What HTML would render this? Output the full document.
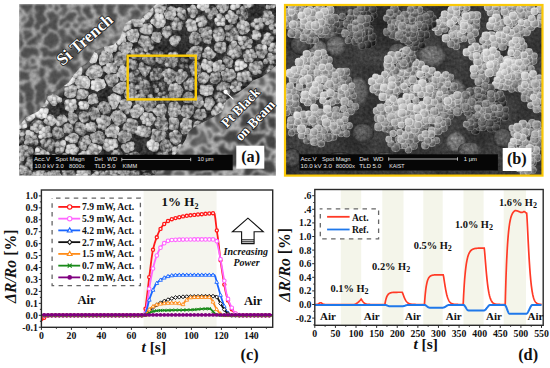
<!DOCTYPE html>
<html><head><meta charset="utf-8"><style>
html,body{margin:0;padding:0;background:#fff;}
body{width:550px;height:368px;overflow:hidden;}
svg{display:block;}
text{font-family:"Liberation Serif",serif;font-weight:bold;fill:#111;}
.tk{font-size:9.8px;}
.lg{font-size:9.6px;}
.big{font-size:13px;}
.hl{font-size:10.4px;}
.sub{font-size:8px;}
.air{font-size:12.6px;}
.aird{font-size:11px;}
.inc{font-size:10px;font-style:italic;font-weight:bold;}
.axl{font-size:15.5px;}
.pl{font-size:16.3px;}
.lab{font-size:16.3px;fill:#111;}
.semlab text{font-size:15px;fill:#fff;stroke:#1a1a1a;stroke-width:1.6px;paint-order:stroke;stroke-linejoin:round;}
.sem text{font-family:"Liberation Sans",sans-serif;font-weight:normal;font-size:5.9px;fill:#e8e8e8;}
</style></head><body>
<svg width="550" height="368" viewBox="0 0 550 368" xmlns="http://www.w3.org/2000/svg">
<defs><filter id="webB" x="0" y="0" width="100%" height="100%" color-interpolation-filters="sRGB">
<feTurbulence type="fractalNoise" baseFrequency="0.075" numOctaves="2" seed="12"/>
<feColorMatrix type="matrix" values="1 0 0 0 0  1 0 0 0 0  1 0 0 0 0  0 0 0 0 1"/>
<feComponentTransfer><feFuncR type="table" tableValues="0.300 0.300 0.300 0.300 0.300 0.300 0.300 0.300 0.300 0.300 0.300 0.300 0.300 0.300 0.300 0.318 0.374 0.466 0.596 0.762 0.800 0.762 0.596 0.466 0.374 0.318 0.300 0.300 0.300 0.300 0.300 0.300 0.300 0.300 0.300 0.300 0.300 0.300 0.300 0.300 0.300"/><feFuncG type="table" tableValues="0.300 0.300 0.300 0.300 0.300 0.300 0.300 0.300 0.300 0.300 0.300 0.300 0.300 0.300 0.300 0.318 0.374 0.466 0.596 0.762 0.800 0.762 0.596 0.466 0.374 0.318 0.300 0.300 0.300 0.300 0.300 0.300 0.300 0.300 0.300 0.300 0.300 0.300 0.300 0.300 0.300"/><feFuncB type="table" tableValues="0.300 0.300 0.300 0.300 0.300 0.300 0.300 0.300 0.300 0.300 0.300 0.300 0.300 0.300 0.300 0.318 0.374 0.466 0.596 0.762 0.800 0.762 0.596 0.466 0.374 0.318 0.300 0.300 0.300 0.300 0.300 0.300 0.300 0.300 0.300 0.300 0.300 0.300 0.300 0.300 0.300"/></feComponentTransfer>
<feGaussianBlur stdDeviation="0.8" result="web"/>
<feTurbulence type="fractalNoise" baseFrequency="0.3" numOctaves="2" seed="13" result="m"/>
<feColorMatrix in="m" type="matrix" values="1 0 0 0 0  1 0 0 0 0  1 0 0 0 0  0 0 0 0 1" result="m2"/>
<feComponentTransfer in="m2" result="m3"><feFuncR type="table" tableValues="0.800 0.900 1.000"/><feFuncG type="table" tableValues="0.800 0.900 1.000"/><feFuncB type="table" tableValues="0.800 0.900 1.000"/></feComponentTransfer>
<feBlend in="web" in2="m3" mode="multiply" result="web2"/>
</filter>
<filter id="webA" x="0" y="0" width="100%" height="100%" color-interpolation-filters="sRGB">
<feTurbulence type="fractalNoise" baseFrequency="0.085" numOctaves="2" seed="4"/>
<feColorMatrix type="matrix" values="1 0 0 0 0  1 0 0 0 0  1 0 0 0 0  0 0 0 0 1"/>
<feComponentTransfer><feFuncR type="table" tableValues="0.350 0.350 0.350 0.350 0.350 0.350 0.350 0.350 0.350 0.350 0.350 0.350 0.350 0.350 0.357 0.387 0.439 0.514 0.612 0.733 0.760 0.733 0.612 0.514 0.439 0.387 0.357 0.350 0.350 0.350 0.350 0.350 0.350 0.350 0.350 0.350 0.350 0.350 0.350 0.350 0.350"/><feFuncG type="table" tableValues="0.350 0.350 0.350 0.350 0.350 0.350 0.350 0.350 0.350 0.350 0.350 0.350 0.350 0.350 0.357 0.387 0.439 0.514 0.612 0.733 0.760 0.733 0.612 0.514 0.439 0.387 0.357 0.350 0.350 0.350 0.350 0.350 0.350 0.350 0.350 0.350 0.350 0.350 0.350 0.350 0.350"/><feFuncB type="table" tableValues="0.350 0.350 0.350 0.350 0.350 0.350 0.350 0.350 0.350 0.350 0.350 0.350 0.350 0.350 0.357 0.387 0.439 0.514 0.612 0.733 0.760 0.733 0.612 0.514 0.439 0.387 0.357 0.350 0.350 0.350 0.350 0.350 0.350 0.350 0.350 0.350 0.350 0.350 0.350 0.350 0.350"/></feComponentTransfer>
<feGaussianBlur stdDeviation="0.9" result="web"/>
<feTurbulence type="fractalNoise" baseFrequency="0.3" numOctaves="2" seed="5" result="m"/>
<feColorMatrix in="m" type="matrix" values="1 0 0 0 0  1 0 0 0 0  1 0 0 0 0  0 0 0 0 1" result="m2"/>
<feComponentTransfer in="m2" result="m3"><feFuncR type="table" tableValues="0.780 0.890 1.000"/><feFuncG type="table" tableValues="0.780 0.890 1.000"/><feFuncB type="table" tableValues="0.780 0.890 1.000"/></feComponentTransfer>
<feBlend in="web" in2="m3" mode="multiply" result="web2"/>
</filter>
<filter id="grainA" x="0" y="0" width="100%" height="100%" color-interpolation-filters="sRGB">
<feTurbulence type="fractalNoise" baseFrequency="0.3" numOctaves="2" seed="17"/>
<feColorMatrix type="matrix" values="1 0 0 0 0  1 0 0 0 0  1 0 0 0 0  0 0 0 0 1"/>
<feComponentTransfer><feFuncR type="table" tableValues="0.100 0.200 0.350 0.500 0.650 0.800 0.900"/><feFuncG type="table" tableValues="0.100 0.200 0.350 0.500 0.650 0.800 0.900"/><feFuncB type="table" tableValues="0.100 0.200 0.350 0.500 0.650 0.800 0.900"/></feComponentTransfer>
</filter>
<filter id="netA" x="0" y="0" width="100%" height="100%" color-interpolation-filters="sRGB">
<feTurbulence type="fractalNoise" baseFrequency="0.065" numOctaves="1" seed="31"/>
<feColorMatrix type="matrix" values="1 0 0 0 0  1 0 0 0 0  1 0 0 0 0  0 0 0 0 1"/>
<feComponentTransfer><feFuncR type="table" tableValues="1.000 1.000 1.000 1.000 1.000 1.000 1.000 1.000 1.000 1.000 1.000 1.000 1.000 1.000 1.000 0.952 0.865 0.753 0.619 0.467 0.300 0.467 0.619 0.753 0.865 0.952 1.000 1.000 1.000 1.000 1.000 1.000 1.000 1.000 1.000 1.000 1.000 1.000 1.000 1.000 1.000"/><feFuncG type="table" tableValues="1.000 1.000 1.000 1.000 1.000 1.000 1.000 1.000 1.000 1.000 1.000 1.000 1.000 1.000 1.000 0.952 0.865 0.753 0.619 0.467 0.300 0.467 0.619 0.753 0.865 0.952 1.000 1.000 1.000 1.000 1.000 1.000 1.000 1.000 1.000 1.000 1.000 1.000 1.000 1.000 1.000"/><feFuncB type="table" tableValues="1.000 1.000 1.000 1.000 1.000 1.000 1.000 1.000 1.000 1.000 1.000 1.000 1.000 1.000 1.000 0.952 0.865 0.753 0.619 0.467 0.300 0.467 0.619 0.753 0.865 0.952 1.000 1.000 1.000 1.000 1.000 1.000 1.000 1.000 1.000 1.000 1.000 1.000 1.000 1.000 1.000"/></feComponentTransfer>
<feGaussianBlur stdDeviation="0.9"/>
</filter>
<filter id="bl1" x="-20%" y="-20%" width="140%" height="140%"><feGaussianBlur stdDeviation="1.5"/></filter>
<filter id="bl3" x="-20%" y="-20%" width="140%" height="140%"><feGaussianBlur stdDeviation="2.5"/></filter>
<filter id="soft" x="-5%" y="-5%" width="110%" height="110%"><feGaussianBlur stdDeviation="0.45"/></filter>
<radialGradient id="cg40" cx="0.5" cy="0.5" r="0.5" fx="0.36" fy="0.32"><stop offset="0" stop-color="rgb(65,65,65)"/><stop offset="0.5" stop-color="rgb(40,40,40)"/><stop offset="1" stop-color="rgb(0,0,0)"/></radialGradient>
<radialGradient id="cg50" cx="0.5" cy="0.5" r="0.5" fx="0.36" fy="0.32"><stop offset="0" stop-color="rgb(75,75,75)"/><stop offset="0.5" stop-color="rgb(50,50,50)"/><stop offset="1" stop-color="rgb(0,0,0)"/></radialGradient>
<radialGradient id="cg60" cx="0.5" cy="0.5" r="0.5" fx="0.36" fy="0.32"><stop offset="0" stop-color="rgb(85,85,85)"/><stop offset="0.5" stop-color="rgb(60,60,60)"/><stop offset="1" stop-color="rgb(0,0,0)"/></radialGradient>
<radialGradient id="cg70" cx="0.5" cy="0.5" r="0.5" fx="0.36" fy="0.32"><stop offset="0" stop-color="rgb(95,95,95)"/><stop offset="0.5" stop-color="rgb(70,70,70)"/><stop offset="1" stop-color="rgb(8,8,8)"/></radialGradient>
<radialGradient id="cg80" cx="0.5" cy="0.5" r="0.5" fx="0.36" fy="0.32"><stop offset="0" stop-color="rgb(105,105,105)"/><stop offset="0.5" stop-color="rgb(80,80,80)"/><stop offset="1" stop-color="rgb(18,18,18)"/></radialGradient>
<radialGradient id="cg90" cx="0.5" cy="0.5" r="0.5" fx="0.36" fy="0.32"><stop offset="0" stop-color="rgb(115,115,115)"/><stop offset="0.5" stop-color="rgb(90,90,90)"/><stop offset="1" stop-color="rgb(28,28,28)"/></radialGradient>
<radialGradient id="cg100" cx="0.5" cy="0.5" r="0.5" fx="0.36" fy="0.32"><stop offset="0" stop-color="rgb(125,125,125)"/><stop offset="0.5" stop-color="rgb(100,100,100)"/><stop offset="1" stop-color="rgb(38,38,38)"/></radialGradient>
<radialGradient id="cg110" cx="0.5" cy="0.5" r="0.5" fx="0.36" fy="0.32"><stop offset="0" stop-color="rgb(135,135,135)"/><stop offset="0.5" stop-color="rgb(110,110,110)"/><stop offset="1" stop-color="rgb(48,48,48)"/></radialGradient>
<radialGradient id="cg120" cx="0.5" cy="0.5" r="0.5" fx="0.36" fy="0.32"><stop offset="0" stop-color="rgb(145,145,145)"/><stop offset="0.5" stop-color="rgb(120,120,120)"/><stop offset="1" stop-color="rgb(58,58,58)"/></radialGradient>
<radialGradient id="cg130" cx="0.5" cy="0.5" r="0.5" fx="0.36" fy="0.32"><stop offset="0" stop-color="rgb(155,155,155)"/><stop offset="0.5" stop-color="rgb(130,130,130)"/><stop offset="1" stop-color="rgb(68,68,68)"/></radialGradient>
<radialGradient id="cg140" cx="0.5" cy="0.5" r="0.5" fx="0.36" fy="0.32"><stop offset="0" stop-color="rgb(165,165,165)"/><stop offset="0.5" stop-color="rgb(140,140,140)"/><stop offset="1" stop-color="rgb(78,78,78)"/></radialGradient>
<radialGradient id="cg150" cx="0.5" cy="0.5" r="0.5" fx="0.36" fy="0.32"><stop offset="0" stop-color="rgb(175,175,175)"/><stop offset="0.5" stop-color="rgb(150,150,150)"/><stop offset="1" stop-color="rgb(88,88,88)"/></radialGradient>
<radialGradient id="cg160" cx="0.5" cy="0.5" r="0.5" fx="0.36" fy="0.32"><stop offset="0" stop-color="rgb(185,185,185)"/><stop offset="0.5" stop-color="rgb(160,160,160)"/><stop offset="1" stop-color="rgb(98,98,98)"/></radialGradient>
<radialGradient id="cg170" cx="0.5" cy="0.5" r="0.5" fx="0.36" fy="0.32"><stop offset="0" stop-color="rgb(195,195,195)"/><stop offset="0.5" stop-color="rgb(170,170,170)"/><stop offset="1" stop-color="rgb(108,108,108)"/></radialGradient>
<radialGradient id="cg180" cx="0.5" cy="0.5" r="0.5" fx="0.36" fy="0.32"><stop offset="0" stop-color="rgb(205,205,205)"/><stop offset="0.5" stop-color="rgb(180,180,180)"/><stop offset="1" stop-color="rgb(118,118,118)"/></radialGradient>
<radialGradient id="cg190" cx="0.5" cy="0.5" r="0.5" fx="0.36" fy="0.32"><stop offset="0" stop-color="rgb(215,215,215)"/><stop offset="0.5" stop-color="rgb(190,190,190)"/><stop offset="1" stop-color="rgb(128,128,128)"/></radialGradient>
<radialGradient id="cg200" cx="0.5" cy="0.5" r="0.5" fx="0.36" fy="0.32"><stop offset="0" stop-color="rgb(225,225,225)"/><stop offset="0.5" stop-color="rgb(200,200,200)"/><stop offset="1" stop-color="rgb(138,138,138)"/></radialGradient>
<radialGradient id="cg210" cx="0.5" cy="0.5" r="0.5" fx="0.36" fy="0.32"><stop offset="0" stop-color="rgb(235,235,235)"/><stop offset="0.5" stop-color="rgb(210,210,210)"/><stop offset="1" stop-color="rgb(148,148,148)"/></radialGradient>
<radialGradient id="cg220" cx="0.5" cy="0.5" r="0.5" fx="0.36" fy="0.32"><stop offset="0" stop-color="rgb(245,245,245)"/><stop offset="0.5" stop-color="rgb(220,220,220)"/><stop offset="1" stop-color="rgb(158,158,158)"/></radialGradient>
<radialGradient id="cg230" cx="0.5" cy="0.5" r="0.5" fx="0.36" fy="0.32"><stop offset="0" stop-color="rgb(255,255,255)"/><stop offset="0.5" stop-color="rgb(230,230,230)"/><stop offset="1" stop-color="rgb(168,168,168)"/></radialGradient>
<radialGradient id="sg40" cx="0.5" cy="0.5" r="0.5" fx="0.36" fy="0.32"><stop offset="0" stop-color="rgb(56,56,56)"/><stop offset="0.5" stop-color="rgb(40,40,40)"/><stop offset="1" stop-color="rgb(10,10,10)"/></radialGradient>
<radialGradient id="sg50" cx="0.5" cy="0.5" r="0.5" fx="0.36" fy="0.32"><stop offset="0" stop-color="rgb(66,66,66)"/><stop offset="0.5" stop-color="rgb(50,50,50)"/><stop offset="1" stop-color="rgb(20,20,20)"/></radialGradient>
<radialGradient id="sg60" cx="0.5" cy="0.5" r="0.5" fx="0.36" fy="0.32"><stop offset="0" stop-color="rgb(76,76,76)"/><stop offset="0.5" stop-color="rgb(60,60,60)"/><stop offset="1" stop-color="rgb(30,30,30)"/></radialGradient>
<radialGradient id="sg70" cx="0.5" cy="0.5" r="0.5" fx="0.36" fy="0.32"><stop offset="0" stop-color="rgb(86,86,86)"/><stop offset="0.5" stop-color="rgb(70,70,70)"/><stop offset="1" stop-color="rgb(40,40,40)"/></radialGradient>
<radialGradient id="sg80" cx="0.5" cy="0.5" r="0.5" fx="0.36" fy="0.32"><stop offset="0" stop-color="rgb(96,96,96)"/><stop offset="0.5" stop-color="rgb(80,80,80)"/><stop offset="1" stop-color="rgb(50,50,50)"/></radialGradient>
<radialGradient id="sg90" cx="0.5" cy="0.5" r="0.5" fx="0.36" fy="0.32"><stop offset="0" stop-color="rgb(106,106,106)"/><stop offset="0.5" stop-color="rgb(90,90,90)"/><stop offset="1" stop-color="rgb(60,60,60)"/></radialGradient>
<radialGradient id="sg100" cx="0.5" cy="0.5" r="0.5" fx="0.36" fy="0.32"><stop offset="0" stop-color="rgb(116,116,116)"/><stop offset="0.5" stop-color="rgb(100,100,100)"/><stop offset="1" stop-color="rgb(70,70,70)"/></radialGradient>
<radialGradient id="sg110" cx="0.5" cy="0.5" r="0.5" fx="0.36" fy="0.32"><stop offset="0" stop-color="rgb(126,126,126)"/><stop offset="0.5" stop-color="rgb(110,110,110)"/><stop offset="1" stop-color="rgb(80,80,80)"/></radialGradient>
<radialGradient id="sg120" cx="0.5" cy="0.5" r="0.5" fx="0.36" fy="0.32"><stop offset="0" stop-color="rgb(136,136,136)"/><stop offset="0.5" stop-color="rgb(120,120,120)"/><stop offset="1" stop-color="rgb(90,90,90)"/></radialGradient>
<radialGradient id="sg130" cx="0.5" cy="0.5" r="0.5" fx="0.36" fy="0.32"><stop offset="0" stop-color="rgb(146,146,146)"/><stop offset="0.5" stop-color="rgb(130,130,130)"/><stop offset="1" stop-color="rgb(100,100,100)"/></radialGradient>
<radialGradient id="sg140" cx="0.5" cy="0.5" r="0.5" fx="0.36" fy="0.32"><stop offset="0" stop-color="rgb(156,156,156)"/><stop offset="0.5" stop-color="rgb(140,140,140)"/><stop offset="1" stop-color="rgb(110,110,110)"/></radialGradient>
<radialGradient id="sg150" cx="0.5" cy="0.5" r="0.5" fx="0.36" fy="0.32"><stop offset="0" stop-color="rgb(166,166,166)"/><stop offset="0.5" stop-color="rgb(150,150,150)"/><stop offset="1" stop-color="rgb(120,120,120)"/></radialGradient>
<radialGradient id="sg160" cx="0.5" cy="0.5" r="0.5" fx="0.36" fy="0.32"><stop offset="0" stop-color="rgb(176,176,176)"/><stop offset="0.5" stop-color="rgb(160,160,160)"/><stop offset="1" stop-color="rgb(130,130,130)"/></radialGradient>
<radialGradient id="sg170" cx="0.5" cy="0.5" r="0.5" fx="0.36" fy="0.32"><stop offset="0" stop-color="rgb(186,186,186)"/><stop offset="0.5" stop-color="rgb(170,170,170)"/><stop offset="1" stop-color="rgb(140,140,140)"/></radialGradient>
<radialGradient id="sg180" cx="0.5" cy="0.5" r="0.5" fx="0.36" fy="0.32"><stop offset="0" stop-color="rgb(196,196,196)"/><stop offset="0.5" stop-color="rgb(180,180,180)"/><stop offset="1" stop-color="rgb(150,150,150)"/></radialGradient>
<radialGradient id="sg190" cx="0.5" cy="0.5" r="0.5" fx="0.36" fy="0.32"><stop offset="0" stop-color="rgb(206,206,206)"/><stop offset="0.5" stop-color="rgb(190,190,190)"/><stop offset="1" stop-color="rgb(160,160,160)"/></radialGradient>
<radialGradient id="sg200" cx="0.5" cy="0.5" r="0.5" fx="0.36" fy="0.32"><stop offset="0" stop-color="rgb(216,216,216)"/><stop offset="0.5" stop-color="rgb(200,200,200)"/><stop offset="1" stop-color="rgb(170,170,170)"/></radialGradient>
<radialGradient id="sg210" cx="0.5" cy="0.5" r="0.5" fx="0.36" fy="0.32"><stop offset="0" stop-color="rgb(226,226,226)"/><stop offset="0.5" stop-color="rgb(210,210,210)"/><stop offset="1" stop-color="rgb(180,180,180)"/></radialGradient>
<radialGradient id="sg220" cx="0.5" cy="0.5" r="0.5" fx="0.36" fy="0.32"><stop offset="0" stop-color="rgb(236,236,236)"/><stop offset="0.5" stop-color="rgb(220,220,220)"/><stop offset="1" stop-color="rgb(190,190,190)"/></radialGradient>
<radialGradient id="sg230" cx="0.5" cy="0.5" r="0.5" fx="0.36" fy="0.32"><stop offset="0" stop-color="rgb(246,246,246)"/><stop offset="0.5" stop-color="rgb(230,230,230)"/><stop offset="1" stop-color="rgb(200,200,200)"/></radialGradient>
<clipPath id="clipA"><rect x="19" y="4" width="257" height="171.5"/></clipPath>
<clipPath id="clipBeam"><polygon points="19,125.6 26.6,117 38,111.4 45.6,101.9 46.6,94.2 57,90.4 68.5,82.8 74.2,74.3 80,67.7 89.5,61.1 95.2,50.6 104.7,46.8 113.3,44.9 120,38.2 125.7,23 132.3,19.2 140.9,19.2 148.5,11.6 156.1,4 276,4 276,65.4 269.7,71.1 262.1,76.8 252.6,80.6 246.9,86.4 239.3,92.1 231.7,96.8 226,100.5 222.2,111.6 212.7,117.3 201.3,123.0 192.8,127.8 188,132.5 185.2,140.1 180.4,147.7 174.7,155.3 170.9,159.1 160,168.5 150,180.0 19,175.5"/></clipPath><linearGradient id="pb30" x1="0" y1="0" x2="1" y2="1"><stop offset="0" stop-color="rgb(70,70,70)"/><stop offset="0.5" stop-color="rgb(30,30,30)"/><stop offset="1" stop-color="rgb(0,0,0)"/></linearGradient>
<linearGradient id="pb40" x1="0" y1="0" x2="1" y2="1"><stop offset="0" stop-color="rgb(80,80,80)"/><stop offset="0.5" stop-color="rgb(40,40,40)"/><stop offset="1" stop-color="rgb(0,0,0)"/></linearGradient>
<linearGradient id="pb50" x1="0" y1="0" x2="1" y2="1"><stop offset="0" stop-color="rgb(90,90,90)"/><stop offset="0.5" stop-color="rgb(50,50,50)"/><stop offset="1" stop-color="rgb(0,0,0)"/></linearGradient>
<linearGradient id="pb60" x1="0" y1="0" x2="1" y2="1"><stop offset="0" stop-color="rgb(100,100,100)"/><stop offset="0.5" stop-color="rgb(60,60,60)"/><stop offset="1" stop-color="rgb(0,0,0)"/></linearGradient>
<linearGradient id="pb70" x1="0" y1="0" x2="1" y2="1"><stop offset="0" stop-color="rgb(110,110,110)"/><stop offset="0.5" stop-color="rgb(70,70,70)"/><stop offset="1" stop-color="rgb(10,10,10)"/></linearGradient>
<linearGradient id="pb80" x1="0" y1="0" x2="1" y2="1"><stop offset="0" stop-color="rgb(120,120,120)"/><stop offset="0.5" stop-color="rgb(80,80,80)"/><stop offset="1" stop-color="rgb(20,20,20)"/></linearGradient>
<linearGradient id="pb90" x1="0" y1="0" x2="1" y2="1"><stop offset="0" stop-color="rgb(130,130,130)"/><stop offset="0.5" stop-color="rgb(90,90,90)"/><stop offset="1" stop-color="rgb(30,30,30)"/></linearGradient>
<linearGradient id="pb100" x1="0" y1="0" x2="1" y2="1"><stop offset="0" stop-color="rgb(140,140,140)"/><stop offset="0.5" stop-color="rgb(100,100,100)"/><stop offset="1" stop-color="rgb(40,40,40)"/></linearGradient>
<linearGradient id="pb110" x1="0" y1="0" x2="1" y2="1"><stop offset="0" stop-color="rgb(150,150,150)"/><stop offset="0.5" stop-color="rgb(110,110,110)"/><stop offset="1" stop-color="rgb(50,50,50)"/></linearGradient>
<linearGradient id="pb120" x1="0" y1="0" x2="1" y2="1"><stop offset="0" stop-color="rgb(160,160,160)"/><stop offset="0.5" stop-color="rgb(120,120,120)"/><stop offset="1" stop-color="rgb(60,60,60)"/></linearGradient>
<linearGradient id="pb130" x1="0" y1="0" x2="1" y2="1"><stop offset="0" stop-color="rgb(170,170,170)"/><stop offset="0.5" stop-color="rgb(130,130,130)"/><stop offset="1" stop-color="rgb(70,70,70)"/></linearGradient>
<linearGradient id="pb140" x1="0" y1="0" x2="1" y2="1"><stop offset="0" stop-color="rgb(180,180,180)"/><stop offset="0.5" stop-color="rgb(140,140,140)"/><stop offset="1" stop-color="rgb(80,80,80)"/></linearGradient>
<linearGradient id="pb150" x1="0" y1="0" x2="1" y2="1"><stop offset="0" stop-color="rgb(190,190,190)"/><stop offset="0.5" stop-color="rgb(150,150,150)"/><stop offset="1" stop-color="rgb(90,90,90)"/></linearGradient>
<linearGradient id="pb160" x1="0" y1="0" x2="1" y2="1"><stop offset="0" stop-color="rgb(200,200,200)"/><stop offset="0.5" stop-color="rgb(160,160,160)"/><stop offset="1" stop-color="rgb(100,100,100)"/></linearGradient>
<linearGradient id="pb170" x1="0" y1="0" x2="1" y2="1"><stop offset="0" stop-color="rgb(210,210,210)"/><stop offset="0.5" stop-color="rgb(170,170,170)"/><stop offset="1" stop-color="rgb(110,110,110)"/></linearGradient>
<linearGradient id="pb180" x1="0" y1="0" x2="1" y2="1"><stop offset="0" stop-color="rgb(220,220,220)"/><stop offset="0.5" stop-color="rgb(180,180,180)"/><stop offset="1" stop-color="rgb(120,120,120)"/></linearGradient>
<linearGradient id="pb190" x1="0" y1="0" x2="1" y2="1"><stop offset="0" stop-color="rgb(230,230,230)"/><stop offset="0.5" stop-color="rgb(190,190,190)"/><stop offset="1" stop-color="rgb(130,130,130)"/></linearGradient>
<linearGradient id="pb200" x1="0" y1="0" x2="1" y2="1"><stop offset="0" stop-color="rgb(240,240,240)"/><stop offset="0.5" stop-color="rgb(200,200,200)"/><stop offset="1" stop-color="rgb(140,140,140)"/></linearGradient>
<linearGradient id="pb210" x1="0" y1="0" x2="1" y2="1"><stop offset="0" stop-color="rgb(250,250,250)"/><stop offset="0.5" stop-color="rgb(210,210,210)"/><stop offset="1" stop-color="rgb(150,150,150)"/></linearGradient>
<linearGradient id="pb220" x1="0" y1="0" x2="1" y2="1"><stop offset="0" stop-color="rgb(255,255,255)"/><stop offset="0.5" stop-color="rgb(220,220,220)"/><stop offset="1" stop-color="rgb(160,160,160)"/></linearGradient>
<linearGradient id="pb230" x1="0" y1="0" x2="1" y2="1"><stop offset="0" stop-color="rgb(255,255,255)"/><stop offset="0.5" stop-color="rgb(230,230,230)"/><stop offset="1" stop-color="rgb(170,170,170)"/></linearGradient>
<linearGradient id="pb240" x1="0" y1="0" x2="1" y2="1"><stop offset="0" stop-color="rgb(255,255,255)"/><stop offset="0.5" stop-color="rgb(240,240,240)"/><stop offset="1" stop-color="rgb(180,180,180)"/></linearGradient>
<radialGradient id="sb30" cx="0.5" cy="0.5" r="0.5" fx="0.4" fy="0.35"><stop offset="0" stop-color="rgb(52,52,52)"/><stop offset="0.75" stop-color="rgb(30,30,30)"/><stop offset="1" stop-color="rgb(0,0,0)"/></radialGradient>
<radialGradient id="sb40" cx="0.5" cy="0.5" r="0.5" fx="0.4" fy="0.35"><stop offset="0" stop-color="rgb(62,62,62)"/><stop offset="0.75" stop-color="rgb(40,40,40)"/><stop offset="1" stop-color="rgb(0,0,0)"/></radialGradient>
<radialGradient id="sb50" cx="0.5" cy="0.5" r="0.5" fx="0.4" fy="0.35"><stop offset="0" stop-color="rgb(72,72,72)"/><stop offset="0.75" stop-color="rgb(50,50,50)"/><stop offset="1" stop-color="rgb(10,10,10)"/></radialGradient>
<radialGradient id="sb60" cx="0.5" cy="0.5" r="0.5" fx="0.4" fy="0.35"><stop offset="0" stop-color="rgb(82,82,82)"/><stop offset="0.75" stop-color="rgb(60,60,60)"/><stop offset="1" stop-color="rgb(20,20,20)"/></radialGradient>
<radialGradient id="sb70" cx="0.5" cy="0.5" r="0.5" fx="0.4" fy="0.35"><stop offset="0" stop-color="rgb(92,92,92)"/><stop offset="0.75" stop-color="rgb(70,70,70)"/><stop offset="1" stop-color="rgb(30,30,30)"/></radialGradient>
<radialGradient id="sb80" cx="0.5" cy="0.5" r="0.5" fx="0.4" fy="0.35"><stop offset="0" stop-color="rgb(102,102,102)"/><stop offset="0.75" stop-color="rgb(80,80,80)"/><stop offset="1" stop-color="rgb(40,40,40)"/></radialGradient>
<radialGradient id="sb90" cx="0.5" cy="0.5" r="0.5" fx="0.4" fy="0.35"><stop offset="0" stop-color="rgb(112,112,112)"/><stop offset="0.75" stop-color="rgb(90,90,90)"/><stop offset="1" stop-color="rgb(50,50,50)"/></radialGradient>
<radialGradient id="sb100" cx="0.5" cy="0.5" r="0.5" fx="0.4" fy="0.35"><stop offset="0" stop-color="rgb(122,122,122)"/><stop offset="0.75" stop-color="rgb(100,100,100)"/><stop offset="1" stop-color="rgb(60,60,60)"/></radialGradient>
<radialGradient id="sb110" cx="0.5" cy="0.5" r="0.5" fx="0.4" fy="0.35"><stop offset="0" stop-color="rgb(132,132,132)"/><stop offset="0.75" stop-color="rgb(110,110,110)"/><stop offset="1" stop-color="rgb(70,70,70)"/></radialGradient>
<radialGradient id="sb120" cx="0.5" cy="0.5" r="0.5" fx="0.4" fy="0.35"><stop offset="0" stop-color="rgb(142,142,142)"/><stop offset="0.75" stop-color="rgb(120,120,120)"/><stop offset="1" stop-color="rgb(80,80,80)"/></radialGradient>
<radialGradient id="sb130" cx="0.5" cy="0.5" r="0.5" fx="0.4" fy="0.35"><stop offset="0" stop-color="rgb(152,152,152)"/><stop offset="0.75" stop-color="rgb(130,130,130)"/><stop offset="1" stop-color="rgb(90,90,90)"/></radialGradient>
<radialGradient id="sb140" cx="0.5" cy="0.5" r="0.5" fx="0.4" fy="0.35"><stop offset="0" stop-color="rgb(162,162,162)"/><stop offset="0.75" stop-color="rgb(140,140,140)"/><stop offset="1" stop-color="rgb(100,100,100)"/></radialGradient>
<radialGradient id="sb150" cx="0.5" cy="0.5" r="0.5" fx="0.4" fy="0.35"><stop offset="0" stop-color="rgb(172,172,172)"/><stop offset="0.75" stop-color="rgb(150,150,150)"/><stop offset="1" stop-color="rgb(110,110,110)"/></radialGradient>
<radialGradient id="sb160" cx="0.5" cy="0.5" r="0.5" fx="0.4" fy="0.35"><stop offset="0" stop-color="rgb(182,182,182)"/><stop offset="0.75" stop-color="rgb(160,160,160)"/><stop offset="1" stop-color="rgb(120,120,120)"/></radialGradient>
<radialGradient id="sb170" cx="0.5" cy="0.5" r="0.5" fx="0.4" fy="0.35"><stop offset="0" stop-color="rgb(192,192,192)"/><stop offset="0.75" stop-color="rgb(170,170,170)"/><stop offset="1" stop-color="rgb(130,130,130)"/></radialGradient>
<radialGradient id="sb180" cx="0.5" cy="0.5" r="0.5" fx="0.4" fy="0.35"><stop offset="0" stop-color="rgb(202,202,202)"/><stop offset="0.75" stop-color="rgb(180,180,180)"/><stop offset="1" stop-color="rgb(140,140,140)"/></radialGradient>
<radialGradient id="sb190" cx="0.5" cy="0.5" r="0.5" fx="0.4" fy="0.35"><stop offset="0" stop-color="rgb(212,212,212)"/><stop offset="0.75" stop-color="rgb(190,190,190)"/><stop offset="1" stop-color="rgb(150,150,150)"/></radialGradient>
<radialGradient id="sb200" cx="0.5" cy="0.5" r="0.5" fx="0.4" fy="0.35"><stop offset="0" stop-color="rgb(222,222,222)"/><stop offset="0.75" stop-color="rgb(200,200,200)"/><stop offset="1" stop-color="rgb(160,160,160)"/></radialGradient>
<radialGradient id="sb210" cx="0.5" cy="0.5" r="0.5" fx="0.4" fy="0.35"><stop offset="0" stop-color="rgb(232,232,232)"/><stop offset="0.75" stop-color="rgb(210,210,210)"/><stop offset="1" stop-color="rgb(170,170,170)"/></radialGradient>
<radialGradient id="sb220" cx="0.5" cy="0.5" r="0.5" fx="0.4" fy="0.35"><stop offset="0" stop-color="rgb(242,242,242)"/><stop offset="0.75" stop-color="rgb(220,220,220)"/><stop offset="1" stop-color="rgb(180,180,180)"/></radialGradient>
<radialGradient id="sb230" cx="0.5" cy="0.5" r="0.5" fx="0.4" fy="0.35"><stop offset="0" stop-color="rgb(252,252,252)"/><stop offset="0.75" stop-color="rgb(230,230,230)"/><stop offset="1" stop-color="rgb(190,190,190)"/></radialGradient>
<radialGradient id="sb240" cx="0.5" cy="0.5" r="0.5" fx="0.4" fy="0.35"><stop offset="0" stop-color="rgb(255,255,255)"/><stop offset="0.75" stop-color="rgb(240,240,240)"/><stop offset="1" stop-color="rgb(200,200,200)"/></radialGradient>
<filter id="grainB" x="0" y="0" width="100%" height="100%" color-interpolation-filters="sRGB">
<feTurbulence type="fractalNoise" baseFrequency="0.35" numOctaves="2" seed="23"/>
<feColorMatrix type="matrix" values="1 0 0 0 0  1 0 0 0 0  1 0 0 0 0  0 0 0 0 1"/>
<feComponentTransfer><feFuncR type="table" tableValues="0.200 0.300 0.420 0.500 0.580 0.700 0.800"/><feFuncG type="table" tableValues="0.200 0.300 0.420 0.500 0.580 0.700 0.800"/><feFuncB type="table" tableValues="0.200 0.300 0.420 0.500 0.580 0.700 0.800"/></feComponentTransfer>
</filter>
<filter id="bgB" x="0" y="0" width="100%" height="100%" color-interpolation-filters="sRGB">
<feTurbulence type="fractalNoise" baseFrequency="0.03" numOctaves="2" seed="5"/>
<feColorMatrix type="matrix" values="1 0 0 0 0  1 0 0 0 0  1 0 0 0 0  0 0 0 0 1"/>
<feComponentTransfer><feFuncR type="table" tableValues="0.120 0.160 0.200 0.240 0.280 0.320"/><feFuncG type="table" tableValues="0.120 0.160 0.200 0.240 0.280 0.320"/><feFuncB type="table" tableValues="0.120 0.160 0.200 0.240 0.280 0.320"/></feComponentTransfer>
</filter>
<filter id="blurS" x="-30%" y="-30%" width="160%" height="160%"><feGaussianBlur stdDeviation="0.6"/></filter>
<filter id="softB" x="-5%" y="-5%" width="110%" height="110%"><feGaussianBlur stdDeviation="0.35"/></filter>
<clipPath id="clipB"><rect x="285" y="5" width="257.5" height="170.5"/></clipPath></defs>
<rect width="550" height="368" fill="#fff"/>
<g clip-path="url(#clipA)">
<rect x="19" y="4" width="257" height="171.5" filter="url(#webA)"/>
<clipPath id="clipLR"><polygon points="276,65.4 269.7,71.1 262.1,76.8 252.6,80.6 246.9,86.4 239.3,92.1 231.7,96.8 226,100.5 222.2,111.6 212.7,117.3 201.3,123.0 192.8,127.8 188,132.5 185.2,140.1 180.4,147.7 174.7,155.3 170.9,159.1 160,168.5 150,180.0 276,176"/></clipPath>
<rect x="19" y="4" width="257" height="171.5" filter="url(#webB)" clip-path="url(#clipLR)"/>
<path d="M276,79 L252,93 L234,107 L220,124 L206,134 L194,150 L184,166 L176,178" fill="none" stroke="#fff" stroke-width="10" stroke-opacity="0.2" filter="url(#bl3)"/>
<g clip-path="url(#clipBeam)">
<rect x="19" y="4" width="257" height="171.5" fill="#353535"/>
<g filter="url(#soft)">
<path fill="url(#cg110)" d="M180.0,57.7L178.4,66.8L179.9,68.5L186.8,69.7L188.8,67.7L190.1,60.5L185.4,56.2L182.0,56.0ZM151.2,88.0L153.1,91.5L157.0,92.4L163.8,89.7L165.3,87.5L165.4,85.2L164.4,83.1L162.1,81.6L155.1,82.3L152.1,84.2Z"/>
<path fill="url(#cg120)" d="M152.7,54.9L149.8,52.2L146.0,53.0L142.8,58.5L143.7,62.1L149.2,65.2L151.3,65.3L153.2,64.4L154.6,61.0ZM153.5,68.6L149.5,76.4L150.0,78.5L153.0,80.8L159.4,79.7L161.7,76.6L160.9,70.0L159.6,68.3L157.7,67.4ZM159.4,92.9L157.3,94.2L156.0,96.5L156.0,99.1L157.2,101.3L159.4,102.7L164.1,103.5L167.9,102.1L169.1,100.4L169.5,97.8L167.5,93.2L164.2,91.7ZM148.3,80.7L146.2,79.4L143.3,79.3L137.1,83.2L135.9,87.2L138.0,91.5L140.0,92.6L144.9,93.5L148.9,92.0L150.2,89.4L150.0,84.3Z"/>
<path fill="url(#cg130)" d="M160.1,50.3L156.2,50.6L154.6,52.2L153.9,54.3L156.2,61.5L157.7,63.1L159.9,63.7L163.5,62.1L166.1,55.8L164.7,52.6ZM136.9,61.1L130.3,58.7L128.6,59.5L126.2,64.4L127.1,67.1L130.7,69.6L136.0,68.1L138.0,64.2Z"/>
<path fill="url(#cg140)" d="M137.4,168.7L134.1,167.6L131.3,169.7L127.6,180.6L127.9,182.8L129.7,184.5L135.4,184.9L138.0,183.0L140.7,173.4L139.9,171.4ZM214.1,94.1L213.9,96.6L216.0,101.2L217.3,102.4L224.9,102.4L227.2,100.7L227.6,97.3L225.9,95.2L217.7,91.6L215.6,92.0ZM129.1,79.4L129.3,81.4L130.4,82.7L134.4,83.6L140.6,79.8L141.6,76.7L138.0,70.9L134.9,70.0L130.8,72.1ZM160.8,142.3L159.6,144.7L160.1,148.2L161.1,149.6L168.1,151.8L170.7,150.7L172.4,146.0L168.4,139.5L165.3,138.9Z"/>
<path fill="url(#cg150)" d="M265.1,58.6L264.7,62.0L267.4,64.2L278.6,63.9L280.4,62.9L281.4,60.8L281.2,58.0L279.9,56.1L270.9,53.7L268.2,54.4ZM154.8,124.0L154.9,126.7L156.9,128.5L164.9,131.0L166.8,130.5L168.3,128.6L167.1,119.4L164.8,117.0L157.6,118.2L156.3,119.6ZM83.3,110.9L80.7,111.5L79.1,113.0L78.4,115.1L78.7,118.3L80.5,121.4L84.7,122.5L88.4,120.3L89.3,116.9L87.2,112.1ZM135.5,97.0L134.8,99.2L135.3,101.6L138.5,104.3L141.1,104.7L143.4,104.0L146.2,99.7L145.7,96.1L142.8,93.8L138.4,93.8ZM103.7,101.0L101.2,101.5L99.2,103.2L98.2,107.5L102.0,113.3L104.2,114.4L107.3,114.3L110.5,111.8L111.1,107.8L107.8,102.4ZM120.8,53.0L118.1,52.6L115.6,53.8L114.3,55.7L113.8,58.9L114.4,61.1L117.4,64.9L120.9,66.3L124.8,64.3L126.9,58.7L125.2,55.3ZM49.6,171.6L47.9,172.7L47.3,174.3L47.3,179.7L48.4,181.5L50.0,182.2L58.8,182.5L61.1,181.5L61.9,179.0L59.5,170.7L57.0,169.9ZM173.5,117.6L170.1,119.0L169.0,122.2L170.2,127.6L172.0,129.2L174.0,129.6L177.8,127.9L179.5,121.8L177.8,118.5ZM29.2,167.9L31.4,169.1L33.8,169.2L36.9,167.6L38.3,165.7L38.1,161.5L33.8,156.8L29.9,156.8L27.3,158.2L25.8,160.2L25.9,164.1ZM140.2,47.4L136.6,46.4L133.4,48.2L131.2,53.6L131.6,55.9L133.2,57.7L138.2,59.4L141.8,57.3L143.5,53.9L143.6,51.6L142.6,49.5ZM189.4,77.4L183.8,83.9L183.8,86.1L184.8,88.1L186.6,89.4L193.9,90.1L195.9,89.1L197.3,87.3L197.6,84.7L195.8,79.9L193.4,77.4ZM118.0,136.4L117.9,138.8L118.8,140.9L120.4,142.3L122.5,142.7L130.2,140.2L132.0,136.7L130.5,133.4L123.6,129.9L120.2,131.3ZM269.3,65.7L265.8,67.4L264.7,71.4L266.8,75.1L270.2,76.2L272.3,75.5L274.6,73.5L275.8,70.2L275.2,68.0L273.7,66.4ZM46.5,174.1L45.7,171.3L43.3,168.8L41.0,167.7L39.0,167.7L32.5,171.5L30.9,177.6L32.3,180.1L34.3,181.4L42.8,181.7L45.9,179.3ZM123.8,124.6L123.1,126.8L124.2,128.8L133.1,133.3L135.5,131.7L138.5,123.4L136.9,120.4L130.6,117.9L128.7,118.8ZM150.6,168.2L151.5,171.2L154.5,172.5L161.0,171.3L162.5,169.8L163.0,168.0L161.3,164.8L154.6,161.5L151.5,163.4ZM173.7,131.4L171.7,132.1L169.9,133.8L169.3,137.8L172.7,143.3L175.0,144.5L177.5,144.5L180.7,141.9L182.1,137.6L182.0,135.2L178.9,131.6ZM64.5,124.8L62.8,128.3L65.0,132.7L68.5,133.5L72.5,131.0L73.3,127.2L71.7,124.5L68.0,123.1ZM172.4,67.6L174.7,67.3L176.5,65.7L178.6,57.3L177.8,54.3L173.8,51.7L168.4,54.0L164.7,62.5L165.1,64.7L166.6,66.3ZM89.8,108.7L88.7,112.5L91.0,117.9L95.1,119.3L98.7,117.4L100.1,113.3L97.2,108.2L93.1,106.8ZM113.3,150.9L111.4,152.7L110.7,155.3L113.3,161.6L116.9,163.5L120.9,162.1L122.8,159.6L123.4,155.5L121.7,151.4L120.1,149.9L118.0,149.3ZM107.3,169.2L105.8,172.0L109.0,182.7L111.3,183.9L116.9,184.1L118.6,183.5L119.7,180.6L116.2,167.2L114.8,166.1L113.0,166.0ZM153.7,96.9L150.9,95.3L148.2,97.1L144.5,105.7L145.8,109.3L147.2,110.4L150.5,111.2L152.2,110.8L156.4,104.2L156.5,102.1ZM149.1,66.8L142.0,63.6L140.0,64.5L138.3,68.6L142.4,75.4L145.4,76.5L148.2,74.8L150.4,69.3Z"/>
<path fill="url(#cg160)" d="M182.8,96.5L182.3,99.0L183.2,101.4L185.3,102.9L188.3,103.2L191.7,101.5L193.6,96.1L191.8,92.6L188.1,91.6L184.9,92.9ZM65.6,168.3L62.9,170.0L61.8,172.5L63.3,180.0L66.7,182.6L71.1,182.8L73.6,182.0L75.4,180.1L76.1,178.1L74.9,169.6L73.5,168.0L71.0,167.1ZM172.3,19.9L170.5,21.5L170.0,24.2L174.1,30.0L177.9,30.3L182.8,26.5L183.2,23.3L181.3,20.7L176.3,18.7ZM228.0,40.8L230.5,41.7L234.8,41.0L238.4,36.6L238.4,34.3L235.8,27.6L233.5,25.4L228.0,25.1L225.0,28.0L226.5,38.5ZM139.6,154.8L138.5,152.5L136.2,151.4L126.8,153.8L124.6,156.1L124.4,160.8L125.7,162.6L131.1,165.6L134.3,165.6L135.8,164.5L139.4,159.2ZM156.5,129.1L154.3,129.1L152.8,130.2L151.1,136.7L152.3,138.6L156.9,141.4L159.4,141.8L165.9,137.1L166.6,134.1L164.7,131.9ZM194.3,45.8L190.8,47.6L187.7,52.5L187.6,55.2L188.6,56.8L191.8,59.1L198.4,58.7L201.0,56.3L201.8,48.5L199.3,46.1ZM202.5,28.5L201.0,29.7L200.4,31.9L203.6,41.9L205.4,43.6L208.5,43.5L211.8,40.0L211.6,28.5L210.4,27.0L208.6,26.4ZM238.4,9.3L237.1,10.7L236.6,13.1L239.0,18.5L241.9,19.9L245.1,19.7L246.9,18.7L248.1,15.8L247.8,11.4L246.7,9.3L242.6,7.2ZM271.8,24.1L269.6,27.7L270.7,31.8L274.8,34.7L277.5,34.6L279.4,33.6L281.4,29.9L281.3,26.7L280.2,24.3L278.5,22.9L275.9,22.4ZM74.4,129.3L75.3,131.9L80.5,135.5L84.2,135.1L86.2,132.8L85.0,125.1L82.6,123.0L79.1,122.4L76.1,124.0L74.7,125.7ZM199.9,35.1L198.6,33.1L196.6,32.0L194.2,32.0L191.5,33.1L189.0,38.4L189.4,40.7L190.9,43.0L194.0,44.6L197.3,44.6L199.5,43.6L201.2,40.4ZM148.2,36.4L141.7,36.1L140.0,37.6L138.3,41.7L138.8,44.4L145.5,50.1L151.1,49.6L152.9,48.0L153.4,45.7L150.4,38.2ZM199.3,108.8L196.8,109.6L195.1,111.5L194.8,116.0L198.1,119.2L202.8,119.2L205.9,116.3L206.2,112.3L203.6,109.2ZM216.7,72.5L212.8,72.6L210.0,75.9L210.3,81.1L213.6,83.9L217.4,83.4L219.9,81.2L220.8,79.3L220.0,74.8ZM107.3,74.4L105.1,75.7L104.4,78.1L108.5,86.2L111.6,86.3L118.3,81.1L118.6,78.3L115.8,74.2ZM31.6,122.4L30.1,124.4L30.1,127.3L31.6,129.4L35.2,131.3L38.9,130.5L43.4,125.2L43.4,123.2L42.4,121.3L38.1,119.5L35.1,119.8ZM44.0,162.6L43.0,164.6L43.3,166.8L47.3,170.5L55.4,169.1L57.9,166.5L56.5,157.9L53.9,155.4L50.6,155.9ZM174.2,147.4L171.5,153.3L172.3,155.1L175.8,157.7L178.0,158.2L179.9,157.1L183.8,152.0L184.4,149.5L181.8,146.1L179.5,145.5ZM30.6,173.4L29.9,169.9L21.2,161.6L17.0,160.6L14.2,162.3L13.6,164.4L13.6,176.2L16.0,180.0L18.7,180.9L27.2,180.7L29.0,178.8ZM50.6,138.0L42.1,140.7L41.0,142.5L41.5,146.2L48.1,151.5L50.2,151.8L52.2,151.0L54.0,148.2L54.8,142.1L53.9,139.7ZM190.1,69.1L190.2,71.7L191.8,73.8L194.3,74.6L197.2,73.7L199.8,71.4L200.8,69.5L199.2,62.1L196.2,60.5L193.0,61.4L191.5,63.4ZM181.4,70.3L178.2,70.9L176.2,73.9L175.7,80.6L177.2,82.6L179.2,83.4L182.7,82.3L186.9,77.7L187.7,75.8L187.4,73.7L186.2,72.0ZM140.1,180.2L140.2,182.8L141.9,184.7L149.1,184.9L151.1,182.3L150.9,174.5L148.3,172.5L143.5,173.1L141.9,174.7ZM169.1,68.2L164.8,69.4L163.0,73.5L164.4,80.3L167.0,82.5L169.5,83.0L172.0,82.3L173.8,80.4L175.1,73.4L173.4,69.8ZM167.6,110.1L168.2,113.1L170.2,115.2L174.9,116.0L177.3,115.5L180.2,112.2L179.7,104.9L176.7,102.2L171.6,102.0L168.6,104.7ZM67.6,118.9L69.8,122.2L72.4,123.2L74.7,123.0L77.6,120.1L77.6,115.7L74.7,112.7L70.6,112.7L67.9,115.1ZM170.1,43.8L173.1,46.3L175.4,46.4L177.4,45.4L179.8,40.5L178.1,36.4L174.8,34.9L171.5,36.2L169.1,39.8Z"/>
<path fill="url(#cg170)" d="M181.6,107.5L182.4,115.8L183.8,117.0L190.5,117.1L192.0,115.2L193.6,109.7L193.3,107.6L190.5,105.1L183.2,105.2ZM233.4,71.1L230.5,69.6L227.0,69.3L224.8,70.1L221.6,74.0L222.4,78.8L224.0,80.3L227.6,81.4L230.9,80.7L234.0,78.3L235.2,76.4L235.1,73.7ZM31.3,131.1L29.3,130.7L27.3,132.0L24.5,141.8L26.4,143.8L34.6,145.6L37.6,143.5L38.4,139.9L36.1,134.2ZM124.1,94.1L124.2,96.4L125.5,97.9L130.6,100.0L133.3,99.2L137.1,92.5L134.1,85.3L130.5,83.9L128.0,84.6ZM122.1,43.6L119.5,46.9L119.4,49.0L120.4,51.4L124.8,54.1L129.2,53.2L132.0,48.6L132.1,46.6L131.0,44.1L129.0,42.5L126.6,41.9ZM129.8,111.0L132.3,103.3L131.1,101.3L124.0,98.8L121.7,100.3L118.9,105.5L118.7,107.5L120.4,110.0L127.3,112.6ZM226.7,50.6L226.6,53.1L227.7,54.9L234.0,58.3L235.9,58.4L239.5,57.1L241.7,54.5L241.6,49.9L236.7,43.4L234.7,42.3L231.6,42.4L229.4,43.7ZM144.7,161.0L140.5,161.2L138.8,162.8L138.0,165.0L139.0,168.6L141.0,170.6L143.2,171.4L147.4,170.4L149.3,167.1L148.3,163.1ZM270.0,45.1L268.4,48.2L270.0,51.9L277.6,54.0L280.7,52.4L281.4,44.0L279.7,41.3L276.3,41.0ZM266.6,9.9L263.4,11.0L261.3,16.6L265.4,23.5L268.3,24.7L272.9,21.9L273.7,19.1L271.6,11.8ZM211.5,48.7L208.0,47.0L204.5,48.8L203.1,54.1L204.8,57.5L210.8,59.5L214.3,57.8L215.2,55.9L215.1,53.7ZM173.4,100.3L178.2,100.3L179.6,99.1L183.6,90.2L180.6,85.3L174.3,83.3L169.4,85.5L167.9,90.0L171.6,99.1ZM208.5,76.2L206.7,72.9L202.7,72.1L198.2,75.1L197.3,78.5L199.4,82.9L203.1,83.8L207.7,81.7L208.5,79.9ZM193.4,125.4L194.7,129.2L198.1,130.6L202.1,128.7L203.4,125.3L201.5,121.7L197.8,120.8L194.8,122.1ZM215.8,40.2L223.8,39.2L225.0,37.3L223.7,29.6L221.4,27.9L215.0,27.7L213.2,30.4L213.6,38.5ZM119.7,174.4L121.1,176.6L123.0,177.6L125.1,177.6L127.0,176.5L130.0,169.4L128.8,165.8L123.9,163.2L119.6,164.7L118.3,168.1ZM212.9,18.5L217.5,11.9L217.1,10.1L214.6,6.8L212.6,6.0L210.3,6.8L206.1,10.7L205.3,12.6L205.7,14.4L208.4,18.2L210.6,19.3ZM260.4,29.3L263.1,28.6L264.5,25.8L261.0,19.3L258.1,18.2L251.7,20.6L250.7,23.6L252.2,27.4ZM250.9,63.5L248.8,65.3L248.3,68.1L252.4,74.0L255.9,75.0L261.9,72.1L263.3,66.0L261.6,62.4L257.8,61.1ZM110.9,62.6L104.0,67.0L103.6,69.1L104.5,71.6L106.4,73.1L114.9,72.4L116.4,71.3L117.5,69.0L117.0,65.9L113.3,62.4ZM163.2,35.8L164.8,37.5L167.2,37.9L172.1,33.7L172.2,30.4L168.9,26.2L165.8,26.0L161.9,29.1L161.5,31.7ZM152.5,33.7L151.4,37.5L153.5,41.2L157.2,42.2L160.8,40.1L161.8,36.4L159.7,32.6L156.0,31.6ZM58.9,163.7L61.0,166.8L65.1,167.4L71.4,165.2L73.0,162.8L73.1,160.3L70.9,157.2L65.7,154.6L63.0,154.4L60.3,155.5L58.5,157.7ZM227.3,56.3L223.9,56.5L222.7,58.0L222.6,60.0L225.9,66.9L229.8,68.0L232.3,66.1L233.3,60.6L232.1,58.8ZM77.0,93.0L77.8,97.2L81.1,99.3L85.6,98.4L87.9,95.2L87.3,91.4L84.1,89.2L79.6,89.7ZM177.2,14.6L178.1,17.5L182.5,19.7L185.1,19.5L186.7,17.6L185.7,10.5L183.4,8.3L180.8,7.8L178.9,8.8ZM155.7,156.8L157.0,160.5L162.0,162.7L165.2,161.1L167.4,158.0L167.7,155.7L165.9,152.7L160.3,151.2L156.8,153.2ZM239.9,72.2L238.0,74.0L237.4,77.0L238.3,79.0L241.2,81.7L244.7,82.5L248.9,81.2L250.9,79.6L251.7,77.5L251.4,75.4L247.9,71.0L244.6,70.2ZM194.0,105.9L197.0,107.2L200.8,106.8L202.6,105.4L203.0,98.4L200.4,95.5L197.9,95.0L195.7,96.5L193.2,103.0ZM16.5,130.0L14.5,130.8L13.5,132.3L13.3,142.4L14.3,144.7L16.6,145.6L22.1,143.0L25.2,133.2L24.7,131.4L23.2,130.2Z"/>
<path fill="url(#cg180)" d="M64.9,93.9L65.4,96.3L67.5,98.1L73.7,97.8L75.4,96.0L77.0,90.4L76.5,87.1L75.1,85.5L72.9,84.7L67.2,86.9L65.4,89.2ZM61.8,129.3L60.3,127.4L58.1,126.4L55.6,126.6L53.5,127.9L52.1,130.4L52.0,134.2L53.5,137.8L57.2,139.3L62.0,137.5L63.4,133.8ZM245.9,60.4L247.8,61.7L250.1,61.9L253.7,60.6L255.2,59.0L255.8,55.6L254.3,51.4L252.7,49.8L249.3,49.2L245.1,50.6L243.4,52.2L242.9,56.5ZM145.7,23.6L140.6,28.9L140.6,31.3L141.5,33.1L143.6,34.3L149.6,34.5L153.3,29.7L152.6,26.6L150.8,24.1L148.7,23.0ZM75.0,161.4L75.8,163.4L77.9,165.0L85.6,164.9L88.4,162.7L89.7,159.4L89.7,157.3L88.6,155.5L85.1,152.4L81.3,152.0L79.5,153.0L75.5,157.5ZM98.8,130.4L91.8,134.1L90.8,136.5L91.0,139.0L92.4,141.2L98.6,143.7L102.7,142.2L105.0,137.0L103.1,132.2ZM88.1,68.5L86.9,70.7L87.0,73.5L89.5,77.0L91.6,78.5L94.2,78.8L99.5,77.3L102.4,74.6L102.8,72.1L101.7,68.2L98.0,64.8L95.6,64.6L91.6,65.5ZM224.0,67.4L220.9,61.2L218.9,60.3L215.1,61.4L213.9,63.2L213.2,66.8L214.3,70.1L218.5,72.2L222.2,71.2ZM137.1,130.9L136.9,133.2L138.4,135.5L146.3,137.8L149.6,136.0L151.1,130.8L149.3,127.5L142.1,125.3L138.9,126.8ZM207.7,20.3L203.6,14.9L200.9,14.4L198.7,15.2L196.8,17.2L196.5,21.1L199.7,25.8L203.5,26.4L207.1,23.9ZM212.1,109.4L211.4,111.9L212.5,113.9L219.6,118.1L221.5,118.4L226.9,114.8L229.5,106.6L228.5,104.5L226.8,103.5L217.6,103.8L215.7,104.8ZM105.3,51.9L102.7,52.3L99.7,55.3L98.7,62.2L99.8,64.0L101.6,65.1L103.8,64.9L111.1,61.1L112.8,58.9L113.0,56.0L111.9,53.8ZM107.0,180.6L103.8,171.1L101.7,170.3L93.3,172.9L90.0,179.5L90.4,182.2L92.7,183.7L105.5,183.6ZM239.4,81.6L235.5,80.3L233.0,81.1L231.5,82.5L230.5,85.0L230.7,87.6L233.0,91.1L236.8,91.9L240.4,89.8L241.5,85.1ZM19.8,159.9L22.1,159.7L32.0,154.4L33.5,150.2L32.2,147.3L22.6,144.6L14.7,148.1L13.6,150.5L13.8,156.8L15.6,158.8ZM118.5,110.7L116.1,110.2L113.3,111.2L111.3,114.0L110.9,116.5L113.0,121.8L117.5,124.5L120.0,124.9L123.4,123.1L125.9,120.0L126.5,117.2L124.8,113.8ZM100.6,145.8L91.8,142.8L90.1,143.8L86.4,150.1L87.2,152.9L92.1,156.4L97.4,155.5L102.0,150.1ZM55.1,118.7L53.4,115.6L51.2,114.3L49.0,114.3L47.2,115.5L44.9,118.8L44.6,121.7L46.9,125.1L52.2,126.3L54.9,124.0ZM217.8,84.8L216.7,87.6L218.2,89.9L225.8,93.2L227.6,92.9L228.9,91.6L228.9,84.9L227.5,82.9L222.1,81.6ZM54.8,150.3L55.4,152.8L57.3,154.1L63.1,152.7L66.1,144.1L65.1,140.8L62.4,139.6L57.0,141.1L55.9,142.9ZM117.7,71.1L117.7,74.4L120.9,80.0L124.7,81.1L127.7,79.5L129.4,72.4L128.5,70.1L126.1,67.9L123.8,66.8L121.0,67.1L118.9,68.6ZM207.1,108.9L208.8,109.6L210.8,109.1L214.7,104.1L214.8,102.3L213.0,98.4L211.2,96.8L206.5,97.3L204.8,99.0L204.8,106.2ZM129.6,142.0L123.3,144.3L122.1,146.7L122.2,149.0L123.4,151.0L127.2,152.5L132.7,150.4L134.2,147.1L132.8,143.5ZM270.6,33.5L266.9,32.4L263.8,34.6L262.4,40.4L263.1,42.5L264.7,44.0L268.7,44.3L273.5,40.7L273.7,36.9ZM56.2,120.9L57.9,124.2L59.8,125.1L62.0,124.9L66.2,121.5L66.2,117.0L63.9,114.7L60.7,114.5L57.1,116.7ZM205.6,59.8L203.4,59.9L201.6,61.6L202.3,68.3L204.2,70.4L209.4,71.1L211.5,69.2L212.2,63.3L210.6,61.4ZM68.0,135.3L66.1,138.4L67.8,142.1L74.3,143.5L77.3,141.9L78.9,137.0L78.0,135.0L75.9,133.4L72.7,132.8Z"/>
<path fill="url(#cg190)" d="M201.7,-1.5L197.9,0.0L196.6,2.2L196.4,4.3L198.9,8.9L200.7,10.0L203.3,10.3L205.7,9.3L208.4,6.8L209.3,2.8L208.6,0.9L206.7,-0.9ZM240.8,46.8L242.8,48.4L245.4,48.7L248.9,47.7L250.9,46.2L251.8,41.9L248.4,36.8L244.7,35.8L241.1,36.7L239.1,38.3L238.0,42.3ZM158.3,-1.3L154.3,0.6L153.1,4.8L155.7,11.1L158.3,12.7L161.0,12.8L163.6,11.4L166.3,7.5L167.1,3.5L166.0,1.0L164.1,-0.7ZM79.4,148.1L82.3,150.1L85.6,148.7L89.7,141.7L89.5,139.6L87.8,136.8L84.7,136.1L82.1,136.7L80.5,138.0L77.9,143.9ZM77.0,147.1L74.5,145.1L70.9,144.6L69.0,145.1L67.4,146.8L66.5,149.7L66.9,152.8L71.5,155.8L75.0,155.5L78.2,151.4ZM162.6,116.1L164.6,115.1L166.0,113.3L166.3,107.1L163.5,104.4L158.6,104.2L156.4,105.9L154.2,109.8L154.0,113.3L157.3,116.5ZM97.1,122.7L99.1,127.7L101.2,128.9L105.4,128.4L110.1,122.9L110.4,120.4L109.4,117.6L106.0,115.5L101.4,116.3L97.5,120.3ZM140.5,15.1L138.3,14.0L135.7,14.0L133.5,15.0L132.1,17.0L131.7,19.3L133.0,24.0L135.6,26.7L139.8,26.5L143.8,22.5L143.9,18.6ZM242.9,3.8L244.3,6.6L246.7,8.1L248.7,8.4L253.2,6.0L254.3,2.8L253.7,0.6L252.1,-1.1L246.4,-1.5L243.5,0.2ZM265.9,3.9L267.0,7.7L271.2,9.3L276.1,6.5L277.3,2.9L276.5,0.8L274.8,-0.6L270.1,-1.1L266.9,0.6ZM36.6,146.8L35.4,148.4L34.7,154.6L39.6,161.0L42.6,161.4L47.8,156.4L48.0,153.6L39.9,146.7L38.3,146.2ZM101.3,164.2L102.7,166.3L104.9,167.4L109.3,166.5L110.7,165.0L111.5,162.6L110.0,157.9L106.6,155.8L102.7,156.6L100.5,160.0ZM180.2,127.5L180.6,130.4L183.4,133.0L185.4,133.5L189.6,132.7L191.5,130.2L191.7,121.1L189.2,119.3L183.5,119.4L181.8,121.3ZM257.7,44.5L255.4,46.4L255.2,49.3L258.2,57.5L260.3,58.9L262.5,58.7L267.2,53.0L266.8,48.1L265.6,46.3L261.8,44.2ZM171.5,6.2L167.8,7.2L164.1,13.2L164.6,16.1L166.8,18.9L168.5,19.8L170.4,19.8L174.0,18.1L175.8,15.5L176.4,9.0L174.7,7.1ZM87.7,102.0L84.8,100.4L80.2,101.5L78.6,104.3L79.5,107.9L82.1,109.6L86.0,109.7L87.7,109.0L89.4,105.6Z"/>
<path fill="url(#cg200)" d="M65.1,109.0L66.3,110.9L68.1,111.5L75.9,110.0L77.0,107.5L75.7,100.6L73.5,99.5L66.8,99.7L65.1,100.4L63.9,103.3ZM111.4,106.6L113.6,108.2L116.6,107.5L121.0,99.4L120.0,96.2L114.2,93.3L112.2,93.5L110.7,94.5L108.3,99.7L108.6,102.0ZM90.8,174.3L90.7,171.6L87.0,166.7L79.7,166.6L77.2,168.5L77.7,180.1L79.6,182.5L85.3,182.9L87.2,182.2ZM116.2,42.5L117.8,43.7L119.7,43.8L125.0,40.6L125.5,38.8L125.1,34.2L123.7,31.7L119.6,30.3L116.8,31.6L113.8,37.8ZM98.5,159.8L97.0,157.9L94.8,157.2L92.8,157.6L91.0,159.3L88.9,165.3L92.4,170.9L95.6,171.2L98.7,170.2L100.4,168.5L100.8,165.8ZM257.0,30.5L253.3,31.4L251.3,34.7L252.2,38.6L255.6,40.6L259.4,39.7L261.4,36.2L260.5,32.5ZM89.5,102.0L93.2,104.0L97.1,102.4L98.4,98.9L96.4,94.5L92.9,93.3L89.5,95.0L88.1,98.3ZM202.9,85.7L200.6,87.1L199.4,89.5L199.6,91.7L201.1,93.9L205.2,95.9L210.2,95.0L212.4,93.5L214.1,89.5L212.5,85.8L209.0,84.4ZM154.6,26.6L156.5,28.2L159.4,28.3L165.3,23.9L166.1,21.9L165.8,19.8L162.5,15.4L156.2,14.2L152.0,17.9L151.4,21.7ZM130.6,112.6L130.5,114.9L131.6,116.5L135.5,118.3L137.4,118.4L143.9,111.9L144.4,109.0L142.3,106.4L135.3,104.9L133.2,106.4ZM195.1,21.6L192.4,19.5L188.1,19.6L185.2,22.5L185.3,26.3L190.0,30.8L192.3,31.3L194.7,30.6L196.3,29.2L197.2,26.8ZM217.4,-1.7L214.6,-0.5L213.5,2.8L218.7,10.5L220.6,11.7L224.0,12.2L227.6,10.4L229.0,7.7L228.8,1.7L227.9,-0.3L225.2,-1.7ZM105.8,139.6L102.7,146.3L103.8,149.3L105.3,150.5L108.1,151.2L117.1,147.2L118.7,143.8L117.6,140.9L115.9,139.3L108.6,138.4ZM105.2,134.4L108.0,137.0L115.6,137.3L118.0,134.7L119.5,130.2L119.1,127.7L114.6,124.3L110.8,124.4L105.3,130.4ZM91.0,86.5L92.3,89.8L97.3,91.4L104.5,87.9L105.9,84.5L103.7,79.7L100.4,78.5L92.5,81.0L91.5,82.5ZM234.2,66.4L235.1,70.0L238.6,71.2L245.1,68.0L246.4,64.3L242.9,59.5L239.6,58.5L235.9,60.5ZM218.9,41.6L216.5,42.4L215.0,43.8L214.0,46.3L214.2,48.3L217.6,52.8L222.0,53.5L225.1,51.1L226.2,47.9L226.2,45.4L223.8,42.2ZM157.4,142.8L151.2,139.7L148.6,140.8L147.5,142.5L146.7,146.7L148.7,149.7L153.4,151.8L155.5,152.0L158.5,149.7L158.6,145.3ZM113.7,86.5L112.4,89.0L113.2,91.3L121.0,94.7L123.4,92.9L125.9,85.1L124.5,82.8L120.8,81.8ZM230.1,1.4L230.6,7.9L232.1,9.3L236.0,9.4L241.1,5.5L241.0,0.7L238.6,-1.0L231.8,-0.7ZM44.7,127.1L38.8,133.1L38.6,135.2L39.5,137.2L41.5,138.6L43.6,138.8L48.3,137.5L50.9,134.7L50.8,129.5L48.0,126.9ZM77.4,78.2L75.6,80.0L75.0,82.5L77.9,87.4L80.0,88.2L86.4,88.3L89.7,86.4L90.5,80.7L86.8,75.9L83.1,75.4ZM86.5,127.8L88.8,131.2L92.8,131.9L96.1,129.6L96.8,125.8L94.6,122.4L90.6,121.6L87.3,123.8Z"/>
<path fill="url(#cg210)" d="M215.3,18.1L214.2,21.7L216.4,25.4L221.6,26.3L224.9,24.2L225.6,20.3L224.8,17.4L223.1,15.6L218.8,15.0ZM246.9,21.2L239.6,21.3L237.7,23.0L236.7,25.4L236.9,27.5L238.6,31.7L240.3,33.6L242.8,34.5L245.8,34.0L248.0,32.6L249.9,29.4L249.6,24.2ZM71.9,68.8L70.8,71.0L70.9,73.4L73.7,76.8L77.6,76.9L80.8,75.2L82.2,73.3L82.1,69.0L79.0,66.3L75.2,66.1ZM131.2,42.3L133.6,42.8L136.3,41.7L139.1,36.1L139.2,33.8L138.2,31.3L135.0,28.8L131.1,29.2L128.1,31.0L126.7,33.3L127.2,39.4ZM188.3,14.0L190.4,16.8L194.0,17.0L197.5,13.5L197.7,9.9L194.7,6.4L191.0,6.3L188.0,9.1ZM141.8,116.9L140.8,120.5L142.9,123.5L149.7,125.5L152.0,124.9L153.5,123.4L154.9,118.0L151.5,113.0L146.5,112.4ZM231.9,11.0L229.8,11.0L227.9,12.0L226.6,13.8L226.3,15.9L228.2,22.3L230.5,23.7L233.6,23.9L236.6,22.1L237.5,18.8L235.0,12.9Z"/>
<path fill="url(#cg220)" d="M47.4,113.2L47.7,110.3L45.7,108.5L38.4,107.9L36.8,108.7L35.9,110.2L36.2,116.2L38.5,118.4L41.6,119.2L43.3,118.8ZM146.2,17.8L148.1,18.5L149.7,18.0L153.8,13.1L152.0,6.3L150.2,4.8L147.4,5.3L141.5,11.6L141.9,14.2ZM55.5,94.5L52.2,94.4L48.8,97.4L49.1,101.7L51.0,104.1L53.3,104.5L57.8,103.4L60.3,101.3L60.7,99.1L60.0,97.4ZM111.4,39.6L104.3,41.7L103.3,43.5L104.4,49.9L106.1,51.1L112.5,52.6L115.5,51.5L116.7,49.7L117.3,46.1L114.0,40.8Z"/>
<path fill="url(#cg230)" d="M26.2,111.0L23.6,114.1L24.1,117.7L27.7,121.1L31.9,120.7L35.1,117.3L34.5,111.8L31.0,109.5ZM123.4,30.1L126.7,29.9L129.9,28.0L131.2,26.1L130.3,20.2L127.4,17.6L124.7,17.7L122.1,19.2L119.6,24.4L120.4,28.2ZM40.1,100.1L39.1,103.3L40.7,106.3L44.0,107.3L47.0,105.7L47.9,102.5L46.3,99.4L43.1,98.4ZM14.9,122.4L14.2,126.1L17.0,128.7L24.4,128.6L27.0,125.9L26.5,122.5L21.7,118.0L18.6,118.4ZM86.7,56.2L90.3,62.9L92.3,63.6L96.5,62.2L98.2,56.5L97.0,53.4L92.2,50.7L88.7,51.6ZM72.1,83.6L73.8,81.7L73.8,79.5L70.9,76.3L69.1,75.5L66.6,76.2L61.9,81.8L62.4,84.3L65.0,86.2L66.9,86.1Z"/>
<g fill="url(#sg110)"><circle cx="167.4" cy="100.5" r="2.7"/></g>
<g fill="url(#sg120)"><circle cx="186.8" cy="60.5" r="2.2"/><circle cx="163.0" cy="88.4" r="2.4"/><circle cx="161.7" cy="101.6" r="2.2"/></g>
<g fill="url(#sg130)"><circle cx="186.5" cy="66.0" r="2.2"/><circle cx="182.1" cy="66.1" r="2.5"/><circle cx="152.7" cy="62.6" r="2.8"/><circle cx="159.7" cy="70.3" r="2.4"/><circle cx="160.3" cy="75.4" r="2.9"/><circle cx="145.0" cy="87.9" r="2.1"/><circle cx="141.1" cy="91.2" r="2.3"/><circle cx="148.6" cy="86.2" r="2.1"/><circle cx="146.3" cy="91.9" r="2.9"/></g>
<g fill="url(#sg140)"><circle cx="182.7" cy="59.6" r="2.3"/><circle cx="136.4" cy="182.2" r="2.5"/><circle cx="138.2" cy="178.0" r="2.9"/><circle cx="134.4" cy="79.5" r="2.8"/><circle cx="151.8" cy="57.4" r="2.6"/><circle cx="148.5" cy="61.1" r="2.2"/><circle cx="160.5" cy="84.5" r="2.2"/><circle cx="156.4" cy="90.3" r="2.8"/><circle cx="154.9" cy="86.2" r="2.1"/><circle cx="156.7" cy="78.2" r="2.2"/><circle cx="155.3" cy="69.8" r="2.3"/><circle cx="164.0" cy="97.6" r="2.2"/><circle cx="164.2" cy="93.3" r="2.1"/><circle cx="167.7" cy="96.2" r="2.7"/><circle cx="170.9" cy="146.6" r="2.1"/><circle cx="163.1" cy="57.5" r="2.9"/></g>
<g fill="url(#sg150)"><circle cx="279.0" cy="60.8" r="2.6"/><circle cx="139.2" cy="79.4" r="2.6"/><circle cx="136.6" cy="72.2" r="2.8"/><circle cx="130.4" cy="79.1" r="2.2"/><circle cx="176.2" cy="126.7" r="2.5"/><circle cx="37.1" cy="164.7" r="2.6"/><circle cx="32.4" cy="168.3" r="2.5"/><circle cx="138.6" cy="57.1" r="2.6"/><circle cx="195.7" cy="83.7" r="2.5"/><circle cx="195.6" cy="87.8" r="2.5"/><circle cx="200.2" cy="40.2" r="2.5"/><circle cx="123.8" cy="141.2" r="2.4"/><circle cx="144.8" cy="58.5" r="2.8"/><circle cx="156.0" cy="73.8" r="2.9"/><circle cx="152.8" cy="79.0" r="2.3"/><circle cx="167.4" cy="150.0" r="2.5"/><circle cx="166.9" cy="146.0" r="2.9"/><circle cx="163.4" cy="149.2" r="2.8"/><circle cx="155.2" cy="53.3" r="2.7"/><circle cx="160.5" cy="61.9" r="2.4"/><circle cx="140.9" cy="86.9" r="3.0"/><circle cx="119.1" cy="154.1" r="2.2"/><circle cx="116.4" cy="181.5" r="2.4"/><circle cx="130.0" cy="66.2" r="2.3"/></g>
<g fill="url(#sg160)"><circle cx="190.3" cy="101.0" r="2.3"/><circle cx="271.7" cy="62.2" r="2.6"/><circle cx="159.4" cy="128.0" r="2.4"/><circle cx="72.5" cy="174.2" r="3.0"/><circle cx="74.9" cy="178.7" r="3.0"/><circle cx="130.0" cy="182.6" r="2.9"/><circle cx="129.5" cy="178.2" r="2.6"/><circle cx="219.6" cy="94.1" r="2.8"/><circle cx="224.0" cy="97.9" r="2.6"/><circle cx="144.8" cy="100.0" r="2.5"/><circle cx="137.5" cy="101.8" r="2.5"/><circle cx="236.3" cy="32.9" r="2.4"/><circle cx="232.3" cy="38.5" r="2.8"/><circle cx="236.2" cy="36.9" r="2.9"/><circle cx="49.4" cy="179.8" r="2.2"/><circle cx="56.4" cy="180.6" r="2.7"/><circle cx="58.7" cy="175.4" r="2.6"/><circle cx="192.0" cy="56.7" r="2.9"/><circle cx="245.5" cy="17.2" r="2.4"/><circle cx="34.6" cy="160.6" r="2.3"/><circle cx="32.5" cy="164.1" r="3.0"/><circle cx="142.1" cy="54.4" r="2.7"/><circle cx="141.1" cy="49.9" r="2.4"/><circle cx="279.2" cy="31.6" r="2.8"/><circle cx="82.7" cy="133.6" r="2.4"/><circle cx="195.5" cy="42.2" r="2.6"/><circle cx="146.1" cy="49.1" r="2.9"/><circle cx="151.0" cy="47.3" r="2.8"/><circle cx="126.7" cy="138.3" r="2.3"/><circle cx="129.2" cy="134.4" r="2.6"/><circle cx="273.2" cy="70.9" r="2.9"/><circle cx="271.1" cy="67.3" r="2.9"/><circle cx="40.6" cy="179.8" r="2.5"/><circle cx="45.5" cy="174.4" r="2.3"/><circle cx="152.1" cy="73.8" r="2.2"/><circle cx="133.7" cy="131.0" r="2.9"/><circle cx="159.9" cy="94.1" r="2.2"/><circle cx="157.3" cy="98.7" r="2.4"/><circle cx="154.7" cy="171.3" r="2.7"/><circle cx="160.1" cy="169.3" r="2.2"/><circle cx="112.6" cy="84.5" r="2.4"/><circle cx="54.5" cy="168.1" r="2.5"/><circle cx="176.3" cy="141.8" r="2.2"/><circle cx="157.2" cy="59.4" r="2.6"/><circle cx="161.1" cy="53.3" r="2.4"/><circle cx="70.5" cy="126.8" r="2.1"/><circle cx="173.0" cy="79.3" r="2.1"/><circle cx="141.8" cy="82.8" r="2.5"/><circle cx="146.3" cy="83.0" r="3.0"/><circle cx="175.6" cy="114.5" r="2.8"/><circle cx="174.6" cy="64.0" r="2.2"/><circle cx="93.2" cy="117.5" r="2.9"/><circle cx="98.3" cy="114.9" r="2.4"/><circle cx="114.1" cy="156.8" r="2.2"/><circle cx="108.6" cy="177.2" r="2.9"/><circle cx="112.4" cy="181.8" r="2.1"/><circle cx="111.3" cy="172.5" r="2.5"/><circle cx="115.8" cy="171.3" r="2.6"/><circle cx="129.1" cy="60.9" r="2.5"/><circle cx="133.8" cy="67.7" r="2.8"/><circle cx="148.7" cy="68.3" r="2.3"/><circle cx="145.0" cy="73.3" r="2.4"/></g>
<g fill="url(#sg170)"><circle cx="277.0" cy="56.8" r="2.9"/><circle cx="163.5" cy="128.3" r="2.7"/><circle cx="161.6" cy="124.1" r="2.4"/><circle cx="157.4" cy="123.7" r="2.9"/><circle cx="166.2" cy="123.4" r="2.2"/><circle cx="83.6" cy="120.7" r="2.4"/><circle cx="87.3" cy="115.0" r="2.2"/><circle cx="137.3" cy="173.4" r="2.3"/><circle cx="134.1" cy="169.4" r="2.4"/><circle cx="179.8" cy="24.0" r="2.8"/><circle cx="179.3" cy="28.1" r="2.6"/><circle cx="216.1" cy="96.7" r="2.3"/><circle cx="220.2" cy="100.4" r="2.9"/><circle cx="141.7" cy="103.0" r="3.0"/><circle cx="99.5" cy="107.4" r="2.7"/><circle cx="103.4" cy="105.0" r="2.2"/><circle cx="107.0" cy="110.2" r="2.7"/><circle cx="231.3" cy="31.8" r="2.1"/><circle cx="234.3" cy="29.0" r="2.4"/><circle cx="227.7" cy="34.4" r="2.3"/><circle cx="124.2" cy="57.8" r="2.6"/><circle cx="136.3" cy="161.4" r="2.1"/><circle cx="131.0" cy="163.5" r="2.2"/><circle cx="131.5" cy="75.1" r="2.7"/><circle cx="54.1" cy="175.9" r="2.6"/><circle cx="126.9" cy="111.4" r="2.8"/><circle cx="197.6" cy="56.8" r="2.9"/><circle cx="200.3" cy="48.7" r="2.4"/><circle cx="205.9" cy="39.0" r="2.4"/><circle cx="208.7" cy="41.7" r="2.4"/><circle cx="241.5" cy="18.4" r="2.6"/><circle cx="29.6" cy="159.4" r="3.0"/><circle cx="271.9" cy="16.6" r="2.4"/><circle cx="209.3" cy="57.7" r="2.3"/><circle cx="180.3" cy="92.8" r="2.1"/><circle cx="83.9" cy="129.5" r="3.0"/><circle cx="191.1" cy="88.1" r="3.0"/><circle cx="185.3" cy="83.9" r="2.3"/><circle cx="143.7" cy="45.7" r="2.2"/><circle cx="124.4" cy="134.1" r="2.4"/><circle cx="147.7" cy="54.4" r="2.1"/><circle cx="36.2" cy="179.1" r="2.6"/><circle cx="32.1" cy="177.6" r="2.7"/><circle cx="128.3" cy="125.1" r="2.8"/><circle cx="134.3" cy="125.9" r="2.5"/><circle cx="125.2" cy="128.1" r="2.7"/><circle cx="114.3" cy="76.4" r="2.7"/><circle cx="115.4" cy="80.4" r="2.6"/><circle cx="36.4" cy="129.9" r="3.0"/><circle cx="54.5" cy="163.8" r="2.2"/><circle cx="179.3" cy="136.5" r="2.6"/><circle cx="25.5" cy="173.8" r="2.2"/><circle cx="27.7" cy="178.0" r="2.9"/><circle cx="26.1" cy="169.2" r="2.7"/><circle cx="29.4" cy="172.7" r="2.9"/><circle cx="66.1" cy="126.1" r="2.7"/><circle cx="66.1" cy="130.5" r="2.8"/><circle cx="70.1" cy="131.1" r="2.7"/><circle cx="198.0" cy="71.5" r="2.9"/><circle cx="194.2" cy="73.2" r="3.0"/><circle cx="195.2" cy="68.6" r="2.7"/><circle cx="182.4" cy="77.7" r="2.7"/><circle cx="169.3" cy="82.0" r="2.6"/><circle cx="169.7" cy="77.2" r="2.3"/><circle cx="173.9" cy="73.5" r="2.7"/><circle cx="136.9" cy="87.2" r="2.8"/><circle cx="178.6" cy="111.7" r="2.9"/><circle cx="172.7" cy="58.5" r="2.2"/><circle cx="176.4" cy="60.2" r="2.1"/><circle cx="175.2" cy="54.3" r="2.9"/><circle cx="229.6" cy="65.3" r="2.5"/><circle cx="120.9" cy="160.3" r="2.3"/><circle cx="115.1" cy="152.6" r="2.8"/><circle cx="116.2" cy="160.7" r="2.3"/><circle cx="114.6" cy="175.3" r="2.6"/><circle cx="107.1" cy="172.5" r="2.5"/><circle cx="133.2" cy="63.1" r="2.8"/><circle cx="152.3" cy="109.0" r="2.5"/><circle cx="148.1" cy="109.3" r="2.7"/><circle cx="145.5" cy="105.9" r="2.3"/><circle cx="249.6" cy="79.0" r="2.5"/><circle cx="69.8" cy="118.6" r="2.1"/><circle cx="72.5" cy="122.1" r="2.5"/><circle cx="17.2" cy="141.7" r="2.7"/></g>
<g fill="url(#sg180)"><circle cx="190.6" cy="96.5" r="3.0"/><circle cx="186.7" cy="98.9" r="2.5"/><circle cx="273.0" cy="57.7" r="2.5"/><circle cx="269.0" cy="59.3" r="2.4"/><circle cx="187.8" cy="115.8" r="3.0"/><circle cx="191.4" cy="112.0" r="2.6"/><circle cx="191.3" cy="107.5" r="2.9"/><circle cx="61.8" cy="134.6" r="2.4"/><circle cx="158.5" cy="119.0" r="2.3"/><circle cx="65.6" cy="180.0" r="2.1"/><circle cx="70.2" cy="179.4" r="2.7"/><circle cx="72.9" cy="169.1" r="2.4"/><circle cx="233.5" cy="75.2" r="2.8"/><circle cx="229.5" cy="79.0" r="3.0"/><circle cx="224.6" cy="79.3" r="2.2"/><circle cx="133.9" cy="178.4" r="2.7"/><circle cx="132.0" cy="173.1" r="2.9"/><circle cx="173.5" cy="27.3" r="2.5"/><circle cx="35.4" cy="142.4" r="2.9"/><circle cx="140.4" cy="98.8" r="2.2"/><circle cx="136.7" cy="97.1" r="3.0"/><circle cx="85.1" cy="162.7" r="2.6"/><circle cx="132.5" cy="90.3" r="2.8"/><circle cx="128.5" cy="97.6" r="2.2"/><circle cx="133.0" cy="94.2" r="2.9"/><circle cx="132.5" cy="98.2" r="2.7"/><circle cx="102.5" cy="110.5" r="2.2"/><circle cx="107.6" cy="104.4" r="2.2"/><circle cx="230.9" cy="27.0" r="2.8"/><circle cx="227.9" cy="38.9" r="2.3"/><circle cx="121.5" cy="61.8" r="2.5"/><circle cx="117.6" cy="58.0" r="2.9"/><circle cx="117.2" cy="62.8" r="3.0"/><circle cx="119.2" cy="54.1" r="2.8"/><circle cx="127.9" cy="48.5" r="2.5"/><circle cx="130.3" cy="44.7" r="2.5"/><circle cx="124.8" cy="52.9" r="3.0"/><circle cx="130.5" cy="159.1" r="2.1"/><circle cx="135.8" cy="156.5" r="2.5"/><circle cx="126.5" cy="161.6" r="2.4"/><circle cx="163.5" cy="133.3" r="2.4"/><circle cx="157.8" cy="138.7" r="2.7"/><circle cx="162.8" cy="137.8" r="2.7"/><circle cx="49.6" cy="173.5" r="2.8"/><circle cx="175.7" cy="120.4" r="2.3"/><circle cx="171.8" cy="127.0" r="3.0"/><circle cx="191.6" cy="50.8" r="2.4"/><circle cx="197.9" cy="52.2" r="2.1"/><circle cx="189.1" cy="53.9" r="3.0"/><circle cx="102.0" cy="140.8" r="2.9"/><circle cx="210.1" cy="37.8" r="2.2"/><circle cx="205.8" cy="32.4" r="2.8"/><circle cx="207.7" cy="28.5" r="2.2"/><circle cx="143.3" cy="168.8" r="2.9"/><circle cx="148.0" cy="166.3" r="2.4"/><circle cx="238.3" cy="12.3" r="2.3"/><circle cx="28.1" cy="164.5" r="2.9"/><circle cx="133.7" cy="56.7" r="2.4"/><circle cx="132.8" cy="52.1" r="2.6"/><circle cx="276.3" cy="50.4" r="2.3"/><circle cx="269.4" cy="13.1" r="2.5"/><circle cx="271.3" cy="21.4" r="2.5"/><circle cx="264.4" cy="19.8" r="2.7"/><circle cx="171.9" cy="96.0" r="2.9"/><circle cx="174.3" cy="99.3" r="2.4"/><circle cx="191.1" cy="81.8" r="2.1"/><circle cx="186.9" cy="87.8" r="2.3"/><circle cx="192.4" cy="36.9" r="3.0"/><circle cx="194.2" cy="33.3" r="2.2"/><circle cx="146.7" cy="42.8" r="2.8"/><circle cx="150.8" cy="42.2" r="2.7"/><circle cx="146.7" cy="38.1" r="2.6"/><circle cx="140.6" cy="43.0" r="2.3"/><circle cx="120.9" cy="138.2" r="2.7"/><circle cx="269.3" cy="71.8" r="2.5"/><circle cx="200.9" cy="117.9" r="2.2"/><circle cx="196.3" cy="116.1" r="2.9"/><circle cx="41.6" cy="175.7" r="2.2"/><circle cx="42.6" cy="171.8" r="2.4"/><circle cx="34.3" cy="174.2" r="2.6"/><circle cx="39.9" cy="168.7" r="2.7"/><circle cx="204.2" cy="81.3" r="2.5"/><circle cx="147.6" cy="134.8" r="2.1"/><circle cx="148.6" cy="129.1" r="2.2"/><circle cx="204.1" cy="22.6" r="3.0"/><circle cx="224.7" cy="111.9" r="2.8"/><circle cx="199.5" cy="127.5" r="2.1"/><circle cx="223.6" cy="34.6" r="2.3"/><circle cx="133.6" cy="121.4" r="2.3"/><circle cx="129.0" cy="129.8" r="2.6"/><circle cx="122.7" cy="174.7" r="2.9"/><circle cx="127.3" cy="172.9" r="3.0"/><circle cx="212.8" cy="75.5" r="2.7"/><circle cx="216.0" cy="78.3" r="2.4"/><circle cx="161.9" cy="145.1" r="2.4"/><circle cx="165.0" cy="141.6" r="2.6"/><circle cx="214.1" cy="9.3" r="2.5"/><circle cx="209.6" cy="16.9" r="2.5"/><circle cx="215.6" cy="12.9" r="2.8"/><circle cx="157.9" cy="164.6" r="2.2"/><circle cx="108.6" cy="76.3" r="2.3"/><circle cx="38.4" cy="122.3" r="2.4"/><circle cx="47.2" cy="168.8" r="2.2"/><circle cx="48.7" cy="160.0" r="2.4"/><circle cx="179.7" cy="154.9" r="2.5"/><circle cx="178.8" cy="150.8" r="2.7"/><circle cx="180.2" cy="146.7" r="2.6"/><circle cx="172.9" cy="139.5" r="2.9"/><circle cx="260.8" cy="25.4" r="2.7"/><circle cx="260.3" cy="20.2" r="2.8"/><circle cx="17.7" cy="173.3" r="2.8"/><circle cx="23.5" cy="177.8" r="2.8"/><circle cx="21.9" cy="167.5" r="2.9"/><circle cx="18.0" cy="178.5" r="2.8"/><circle cx="259.8" cy="67.3" r="2.3"/><circle cx="255.2" cy="72.3" r="2.5"/><circle cx="114.9" cy="70.4" r="2.5"/><circle cx="124.4" cy="120.2" r="2.1"/><circle cx="49.9" cy="146.9" r="2.8"/><circle cx="53.3" cy="144.3" r="2.6"/><circle cx="169.6" cy="32.9" r="2.5"/><circle cx="199.2" cy="67.2" r="2.1"/><circle cx="184.3" cy="73.8" r="2.9"/><circle cx="179.5" cy="82.0" r="2.4"/><circle cx="177.4" cy="73.8" r="2.3"/><circle cx="146.0" cy="183.2" r="2.8"/><circle cx="149.7" cy="181.0" r="2.8"/><circle cx="141.6" cy="182.3" r="2.9"/><circle cx="166.3" cy="79.2" r="2.6"/><circle cx="176.0" cy="104.3" r="2.8"/><circle cx="178.6" cy="107.2" r="2.6"/><circle cx="170.5" cy="54.4" r="2.4"/><circle cx="167.0" cy="64.6" r="2.3"/><circle cx="169.8" cy="61.7" r="2.3"/><circle cx="168.4" cy="57.8" r="2.9"/><circle cx="93.2" cy="108.6" r="2.2"/><circle cx="90.2" cy="113.3" r="2.3"/><circle cx="63.9" cy="163.6" r="2.8"/><circle cx="231.3" cy="61.7" r="2.1"/><circle cx="224.5" cy="89.2" r="2.6"/><circle cx="114.6" cy="167.3" r="2.7"/><circle cx="127.5" cy="75.4" r="2.5"/><circle cx="150.7" cy="104.5" r="2.6"/><circle cx="152.8" cy="100.2" r="2.4"/><circle cx="183.0" cy="17.2" r="2.2"/><circle cx="141.6" cy="64.9" r="2.7"/><circle cx="268.5" cy="43.3" r="2.6"/><circle cx="74.4" cy="117.1" r="2.9"/><circle cx="178.0" cy="38.8" r="3.0"/><circle cx="22.1" cy="134.1" r="2.6"/><circle cx="21.9" cy="139.5" r="2.4"/></g>
<g fill="url(#sg190)"><circle cx="73.8" cy="93.4" r="2.7"/><circle cx="265.8" cy="61.5" r="2.7"/><circle cx="270.0" cy="54.9" r="2.4"/><circle cx="85.1" cy="180.4" r="2.5"/><circle cx="57.7" cy="136.3" r="2.2"/><circle cx="163.9" cy="119.7" r="2.5"/><circle cx="69.0" cy="170.5" r="2.2"/><circle cx="64.5" cy="170.1" r="2.8"/><circle cx="246.7" cy="59.4" r="2.8"/><circle cx="82.6" cy="115.6" r="3.0"/><circle cx="144.7" cy="26.3" r="2.5"/><circle cx="30.6" cy="141.0" r="2.7"/><circle cx="142.3" cy="94.9" r="2.8"/><circle cx="86.2" cy="158.3" r="2.3"/><circle cx="81.0" cy="162.2" r="2.7"/><circle cx="128.8" cy="88.1" r="2.3"/><circle cx="132.2" cy="85.9" r="2.9"/><circle cx="226.9" cy="27.6" r="2.6"/><circle cx="121.5" cy="48.6" r="3.0"/><circle cx="131.4" cy="154.9" r="2.1"/><circle cx="161.4" cy="11.1" r="2.9"/><circle cx="88.3" cy="141.7" r="2.9"/><circle cx="57.1" cy="171.1" r="2.7"/><circle cx="53.2" cy="171.7" r="2.5"/><circle cx="123.2" cy="106.5" r="2.3"/><circle cx="128.8" cy="107.0" r="2.2"/><circle cx="195.1" cy="48.7" r="2.9"/><circle cx="102.7" cy="135.1" r="2.1"/><circle cx="237.4" cy="54.6" r="2.7"/><circle cx="231.2" cy="46.7" r="2.8"/><circle cx="235.3" cy="51.1" r="2.8"/><circle cx="233.4" cy="56.7" r="2.4"/><circle cx="210.3" cy="31.7" r="2.3"/><circle cx="202.7" cy="34.9" r="2.5"/><circle cx="201.7" cy="30.4" r="2.9"/><circle cx="145.1" cy="163.4" r="2.3"/><circle cx="242.8" cy="9.0" r="2.9"/><circle cx="243.5" cy="13.1" r="2.5"/><circle cx="136.9" cy="50.2" r="2.2"/><circle cx="267.5" cy="23.0" r="2.3"/><circle cx="276.2" cy="25.5" r="2.3"/><circle cx="275.0" cy="31.2" r="2.4"/><circle cx="280.0" cy="26.9" r="2.3"/><circle cx="213.4" cy="54.4" r="2.5"/><circle cx="204.7" cy="54.9" r="2.7"/><circle cx="171.1" cy="89.7" r="2.5"/><circle cx="177.8" cy="96.1" r="2.9"/><circle cx="180.3" cy="88.8" r="2.1"/><circle cx="78.3" cy="124.7" r="3.0"/><circle cx="78.8" cy="130.2" r="2.8"/><circle cx="82.6" cy="125.4" r="2.1"/><circle cx="91.2" cy="76.8" r="2.4"/><circle cx="197.6" cy="36.6" r="3.0"/><circle cx="191.5" cy="40.9" r="2.5"/><circle cx="142.6" cy="37.7" r="2.7"/><circle cx="120.2" cy="134.3" r="2.3"/><circle cx="162.6" cy="115.0" r="2.8"/><circle cx="164.5" cy="109.6" r="2.5"/><circle cx="218.8" cy="67.2" r="2.5"/><circle cx="204.0" cy="115.2" r="2.7"/><circle cx="202.7" cy="110.7" r="2.3"/><circle cx="38.2" cy="173.2" r="2.8"/><circle cx="200.6" cy="79.2" r="2.2"/><circle cx="207.2" cy="77.2" r="2.6"/><circle cx="221.1" cy="113.7" r="3.0"/><circle cx="226.2" cy="104.9" r="2.7"/><circle cx="108.0" cy="56.5" r="2.1"/><circle cx="111.0" cy="59.3" r="2.6"/><circle cx="102.8" cy="174.7" r="2.8"/><circle cx="99.9" cy="178.6" r="2.6"/><circle cx="219.4" cy="34.0" r="2.1"/><circle cx="221.4" cy="38.2" r="2.8"/><circle cx="215.2" cy="35.6" r="2.3"/><circle cx="126.0" cy="166.5" r="2.9"/><circle cx="124.4" cy="170.1" r="2.9"/><circle cx="120.4" cy="171.5" r="2.8"/><circle cx="212.8" cy="80.6" r="2.6"/><circle cx="217.8" cy="74.5" r="2.7"/><circle cx="153.4" cy="167.3" r="2.4"/><circle cx="153.9" cy="163.0" r="2.7"/><circle cx="108.9" cy="82.0" r="2.2"/><circle cx="40.8" cy="126.9" r="2.8"/><circle cx="44.3" cy="164.6" r="2.7"/><circle cx="49.9" cy="164.8" r="2.5"/><circle cx="182.9" cy="150.2" r="2.9"/><circle cx="171.6" cy="134.5" r="2.6"/><circle cx="175.7" cy="132.4" r="2.8"/><circle cx="21.5" cy="158.5" r="3.0"/><circle cx="25.8" cy="153.6" r="2.7"/><circle cx="30.9" cy="151.1" r="2.8"/><circle cx="17.3" cy="158.1" r="2.5"/><circle cx="253.1" cy="24.4" r="2.5"/><circle cx="257.3" cy="27.5" r="2.9"/><circle cx="18.6" cy="162.2" r="2.2"/><circle cx="21.3" cy="171.3" r="2.8"/><circle cx="255.6" cy="63.3" r="2.5"/><circle cx="260.2" cy="63.3" r="2.5"/><circle cx="259.7" cy="71.8" r="2.1"/><circle cx="114.0" cy="65.4" r="2.6"/><circle cx="108.6" cy="71.8" r="2.3"/><circle cx="120.4" cy="120.9" r="2.4"/><circle cx="49.3" cy="141.9" r="2.6"/><circle cx="46.3" cy="145.0" r="2.7"/><circle cx="166.5" cy="36.5" r="2.3"/><circle cx="168.7" cy="27.9" r="2.5"/><circle cx="95.8" cy="153.3" r="2.1"/><circle cx="92.0" cy="155.1" r="2.6"/><circle cx="189.3" cy="131.4" r="2.7"/><circle cx="195.4" cy="64.6" r="2.2"/><circle cx="191.8" cy="66.4" r="2.7"/><circle cx="265.1" cy="51.4" r="2.8"/><circle cx="50.2" cy="122.6" r="2.2"/><circle cx="177.0" cy="78.1" r="2.4"/><circle cx="180.7" cy="71.6" r="2.9"/><circle cx="164.3" cy="73.4" r="2.6"/><circle cx="171.7" cy="114.3" r="2.9"/><circle cx="175.3" cy="109.7" r="2.7"/><circle cx="158.0" cy="40.6" r="2.5"/><circle cx="153.1" cy="38.1" r="2.2"/><circle cx="94.5" cy="112.9" r="2.3"/><circle cx="97.1" cy="109.9" r="2.2"/><circle cx="68.6" cy="157.8" r="3.0"/><circle cx="64.8" cy="155.6" r="2.8"/><circle cx="227.4" cy="85.5" r="2.7"/><circle cx="227.4" cy="91.7" r="2.9"/><circle cx="78.9" cy="96.8" r="2.6"/><circle cx="86.5" cy="93.1" r="2.6"/><circle cx="109.8" cy="168.8" r="2.2"/><circle cx="208.9" cy="107.7" r="3.0"/><circle cx="171.8" cy="18.1" r="2.5"/><circle cx="150.2" cy="96.9" r="2.9"/><circle cx="147.4" cy="102.3" r="2.3"/><circle cx="127.4" cy="145.5" r="2.4"/><circle cx="131.7" cy="144.3" r="3.0"/><circle cx="179.6" cy="10.0" r="2.9"/><circle cx="179.7" cy="14.6" r="2.5"/><circle cx="142.4" cy="69.7" r="2.8"/><circle cx="239.5" cy="78.7" r="2.8"/><circle cx="271.3" cy="38.5" r="2.4"/><circle cx="60.7" cy="118.8" r="2.9"/><circle cx="200.5" cy="99.0" r="2.6"/><circle cx="199.2" cy="105.7" r="2.3"/><circle cx="195.6" cy="103.1" r="3.0"/><circle cx="173.9" cy="43.0" r="2.7"/></g>
<g fill="url(#sg200)"><circle cx="66.8" cy="89.7" r="2.6"/><circle cx="70.1" cy="95.9" r="2.1"/><circle cx="74.7" cy="89.1" r="2.2"/><circle cx="66.5" cy="93.7" r="2.5"/><circle cx="186.7" cy="94.3" r="2.1"/><circle cx="75.2" cy="106.8" r="2.2"/><circle cx="113.8" cy="106.9" r="2.5"/><circle cx="88.4" cy="171.7" r="2.5"/><circle cx="82.2" cy="177.7" r="2.5"/><circle cx="183.7" cy="109.5" r="2.7"/><circle cx="187.5" cy="110.7" r="2.9"/><circle cx="183.6" cy="113.9" r="2.5"/><circle cx="186.4" cy="106.4" r="2.2"/><circle cx="54.6" cy="132.7" r="2.2"/><circle cx="60.6" cy="129.7" r="2.1"/><circle cx="56.4" cy="128.9" r="2.2"/><circle cx="64.9" cy="174.2" r="2.2"/><circle cx="250.6" cy="59.8" r="2.8"/><circle cx="250.3" cy="55.6" r="2.4"/><circle cx="244.9" cy="55.9" r="2.1"/><circle cx="123.7" cy="40.2" r="2.7"/><circle cx="223.8" cy="73.3" r="2.8"/><circle cx="145.7" cy="31.4" r="2.6"/><circle cx="150.1" cy="31.4" r="2.6"/><circle cx="174.3" cy="23.3" r="2.6"/><circle cx="176.6" cy="20.1" r="2.8"/><circle cx="31.9" cy="134.0" r="2.6"/><circle cx="27.4" cy="137.4" r="2.6"/><circle cx="26.9" cy="142.6" r="2.9"/><circle cx="34.5" cy="137.3" r="2.3"/><circle cx="83.8" cy="153.3" r="2.7"/><circle cx="243.1" cy="47.3" r="2.2"/><circle cx="126.0" cy="156.8" r="2.3"/><circle cx="164.1" cy="7.9" r="2.4"/><circle cx="81.9" cy="144.1" r="2.4"/><circle cx="84.2" cy="147.5" r="2.7"/><circle cx="153.2" cy="137.3" r="2.3"/><circle cx="156.8" cy="133.1" r="3.0"/><circle cx="171.4" cy="120.0" r="2.9"/><circle cx="129.6" cy="103.0" r="2.3"/><circle cx="97.5" cy="139.2" r="2.5"/><circle cx="92.7" cy="136.3" r="2.9"/><circle cx="98.6" cy="135.2" r="2.3"/><circle cx="93.9" cy="140.7" r="2.3"/><circle cx="238.1" cy="48.3" r="2.9"/><circle cx="230.9" cy="52.3" r="2.7"/><circle cx="76.3" cy="149.6" r="2.8"/><circle cx="67.8" cy="151.0" r="2.8"/><circle cx="72.9" cy="146.3" r="2.9"/><circle cx="74.3" cy="154.6" r="2.4"/><circle cx="265.8" cy="14.9" r="2.7"/><circle cx="271.5" cy="26.9" r="2.8"/><circle cx="207.9" cy="48.8" r="2.3"/><circle cx="176.3" cy="89.2" r="3.0"/><circle cx="175.2" cy="93.0" r="2.4"/><circle cx="171.3" cy="85.7" r="2.1"/><circle cx="99.2" cy="75.3" r="2.1"/><circle cx="98.3" cy="67.9" r="2.8"/><circle cx="101.5" cy="71.0" r="2.1"/><circle cx="93.2" cy="67.0" r="2.2"/><circle cx="95.5" cy="77.4" r="2.3"/><circle cx="95.6" cy="73.4" r="2.3"/><circle cx="159.4" cy="107.3" r="2.4"/><circle cx="163.1" cy="105.6" r="2.2"/><circle cx="108.2" cy="123.3" r="2.4"/><circle cx="103.9" cy="127.4" r="2.6"/><circle cx="137.9" cy="20.8" r="2.1"/><circle cx="140.3" cy="24.7" r="2.7"/><circle cx="215.1" cy="69.3" r="2.6"/><circle cx="219.9" cy="61.8" r="2.4"/><circle cx="198.6" cy="110.9" r="2.3"/><circle cx="203.8" cy="74.1" r="2.2"/><circle cx="142.6" cy="133.5" r="2.2"/><circle cx="200.5" cy="24.6" r="2.9"/><circle cx="213.8" cy="113.0" r="2.8"/><circle cx="197.3" cy="122.9" r="2.2"/><circle cx="195.4" cy="126.6" r="2.3"/><circle cx="103.4" cy="59.2" r="2.7"/><circle cx="107.0" cy="61.7" r="2.3"/><circle cx="93.9" cy="181.2" r="2.3"/><circle cx="96.6" cy="173.5" r="2.6"/><circle cx="105.3" cy="180.3" r="2.2"/><circle cx="101.4" cy="182.4" r="2.3"/><circle cx="217.5" cy="39.0" r="2.8"/><circle cx="220.2" cy="29.8" r="2.8"/><circle cx="129.0" cy="120.3" r="2.3"/><circle cx="122.4" cy="164.7" r="2.4"/><circle cx="252.6" cy="2.0" r="2.2"/><circle cx="211.3" cy="13.2" r="3.0"/><circle cx="207.8" cy="10.8" r="2.8"/><circle cx="238.5" cy="88.0" r="2.5"/><circle cx="239.8" cy="84.3" r="2.3"/><circle cx="268.0" cy="7.0" r="2.5"/><circle cx="35.6" cy="125.1" r="2.8"/><circle cx="32.3" cy="128.1" r="2.5"/><circle cx="53.8" cy="156.6" r="2.7"/><circle cx="43.0" cy="157.1" r="2.3"/><circle cx="174.4" cy="153.3" r="2.4"/><circle cx="174.6" cy="149.2" r="3.0"/><circle cx="22.4" cy="151.3" r="3.0"/><circle cx="20.0" cy="154.9" r="2.8"/><circle cx="223.5" cy="49.8" r="2.5"/><circle cx="256.0" cy="20.6" r="2.4"/><circle cx="251.7" cy="69.1" r="2.6"/><circle cx="255.6" cy="67.4" r="2.7"/><circle cx="156.5" cy="144.4" r="2.6"/><circle cx="111.3" cy="68.5" r="2.4"/><circle cx="123.9" cy="116.2" r="2.1"/><circle cx="117.0" cy="123.0" r="2.9"/><circle cx="105.7" cy="162.6" r="2.7"/><circle cx="107.7" cy="158.7" r="2.3"/><circle cx="101.8" cy="161.8" r="2.8"/><circle cx="91.5" cy="148.7" r="2.8"/><circle cx="189.4" cy="126.5" r="2.1"/><circle cx="184.2" cy="131.5" r="3.0"/><circle cx="124.0" cy="87.9" r="2.4"/><circle cx="262.2" cy="55.8" r="2.8"/><circle cx="53.9" cy="120.9" r="3.0"/><circle cx="146.4" cy="177.1" r="2.1"/><circle cx="141.8" cy="178.3" r="2.6"/><circle cx="169.5" cy="71.0" r="2.6"/><circle cx="171.7" cy="105.0" r="2.7"/><circle cx="171.3" cy="109.6" r="2.2"/><circle cx="159.1" cy="34.2" r="2.2"/><circle cx="68.6" cy="163.1" r="3.0"/><circle cx="59.8" cy="160.0" r="2.9"/><circle cx="222.0" cy="85.1" r="2.6"/><circle cx="218.9" cy="88.1" r="2.7"/><circle cx="83.1" cy="95.2" r="2.2"/><circle cx="61.8" cy="149.4" r="2.6"/><circle cx="93.3" cy="129.6" r="2.6"/><circle cx="122.2" cy="79.0" r="2.1"/><circle cx="126.2" cy="69.6" r="3.0"/><circle cx="209.3" cy="100.2" r="2.6"/><circle cx="205.9" cy="105.1" r="2.4"/><circle cx="212.5" cy="102.5" r="2.2"/><circle cx="174.0" cy="14.2" r="2.2"/><circle cx="166.9" cy="16.9" r="2.2"/><circle cx="174.8" cy="9.7" r="2.3"/><circle cx="132.3" cy="148.3" r="2.3"/><circle cx="126.8" cy="150.4" r="2.5"/><circle cx="183.9" cy="11.7" r="2.2"/><circle cx="165.5" cy="154.3" r="2.8"/><circle cx="162.5" cy="159.0" r="2.8"/><circle cx="158.6" cy="159.3" r="2.8"/><circle cx="245.9" cy="77.6" r="2.6"/><circle cx="248.0" cy="73.7" r="2.6"/><circle cx="243.9" cy="74.2" r="2.8"/><circle cx="239.2" cy="74.7" r="2.5"/><circle cx="267.8" cy="34.7" r="2.4"/><circle cx="58.9" cy="123.6" r="2.9"/><circle cx="70.6" cy="114.4" r="2.8"/><circle cx="210.6" cy="63.3" r="2.7"/><circle cx="209.1" cy="70.1" r="2.7"/><circle cx="71.6" cy="135.3" r="2.4"/><circle cx="71.2" cy="140.1" r="2.6"/><circle cx="75.4" cy="138.2" r="2.9"/><circle cx="201.8" cy="102.8" r="2.6"/><circle cx="172.1" cy="39.1" r="2.5"/><circle cx="15.7" cy="135.8" r="2.3"/></g>
<g fill="url(#sg210)"><circle cx="70.8" cy="88.0" r="2.2"/><circle cx="202.7" cy="8.4" r="2.5"/><circle cx="206.3" cy="6.0" r="3.0"/><circle cx="198.4" cy="1.7" r="2.7"/><circle cx="207.6" cy="2.0" r="2.7"/><circle cx="80.8" cy="181.7" r="2.9"/><circle cx="83.4" cy="171.6" r="2.5"/><circle cx="254.4" cy="55.4" r="2.9"/><circle cx="251.9" cy="51.2" r="2.3"/><circle cx="119.1" cy="42.5" r="2.3"/><circle cx="228.4" cy="74.4" r="2.5"/><circle cx="227.2" cy="70.3" r="2.3"/><circle cx="231.6" cy="71.6" r="2.8"/><circle cx="150.0" cy="27.0" r="2.5"/><circle cx="142.0" cy="29.9" r="2.6"/><circle cx="28.1" cy="132.6" r="2.9"/><circle cx="77.9" cy="158.2" r="2.1"/><circle cx="80.3" cy="155.1" r="2.2"/><circle cx="126.6" cy="92.5" r="2.3"/><circle cx="250.4" cy="41.4" r="2.5"/><circle cx="246.1" cy="44.0" r="2.1"/><circle cx="244.3" cy="38.3" r="2.2"/><circle cx="249.3" cy="46.2" r="2.4"/><circle cx="123.8" cy="45.0" r="2.6"/><circle cx="157.4" cy="10.7" r="2.6"/><circle cx="83.3" cy="140.2" r="2.1"/><circle cx="86.8" cy="137.6" r="2.7"/><circle cx="153.6" cy="130.9" r="2.2"/><circle cx="122.8" cy="102.4" r="3.0"/><circle cx="95.2" cy="166.4" r="2.9"/><circle cx="259.0" cy="35.0" r="2.2"/><circle cx="277.7" cy="45.9" r="2.7"/><circle cx="270.4" cy="49.2" r="2.5"/><circle cx="208.8" cy="53.1" r="2.2"/><circle cx="176.0" cy="85.2" r="2.4"/><circle cx="88.4" cy="72.9" r="2.9"/><circle cx="136.8" cy="36.0" r="2.4"/><circle cx="210.4" cy="92.8" r="2.3"/><circle cx="157.5" cy="23.9" r="3.0"/><circle cx="162.0" cy="25.1" r="2.3"/><circle cx="158.1" cy="113.0" r="2.2"/><circle cx="103.7" cy="117.2" r="3.0"/><circle cx="103.6" cy="121.4" r="2.5"/><circle cx="99.6" cy="126.4" r="2.3"/><circle cx="108.8" cy="118.8" r="2.3"/><circle cx="142.5" cy="20.1" r="2.5"/><circle cx="222.7" cy="67.3" r="3.0"/><circle cx="144.4" cy="129.2" r="2.3"/><circle cx="138.0" cy="132.6" r="2.7"/><circle cx="201.8" cy="18.3" r="2.6"/><circle cx="197.9" cy="19.8" r="2.5"/><circle cx="216.9" cy="108.0" r="2.4"/><circle cx="223.5" cy="107.8" r="2.5"/><circle cx="194.0" cy="22.5" r="2.2"/><circle cx="194.8" cy="28.6" r="2.5"/><circle cx="189.8" cy="28.8" r="2.9"/><circle cx="104.0" cy="53.2" r="2.9"/><circle cx="101.7" cy="63.7" r="2.1"/><circle cx="93.9" cy="176.4" r="2.7"/><circle cx="215.5" cy="31.3" r="2.1"/><circle cx="119.6" cy="167.5" r="2.7"/><circle cx="219.1" cy="6.4" r="2.6"/><circle cx="224.2" cy="3.7" r="2.8"/><circle cx="227.2" cy="1.0" r="2.3"/><circle cx="244.8" cy="2.0" r="2.8"/><circle cx="248.7" cy="0.4" r="2.4"/><circle cx="245.2" cy="5.9" r="2.1"/><circle cx="234.4" cy="90.3" r="2.1"/><circle cx="111.5" cy="148.0" r="2.6"/><circle cx="270.3" cy="1.3" r="2.5"/><circle cx="274.8" cy="2.1" r="2.6"/><circle cx="272.8" cy="6.3" r="2.3"/><circle cx="43.4" cy="152.3" r="2.8"/><circle cx="47.0" cy="154.1" r="2.7"/><circle cx="114.4" cy="135.9" r="2.7"/><circle cx="115.0" cy="131.6" r="2.5"/><circle cx="14.7" cy="154.8" r="2.2"/><circle cx="17.9" cy="149.8" r="2.5"/><circle cx="25.3" cy="147.5" r="2.7"/><circle cx="21.1" cy="147.3" r="2.3"/><circle cx="103.4" cy="86.0" r="2.2"/><circle cx="216.4" cy="49.6" r="2.1"/><circle cx="15.9" cy="166.9" r="2.9"/><circle cx="155.2" cy="148.7" r="2.7"/><circle cx="105.2" cy="68.8" r="2.8"/><circle cx="108.7" cy="65.1" r="2.5"/><circle cx="115.9" cy="119.1" r="2.4"/><circle cx="115.8" cy="114.7" r="2.7"/><circle cx="43.0" cy="141.8" r="2.7"/><circle cx="110.1" cy="163.2" r="2.7"/><circle cx="164.9" cy="32.5" r="2.8"/><circle cx="99.8" cy="147.9" r="2.1"/><circle cx="95.0" cy="145.9" r="2.1"/><circle cx="88.9" cy="152.6" r="2.9"/><circle cx="190.1" cy="121.4" r="2.2"/><circle cx="114.7" cy="89.1" r="2.4"/><circle cx="258.1" cy="53.3" r="2.5"/><circle cx="148.5" cy="123.9" r="2.6"/><circle cx="147.3" cy="119.4" r="2.1"/><circle cx="154.6" cy="34.4" r="2.6"/><circle cx="64.6" cy="159.6" r="2.2"/><circle cx="225.9" cy="60.6" r="2.6"/><circle cx="44.1" cy="134.8" r="2.6"/><circle cx="47.1" cy="131.8" r="2.2"/><circle cx="87.3" cy="82.6" r="2.3"/><circle cx="80.1" cy="92.0" r="3.0"/><circle cx="57.5" cy="149.9" r="2.2"/><circle cx="62.9" cy="142.8" r="2.9"/><circle cx="57.1" cy="144.3" r="2.5"/><circle cx="89.2" cy="129.6" r="2.5"/><circle cx="122.7" cy="72.1" r="2.6"/><circle cx="170.9" cy="8.8" r="2.5"/><circle cx="123.6" cy="146.7" r="2.6"/><circle cx="160.1" cy="155.6" r="2.8"/><circle cx="264.3" cy="41.8" r="2.9"/><circle cx="266.0" cy="38.2" r="2.5"/><circle cx="64.5" cy="119.6" r="3.0"/><circle cx="207.3" cy="66.6" r="2.6"/><circle cx="204.7" cy="60.9" r="2.4"/><circle cx="203.1" cy="65.3" r="2.4"/><circle cx="195.9" cy="99.1" r="3.0"/><circle cx="18.1" cy="131.7" r="2.7"/></g>
<g fill="url(#sg220)"><circle cx="70.7" cy="104.7" r="2.2"/><circle cx="67.3" cy="101.7" r="2.4"/><circle cx="71.3" cy="109.9" r="2.7"/><circle cx="73.8" cy="101.4" r="2.6"/><circle cx="115.9" cy="103.2" r="2.2"/><circle cx="118.3" cy="98.5" r="2.9"/><circle cx="203.8" cy="-0.2" r="2.7"/><circle cx="202.1" cy="3.4" r="3.0"/><circle cx="85.6" cy="175.6" r="2.9"/><circle cx="78.4" cy="175.8" r="2.9"/><circle cx="81.9" cy="167.6" r="2.3"/><circle cx="86.2" cy="168.3" r="2.3"/><circle cx="247.6" cy="51.7" r="2.4"/><circle cx="116.8" cy="39.1" r="2.3"/><circle cx="218.6" cy="23.7" r="2.2"/><circle cx="223.2" cy="19.5" r="2.2"/><circle cx="77.0" cy="162.9" r="2.8"/><circle cx="162.6" cy="2.5" r="2.7"/><circle cx="158.6" cy="4.2" r="2.9"/><circle cx="247.0" cy="29.3" r="2.8"/><circle cx="242.0" cy="32.1" r="2.6"/><circle cx="75.5" cy="75.2" r="2.9"/><circle cx="79.6" cy="73.3" r="2.1"/><circle cx="79.8" cy="69.1" r="2.5"/><circle cx="234.1" cy="43.5" r="2.9"/><circle cx="139.8" cy="165.0" r="2.5"/><circle cx="99.1" cy="167.8" r="2.1"/><circle cx="90.5" cy="163.9" r="2.7"/><circle cx="254.9" cy="32.0" r="2.6"/><circle cx="72.0" cy="151.4" r="2.7"/><circle cx="68.7" cy="147.1" r="2.6"/><circle cx="272.5" cy="45.3" r="2.7"/><circle cx="92.1" cy="71.2" r="2.9"/><circle cx="96.3" cy="101.3" r="2.4"/><circle cx="135.2" cy="39.7" r="2.6"/><circle cx="131.3" cy="37.9" r="2.8"/><circle cx="136.0" cy="31.0" r="2.3"/><circle cx="211.0" cy="88.9" r="2.4"/><circle cx="202.7" cy="91.8" r="3.0"/><circle cx="158.2" cy="20.0" r="2.2"/><circle cx="155.2" cy="110.2" r="2.7"/><circle cx="135.6" cy="24.8" r="2.2"/><circle cx="215.1" cy="64.8" r="2.9"/><circle cx="132.6" cy="111.1" r="2.9"/><circle cx="139.6" cy="128.3" r="2.7"/><circle cx="188.3" cy="25.1" r="2.1"/><circle cx="189.4" cy="20.5" r="2.3"/><circle cx="146.6" cy="17.0" r="2.7"/><circle cx="222.2" cy="10.4" r="2.9"/><circle cx="219.0" cy="0.9" r="2.9"/><circle cx="225.4" cy="7.9" r="2.9"/><circle cx="249.0" cy="4.6" r="2.7"/><circle cx="235.1" cy="83.6" r="2.4"/><circle cx="231.8" cy="87.3" r="2.2"/><circle cx="107.8" cy="149.4" r="2.4"/><circle cx="115.6" cy="145.6" r="2.7"/><circle cx="38.1" cy="155.6" r="2.9"/><circle cx="108.8" cy="135.2" r="2.4"/><circle cx="117.3" cy="128.4" r="2.2"/><circle cx="98.1" cy="86.4" r="2.3"/><circle cx="237.0" cy="69.0" r="2.4"/><circle cx="241.4" cy="67.7" r="2.2"/><circle cx="245.0" cy="65.5" r="2.4"/><circle cx="217.9" cy="45.1" r="2.4"/><circle cx="251.6" cy="65.1" r="2.5"/><circle cx="152.3" cy="141.3" r="2.5"/><circle cx="120.0" cy="112.7" r="2.7"/><circle cx="112.1" cy="116.6" r="2.1"/><circle cx="103.1" cy="157.7" r="2.8"/><circle cx="185.3" cy="127.6" r="2.3"/><circle cx="185.2" cy="120.7" r="2.9"/><circle cx="120.1" cy="91.6" r="2.5"/><circle cx="123.7" cy="83.8" r="2.5"/><circle cx="259.3" cy="46.8" r="2.7"/><circle cx="264.4" cy="47.2" r="2.8"/><circle cx="49.7" cy="118.3" r="2.7"/><circle cx="45.8" cy="121.3" r="2.4"/><circle cx="143.8" cy="121.9" r="2.2"/><circle cx="152.9" cy="119.0" r="2.8"/><circle cx="150.7" cy="115.4" r="2.6"/><circle cx="235.6" cy="17.2" r="2.6"/><circle cx="237.7" cy="5.4" r="2.5"/><circle cx="40.9" cy="132.6" r="2.3"/><circle cx="49.4" cy="135.0" r="2.7"/><circle cx="47.8" cy="127.9" r="2.6"/><circle cx="43.9" cy="129.5" r="2.7"/><circle cx="79.8" cy="78.2" r="2.9"/><circle cx="83.3" cy="83.7" r="2.9"/><circle cx="87.3" cy="86.6" r="2.4"/><circle cx="78.5" cy="86.5" r="2.4"/><circle cx="119.1" cy="74.4" r="2.9"/><circle cx="122.4" cy="67.9" r="2.8"/><circle cx="81.5" cy="107.5" r="2.2"/><circle cx="85.6" cy="105.6" r="2.1"/><circle cx="67.4" cy="138.6" r="2.5"/></g>
<g fill="url(#sg230)"><circle cx="67.3" cy="108.4" r="2.3"/><circle cx="114.8" cy="96.7" r="2.1"/><circle cx="111.5" cy="102.7" r="2.8"/><circle cx="110.3" cy="98.3" r="2.7"/><circle cx="199.0" cy="6.5" r="2.4"/><circle cx="78.5" cy="171.5" r="2.2"/><circle cx="120.4" cy="31.6" r="2.5"/><circle cx="117.2" cy="34.3" r="3.0"/><circle cx="124.2" cy="35.0" r="2.4"/><circle cx="41.9" cy="111.1" r="2.9"/><circle cx="37.2" cy="112.9" r="2.7"/><circle cx="40.1" cy="116.1" r="2.2"/><circle cx="44.5" cy="115.4" r="2.9"/><circle cx="45.9" cy="110.9" r="2.8"/><circle cx="216.4" cy="19.7" r="2.2"/><circle cx="219.3" cy="16.1" r="2.8"/><circle cx="223.1" cy="24.0" r="2.2"/><circle cx="29.7" cy="119.2" r="2.4"/><circle cx="32.5" cy="115.2" r="2.9"/><circle cx="28.0" cy="113.1" r="2.2"/><circle cx="24.8" cy="115.5" r="2.3"/><circle cx="241.3" cy="43.1" r="2.3"/><circle cx="240.3" cy="38.6" r="2.9"/><circle cx="154.8" cy="5.5" r="2.2"/><circle cx="159.0" cy="0.1" r="2.7"/><circle cx="238.6" cy="26.5" r="2.2"/><circle cx="246.2" cy="24.0" r="2.8"/><circle cx="242.6" cy="22.3" r="2.6"/><circle cx="242.7" cy="27.5" r="2.7"/><circle cx="76.0" cy="71.1" r="2.7"/><circle cx="72.1" cy="70.8" r="2.4"/><circle cx="98.0" cy="162.9" r="2.5"/><circle cx="95.0" cy="158.4" r="2.1"/><circle cx="254.9" cy="36.5" r="3.0"/><circle cx="94.6" cy="95.5" r="2.3"/><circle cx="90.4" cy="96.8" r="2.1"/><circle cx="90.9" cy="101.5" r="2.9"/><circle cx="128.8" cy="34.0" r="2.8"/><circle cx="132.1" cy="31.0" r="2.3"/><circle cx="206.1" cy="88.9" r="2.7"/><circle cx="206.4" cy="94.0" r="2.2"/><circle cx="202.6" cy="87.0" r="2.8"/><circle cx="163.7" cy="21.6" r="2.1"/><circle cx="153.4" cy="21.2" r="2.9"/><circle cx="160.9" cy="16.6" r="2.9"/><circle cx="157.1" cy="15.7" r="3.0"/><circle cx="99.0" cy="120.3" r="3.0"/><circle cx="136.2" cy="15.9" r="2.5"/><circle cx="132.8" cy="18.6" r="2.5"/><circle cx="137.4" cy="106.7" r="2.8"/><circle cx="139.4" cy="113.5" r="2.3"/><circle cx="141.4" cy="109.4" r="2.5"/><circle cx="134.5" cy="115.3" r="2.9"/><circle cx="219.7" cy="105.2" r="2.6"/><circle cx="149.1" cy="13.8" r="2.3"/><circle cx="148.4" cy="6.9" r="2.5"/><circle cx="143.7" cy="14.2" r="2.9"/><circle cx="151.1" cy="9.8" r="2.2"/><circle cx="145.1" cy="9.4" r="2.8"/><circle cx="54.3" cy="98.5" r="2.3"/><circle cx="50.1" cy="98.2" r="2.8"/><circle cx="59.4" cy="99.8" r="2.8"/><circle cx="54.0" cy="103.2" r="2.9"/><circle cx="215.4" cy="2.5" r="2.1"/><circle cx="223.4" cy="-0.5" r="2.8"/><circle cx="106.8" cy="145.0" r="2.4"/><circle cx="114.7" cy="140.8" r="2.3"/><circle cx="110.5" cy="141.9" r="2.8"/><circle cx="106.4" cy="140.7" r="2.2"/><circle cx="37.4" cy="150.1" r="2.5"/><circle cx="111.8" cy="128.9" r="2.7"/><circle cx="107.5" cy="131.3" r="2.8"/><circle cx="93.0" cy="87.6" r="2.5"/><circle cx="97.6" cy="80.5" r="2.8"/><circle cx="93.1" cy="82.8" r="2.5"/><circle cx="102.3" cy="81.5" r="2.3"/><circle cx="237.4" cy="63.2" r="2.7"/><circle cx="241.7" cy="63.4" r="2.8"/><circle cx="223.8" cy="44.6" r="2.4"/><circle cx="193.1" cy="11.2" r="2.2"/><circle cx="192.8" cy="15.6" r="2.7"/><circle cx="189.2" cy="9.7" r="2.1"/><circle cx="193.0" cy="7.3" r="2.7"/><circle cx="150.7" cy="148.0" r="2.2"/><circle cx="149.3" cy="143.9" r="2.9"/><circle cx="182.6" cy="124.5" r="2.5"/><circle cx="120.1" cy="86.7" r="2.2"/><circle cx="124.5" cy="21.4" r="2.9"/><circle cx="129.5" cy="22.0" r="2.2"/><circle cx="124.8" cy="27.9" r="2.8"/><circle cx="129.0" cy="26.7" r="2.8"/><circle cx="121.3" cy="24.6" r="2.3"/><circle cx="107.2" cy="44.7" r="2.5"/><circle cx="113.5" cy="42.4" r="2.3"/><circle cx="114.3" cy="49.2" r="2.8"/><circle cx="106.8" cy="49.3" r="2.2"/><circle cx="110.5" cy="51.0" r="2.8"/><circle cx="111.7" cy="46.1" r="2.6"/><circle cx="145.4" cy="114.9" r="2.9"/><circle cx="142.6" cy="117.7" r="2.6"/><circle cx="42.1" cy="103.2" r="2.6"/><circle cx="46.4" cy="102.6" r="2.2"/><circle cx="228.1" cy="16.8" r="3.0"/><circle cx="234.2" cy="20.9" r="2.5"/><circle cx="229.8" cy="12.2" r="2.2"/><circle cx="232.1" cy="15.4" r="3.0"/><circle cx="230.1" cy="20.3" r="2.1"/><circle cx="231.6" cy="1.7" r="2.2"/><circle cx="236.1" cy="1.8" r="2.2"/><circle cx="233.0" cy="7.1" r="2.9"/><circle cx="17.3" cy="121.6" r="2.9"/><circle cx="18.9" cy="126.9" r="2.3"/><circle cx="23.1" cy="121.5" r="2.4"/><circle cx="25.0" cy="126.0" r="2.3"/><circle cx="40.5" cy="136.5" r="2.3"/><circle cx="93.2" cy="59.9" r="2.6"/><circle cx="95.3" cy="56.6" r="2.2"/><circle cx="91.9" cy="52.9" r="2.5"/><circle cx="88.8" cy="57.2" r="2.1"/><circle cx="77.9" cy="82.2" r="2.9"/><circle cx="84.5" cy="79.4" r="2.5"/><circle cx="92.3" cy="125.8" r="2.9"/><circle cx="88.1" cy="125.8" r="2.9"/><circle cx="64.8" cy="82.2" r="2.1"/><circle cx="68.3" cy="77.8" r="2.3"/><circle cx="68.7" cy="83.6" r="2.3"/><circle cx="72.6" cy="80.0" r="2.9"/><circle cx="169.0" cy="13.3" r="2.6"/><circle cx="81.0" cy="103.5" r="2.6"/></g>
</g>
<rect x="19" y="4" width="257" height="171.5" filter="url(#netA)" style="mix-blend-mode:multiply" opacity="0.4"/>
<rect x="19" y="4" width="257" height="171.5" filter="url(#grainA)" style="mix-blend-mode:overlay" opacity="0.9"/>
<path d="M19.0,125.6 L26.6,117.0 L38.0,111.4 L45.6,101.9 L46.6,94.2 L57.0,90.4 L68.5,82.8 L74.2,74.3 L80.0,67.7 L89.5,61.1 L95.2,50.6 L104.7,46.8 L113.3,44.9 L120.0,38.2 L125.7,23.0 L132.3,19.2 L140.9,19.2 L148.5,11.6 L156.1,4.0" fill="none" stroke="#fff" stroke-width="5" stroke-opacity="0.35" filter="url(#bl1)" transform="translate(1.5,1.5)"/>
</g>
</g>
<rect x="127.7" y="55.7" width="68.1" height="43.7" fill="none" stroke="#fbcb06" stroke-width="2.4"/>
<g class="semlab">
<text transform="translate(84.6,39.6) rotate(-41)" text-anchor="middle" dy="5.6" style="font-size:16.8px">Si Trench</text>
<text transform="translate(240.5,107.5) rotate(-46)" text-anchor="middle" dy="4.5" style="font-size:13.5px">Pt Black</text>
<text transform="translate(255,120.5) rotate(-46)" text-anchor="middle" dy="4.5" style="font-size:13.5px">on Beam</text>
</g>
<circle cx="225.6" cy="91.8" r="2.1" fill="#fff"/><line x1="225.6" y1="91.8" x2="233.4" y2="99.4" stroke="#fff" stroke-width="1.1"/>
<rect x="32.7" y="154.7" width="200" height="15.6" fill="#060606"/>
<g class="sem"><text x="34" y="161.2" textLength="16" lengthAdjust="spacingAndGlyphs">Acc.V</text><text x="55.5" y="161.2" textLength="29" lengthAdjust="spacingAndGlyphs">Spot Magn</text><text x="94.5" y="161.2" textLength="8.2" lengthAdjust="spacingAndGlyphs">Det</text><text x="107.3" y="161.2" textLength="10" lengthAdjust="spacingAndGlyphs">WD</text><text x="34.5" y="168.2" textLength="29.1" lengthAdjust="spacingAndGlyphs">10.0 kV 3.0</text><text x="69" y="168.2" textLength="15.5" lengthAdjust="spacingAndGlyphs">8000x</text><text x="94.5" y="168.2" textLength="21" lengthAdjust="spacingAndGlyphs">TLD 5.0</text><text x="122.5" y="168.2" textLength="14.8" lengthAdjust="spacingAndGlyphs">KIMM</text><text x="197.5" y="161.3" textLength="15.9" lengthAdjust="spacingAndGlyphs">10 μm</text></g>
<path d="M121.8,159.5 H190.7 M121.8,157.8 V161.2 M190.7,157.8 V161.2" stroke="#ddd" stroke-width="0.8" fill="none"/>
<rect x="236.3" y="145.7" width="28" height="23" fill="#fff"/>
<text x="241.2" y="162" class="lab">(a)</text>
<g clip-path="url(#clipB)">
<rect x="285" y="5" width="257.5" height="170.5" filter="url(#bgB)"/>
<g filter="url(#blurS)">
<ellipse cx="329" cy="32" rx="8" ry="8" fill="url(#sb100)"/>
<ellipse cx="317" cy="50" rx="11" ry="10" fill="url(#sb110)"/>
<ellipse cx="336" cy="46" rx="10" ry="10" fill="url(#sb100)"/>
<ellipse cx="306" cy="42" rx="9" ry="8" fill="url(#sb80)"/>
<ellipse cx="432" cy="56" rx="14" ry="11" fill="url(#sb100)"/>
<ellipse cx="398" cy="51" rx="10" ry="8" fill="url(#sb80)"/>
<ellipse cx="358" cy="92" rx="11" ry="16" fill="url(#sb90)"/>
<ellipse cx="455" cy="92" rx="11" ry="14" fill="url(#sb100)"/>
<ellipse cx="503" cy="138" rx="10" ry="10" fill="url(#sb80)"/>
<ellipse cx="456" cy="142" rx="10" ry="10" fill="url(#sb110)"/>
<ellipse cx="363" cy="133" rx="11" ry="10" fill="url(#sb80)"/>
<ellipse cx="292" cy="158" rx="9" ry="10" fill="url(#sb70)"/>
<ellipse cx="340" cy="160" rx="14" ry="8" fill="url(#sb70)"/>
<ellipse cx="385" cy="160" rx="14" ry="8" fill="url(#sb80)"/>
<ellipse cx="300" cy="45" rx="10" ry="10" fill="url(#sb70)"/>
<ellipse cx="470" cy="150" rx="12" ry="8" fill="url(#sb90)"/>
<ellipse cx="525" cy="58" rx="10" ry="12" fill="url(#sb60)"/>
<ellipse cx="445" cy="20" rx="6" ry="10" fill="url(#sb70)"/>
</g>
<g filter="url(#softB)">
<g fill="rgb(70,70,70)"><circle cx="289.6" cy="18.5" r="8.0"/><circle cx="298.4" cy="9.9" r="8.7"/><circle cx="315.7" cy="7.2" r="7.9"/><circle cx="298.1" cy="29.1" r="8.4"/><circle cx="308.7" cy="19.8" r="8.8"/><circle cx="326.4" cy="15.3" r="8.4"/><circle cx="310.9" cy="33.6" r="8.9"/><circle cx="322.1" cy="27.0" r="7.9"/></g>
<g fill="url(#pb120)" stroke="rgb(180,180,180)" stroke-width="0.6"><rect x="285.7" y="21.7" width="7.4" height="7.4" rx="2.8"/><rect x="311.6" y="36.7" width="6.9" height="6.9" rx="2.6"/><rect x="305.7" y="35.7" width="8.1" height="8.1" rx="3.0"/><rect x="318.0" y="30.2" width="7.5" height="7.5" rx="2.8"/></g>
<g fill="url(#pb130)" stroke="rgb(180,180,180)" stroke-width="0.6"><rect x="296.6" y="11.2" width="7.8" height="7.8" rx="2.9"/><rect x="300.4" y="28.3" width="6.7" height="6.7" rx="2.5"/><rect x="311.5" y="17.8" width="8.0" height="8.0" rx="3.0"/><rect x="328.8" y="14.4" width="7.5" height="7.5" rx="2.8"/><rect x="308.4" y="31.3" width="6.6" height="6.6" rx="2.5"/><rect x="321.2" y="26.4" width="8.1" height="8.1" rx="3.0"/></g>
<g fill="url(#pb140)" stroke="rgb(200,200,200)" stroke-width="0.6"><rect x="290.3" y="17.8" width="7.9" height="7.9" rx="3.0"/><rect x="291.6" y="9.0" width="8.4" height="8.4" rx="3.1"/><rect x="299.8" y="7.4" width="7.0" height="7.0" rx="2.6"/><rect x="295.6" y="25.5" width="7.8" height="7.8" rx="2.9"/><rect x="300.4" y="21.0" width="6.9" height="6.9" rx="2.6"/><rect x="292.7" y="29.9" width="8.2" height="8.2" rx="3.1"/><rect x="287.8" y="29.5" width="8.0" height="8.0" rx="3.0"/><rect x="306.8" y="23.6" width="7.1" height="7.1" rx="2.7"/><rect x="325.7" y="18.6" width="6.6" height="6.6" rx="2.5"/><rect x="310.9" y="23.7" width="8.3" height="8.3" rx="3.1"/><rect x="315.1" y="29.0" width="6.0" height="6.0" rx="2.2"/><rect x="300.1" y="34.1" width="7.6" height="7.6" rx="2.8"/><rect x="323.7" y="19.0" width="7.5" height="7.5" rx="2.8"/></g>
<g fill="url(#pb150)" stroke="rgb(200,200,200)" stroke-width="0.6"><rect x="290.2" y="12.8" width="7.6" height="7.6" rx="2.9"/><rect x="284.3" y="15.3" width="7.7" height="7.7" rx="2.9"/><rect x="282.1" y="19.9" width="6.3" height="6.3" rx="2.3"/><rect x="300.3" y="1.6" width="5.8" height="5.8" rx="2.2"/><rect x="318.1" y="5.9" width="7.4" height="7.4" rx="2.8"/><rect x="308.8" y="10.0" width="7.4" height="7.4" rx="2.8"/><rect x="294.9" y="20.9" width="6.3" height="6.3" rx="2.4"/><rect x="323.4" y="13.1" width="7.9" height="7.9" rx="3.0"/><rect x="303.8" y="27.7" width="7.0" height="7.0" rx="2.6"/><rect x="314.8" y="25.5" width="8.4" height="8.4" rx="3.1"/></g>
<g fill="url(#pb160)" stroke="rgb(220,220,220)" stroke-width="0.6"><rect x="293.1" y="3.8" width="6.8" height="6.8" rx="2.6"/><rect x="287.1" y="7.1" width="8.2" height="8.2" rx="3.1"/><rect x="313.3" y="6.8" width="6.9" height="6.9" rx="2.6"/><rect x="300.6" y="22.5" width="6.5" height="6.5" rx="2.4"/><rect x="312.7" y="13.6" width="6.7" height="6.7" rx="2.5"/><rect x="325.9" y="6.1" width="8.1" height="8.1" rx="3.0"/><rect x="318.6" y="16.5" width="7.0" height="7.0" rx="2.6"/></g>
<g fill="url(#pb170)" stroke="rgb(220,220,220)" stroke-width="0.6"><rect x="282.4" y="8.8" width="7.7" height="7.7" rx="2.9"/><rect x="316.2" y="1.6" width="6.3" height="6.3" rx="2.3"/><rect x="306.8" y="6.3" width="6.2" height="6.2" rx="2.3"/><rect x="303.4" y="13.6" width="6.6" height="6.6" rx="2.5"/><rect x="307.3" y="15.2" width="8.1" height="8.1" rx="3.0"/><rect x="309.3" y="9.5" width="6.8" height="6.8" rx="2.5"/><rect x="318.0" y="19.0" width="6.9" height="6.9" rx="2.6"/></g>
<g fill="url(#pb180)" stroke="rgb(240,240,240)" stroke-width="0.6"><rect x="278.4" y="15.0" width="7.9" height="7.9" rx="2.9"/><rect x="288.3" y="8.7" width="6.4" height="6.4" rx="2.4"/><rect x="289.3" y="20.9" width="7.7" height="7.7" rx="2.9"/><rect x="305.3" y="21.6" width="7.9" height="7.9" rx="3.0"/><rect x="311.3" y="21.4" width="8.3" height="8.3" rx="3.1"/></g>
<g fill="url(#pb190)" stroke="rgb(240,240,240)" stroke-width="0.6"><rect x="288.1" y="1.6" width="7.4" height="7.4" rx="2.8"/><rect x="293.9" y="-0.9" width="6.7" height="6.7" rx="2.5"/><rect x="310.0" y="-0.7" width="6.3" height="6.3" rx="2.3"/><rect x="300.2" y="17.3" width="6.9" height="6.9" rx="2.6"/><rect x="303.5" y="7.9" width="7.9" height="7.9" rx="3.0"/><rect x="320.7" y="7.9" width="7.7" height="7.7" rx="2.9"/><rect x="315.8" y="11.5" width="7.7" height="7.7" rx="2.9"/></g>
<g fill="url(#pb200)" stroke="rgb(240,240,240)" stroke-width="0.6"><rect x="298.1" y="12.0" width="7.1" height="7.1" rx="2.7"/></g>
<g fill="rgb(70,70,70)"><circle cx="307.0" cy="62.1" r="8.9"/><circle cx="297.9" cy="76.0" r="8.9"/><circle cx="289.7" cy="93.3" r="7.9"/><circle cx="321.7" cy="61.4" r="9.6"/><circle cx="311.9" cy="74.7" r="9.1"/><circle cx="304.5" cy="85.7" r="8.3"/><circle cx="291.4" cy="105.1" r="9.1"/><circle cx="325.0" cy="73.5" r="8.2"/><circle cx="309.1" cy="98.5" r="7.6"/><circle cx="321.6" cy="87.1" r="9.5"/><circle cx="341.5" cy="77.5" r="8.7"/><circle cx="294.8" cy="126.4" r="8.1"/><circle cx="303.4" cy="118.3" r="8.1"/><circle cx="335.9" cy="88.7" r="9.3"/><circle cx="330.3" cy="98.8" r="8.4"/><circle cx="316.6" cy="115.7" r="8.9"/><circle cx="347.3" cy="91.5" r="8.2"/><circle cx="305.0" cy="134.3" r="8.0"/><circle cx="332.3" cy="115.8" r="9.3"/><circle cx="318.9" cy="134.8" r="9.3"/><circle cx="348.9" cy="107.9" r="8.4"/><circle cx="330.6" cy="129.8" r="9.0"/><circle cx="341.9" cy="127.3" r="9.3"/></g>
<g fill="url(#pb100)" stroke="rgb(160,160,160)" stroke-width="0.6"><rect x="291.2" y="109.9" width="5.8" height="5.8" rx="2.2"/></g>
<g fill="url(#pb110)" stroke="rgb(160,160,160)" stroke-width="0.6"><rect x="344.5" y="76.9" width="7.1" height="7.1" rx="2.7"/><rect x="298.6" y="123.7" width="5.9" height="5.9" rx="2.2"/><rect x="332.2" y="92.7" width="6.1" height="6.1" rx="2.3"/><rect x="303.5" y="136.9" width="6.9" height="6.9" rx="2.6"/></g>
<g fill="url(#pb120)" stroke="rgb(180,180,180)" stroke-width="0.6"><rect x="293.1" y="91.4" width="7.3" height="7.3" rx="2.7"/><rect x="317.8" y="65.7" width="7.3" height="7.3" rx="2.7"/><rect x="312.8" y="74.8" width="6.3" height="6.3" rx="2.4"/><rect x="310.4" y="79.3" width="6.7" height="6.7" rx="2.5"/><rect x="295.3" y="106.5" width="6.2" height="6.2" rx="2.3"/><rect x="340.2" y="73.9" width="7.4" height="7.4" rx="2.8"/><rect x="337.4" y="79.3" width="8.1" height="8.1" rx="3.0"/><rect x="292.2" y="126.5" width="7.2" height="7.2" rx="2.7"/><rect x="288.4" y="129.6" width="6.3" height="6.3" rx="2.4"/><rect x="337.6" y="92.2" width="6.0" height="6.0" rx="2.2"/><rect x="350.7" y="92.7" width="5.8" height="5.8" rx="2.2"/><rect x="317.5" y="139.7" width="7.1" height="7.1" rx="2.7"/><rect x="320.0" y="134.3" width="7.1" height="7.1" rx="2.7"/><rect x="330.2" y="133.7" width="6.6" height="6.6" rx="2.5"/><rect x="331.1" y="127.9" width="5.9" height="5.9" rx="2.2"/><rect x="324.0" y="133.2" width="8.2" height="8.2" rx="3.1"/><rect x="343.4" y="130.5" width="6.3" height="6.3" rx="2.3"/></g>
<g fill="url(#pb130)" stroke="rgb(180,180,180)" stroke-width="0.6"><rect x="308.0" y="62.1" width="7.2" height="7.2" rx="2.7"/><rect x="301.4" y="76.9" width="6.6" height="6.6" rx="2.5"/><rect x="287.7" y="96.9" width="6.7" height="6.7" rx="2.5"/><rect x="322.7" y="64.3" width="7.3" height="7.3" rx="2.7"/><rect x="317.2" y="72.3" width="5.9" height="5.9" rx="2.2"/><rect x="287.1" y="104.6" width="8.1" height="8.1" rx="3.0"/><rect x="342.2" y="68.1" width="7.6" height="7.6" rx="2.8"/><rect x="295.3" y="117.2" width="6.5" height="6.5" rx="2.4"/><rect x="292.1" y="121.5" width="6.6" height="6.6" rx="2.5"/><rect x="339.1" y="81.1" width="6.3" height="6.3" rx="2.3"/><rect x="318.8" y="113.6" width="7.8" height="7.8" rx="2.9"/><rect x="347.5" y="87.9" width="6.9" height="6.9" rx="2.6"/><rect x="343.7" y="94.9" width="7.5" height="7.5" rx="2.8"/><rect x="307.6" y="132.6" width="7.9" height="7.9" rx="3.0"/><rect x="320.3" y="126.9" width="7.2" height="7.2" rx="2.7"/><rect x="347.4" y="107.7" width="6.9" height="6.9" rx="2.6"/><rect x="352.2" y="103.3" width="6.5" height="6.5" rx="2.4"/><rect x="332.9" y="121.9" width="6.7" height="6.7" rx="2.5"/><rect x="338.2" y="130.9" width="5.8" height="5.8" rx="2.2"/><rect x="346.4" y="122.6" width="6.0" height="6.0" rx="2.2"/></g>
<g fill="url(#pb140)" stroke="rgb(200,200,200)" stroke-width="0.6"><rect x="296.9" y="73.6" width="6.6" height="6.6" rx="2.5"/><rect x="296.4" y="78.8" width="6.8" height="6.8" rx="2.5"/><rect x="316.5" y="61.4" width="6.7" height="6.7" rx="2.5"/><rect x="312.5" y="64.6" width="5.9" height="5.9" rx="2.2"/><rect x="305.1" y="79.3" width="6.1" height="6.1" rx="2.3"/><rect x="301.9" y="88.6" width="6.1" height="6.1" rx="2.3"/><rect x="305.6" y="86.5" width="8.3" height="8.3" rx="3.1"/><rect x="281.9" y="107.4" width="8.4" height="8.4" rx="3.1"/><rect x="291.3" y="99.9" width="7.7" height="7.7" rx="2.9"/><rect x="279.6" y="102.8" width="8.3" height="8.3" rx="3.1"/><rect x="327.2" y="73.1" width="5.9" height="5.9" rx="2.2"/><rect x="326.2" y="87.6" width="6.4" height="6.4" rx="2.4"/><rect x="305.8" y="118.0" width="7.2" height="7.2" rx="2.7"/><rect x="300.3" y="122.6" width="6.0" height="6.0" rx="2.3"/><rect x="333.7" y="83.5" width="6.8" height="6.8" rx="2.5"/><rect x="326.9" y="87.3" width="7.4" height="7.4" rx="2.8"/><rect x="338.0" y="85.7" width="6.8" height="6.8" rx="2.5"/><rect x="333.2" y="96.5" width="7.2" height="7.2" rx="2.7"/><rect x="311.7" y="119.4" width="8.4" height="8.4" rx="3.1"/><rect x="317.5" y="119.2" width="6.1" height="6.1" rx="2.3"/><rect x="336.8" y="112.9" width="7.7" height="7.7" rx="2.9"/><rect x="326.3" y="117.4" width="7.4" height="7.4" rx="2.8"/><rect x="314.9" y="133.2" width="7.8" height="7.8" rx="2.9"/><rect x="321.7" y="128.3" width="5.9" height="5.9" rx="2.2"/><rect x="325.9" y="125.1" width="5.9" height="5.9" rx="2.2"/><rect x="341.2" y="123.9" width="6.2" height="6.2" rx="2.3"/></g>
<g fill="url(#pb150)" stroke="rgb(200,200,200)" stroke-width="0.6"><rect x="307.7" y="52.4" width="7.1" height="7.1" rx="2.7"/><rect x="302.8" y="64.6" width="8.2" height="8.2" rx="3.1"/><rect x="305.1" y="57.5" width="8.0" height="8.0" rx="3.0"/><rect x="302.1" y="69.5" width="5.9" height="5.9" rx="2.2"/><rect x="325.3" y="56.5" width="7.0" height="7.0" rx="2.6"/><rect x="322.0" y="54.1" width="6.0" height="6.0" rx="2.2"/><rect x="320.5" y="58.8" width="6.9" height="6.9" rx="2.6"/><rect x="306.7" y="68.4" width="7.8" height="7.8" rx="2.9"/><rect x="307.5" y="74.4" width="7.2" height="7.2" rx="2.7"/><rect x="291.6" y="94.0" width="7.3" height="7.3" rx="2.7"/><rect x="322.0" y="67.7" width="6.7" height="6.7" rx="2.5"/><rect x="320.6" y="74.1" width="6.7" height="6.7" rx="2.5"/><rect x="328.0" y="67.5" width="7.6" height="7.6" rx="2.9"/><rect x="312.4" y="93.3" width="6.4" height="6.4" rx="2.4"/><rect x="307.8" y="96.3" width="8.0" height="8.0" rx="3.0"/><rect x="322.9" y="91.6" width="6.3" height="6.3" rx="2.4"/><rect x="334.9" y="76.6" width="6.0" height="6.0" rx="2.3"/><rect x="301.0" y="116.9" width="6.8" height="6.8" rx="2.6"/><rect x="305.8" y="113.3" width="5.9" height="5.9" rx="2.2"/><rect x="332.5" y="92.4" width="5.9" height="5.9" rx="2.2"/><rect x="328.8" y="98.6" width="6.6" height="6.6" rx="2.5"/><rect x="343.2" y="90.5" width="6.5" height="6.5" rx="2.4"/><rect x="348.8" y="82.8" width="6.0" height="6.0" rx="2.3"/><rect x="333.3" y="118.2" width="6.6" height="6.6" rx="2.5"/><rect x="332.5" y="106.6" width="7.0" height="7.0" rx="2.6"/><rect x="331.9" y="111.9" width="8.0" height="8.0" rx="3.0"/><rect x="309.9" y="133.5" width="6.7" height="6.7" rx="2.5"/><rect x="310.6" y="138.1" width="7.3" height="7.3" rx="2.7"/><rect x="347.0" y="100.6" width="5.8" height="5.8" rx="2.2"/><rect x="343.0" y="112.1" width="6.0" height="6.0" rx="2.3"/><rect x="328.5" y="120.2" width="6.5" height="6.5" rx="2.4"/><rect x="332.6" y="126.9" width="7.9" height="7.9" rx="3.0"/></g>
<g fill="url(#pb160)" stroke="rgb(220,220,220)" stroke-width="0.6"><rect x="298.6" y="63.7" width="6.9" height="6.9" rx="2.6"/><rect x="310.6" y="56.6" width="7.1" height="7.1" rx="2.7"/><rect x="288.2" y="86.9" width="8.1" height="8.1" rx="3.1"/><rect x="282.4" y="92.9" width="7.6" height="7.6" rx="2.9"/><rect x="310.6" y="59.4" width="7.0" height="7.0" rx="2.6"/><rect x="302.4" y="74.0" width="6.5" height="6.5" rx="2.4"/><rect x="313.9" y="66.4" width="7.8" height="7.8" rx="2.9"/><rect x="309.4" y="63.9" width="6.2" height="6.2" rx="2.3"/><rect x="306.5" y="82.0" width="6.3" height="6.3" rx="2.4"/><rect x="285.1" y="98.1" width="7.9" height="7.9" rx="2.9"/><rect x="304.1" y="99.0" width="6.9" height="6.9" rx="2.6"/><rect x="314.7" y="89.2" width="8.4" height="8.4" rx="3.1"/><rect x="323.7" y="83.8" width="5.8" height="5.8" rx="2.2"/><rect x="324.9" y="78.6" width="7.3" height="7.3" rx="2.7"/><rect x="336.1" y="68.3" width="8.2" height="8.2" rx="3.1"/><rect x="287.0" y="122.3" width="6.7" height="6.7" rx="2.5"/><rect x="287.5" y="116.6" width="7.9" height="7.9" rx="2.9"/><rect x="294.3" y="118.8" width="6.7" height="6.7" rx="2.5"/><rect x="331.2" y="76.5" width="7.8" height="7.8" rx="2.9"/><rect x="311.7" y="111.0" width="7.7" height="7.7" rx="2.9"/><rect x="308.6" y="115.8" width="8.2" height="8.2" rx="3.1"/><rect x="316.9" y="108.9" width="7.2" height="7.2" rx="2.7"/><rect x="337.8" y="92.3" width="7.6" height="7.6" rx="2.9"/><rect x="338.0" y="87.8" width="6.6" height="6.6" rx="2.5"/><rect x="304.0" y="128.3" width="6.5" height="6.5" rx="2.5"/><rect x="298.6" y="132.7" width="6.1" height="6.1" rx="2.3"/><rect x="325.8" y="110.9" width="6.6" height="6.6" rx="2.5"/><rect x="340.5" y="105.5" width="6.3" height="6.3" rx="2.4"/><rect x="336.7" y="119.0" width="6.9" height="6.9" rx="2.6"/><rect x="341.8" y="116.4" width="6.2" height="6.2" rx="2.3"/></g>
<g fill="url(#pb170)" stroke="rgb(220,220,220)" stroke-width="0.6"><rect x="289.2" y="75.3" width="7.8" height="7.8" rx="2.9"/><rect x="291.5" y="70.4" width="8.3" height="8.3" rx="3.1"/><rect x="283.6" y="87.9" width="7.6" height="7.6" rx="2.9"/><rect x="286.7" y="82.7" width="7.0" height="7.0" rx="2.6"/><rect x="278.4" y="88.1" width="8.2" height="8.2" rx="3.1"/><rect x="313.2" y="54.7" width="7.4" height="7.4" rx="2.8"/><rect x="319.8" y="49.6" width="6.4" height="6.4" rx="2.4"/><rect x="296.1" y="83.7" width="6.7" height="6.7" rx="2.5"/><rect x="286.0" y="93.8" width="6.5" height="6.5" rx="2.4"/><rect x="314.1" y="69.2" width="6.9" height="6.9" rx="2.6"/><rect x="325.3" y="63.4" width="7.4" height="7.4" rx="2.8"/><rect x="317.7" y="84.1" width="6.1" height="6.1" rx="2.3"/><rect x="332.0" y="72.0" width="6.3" height="6.3" rx="2.3"/><rect x="299.9" y="111.0" width="7.2" height="7.2" rx="2.7"/><rect x="326.1" y="80.5" width="7.6" height="7.6" rx="2.8"/><rect x="323.1" y="100.3" width="7.5" height="7.5" rx="2.8"/><rect x="314.7" y="124.8" width="7.0" height="7.0" rx="2.6"/><rect x="310.5" y="128.3" width="7.4" height="7.4" rx="2.8"/><rect x="340.7" y="97.5" width="7.9" height="7.9" rx="3.0"/><rect x="329.8" y="122.4" width="7.6" height="7.6" rx="2.8"/></g>
<g fill="url(#pb180)" stroke="rgb(240,240,240)" stroke-width="0.6"><rect x="300.1" y="55.7" width="7.5" height="7.5" rx="2.8"/><rect x="303.0" y="50.6" width="7.3" height="7.3" rx="2.7"/><rect x="295.0" y="65.8" width="8.3" height="8.3" rx="3.1"/><rect x="314.7" y="50.3" width="6.7" height="6.7" rx="2.5"/><rect x="303.9" y="65.1" width="6.0" height="6.0" rx="2.2"/><rect x="300.7" y="69.0" width="6.8" height="6.8" rx="2.5"/><rect x="304.0" y="75.2" width="7.8" height="7.8" rx="2.9"/><rect x="281.0" y="97.7" width="6.2" height="6.2" rx="2.3"/><rect x="300.3" y="97.1" width="5.8" height="5.8" rx="2.2"/><rect x="320.0" y="75.8" width="7.3" height="7.3" rx="2.7"/><rect x="326.8" y="89.6" width="7.4" height="7.4" rx="2.8"/><rect x="341.4" y="84.3" width="6.7" height="6.7" rx="2.5"/><rect x="297.3" y="124.9" width="8.4" height="8.4" rx="3.1"/><rect x="321.5" y="115.5" width="6.0" height="6.0" rx="2.3"/><rect x="322.4" y="118.7" width="8.2" height="8.2" rx="3.1"/></g>
<g fill="url(#pb190)" stroke="rgb(240,240,240)" stroke-width="0.6"><rect x="295.2" y="58.1" width="8.3" height="8.3" rx="3.1"/><rect x="299.5" y="77.6" width="6.7" height="6.7" rx="2.5"/><rect x="318.9" y="64.1" width="6.6" height="6.6" rx="2.5"/><rect x="309.0" y="88.9" width="6.9" height="6.9" rx="2.6"/><rect x="310.2" y="86.2" width="8.3" height="8.3" rx="3.1"/><rect x="320.5" y="92.0" width="6.7" height="6.7" rx="2.5"/><rect x="319.6" y="97.2" width="6.4" height="6.4" rx="2.4"/><rect x="305.7" y="110.8" width="6.0" height="6.0" rx="2.3"/><rect x="310.6" y="104.3" width="7.6" height="7.6" rx="2.9"/></g>
<g fill="url(#pb200)" stroke="rgb(240,240,240)" stroke-width="0.6"><rect x="286.1" y="69.0" width="8.4" height="8.4" rx="3.1"/><rect x="290.8" y="66.4" width="6.8" height="6.8" rx="2.6"/><rect x="301.2" y="91.0" width="7.8" height="7.8" rx="2.9"/><rect x="315.2" y="76.6" width="7.1" height="7.1" rx="2.7"/><rect x="312.3" y="81.3" width="6.0" height="6.0" rx="2.3"/><rect x="323.5" y="105.3" width="7.7" height="7.7" rx="2.9"/></g>
<g fill="url(#pb210)" stroke="rgb(240,240,240)" stroke-width="0.6"><rect x="293.7" y="111.8" width="6.7" height="6.7" rx="2.5"/></g>
<g fill="rgb(70,70,70)"><circle cx="391.4" cy="70.4" r="8.7"/><circle cx="379.0" cy="84.4" r="9.4"/><circle cx="403.5" cy="60.2" r="8.6"/><circle cx="403.2" cy="74.2" r="7.7"/><circle cx="397.6" cy="84.4" r="8.0"/><circle cx="389.4" cy="92.7" r="8.7"/><circle cx="415.9" cy="67.6" r="8.4"/><circle cx="383.0" cy="112.4" r="9.4"/><circle cx="411.6" cy="87.1" r="9.2"/><circle cx="426.5" cy="74.2" r="8.0"/><circle cx="394.7" cy="106.5" r="8.3"/><circle cx="385.0" cy="124.5" r="7.6"/><circle cx="408.9" cy="101.1" r="8.0"/><circle cx="423.5" cy="89.7" r="8.3"/><circle cx="399.3" cy="119.4" r="9.0"/><circle cx="443.6" cy="78.9" r="8.8"/><circle cx="409.3" cy="113.3" r="9.6"/><circle cx="435.4" cy="91.2" r="8.2"/><circle cx="424.3" cy="107.5" r="8.1"/><circle cx="394.0" cy="140.5" r="8.0"/><circle cx="403.4" cy="131.7" r="8.1"/><circle cx="447.7" cy="89.7" r="7.7"/><circle cx="414.9" cy="125.3" r="9.2"/><circle cx="424.6" cy="119.0" r="7.9"/><circle cx="442.6" cy="102.0" r="9.3"/><circle cx="408.7" cy="142.3" r="8.3"/><circle cx="442.6" cy="114.6" r="9.3"/><circle cx="455.7" cy="103.7" r="9.1"/><circle cx="436.7" cy="126.0" r="8.0"/><circle cx="428.8" cy="139.1" r="8.4"/></g>
<g fill="url(#pb100)" stroke="rgb(160,160,160)" stroke-width="0.6"><rect x="396.0" y="140.7" width="8.0" height="8.0" rx="3.0"/><rect x="446.8" y="90.3" width="7.2" height="7.2" rx="2.7"/><rect x="447.4" y="113.3" width="6.1" height="6.1" rx="2.3"/></g>
<g fill="url(#pb110)" stroke="rgb(160,160,160)" stroke-width="0.6"><rect x="385.8" y="124.9" width="8.2" height="8.2" rx="3.1"/><rect x="391.6" y="143.5" width="8.0" height="8.0" rx="3.0"/><rect x="446.3" y="103.1" width="6.2" height="6.2" rx="2.3"/><rect x="442.9" y="118.1" width="7.9" height="7.9" rx="2.9"/><rect x="440.3" y="125.0" width="6.7" height="6.7" rx="2.5"/></g>
<g fill="url(#pb120)" stroke="rgb(180,180,180)" stroke-width="0.6"><rect x="399.9" y="62.6" width="8.1" height="8.1" rx="3.0"/><rect x="394.1" y="88.6" width="6.1" height="6.1" rx="2.3"/><rect x="418.5" y="66.6" width="8.2" height="8.2" rx="3.1"/><rect x="386.0" y="113.3" width="7.1" height="7.1" rx="2.7"/><rect x="400.6" y="121.4" width="6.7" height="6.7" rx="2.5"/><rect x="438.1" y="87.9" width="7.1" height="7.1" rx="2.7"/><rect x="395.3" y="136.5" width="5.9" height="5.9" rx="2.2"/><rect x="440.8" y="91.4" width="6.2" height="6.2" rx="2.3"/><rect x="442.3" y="99.9" width="6.7" height="6.7" rx="2.5"/><rect x="446.8" y="95.9" width="7.3" height="7.3" rx="2.7"/><rect x="409.7" y="141.8" width="7.6" height="7.6" rx="2.9"/><rect x="411.3" y="134.6" width="8.3" height="8.3" rx="3.1"/><rect x="405.2" y="146.6" width="6.4" height="6.4" rx="2.4"/><rect x="439.0" y="116.0" width="6.3" height="6.3" rx="2.4"/><rect x="457.4" y="104.6" width="7.9" height="7.9" rx="3.0"/><rect x="433.4" y="137.4" width="6.2" height="6.2" rx="2.3"/><rect x="428.5" y="139.6" width="6.8" height="6.8" rx="2.5"/></g>
<g fill="url(#pb130)" stroke="rgb(180,180,180)" stroke-width="0.6"><rect x="392.4" y="73.0" width="7.7" height="7.7" rx="2.9"/><rect x="379.3" y="87.9" width="8.1" height="8.1" rx="3.0"/><rect x="404.8" y="58.2" width="8.4" height="8.4" rx="3.1"/><rect x="394.8" y="62.3" width="7.9" height="7.9" rx="3.0"/><rect x="398.8" y="77.5" width="7.5" height="7.5" rx="2.8"/><rect x="398.7" y="84.4" width="7.9" height="7.9" rx="3.0"/><rect x="413.3" y="90.7" width="6.4" height="6.4" rx="2.4"/><rect x="415.7" y="85.2" width="7.0" height="7.0" rx="2.6"/><rect x="381.9" y="125.8" width="6.0" height="6.0" rx="2.2"/><rect x="394.5" y="122.5" width="7.4" height="7.4" rx="2.8"/><rect x="441.9" y="77.9" width="8.0" height="8.0" rx="3.0"/><rect x="442.0" y="83.7" width="6.0" height="6.0" rx="2.2"/><rect x="447.4" y="73.9" width="6.3" height="6.3" rx="2.4"/><rect x="433.4" y="90.2" width="6.5" height="6.5" rx="2.4"/><rect x="429.2" y="94.5" width="7.3" height="7.3" rx="2.7"/><rect x="436.0" y="92.9" width="8.1" height="8.1" rx="3.0"/><rect x="387.8" y="140.5" width="6.4" height="6.4" rx="2.4"/><rect x="450.0" y="82.8" width="7.7" height="7.7" rx="2.9"/><rect x="415.2" y="128.7" width="7.6" height="7.6" rx="2.8"/><rect x="418.9" y="124.2" width="7.4" height="7.4" rx="2.8"/><rect x="423.0" y="121.8" width="6.4" height="6.4" rx="2.4"/><rect x="440.1" y="105.6" width="7.4" height="7.4" rx="2.8"/><rect x="406.7" y="137.7" width="6.5" height="6.5" rx="2.4"/><rect x="441.7" y="111.1" width="7.3" height="7.3" rx="2.7"/><rect x="446.2" y="106.5" width="8.1" height="8.1" rx="3.0"/><rect x="453.4" y="102.1" width="7.3" height="7.3" rx="2.7"/><rect x="450.0" y="105.6" width="6.2" height="6.2" rx="2.3"/><rect x="453.5" y="107.7" width="8.0" height="8.0" rx="3.0"/><rect x="433.9" y="126.7" width="8.1" height="8.1" rx="3.0"/><rect x="421.6" y="141.6" width="7.3" height="7.3" rx="2.7"/></g>
<g fill="url(#pb140)" stroke="rgb(200,200,200)" stroke-width="0.6"><rect x="394.6" y="67.6" width="6.3" height="6.3" rx="2.4"/><rect x="386.7" y="73.8" width="6.8" height="6.8" rx="2.6"/><rect x="374.7" y="89.4" width="5.8" height="5.8" rx="2.2"/><rect x="405.9" y="52.1" width="7.2" height="7.2" rx="2.7"/><rect x="400.6" y="58.2" width="6.6" height="6.6" rx="2.5"/><rect x="404.1" y="73.6" width="8.2" height="8.2" rx="3.1"/><rect x="399.5" y="72.8" width="7.7" height="7.7" rx="2.9"/><rect x="391.3" y="92.3" width="6.7" height="6.7" rx="2.5"/><rect x="387.4" y="97.2" width="6.9" height="6.9" rx="2.6"/><rect x="414.0" y="70.0" width="6.6" height="6.6" rx="2.5"/><rect x="409.4" y="69.3" width="6.2" height="6.2" rx="2.3"/><rect x="380.0" y="113.6" width="6.6" height="6.6" rx="2.5"/><rect x="387.5" y="106.9" width="6.7" height="6.7" rx="2.5"/><rect x="374.3" y="114.5" width="7.4" height="7.4" rx="2.8"/><rect x="428.7" y="76.3" width="6.2" height="6.2" rx="2.3"/><rect x="386.4" y="119.0" width="7.2" height="7.2" rx="2.7"/><rect x="409.6" y="103.4" width="6.3" height="6.3" rx="2.4"/><rect x="423.4" y="92.2" width="5.8" height="5.8" rx="2.2"/><rect x="427.7" y="88.6" width="6.3" height="6.3" rx="2.4"/><rect x="403.1" y="114.9" width="7.6" height="7.6" rx="2.9"/><rect x="415.0" y="112.3" width="6.0" height="6.0" rx="2.2"/><rect x="424.4" y="109.8" width="6.5" height="6.5" rx="2.4"/><rect x="401.0" y="131.1" width="8.2" height="8.2" rx="3.1"/><rect x="397.4" y="134.9" width="7.6" height="7.6" rx="2.8"/><rect x="407.0" y="130.4" width="6.6" height="6.6" rx="2.5"/><rect x="428.4" y="113.9" width="6.2" height="6.2" rx="2.3"/><rect x="435.1" y="103.2" width="7.8" height="7.8" rx="2.9"/><rect x="407.6" y="132.8" width="6.4" height="6.4" rx="2.4"/><rect x="401.5" y="142.6" width="6.1" height="6.1" rx="2.3"/><rect x="442.3" y="106.4" width="6.1" height="6.1" rx="2.3"/><rect x="433.6" y="117.8" width="6.6" height="6.6" rx="2.5"/><rect x="459.1" y="96.6" width="6.8" height="6.8" rx="2.5"/><rect x="439.8" y="120.5" width="6.0" height="6.0" rx="2.3"/><rect x="424.1" y="136.8" width="7.3" height="7.3" rx="2.7"/></g>
<g fill="url(#pb150)" stroke="rgb(200,200,200)" stroke-width="0.6"><rect x="388.7" y="68.4" width="7.5" height="7.5" rx="2.8"/><rect x="379.1" y="81.0" width="6.5" height="6.5" rx="2.4"/><rect x="383.3" y="78.0" width="8.1" height="8.1" rx="3.0"/><rect x="383.7" y="83.7" width="6.5" height="6.5" rx="2.5"/><rect x="396.2" y="76.7" width="7.8" height="7.8" rx="2.9"/><rect x="392.5" y="78.8" width="8.0" height="8.0" rx="3.0"/><rect x="411.5" y="64.5" width="6.5" height="6.5" rx="2.4"/><rect x="379.9" y="108.2" width="7.2" height="7.2" rx="2.7"/><rect x="383.6" y="102.7" width="7.9" height="7.9" rx="3.0"/><rect x="407.9" y="91.0" width="6.2" height="6.2" rx="2.3"/><rect x="425.3" y="71.0" width="7.2" height="7.2" rx="2.7"/><rect x="392.9" y="109.6" width="7.6" height="7.6" rx="2.8"/><rect x="374.6" y="122.7" width="8.1" height="8.1" rx="3.0"/><rect x="398.9" y="109.0" width="6.9" height="6.9" rx="2.6"/><rect x="435.5" y="80.1" width="8.0" height="8.0" rx="3.0"/><rect x="412.5" y="116.5" width="5.8" height="5.8" rx="2.2"/><rect x="412.0" y="108.4" width="6.0" height="6.0" rx="2.2"/><rect x="435.3" y="81.0" width="8.2" height="8.2" rx="3.1"/><rect x="441.1" y="85.7" width="6.5" height="6.5" rx="2.4"/><rect x="435.1" y="96.1" width="7.5" height="7.5" rx="2.8"/><rect x="442.3" y="94.3" width="6.7" height="6.7" rx="2.5"/><rect x="435.6" y="104.5" width="7.8" height="7.8" rx="2.9"/><rect x="433.1" y="112.3" width="7.4" height="7.4" rx="2.8"/><rect x="434.8" y="122.6" width="6.2" height="6.2" rx="2.3"/></g>
<g fill="url(#pb160)" stroke="rgb(220,220,220)" stroke-width="0.6"><rect x="384.4" y="66.9" width="6.3" height="6.3" rx="2.3"/><rect x="399.4" y="48.4" width="8.0" height="8.0" rx="3.0"/><rect x="393.2" y="57.1" width="7.5" height="7.5" rx="2.8"/><rect x="403.2" y="69.5" width="7.0" height="7.0" rx="2.6"/><rect x="393.6" y="73.8" width="8.0" height="8.0" rx="3.0"/><rect x="389.2" y="83.4" width="7.6" height="7.6" rx="2.8"/><rect x="385.8" y="92.6" width="6.7" height="6.7" rx="2.5"/><rect x="393.0" y="87.0" width="6.3" height="6.3" rx="2.3"/><rect x="416.9" y="61.2" width="7.6" height="7.6" rx="2.9"/><rect x="405.2" y="65.5" width="7.2" height="7.2" rx="2.7"/><rect x="373.3" y="107.3" width="7.2" height="7.2" rx="2.7"/><rect x="414.2" y="80.4" width="7.2" height="7.2" rx="2.7"/><rect x="403.2" y="87.1" width="6.9" height="6.9" rx="2.6"/><rect x="410.1" y="85.3" width="6.7" height="6.7" rx="2.5"/><rect x="419.8" y="76.1" width="5.8" height="5.8" rx="2.2"/><rect x="397.6" y="105.5" width="7.0" height="7.0" rx="2.6"/><rect x="391.2" y="104.2" width="7.0" height="7.0" rx="2.6"/><rect x="381.1" y="118.2" width="8.1" height="8.1" rx="3.0"/><rect x="402.4" y="103.8" width="6.7" height="6.7" rx="2.5"/><rect x="425.6" y="82.8" width="7.9" height="7.9" rx="3.0"/><rect x="397.0" y="116.0" width="7.0" height="7.0" rx="2.6"/><rect x="406.5" y="117.4" width="6.8" height="6.8" rx="2.6"/><rect x="401.8" y="116.3" width="6.3" height="6.3" rx="2.4"/><rect x="406.6" y="110.9" width="7.7" height="7.7" rx="2.9"/><rect x="430.5" y="81.8" width="7.3" height="7.3" rx="2.8"/><rect x="424.1" y="89.7" width="8.4" height="8.4" rx="3.1"/><rect x="419.4" y="107.9" width="6.4" height="6.4" rx="2.4"/><rect x="426.2" y="103.3" width="7.1" height="7.1" rx="2.7"/><rect x="385.8" y="136.2" width="6.0" height="6.0" rx="2.2"/><rect x="389.9" y="130.4" width="6.0" height="6.0" rx="2.2"/><rect x="405.2" y="125.9" width="6.3" height="6.3" rx="2.3"/><rect x="396.6" y="129.4" width="6.3" height="6.3" rx="2.4"/><rect x="444.7" y="81.0" width="6.4" height="6.4" rx="2.4"/><rect x="405.4" y="125.9" width="6.2" height="6.2" rx="2.3"/><rect x="415.9" y="116.8" width="6.0" height="6.0" rx="2.3"/><rect x="410.9" y="125.6" width="8.0" height="8.0" rx="3.0"/><rect x="417.7" y="117.5" width="8.2" height="8.2" rx="3.1"/><rect x="423.0" y="116.4" width="7.4" height="7.4" rx="2.8"/><rect x="398.1" y="135.7" width="7.8" height="7.8" rx="2.9"/><rect x="402.0" y="132.8" width="6.5" height="6.5" rx="2.4"/><rect x="430.5" y="107.4" width="8.2" height="8.2" rx="3.1"/><rect x="444.9" y="103.7" width="6.1" height="6.1" rx="2.3"/><rect x="453.6" y="96.8" width="7.5" height="7.5" rx="2.8"/><rect x="448.5" y="100.4" width="6.8" height="6.8" rx="2.5"/><rect x="428.6" y="126.9" width="6.0" height="6.0" rx="2.3"/><rect x="435.7" y="116.6" width="6.4" height="6.4" rx="2.4"/><rect x="427.3" y="130.5" width="7.4" height="7.4" rx="2.8"/><rect x="418.2" y="134.2" width="6.5" height="6.5" rx="2.4"/></g>
<g fill="url(#pb170)" stroke="rgb(220,220,220)" stroke-width="0.6"><rect x="389.2" y="59.4" width="7.5" height="7.5" rx="2.8"/><rect x="369.8" y="85.4" width="7.4" height="7.4" rx="2.8"/><rect x="373.5" y="81.9" width="7.8" height="7.8" rx="2.9"/><rect x="394.8" y="51.5" width="6.9" height="6.9" rx="2.6"/><rect x="392.8" y="71.3" width="7.7" height="7.7" rx="2.9"/><rect x="385.5" y="87.1" width="8.0" height="8.0" rx="3.0"/><rect x="376.8" y="103.9" width="7.7" height="7.7" rx="2.9"/><rect x="404.4" y="79.7" width="6.4" height="6.4" rx="2.4"/><rect x="408.8" y="76.1" width="7.7" height="7.7" rx="2.9"/><rect x="428.3" y="67.3" width="7.1" height="7.1" rx="2.6"/><rect x="377.4" y="115.1" width="7.3" height="7.3" rx="2.7"/><rect x="412.6" y="96.9" width="6.4" height="6.4" rx="2.4"/><rect x="422.0" y="86.2" width="6.2" height="6.2" rx="2.3"/><rect x="394.5" y="111.5" width="7.0" height="7.0" rx="2.6"/><rect x="387.4" y="113.6" width="8.4" height="8.4" rx="3.1"/><rect x="391.3" y="119.0" width="6.8" height="6.8" rx="2.5"/><rect x="438.0" y="74.1" width="8.1" height="8.1" rx="3.0"/><rect x="442.4" y="71.5" width="6.5" height="6.5" rx="2.4"/><rect x="431.9" y="75.8" width="8.0" height="8.0" rx="3.0"/><rect x="402.4" y="107.3" width="8.4" height="8.4" rx="3.1"/><rect x="410.1" y="114.9" width="6.4" height="6.4" rx="2.4"/><rect x="409.6" y="120.7" width="7.8" height="7.8" rx="2.9"/><rect x="414.7" y="121.4" width="7.1" height="7.1" rx="2.7"/><rect x="431.1" y="98.9" width="6.5" height="6.5" rx="2.4"/><rect x="449.2" y="94.6" width="6.5" height="6.5" rx="2.5"/><rect x="453.6" y="91.6" width="7.9" height="7.9" rx="2.9"/><rect x="428.5" y="116.7" width="7.2" height="7.2" rx="2.7"/><rect x="421.9" y="130.6" width="7.0" height="7.0" rx="2.6"/></g>
<g fill="url(#pb180)" stroke="rgb(240,240,240)" stroke-width="0.6"><rect x="381.5" y="71.3" width="6.5" height="6.5" rx="2.4"/><rect x="397.0" y="68.7" width="7.7" height="7.7" rx="2.9"/><rect x="411.4" y="59.0" width="7.7" height="7.7" rx="2.9"/><rect x="406.1" y="59.8" width="6.8" height="6.8" rx="2.6"/><rect x="400.8" y="83.2" width="6.4" height="6.4" rx="2.4"/><rect x="385.3" y="105.9" width="7.1" height="7.1" rx="2.7"/><rect x="393.2" y="99.2" width="6.6" height="6.6" rx="2.5"/><rect x="404.7" y="99.6" width="6.0" height="6.0" rx="2.2"/><rect x="417.7" y="91.2" width="6.4" height="6.4" rx="2.4"/><rect x="426.0" y="85.2" width="7.9" height="7.9" rx="3.0"/><rect x="398.2" y="122.0" width="5.9" height="5.9" rx="2.2"/><rect x="420.5" y="109.7" width="7.8" height="7.8" rx="2.9"/><rect x="436.8" y="90.9" width="5.9" height="5.9" rx="2.2"/></g>
<g fill="url(#pb190)" stroke="rgb(240,240,240)" stroke-width="0.6"><rect x="384.9" y="61.7" width="7.2" height="7.2" rx="2.7"/><rect x="368.4" y="77.8" width="7.3" height="7.3" rx="2.8"/><rect x="375.3" y="75.3" width="8.4" height="8.4" rx="3.1"/><rect x="399.4" y="65.0" width="6.0" height="6.0" rx="2.2"/><rect x="388.6" y="76.6" width="6.6" height="6.6" rx="2.5"/><rect x="387.9" y="81.8" width="7.8" height="7.8" rx="2.9"/><rect x="378.9" y="92.9" width="7.6" height="7.6" rx="2.8"/><rect x="421.8" y="65.5" width="7.4" height="7.4" rx="2.8"/><rect x="416.7" y="71.1" width="6.6" height="6.6" rx="2.5"/><rect x="385.7" y="99.0" width="5.9" height="5.9" rx="2.2"/><rect x="389.7" y="95.7" width="6.7" height="6.7" rx="2.5"/><rect x="408.3" y="93.8" width="5.9" height="5.9" rx="2.2"/><rect x="397.7" y="97.9" width="8.2" height="8.2" rx="3.1"/><rect x="434.4" y="71.4" width="6.0" height="6.0" rx="2.3"/><rect x="407.3" y="103.5" width="7.2" height="7.2" rx="2.7"/><rect x="399.4" y="103.7" width="8.1" height="8.1" rx="3.0"/><rect x="398.0" y="109.2" width="8.1" height="8.1" rx="3.0"/><rect x="418.6" y="101.3" width="8.1" height="8.1" rx="3.0"/><rect x="423.4" y="96.7" width="8.1" height="8.1" rx="3.0"/><rect x="405.1" y="118.2" width="7.7" height="7.7" rx="2.9"/><rect x="414.9" y="114.0" width="7.5" height="7.5" rx="2.8"/><rect x="444.0" y="97.2" width="7.7" height="7.7" rx="2.9"/></g>
<g fill="url(#pb200)" stroke="rgb(240,240,240)" stroke-width="0.6"><rect x="372.5" y="73.9" width="5.9" height="5.9" rx="2.2"/><rect x="380.4" y="84.0" width="7.2" height="7.2" rx="2.7"/><rect x="402.9" y="93.6" width="6.3" height="6.3" rx="2.4"/><rect x="418.4" y="79.6" width="7.9" height="7.9" rx="3.0"/><rect x="413.3" y="84.4" width="8.2" height="8.2" rx="3.1"/><rect x="413.2" y="104.4" width="7.8" height="7.8" rx="2.9"/></g>
<g fill="rgb(70,70,70)"><circle cx="441.6" cy="24.9" r="8.0"/><circle cx="451.2" cy="17.3" r="8.0"/><circle cx="462.5" cy="8.9" r="8.5"/><circle cx="457.4" cy="27.8" r="9.2"/><circle cx="471.0" cy="20.8" r="8.5"/><circle cx="452.8" cy="39.6" r="8.2"/><circle cx="467.6" cy="33.4" r="9.0"/></g>
<g fill="url(#pb120)" stroke="rgb(180,180,180)" stroke-width="0.6"><rect x="461.0" y="25.2" width="7.1" height="7.1" rx="2.7"/><rect x="455.6" y="34.6" width="7.9" height="7.9" rx="2.9"/><rect x="452.8" y="42.7" width="6.9" height="6.9" rx="2.6"/></g>
<g fill="url(#pb130)" stroke="rgb(180,180,180)" stroke-width="0.6"><rect x="459.4" y="30.9" width="5.9" height="5.9" rx="2.2"/><rect x="471.8" y="22.3" width="8.1" height="8.1" rx="3.0"/><rect x="451.4" y="36.6" width="6.8" height="6.8" rx="2.5"/><rect x="447.6" y="40.4" width="7.1" height="7.1" rx="2.7"/></g>
<g fill="url(#pb140)" stroke="rgb(200,200,200)" stroke-width="0.6"><rect x="441.8" y="26.4" width="5.9" height="5.9" rx="2.2"/><rect x="434.9" y="28.0" width="7.2" height="7.2" rx="2.7"/><rect x="455.5" y="15.8" width="5.8" height="5.8" rx="2.2"/><rect x="461.6" y="11.3" width="6.2" height="6.2" rx="2.3"/><rect x="454.1" y="30.6" width="6.4" height="6.4" rx="2.4"/><rect x="473.4" y="17.5" width="6.4" height="6.4" rx="2.4"/><rect x="470.8" y="29.1" width="7.6" height="7.6" rx="2.9"/><rect x="468.6" y="37.4" width="6.6" height="6.6" rx="2.5"/></g>
<g fill="url(#pb150)" stroke="rgb(200,200,200)" stroke-width="0.6"><rect x="439.0" y="21.0" width="7.6" height="7.6" rx="2.8"/><rect x="444.0" y="19.5" width="6.3" height="6.3" rx="2.4"/><rect x="448.6" y="29.8" width="6.5" height="6.5" rx="2.5"/><rect x="455.4" y="25.7" width="6.7" height="6.7" rx="2.5"/><rect x="467.2" y="18.0" width="6.5" height="6.5" rx="2.4"/><rect x="464.7" y="23.6" width="6.3" height="6.3" rx="2.4"/><rect x="467.1" y="33.0" width="6.2" height="6.2" rx="2.3"/><rect x="461.0" y="35.8" width="5.9" height="5.9" rx="2.2"/></g>
<g fill="url(#pb160)" stroke="rgb(220,220,220)" stroke-width="0.6"><rect x="449.6" y="16.2" width="7.5" height="7.5" rx="2.8"/><rect x="445.4" y="18.4" width="7.0" height="7.0" rx="2.6"/><rect x="462.7" y="4.0" width="7.1" height="7.1" rx="2.7"/><rect x="458.3" y="4.0" width="5.9" height="5.9" rx="2.2"/><rect x="450.4" y="24.8" width="6.5" height="6.5" rx="2.4"/><rect x="458.3" y="17.7" width="7.3" height="7.3" rx="2.7"/><rect x="472.7" y="11.5" width="8.0" height="8.0" rx="3.0"/><rect x="453.2" y="30.3" width="7.8" height="7.8" rx="2.9"/></g>
<g fill="url(#pb170)" stroke="rgb(220,220,220)" stroke-width="0.6"><rect x="439.2" y="16.5" width="6.0" height="6.0" rx="2.3"/><rect x="452.5" y="9.3" width="7.3" height="7.3" rx="2.7"/><rect x="441.8" y="16.1" width="6.1" height="6.1" rx="2.3"/><rect x="462.2" y="-1.4" width="8.2" height="8.2" rx="3.1"/><rect x="456.1" y="-2.6" width="8.2" height="8.2" rx="3.1"/><rect x="467.9" y="11.6" width="7.8" height="7.8" rx="2.9"/><rect x="449.3" y="32.3" width="6.1" height="6.1" rx="2.3"/><rect x="465.2" y="24.9" width="7.7" height="7.7" rx="2.9"/><rect x="457.1" y="31.5" width="5.9" height="5.9" rx="2.2"/></g>
<g fill="url(#pb180)" stroke="rgb(240,240,240)" stroke-width="0.6"><rect x="431.5" y="23.3" width="7.4" height="7.4" rx="2.8"/><rect x="434.7" y="19.5" width="6.2" height="6.2" rx="2.3"/><rect x="446.2" y="12.3" width="6.9" height="6.9" rx="2.6"/><rect x="447.9" y="6.3" width="7.9" height="7.9" rx="3.0"/><rect x="453.8" y="9.2" width="6.0" height="6.0" rx="2.2"/><rect x="451.6" y="16.9" width="6.0" height="6.0" rx="2.3"/><rect x="460.2" y="19.7" width="7.4" height="7.4" rx="2.8"/><rect x="442.1" y="34.4" width="7.7" height="7.7" rx="2.9"/><rect x="460.0" y="27.6" width="5.9" height="5.9" rx="2.2"/></g>
<g fill="url(#pb190)" stroke="rgb(240,240,240)" stroke-width="0.6"><rect x="441.2" y="10.8" width="6.6" height="6.6" rx="2.5"/><rect x="452.3" y="3.6" width="7.3" height="7.3" rx="2.7"/><rect x="446.9" y="20.2" width="7.0" height="7.0" rx="2.6"/><rect x="462.2" y="12.9" width="7.5" height="7.5" rx="2.8"/><rect x="460.5" y="22.0" width="7.7" height="7.7" rx="2.9"/></g>
<g fill="rgb(80,80,80)"><circle cx="493.8" cy="8.6" r="9.3"/><circle cx="510.4" cy="10.4" r="8.6"/><circle cx="497.6" cy="24.0" r="8.0"/><circle cx="514.0" cy="23.4" r="8.3"/></g>
<g fill="url(#pb120)" stroke="rgb(180,180,180)" stroke-width="0.6"><rect x="514.0" y="8.3" width="7.4" height="7.4" rx="2.8"/></g>
<g fill="url(#pb130)" stroke="rgb(180,180,180)" stroke-width="0.6"><rect x="514.6" y="25.0" width="8.3" height="8.3" rx="3.1"/></g>
<g fill="url(#pb140)" stroke="rgb(200,200,200)" stroke-width="0.6"><rect x="496.4" y="3.6" width="8.3" height="8.3" rx="3.1"/><rect x="507.7" y="10.0" width="7.2" height="7.2" rx="2.7"/><rect x="498.2" y="25.0" width="5.9" height="5.9" rx="2.2"/><rect x="510.2" y="27.8" width="5.9" height="5.9" rx="2.2"/><rect x="516.7" y="20.8" width="7.6" height="7.6" rx="2.9"/></g>
<g fill="url(#pb150)" stroke="rgb(200,200,200)" stroke-width="0.6"><rect x="492.7" y="10.5" width="6.6" height="6.6" rx="2.5"/><rect x="500.3" y="19.1" width="6.0" height="6.0" rx="2.3"/><rect x="514.7" y="14.9" width="7.9" height="7.9" rx="3.0"/></g>
<g fill="url(#pb160)" stroke="rgb(220,220,220)" stroke-width="0.6"><rect x="487.3" y="9.6" width="6.2" height="6.2" rx="2.3"/><rect x="492.4" y="4.2" width="6.4" height="6.4" rx="2.4"/><rect x="510.4" y="3.1" width="7.8" height="7.8" rx="2.9"/><rect x="505.7" y="4.5" width="6.4" height="6.4" rx="2.4"/><rect x="503.5" y="12.6" width="7.5" height="7.5" rx="2.8"/><rect x="510.2" y="18.2" width="6.9" height="6.9" rx="2.6"/></g>
<g fill="url(#pb170)" stroke="rgb(220,220,220)" stroke-width="0.6"><rect x="501.0" y="8.1" width="7.3" height="7.3" rx="2.7"/><rect x="493.2" y="24.9" width="5.8" height="5.8" rx="2.2"/><rect x="494.1" y="19.5" width="6.4" height="6.4" rx="2.4"/><rect x="506.3" y="21.7" width="6.4" height="6.4" rx="2.4"/></g>
<g fill="url(#pb180)" stroke="rgb(240,240,240)" stroke-width="0.6"><rect x="491.5" y="-1.7" width="8.1" height="8.1" rx="3.1"/><rect x="484.4" y="2.8" width="8.1" height="8.1" rx="3.0"/><rect x="507.2" y="-0.9" width="7.6" height="7.6" rx="2.9"/><rect x="486.6" y="21.8" width="7.8" height="7.8" rx="2.9"/></g>
<g fill="url(#pb190)" stroke="rgb(240,240,240)" stroke-width="0.6"><rect x="501.1" y="3.3" width="6.1" height="6.1" rx="2.3"/><rect x="492.2" y="13.9" width="8.2" height="8.2" rx="3.1"/><rect x="503.8" y="16.5" width="7.7" height="7.7" rx="2.9"/><rect x="509.2" y="12.1" width="8.1" height="8.1" rx="3.1"/></g>
<g fill="url(#pb200)" stroke="rgb(240,240,240)" stroke-width="0.6"><rect x="485.2" y="-1.8" width="7.3" height="7.3" rx="2.7"/><rect x="488.8" y="17.1" width="6.7" height="6.7" rx="2.5"/></g>
<g fill="rgb(80,80,80)"><circle cx="525.0" cy="11.3" r="8.3"/><circle cx="524.5" cy="27.0" r="8.4"/><circle cx="538.1" cy="16.1" r="8.7"/></g>
<g fill="url(#pb140)" stroke="rgb(200,200,200)" stroke-width="0.6"><rect x="523.5" y="13.3" width="6.3" height="6.3" rx="2.4"/><rect x="536.4" y="18.8" width="8.4" height="8.4" rx="3.1"/></g>
<g fill="url(#pb150)" stroke="rgb(200,200,200)" stroke-width="0.6"><rect x="521.1" y="6.1" width="7.4" height="7.4" rx="2.8"/><rect x="526.7" y="9.1" width="7.7" height="7.7" rx="2.9"/><rect x="522.4" y="27.9" width="7.9" height="7.9" rx="3.0"/><rect x="526.9" y="22.6" width="8.0" height="8.0" rx="3.0"/><rect x="516.5" y="29.0" width="7.7" height="7.7" rx="2.9"/><rect x="542.0" y="11.7" width="6.6" height="6.6" rx="2.5"/><rect x="540.6" y="16.4" width="8.1" height="8.1" rx="3.0"/></g>
<g fill="url(#pb160)" stroke="rgb(220,220,220)" stroke-width="0.6"><rect x="526.1" y="3.2" width="8.2" height="8.2" rx="3.1"/><rect x="517.6" y="10.7" width="8.3" height="8.3" rx="3.1"/><rect x="531.2" y="19.8" width="7.3" height="7.3" rx="2.7"/></g>
<g fill="url(#pb170)" stroke="rgb(220,220,220)" stroke-width="0.6"><rect x="516.5" y="6.0" width="6.9" height="6.9" rx="2.6"/><rect x="516.2" y="24.2" width="7.1" height="7.1" rx="2.6"/><rect x="537.4" y="13.9" width="6.7" height="6.7" rx="2.5"/></g>
<g fill="url(#pb180)" stroke="rgb(240,240,240)" stroke-width="0.6"><rect x="520.3" y="2.0" width="6.1" height="6.1" rx="2.3"/><rect x="523.2" y="19.7" width="7.4" height="7.4" rx="2.8"/><rect x="528.6" y="15.2" width="6.5" height="6.5" rx="2.5"/><rect x="536.5" y="5.8" width="6.6" height="6.6" rx="2.5"/></g>
<g fill="url(#pb190)" stroke="rgb(240,240,240)" stroke-width="0.6"><rect x="518.1" y="19.4" width="6.2" height="6.2" rx="2.3"/></g>
<g fill="url(#pb200)" stroke="rgb(240,240,240)" stroke-width="0.6"><rect x="531.0" y="7.8" width="6.8" height="6.8" rx="2.6"/></g>
<g fill="rgb(90,90,90)"><circle cx="473.8" cy="51.5" r="7.7"/><circle cx="487.3" cy="41.4" r="7.8"/><circle cx="500.0" cy="39.7" r="8.3"/><circle cx="481.3" cy="61.2" r="8.7"/><circle cx="511.3" cy="36.9" r="8.9"/><circle cx="492.3" cy="57.2" r="8.5"/><circle cx="480.6" cy="73.7" r="9.0"/><circle cx="494.8" cy="68.9" r="7.7"/><circle cx="516.8" cy="47.6" r="8.3"/><circle cx="514.9" cy="59.7" r="9.0"/><circle cx="510.8" cy="70.7" r="9.4"/><circle cx="502.2" cy="80.3" r="9.0"/><circle cx="527.8" cy="57.2" r="8.0"/><circle cx="523.3" cy="68.1" r="9.1"/><circle cx="514.5" cy="82.5" r="8.1"/></g>
<g fill="url(#pb120)" stroke="rgb(180,180,180)" stroke-width="0.6"><rect x="483.1" y="77.0" width="6.0" height="6.0" rx="2.2"/><rect x="517.7" y="79.1" width="7.3" height="7.3" rx="2.7"/><rect x="508.6" y="86.1" width="6.1" height="6.1" rx="2.3"/><rect x="514.7" y="83.9" width="7.9" height="7.9" rx="3.0"/></g>
<g fill="url(#pb130)" stroke="rgb(180,180,180)" stroke-width="0.6"><rect x="488.9" y="41.6" width="6.3" height="6.3" rx="2.4"/><rect x="480.9" y="65.2" width="7.1" height="7.1" rx="2.6"/><rect x="511.5" y="38.6" width="7.9" height="7.9" rx="3.0"/><rect x="485.6" y="69.8" width="6.1" height="6.1" rx="2.3"/><rect x="519.3" y="58.2" width="6.7" height="6.7" rx="2.5"/><rect x="512.6" y="74.6" width="6.3" height="6.3" rx="2.4"/><rect x="529.2" y="56.7" width="7.7" height="7.7" rx="2.9"/><rect x="526.1" y="60.4" width="6.7" height="6.7" rx="2.5"/><rect x="524.0" y="70.1" width="7.1" height="7.1" rx="2.7"/><rect x="511.0" y="80.6" width="7.5" height="7.5" rx="2.8"/></g>
<g fill="url(#pb140)" stroke="rgb(200,200,200)" stroke-width="0.6"><rect x="503.7" y="38.0" width="6.0" height="6.0" rx="2.3"/><rect x="484.9" y="58.6" width="6.7" height="6.7" rx="2.5"/><rect x="506.7" y="38.7" width="7.4" height="7.4" rx="2.8"/><rect x="478.1" y="73.1" width="7.6" height="7.6" rx="2.8"/><rect x="497.1" y="68.4" width="7.4" height="7.4" rx="2.8"/><rect x="514.1" y="51.1" width="6.6" height="6.6" rx="2.5"/><rect x="514.2" y="68.5" width="6.3" height="6.3" rx="2.4"/><rect x="524.4" y="54.8" width="8.0" height="8.0" rx="3.0"/><rect x="531.4" y="52.9" width="5.9" height="5.9" rx="2.2"/></g>
<g fill="url(#pb150)" stroke="rgb(200,200,200)" stroke-width="0.6"><rect x="473.6" y="49.7" width="6.0" height="6.0" rx="2.2"/><rect x="499.0" y="42.9" width="7.4" height="7.4" rx="2.8"/><rect x="473.6" y="64.3" width="6.1" height="6.1" rx="2.3"/><rect x="474.9" y="77.7" width="7.8" height="7.8" rx="2.9"/><rect x="491.0" y="67.6" width="7.9" height="7.9" rx="2.9"/><rect x="496.8" y="63.5" width="7.2" height="7.2" rx="2.7"/><rect x="516.7" y="46.9" width="6.1" height="6.1" rx="2.3"/><rect x="519.3" y="42.3" width="7.7" height="7.7" rx="2.9"/><rect x="513.7" y="61.4" width="6.3" height="6.3" rx="2.4"/><rect x="508.2" y="62.3" width="6.9" height="6.9" rx="2.6"/><rect x="517.2" y="52.1" width="8.0" height="8.0" rx="3.0"/><rect x="508.3" y="69.6" width="8.0" height="8.0" rx="3.0"/><rect x="505.4" y="73.8" width="6.7" height="6.7" rx="2.5"/><rect x="518.8" y="70.3" width="6.8" height="6.8" rx="2.5"/><rect x="528.2" y="65.6" width="6.0" height="6.0" rx="2.2"/></g>
<g fill="url(#pb160)" stroke="rgb(220,220,220)" stroke-width="0.6"><rect x="469.2" y="53.3" width="6.7" height="6.7" rx="2.5"/><rect x="481.8" y="43.8" width="6.2" height="6.2" rx="2.3"/><rect x="487.1" y="31.8" width="8.4" height="8.4" rx="3.1"/><rect x="495.9" y="37.1" width="6.7" height="6.7" rx="2.5"/><rect x="499.8" y="31.3" width="8.2" height="8.2" rx="3.1"/><rect x="481.0" y="51.6" width="8.0" height="8.0" rx="3.0"/><rect x="479.4" y="56.7" width="7.0" height="7.0" rx="2.6"/><rect x="513.1" y="32.1" width="7.2" height="7.2" rx="2.7"/><rect x="501.2" y="37.9" width="5.8" height="5.8" rx="2.2"/><rect x="512.9" y="27.1" width="6.1" height="6.1" rx="2.3"/><rect x="478.7" y="68.7" width="5.8" height="5.8" rx="2.2"/><rect x="470.7" y="72.4" width="6.5" height="6.5" rx="2.4"/><rect x="481.8" y="64.0" width="6.3" height="6.3" rx="2.4"/><rect x="509.6" y="64.4" width="7.8" height="7.8" rx="2.9"/><rect x="514.5" y="62.9" width="7.9" height="7.9" rx="3.0"/><rect x="501.5" y="82.2" width="7.9" height="7.9" rx="2.9"/><rect x="497.3" y="82.9" width="6.5" height="6.5" rx="2.4"/><rect x="504.8" y="77.4" width="8.1" height="8.1" rx="3.0"/><rect x="520.1" y="57.9" width="8.2" height="8.2" rx="3.1"/><rect x="525.5" y="48.5" width="6.8" height="6.8" rx="2.5"/><rect x="513.8" y="69.9" width="7.2" height="7.2" rx="2.7"/><rect x="523.3" y="58.7" width="6.0" height="6.0" rx="2.2"/><rect x="504.7" y="77.7" width="7.5" height="7.5" rx="2.8"/><rect x="513.7" y="72.2" width="7.8" height="7.8" rx="2.9"/></g>
<g fill="url(#pb170)" stroke="rgb(220,220,220)" stroke-width="0.6"><rect x="476.9" y="45.4" width="6.1" height="6.1" rx="2.3"/><rect x="483.6" y="36.7" width="8.2" height="8.2" rx="3.1"/><rect x="479.6" y="37.3" width="6.3" height="6.3" rx="2.4"/><rect x="491.5" y="41.6" width="7.1" height="7.1" rx="2.7"/><rect x="505.2" y="33.5" width="7.5" height="7.5" rx="2.8"/><rect x="487.3" y="61.6" width="6.7" height="6.7" rx="2.5"/><rect x="496.1" y="55.2" width="7.1" height="7.1" rx="2.7"/><rect x="474.5" y="62.7" width="7.5" height="7.5" rx="2.8"/><rect x="516.3" y="37.5" width="8.2" height="8.2" rx="3.1"/><rect x="509.5" y="57.1" width="7.3" height="7.3" rx="2.7"/><rect x="513.3" y="50.1" width="6.8" height="6.8" rx="2.6"/><rect x="501.0" y="72.9" width="5.8" height="5.8" rx="2.2"/><rect x="498.9" y="77.1" width="6.4" height="6.4" rx="2.4"/><rect x="519.8" y="64.9" width="6.2" height="6.2" rx="2.3"/><rect x="508.3" y="73.3" width="7.5" height="7.5" rx="2.8"/></g>
<g fill="url(#pb180)" stroke="rgb(240,240,240)" stroke-width="0.6"><rect x="471.7" y="42.9" width="7.6" height="7.6" rx="2.8"/><rect x="473.7" y="57.7" width="8.1" height="8.1" rx="3.1"/><rect x="508.1" y="29.6" width="6.2" height="6.2" rx="2.3"/><rect x="500.6" y="32.6" width="5.8" height="5.8" rx="2.2"/><rect x="503.1" y="26.6" width="7.4" height="7.4" rx="2.8"/><rect x="492.2" y="58.3" width="5.9" height="5.9" rx="2.2"/><rect x="492.5" y="50.8" width="7.6" height="7.6" rx="2.8"/><rect x="485.4" y="69.0" width="7.8" height="7.8" rx="2.9"/><rect x="492.0" y="60.4" width="5.9" height="5.9" rx="2.2"/><rect x="508.6" y="46.8" width="6.8" height="6.8" rx="2.5"/><rect x="514.1" y="42.5" width="6.1" height="6.1" rx="2.3"/><rect x="504.3" y="72.7" width="7.1" height="7.1" rx="2.7"/><rect x="521.0" y="51.8" width="6.7" height="6.7" rx="2.5"/></g>
<g fill="url(#pb190)" stroke="rgb(240,240,240)" stroke-width="0.6"><rect x="463.1" y="48.6" width="7.4" height="7.4" rx="2.8"/><rect x="468.0" y="45.8" width="6.4" height="6.4" rx="2.4"/><rect x="481.9" y="31.9" width="8.3" height="8.3" rx="3.1"/><rect x="489.8" y="35.1" width="6.8" height="6.8" rx="2.5"/><rect x="473.2" y="52.5" width="7.0" height="7.0" rx="2.6"/><rect x="483.3" y="55.2" width="6.8" height="6.8" rx="2.6"/><rect x="488.2" y="54.3" width="6.5" height="6.5" rx="2.4"/><rect x="470.0" y="65.2" width="8.0" height="8.0" rx="3.0"/><rect x="508.9" y="40.6" width="6.3" height="6.3" rx="2.4"/><rect x="512.3" y="37.0" width="6.8" height="6.8" rx="2.6"/><rect x="503.2" y="56.2" width="8.2" height="8.2" rx="3.1"/><rect x="503.3" y="66.2" width="7.9" height="7.9" rx="2.9"/><rect x="510.2" y="59.7" width="7.6" height="7.6" rx="2.9"/><rect x="498.9" y="67.4" width="6.7" height="6.7" rx="2.5"/><rect x="492.1" y="81.3" width="7.0" height="7.0" rx="2.6"/><rect x="511.5" y="63.7" width="7.4" height="7.4" rx="2.8"/><rect x="515.5" y="59.3" width="6.7" height="6.7" rx="2.5"/></g>
<g fill="url(#pb200)" stroke="rgb(240,240,240)" stroke-width="0.6"><rect x="495.7" y="31.4" width="6.0" height="6.0" rx="2.3"/><rect x="489.2" y="47.0" width="7.1" height="7.1" rx="2.6"/><rect x="507.8" y="49.8" width="6.1" height="6.1" rx="2.3"/><rect x="496.4" y="71.2" width="8.1" height="8.1" rx="3.0"/><rect x="494.1" y="76.9" width="6.1" height="6.1" rx="2.3"/><rect x="501.7" y="69.4" width="5.9" height="5.9" rx="2.2"/></g>
<g fill="url(#pb210)" stroke="rgb(240,240,240)" stroke-width="0.6"><rect x="482.8" y="48.9" width="7.3" height="7.3" rx="2.7"/><rect x="486.5" y="61.4" width="7.2" height="7.2" rx="2.7"/><rect x="504.2" y="58.6" width="7.7" height="7.7" rx="2.9"/><rect x="500.3" y="62.6" width="6.9" height="6.9" rx="2.6"/></g>
<g fill="rgb(70,70,70)"><circle cx="532.7" cy="79.6" r="9.2"/><circle cx="527.9" cy="91.6" r="8.4"/><circle cx="540.5" cy="88.5" r="7.7"/><circle cx="538.6" cy="103.1" r="9.0"/></g>
<g fill="url(#pb110)" stroke="rgb(160,160,160)" stroke-width="0.6"><rect x="538.9" y="90.7" width="7.4" height="7.4" rx="2.8"/></g>
<g fill="url(#pb120)" stroke="rgb(180,180,180)" stroke-width="0.6"><rect x="531.3" y="88.7" width="7.6" height="7.6" rx="2.8"/></g>
<g fill="url(#pb130)" stroke="rgb(180,180,180)" stroke-width="0.6"><rect x="536.7" y="80.6" width="6.6" height="6.6" rx="2.5"/><rect x="521.1" y="93.4" width="8.2" height="8.2" rx="3.1"/><rect x="526.2" y="94.5" width="7.9" height="7.9" rx="3.0"/><rect x="540.8" y="84.8" width="7.0" height="7.0" rx="2.6"/><rect x="539.4" y="98.0" width="6.3" height="6.3" rx="2.4"/><rect x="539.4" y="105.8" width="6.5" height="6.5" rx="2.4"/><rect x="542.3" y="100.9" width="8.0" height="8.0" rx="3.0"/></g>
<g fill="url(#pb140)" stroke="rgb(200,200,200)" stroke-width="0.6"><rect x="526.0" y="85.8" width="5.9" height="5.9" rx="2.2"/><rect x="526.5" y="89.9" width="7.3" height="7.3" rx="2.7"/><rect x="533.9" y="91.3" width="6.4" height="6.4" rx="2.4"/></g>
<g fill="url(#pb150)" stroke="rgb(200,200,200)" stroke-width="0.6"><rect x="530.5" y="76.5" width="6.9" height="6.9" rx="2.6"/><rect x="521.8" y="89.1" width="6.3" height="6.3" rx="2.4"/><rect x="533.0" y="105.7" width="7.1" height="7.1" rx="2.7"/></g>
<g fill="url(#pb160)" stroke="rgb(220,220,220)" stroke-width="0.6"><rect x="536.2" y="74.8" width="5.8" height="5.8" rx="2.2"/><rect x="528.5" y="82.1" width="6.8" height="6.8" rx="2.6"/><rect x="527.4" y="80.7" width="7.9" height="7.9" rx="3.0"/><rect x="536.3" y="79.6" width="8.1" height="8.1" rx="3.0"/><rect x="533.3" y="85.6" width="6.5" height="6.5" rx="2.4"/><rect x="527.6" y="102.5" width="5.9" height="5.9" rx="2.2"/><rect x="536.8" y="92.4" width="6.6" height="6.6" rx="2.5"/></g>
<g fill="url(#pb170)" stroke="rgb(220,220,220)" stroke-width="0.6"><rect x="526.1" y="73.9" width="6.9" height="6.9" rx="2.6"/><rect x="521.9" y="77.3" width="7.9" height="7.9" rx="3.0"/><rect x="518.2" y="85.0" width="7.1" height="7.1" rx="2.6"/><rect x="531.3" y="79.8" width="8.1" height="8.1" rx="3.0"/><rect x="532.2" y="97.8" width="8.4" height="8.4" rx="3.1"/></g>
<g fill="url(#pb180)" stroke="rgb(240,240,240)" stroke-width="0.6"><rect x="521.5" y="81.5" width="6.9" height="6.9" rx="2.6"/></g>
<g fill="url(#pb190)" stroke="rgb(240,240,240)" stroke-width="0.6"><rect x="529.6" y="70.4" width="6.8" height="6.8" rx="2.5"/><rect x="530.4" y="94.2" width="6.0" height="6.0" rx="2.3"/></g>
<g fill="url(#pb200)" stroke="rgb(240,240,240)" stroke-width="0.6"><rect x="521.3" y="71.9" width="7.4" height="7.4" rx="2.8"/></g>
<g fill="rgb(60,60,60)"><circle cx="519.9" cy="131.4" r="9.1"/><circle cx="531.6" cy="128.8" r="7.7"/><circle cx="518.5" cy="143.1" r="8.6"/><circle cx="515.8" cy="157.2" r="8.9"/><circle cx="539.2" cy="140.5" r="8.4"/><circle cx="531.1" cy="155.2" r="8.1"/><circle cx="527.0" cy="166.7" r="9.3"/></g>
<g fill="url(#pb100)" stroke="rgb(160,160,160)" stroke-width="0.6"><rect x="538.9" y="143.9" width="6.1" height="6.1" rx="2.3"/></g>
<g fill="url(#pb110)" stroke="rgb(160,160,160)" stroke-width="0.6"><rect x="519.3" y="155.5" width="8.0" height="8.0" rx="3.0"/></g>
<g fill="url(#pb120)" stroke="rgb(180,180,180)" stroke-width="0.6"><rect x="514.4" y="135.1" width="7.9" height="7.9" rx="3.0"/><rect x="523.6" y="130.3" width="6.2" height="6.2" rx="2.3"/><rect x="523.6" y="125.1" width="6.1" height="6.1" rx="2.3"/><rect x="520.2" y="135.6" width="5.9" height="5.9" rx="2.2"/><rect x="534.0" y="126.1" width="8.0" height="8.0" rx="3.0"/><rect x="531.3" y="131.5" width="7.1" height="7.1" rx="2.6"/><rect x="515.5" y="159.2" width="7.5" height="7.5" rx="2.8"/><rect x="509.1" y="160.7" width="7.9" height="7.9" rx="3.0"/><rect x="543.2" y="136.0" width="7.1" height="7.1" rx="2.7"/></g>
<g fill="url(#pb130)" stroke="rgb(180,180,180)" stroke-width="0.6"><rect x="527.4" y="128.6" width="6.4" height="6.4" rx="2.4"/><rect x="536.7" y="136.1" width="8.1" height="8.1" rx="3.0"/><rect x="533.9" y="140.3" width="7.2" height="7.2" rx="2.7"/><rect x="532.6" y="153.2" width="8.2" height="8.2" rx="3.1"/><rect x="528.9" y="158.7" width="7.4" height="7.4" rx="2.8"/><rect x="529.7" y="166.8" width="6.5" height="6.5" rx="2.4"/></g>
<g fill="url(#pb140)" stroke="rgb(200,200,200)" stroke-width="0.6"><rect x="518.1" y="128.4" width="6.0" height="6.0" rx="2.3"/><rect x="528.5" y="119.5" width="7.2" height="7.2" rx="2.7"/><rect x="519.6" y="151.3" width="6.2" height="6.2" rx="2.3"/><rect x="514.2" y="149.5" width="6.3" height="6.3" rx="2.4"/><rect x="528.8" y="140.1" width="7.4" height="7.4" rx="2.8"/><rect x="520.2" y="170.0" width="6.1" height="6.1" rx="2.3"/></g>
<g fill="url(#pb150)" stroke="rgb(200,200,200)" stroke-width="0.6"><rect x="510.8" y="128.9" width="7.6" height="7.6" rx="2.8"/><rect x="523.2" y="122.7" width="7.2" height="7.2" rx="2.7"/><rect x="532.6" y="120.8" width="8.3" height="8.3" rx="3.1"/><rect x="518.7" y="145.4" width="7.8" height="7.8" rx="2.9"/><rect x="521.8" y="139.5" width="6.9" height="6.9" rx="2.6"/><rect x="510.2" y="154.2" width="7.3" height="7.3" rx="2.8"/><rect x="505.9" y="156.5" width="7.9" height="7.9" rx="3.0"/><rect x="530.5" y="135.1" width="8.3" height="8.3" rx="3.1"/><rect x="526.8" y="156.9" width="8.0" height="8.0" rx="3.0"/><rect x="524.4" y="167.4" width="6.9" height="6.9" rx="2.6"/></g>
<g fill="url(#pb160)" stroke="rgb(220,220,220)" stroke-width="0.6"><rect x="518.9" y="120.2" width="7.9" height="7.9" rx="3.0"/><rect x="509.1" y="125.1" width="6.0" height="6.0" rx="2.3"/><rect x="521.8" y="128.4" width="7.4" height="7.4" rx="2.8"/><rect x="512.3" y="146.9" width="6.3" height="6.3" rx="2.4"/><rect x="514.8" y="136.8" width="7.9" height="7.9" rx="3.0"/><rect x="537.5" y="129.8" width="6.5" height="6.5" rx="2.4"/><rect x="524.3" y="154.3" width="6.2" height="6.2" rx="2.3"/><rect x="529.0" y="151.6" width="6.2" height="6.2" rx="2.3"/><rect x="522.2" y="161.2" width="7.2" height="7.2" rx="2.7"/><rect x="515.8" y="164.4" width="7.3" height="7.3" rx="2.7"/></g>
<g fill="url(#pb170)" stroke="rgb(220,220,220)" stroke-width="0.6"><rect x="513.6" y="123.3" width="8.3" height="8.3" rx="3.1"/><rect x="508.3" y="141.7" width="8.3" height="8.3" rx="3.1"/><rect x="505.2" y="151.7" width="6.7" height="6.7" rx="2.5"/><rect x="507.7" y="146.4" width="7.5" height="7.5" rx="2.8"/><rect x="531.6" y="130.8" width="7.1" height="7.1" rx="2.7"/><rect x="531.3" y="146.3" width="8.3" height="8.3" rx="3.1"/><rect x="516.4" y="159.4" width="7.8" height="7.8" rx="2.9"/></g>
<g fill="url(#pb180)" stroke="rgb(240,240,240)" stroke-width="0.6"><rect x="518.8" y="134.0" width="7.2" height="7.2" rx="2.7"/><rect x="513.9" y="132.5" width="7.2" height="7.2" rx="2.7"/><rect x="525.8" y="144.7" width="8.3" height="8.3" rx="3.1"/><rect x="524.5" y="155.0" width="6.1" height="6.1" rx="2.3"/></g>
<g fill="url(#pb190)" stroke="rgb(240,240,240)" stroke-width="0.6"><rect x="521.7" y="148.8" width="7.0" height="7.0" rx="2.6"/></g>
<g fill="url(#pb200)" stroke="rgb(240,240,240)" stroke-width="0.6"><rect x="510.2" y="137.9" width="6.1" height="6.1" rx="2.3"/></g>
<g fill="rgb(30,30,30)"><circle cx="472.6" cy="96.5" r="8.3"/><circle cx="485.0" cy="95.1" r="9.3"/><circle cx="473.7" cy="109.4" r="9.5"/><circle cx="496.1" cy="100.7" r="9.0"/><circle cx="485.6" cy="111.8" r="9.2"/><circle cx="473.6" cy="124.6" r="8.1"/><circle cx="499.1" cy="112.9" r="8.1"/><circle cx="489.2" cy="122.8" r="9.3"/></g>
<g fill="url(#pb60)" stroke="rgb(120,120,120)" stroke-width="0.6"><rect x="473.3" y="99.0" width="7.4" height="7.4" rx="2.8"/><rect x="483.8" y="99.9" width="6.6" height="6.6" rx="2.5"/><rect x="488.7" y="96.9" width="6.3" height="6.3" rx="2.4"/><rect x="477.7" y="110.0" width="7.4" height="7.4" rx="2.8"/><rect x="500.1" y="100.1" width="6.6" height="6.6" rx="2.5"/><rect x="471.4" y="126.0" width="8.3" height="8.3" rx="3.1"/></g>
<g fill="url(#pb70)" stroke="rgb(120,120,120)" stroke-width="0.6"><rect x="489.2" y="89.3" width="6.7" height="6.7" rx="2.5"/><rect x="484.3" y="94.9" width="6.3" height="6.3" rx="2.3"/><rect x="494.5" y="102.2" width="6.1" height="6.1" rx="2.3"/><rect x="497.5" y="94.6" width="7.8" height="7.8" rx="2.9"/><rect x="501.3" y="113.1" width="7.5" height="7.5" rx="2.8"/><rect x="486.9" y="124.5" width="7.4" height="7.4" rx="2.8"/><rect x="494.4" y="119.5" width="6.1" height="6.1" rx="2.3"/><rect x="492.1" y="124.0" width="7.2" height="7.2" rx="2.7"/></g>
<g fill="url(#pb80)" stroke="rgb(140,140,140)" stroke-width="0.6"><rect x="466.8" y="93.0" width="7.8" height="7.8" rx="2.9"/><rect x="472.3" y="113.5" width="7.9" height="7.9" rx="3.0"/><rect x="475.5" y="118.3" width="7.8" height="7.8" rx="2.9"/><rect x="475.9" y="123.4" width="7.2" height="7.2" rx="2.7"/><rect x="471.2" y="120.8" width="7.6" height="7.6" rx="2.8"/><rect x="502.6" y="106.7" width="6.0" height="6.0" rx="2.3"/><rect x="493.2" y="114.4" width="7.4" height="7.4" rx="2.8"/><rect x="490.1" y="114.8" width="8.0" height="8.0" rx="3.0"/><rect x="486.5" y="119.6" width="7.3" height="7.3" rx="2.7"/></g>
<g fill="url(#pb90)" stroke="rgb(140,140,140)" stroke-width="0.6"><rect x="471.8" y="93.8" width="7.7" height="7.7" rx="2.9"/><rect x="465.2" y="97.5" width="8.3" height="8.3" rx="3.1"/><rect x="472.4" y="87.1" width="7.3" height="7.3" rx="2.7"/><rect x="478.4" y="95.4" width="7.9" height="7.9" rx="3.0"/><rect x="486.0" y="84.2" width="8.2" height="8.2" rx="3.1"/><rect x="466.6" y="113.5" width="7.5" height="7.5" rx="2.8"/><rect x="489.3" y="111.6" width="8.1" height="8.1" rx="3.0"/><rect x="471.4" y="114.9" width="7.5" height="7.5" rx="2.8"/><rect x="466.7" y="123.5" width="7.2" height="7.2" rx="2.7"/><rect x="479.5" y="123.7" width="6.9" height="6.9" rx="2.6"/></g>
<g fill="url(#pb100)" stroke="rgb(160,160,160)" stroke-width="0.6"><rect x="466.2" y="87.8" width="8.3" height="8.3" rx="3.1"/><rect x="475.7" y="101.2" width="6.9" height="6.9" rx="2.6"/><rect x="471.0" y="105.3" width="6.9" height="6.9" rx="2.6"/><rect x="464.1" y="108.9" width="7.0" height="7.0" rx="2.6"/><rect x="496.9" y="90.7" width="6.4" height="6.4" rx="2.4"/><rect x="488.3" y="101.1" width="7.0" height="7.0" rx="2.6"/><rect x="484.7" y="112.2" width="7.0" height="7.0" rx="2.6"/><rect x="490.9" y="110.6" width="6.1" height="6.1" rx="2.3"/><rect x="495.6" y="109.8" width="7.8" height="7.8" rx="2.9"/><rect x="478.1" y="118.0" width="8.1" height="8.1" rx="3.1"/></g>
<g fill="url(#pb110)" stroke="rgb(160,160,160)" stroke-width="0.6"><rect x="475.2" y="91.7" width="6.8" height="6.8" rx="2.5"/><rect x="479.8" y="88.5" width="6.2" height="6.2" rx="2.3"/><rect x="491.9" y="92.8" width="7.2" height="7.2" rx="2.7"/><rect x="487.6" y="95.3" width="7.5" height="7.5" rx="2.8"/><rect x="489.8" y="104.4" width="6.5" height="6.5" rx="2.4"/><rect x="467.6" y="118.8" width="6.4" height="6.4" rx="2.4"/></g>
<g fill="url(#pb120)" stroke="rgb(180,180,180)" stroke-width="0.6"><rect x="461.8" y="91.2" width="8.2" height="8.2" rx="3.1"/><rect x="481.7" y="82.9" width="7.1" height="7.1" rx="2.7"/><rect x="474.9" y="86.9" width="6.5" height="6.5" rx="2.4"/><rect x="467.6" y="98.4" width="7.9" height="7.9" rx="2.9"/><rect x="462.0" y="103.5" width="8.0" height="8.0" rx="3.0"/><rect x="487.3" y="90.5" width="7.2" height="7.2" rx="2.7"/><rect x="479.5" y="114.6" width="6.6" height="6.6" rx="2.5"/><rect x="484.5" y="105.7" width="8.1" height="8.1" rx="3.0"/><rect x="463.3" y="121.3" width="5.9" height="5.9" rx="2.2"/><rect x="495.7" y="104.6" width="6.9" height="6.9" rx="2.6"/><rect x="484.5" y="113.5" width="6.0" height="6.0" rx="2.3"/></g>
<g fill="url(#pb130)" stroke="rgb(180,180,180)" stroke-width="0.6"><rect x="482.3" y="100.1" width="7.5" height="7.5" rx="2.8"/><rect x="474.9" y="112.2" width="6.2" height="6.2" rx="2.3"/><rect x="491.0" y="105.2" width="6.5" height="6.5" rx="2.4"/></g>
<g fill="url(#pb140)" stroke="rgb(200,200,200)" stroke-width="0.6"><rect x="479.1" y="107.4" width="6.2" height="6.2" rx="2.3"/></g>
<g fill="url(#pb150)" stroke="rgb(200,200,200)" stroke-width="0.6"><rect x="474.7" y="105.0" width="6.3" height="6.3" rx="2.4"/></g>
<g fill="rgb(60,60,60)"><circle cx="394.7" cy="62.1" r="9.5"/><circle cx="405.7" cy="58.0" r="8.8"/></g>
<g fill="url(#pb100)" stroke="rgb(160,160,160)" stroke-width="0.6"><rect x="409.2" y="54.2" width="6.8" height="6.8" rx="2.6"/><rect x="405.5" y="60.9" width="6.8" height="6.8" rx="2.6"/></g>
<g fill="url(#pb120)" stroke="rgb(180,180,180)" stroke-width="0.6"><rect x="396.0" y="62.8" width="6.8" height="6.8" rx="2.5"/><rect x="400.2" y="61.5" width="8.0" height="8.0" rx="3.0"/><rect x="402.7" y="55.6" width="7.7" height="7.7" rx="2.9"/></g>
<g fill="url(#pb130)" stroke="rgb(180,180,180)" stroke-width="0.6"><rect x="392.0" y="67.2" width="7.2" height="7.2" rx="2.7"/><rect x="397.7" y="55.7" width="7.8" height="7.8" rx="2.9"/><rect x="407.5" y="49.2" width="7.4" height="7.4" rx="2.8"/></g>
<g fill="url(#pb140)" stroke="rgb(200,200,200)" stroke-width="0.6"><rect x="399.9" y="59.4" width="7.3" height="7.3" rx="2.7"/><rect x="400.6" y="51.5" width="6.0" height="6.0" rx="2.2"/></g>
<g fill="url(#pb150)" stroke="rgb(200,200,200)" stroke-width="0.6"><rect x="395.4" y="52.9" width="7.5" height="7.5" rx="2.8"/></g>
<g fill="url(#pb160)" stroke="rgb(220,220,220)" stroke-width="0.6"><rect x="388.5" y="64.3" width="6.2" height="6.2" rx="2.3"/><rect x="402.6" y="46.7" width="7.6" height="7.6" rx="2.9"/></g>
<g fill="url(#pb170)" stroke="rgb(220,220,220)" stroke-width="0.6"><rect x="387.7" y="51.5" width="7.3" height="7.3" rx="2.7"/><rect x="390.4" y="57.0" width="6.7" height="6.7" rx="2.5"/><rect x="383.8" y="60.7" width="7.6" height="7.6" rx="2.9"/><rect x="395.4" y="51.7" width="6.1" height="6.1" rx="2.3"/></g>
<g fill="url(#pb180)" stroke="rgb(240,240,240)" stroke-width="0.6"><rect x="384.2" y="55.5" width="8.0" height="8.0" rx="3.0"/></g>
<g fill="rgb(30,30,30)"><circle cx="339.3" cy="23.8" r="9.2"/><circle cx="353.9" cy="18.7" r="9.3"/><circle cx="365.3" cy="13.6" r="9.5"/><circle cx="352.9" cy="33.5" r="9.5"/><circle cx="363.8" cy="25.8" r="8.5"/><circle cx="364.7" cy="38.1" r="9.1"/></g>
<g fill="url(#pb40)" stroke="rgb(100,100,100)" stroke-width="0.6"><rect x="368.1" y="38.3" width="7.8" height="7.8" rx="2.9"/></g>
<g fill="url(#pb50)" stroke="rgb(100,100,100)" stroke-width="0.6"><rect x="364.8" y="9.7" width="7.8" height="7.8" rx="2.9"/><rect x="371.0" y="12.4" width="6.0" height="6.0" rx="2.2"/><rect x="363.9" y="41.0" width="7.8" height="7.8" rx="2.9"/></g>
<g fill="url(#pb60)" stroke="rgb(120,120,120)" stroke-width="0.6"><rect x="353.0" y="18.8" width="8.0" height="8.0" rx="3.0"/><rect x="359.0" y="19.1" width="5.8" height="5.8" rx="2.2"/><rect x="360.5" y="14.4" width="6.5" height="6.5" rx="2.4"/><rect x="367.0" y="15.3" width="6.4" height="6.4" rx="2.4"/></g>
<g fill="url(#pb70)" stroke="rgb(120,120,120)" stroke-width="0.6"><rect x="343.4" y="19.5" width="7.8" height="7.8" rx="2.9"/><rect x="340.0" y="25.5" width="8.2" height="8.2" rx="3.1"/><rect x="348.4" y="19.7" width="6.8" height="6.8" rx="2.5"/><rect x="369.3" y="5.7" width="7.4" height="7.4" rx="2.8"/><rect x="366.8" y="25.5" width="6.3" height="6.3" rx="2.3"/><rect x="358.9" y="42.6" width="6.9" height="6.9" rx="2.6"/><rect x="368.0" y="32.9" width="8.1" height="8.1" rx="3.0"/></g>
<g fill="url(#pb80)" stroke="rgb(140,140,140)" stroke-width="0.6"><rect x="335.3" y="25.8" width="7.6" height="7.6" rx="2.8"/><rect x="337.4" y="21.0" width="7.2" height="7.2" rx="2.7"/><rect x="332.0" y="20.5" width="7.7" height="7.7" rx="2.9"/><rect x="357.1" y="13.7" width="6.4" height="6.4" rx="2.4"/><rect x="351.1" y="13.7" width="7.0" height="7.0" rx="2.6"/><rect x="360.3" y="9.9" width="6.0" height="6.0" rx="2.2"/><rect x="362.2" y="4.4" width="7.0" height="7.0" rx="2.6"/><rect x="351.7" y="37.2" width="8.0" height="8.0" rx="3.0"/><rect x="361.4" y="28.0" width="7.9" height="7.9" rx="2.9"/><rect x="361.1" y="33.9" width="7.3" height="7.3" rx="2.7"/><rect x="365.7" y="28.0" width="7.1" height="7.1" rx="2.6"/></g>
<g fill="url(#pb90)" stroke="rgb(140,140,140)" stroke-width="0.6"><rect x="330.2" y="25.9" width="6.9" height="6.9" rx="2.6"/><rect x="354.2" y="13.7" width="8.0" height="8.0" rx="3.0"/><rect x="362.5" y="19.9" width="7.4" height="7.4" rx="2.8"/><rect x="360.2" y="27.6" width="8.3" height="8.3" rx="3.1"/></g>
<g fill="url(#pb100)" stroke="rgb(160,160,160)" stroke-width="0.6"><rect x="343.4" y="19.7" width="7.3" height="7.3" rx="2.7"/><rect x="353.1" y="8.6" width="7.4" height="7.4" rx="2.8"/><rect x="348.7" y="30.9" width="5.9" height="5.9" rx="2.2"/><rect x="345.0" y="37.3" width="6.3" height="6.3" rx="2.3"/><rect x="357.9" y="30.3" width="7.3" height="7.3" rx="2.7"/><rect x="355.0" y="35.4" width="7.7" height="7.7" rx="2.9"/></g>
<g fill="url(#pb110)" stroke="rgb(160,160,160)" stroke-width="0.6"><rect x="339.3" y="13.3" width="6.1" height="6.1" rx="2.3"/><rect x="346.4" y="14.8" width="5.9" height="5.9" rx="2.2"/><rect x="347.8" y="9.5" width="5.9" height="5.9" rx="2.2"/><rect x="353.3" y="8.7" width="6.9" height="6.9" rx="2.6"/><rect x="357.1" y="4.1" width="7.6" height="7.6" rx="2.8"/><rect x="353.2" y="32.5" width="6.4" height="6.4" rx="2.4"/><rect x="356.5" y="25.5" width="7.5" height="7.5" rx="2.8"/><rect x="355.0" y="28.0" width="7.3" height="7.3" rx="2.8"/><rect x="363.4" y="15.1" width="7.3" height="7.3" rx="2.7"/><rect x="354.8" y="29.9" width="7.6" height="7.6" rx="2.8"/></g>
<g fill="url(#pb120)" stroke="rgb(180,180,180)" stroke-width="0.6"><rect x="331.1" y="14.3" width="7.9" height="7.9" rx="3.0"/><rect x="327.2" y="17.4" width="7.6" height="7.6" rx="2.9"/><rect x="347.6" y="24.1" width="6.1" height="6.1" rx="2.3"/><rect x="352.4" y="19.8" width="8.2" height="8.2" rx="3.1"/><rect x="357.3" y="23.7" width="6.2" height="6.2" rx="2.3"/></g>
<g fill="url(#pb130)" stroke="rgb(180,180,180)" stroke-width="0.6"><rect x="352.2" y="25.5" width="6.5" height="6.5" rx="2.4"/><rect x="341.5" y="29.7" width="7.3" height="7.3" rx="2.7"/><rect x="357.3" y="15.5" width="8.3" height="8.3" rx="3.1"/></g>
<g fill="rgb(30,30,30)"><circle cx="393.2" cy="16.4" r="8.0"/><circle cx="394.3" cy="30.3" r="8.4"/><circle cx="406.6" cy="21.4" r="9.2"/><circle cx="416.8" cy="15.0" r="9.2"/><circle cx="407.2" cy="33.3" r="9.5"/><circle cx="427.2" cy="22.1" r="8.5"/><circle cx="419.9" cy="31.0" r="8.2"/><circle cx="416.4" cy="42.0" r="8.2"/></g>
<g fill="url(#pb50)" stroke="rgb(100,100,100)" stroke-width="0.6"><rect x="429.1" y="20.5" width="7.3" height="7.3" rx="2.7"/><rect x="425.6" y="23.8" width="6.5" height="6.5" rx="2.4"/><rect x="418.3" y="41.7" width="6.9" height="6.9" rx="2.6"/></g>
<g fill="url(#pb60)" stroke="rgb(120,120,120)" stroke-width="0.6"><rect x="420.2" y="16.8" width="5.8" height="5.8" rx="2.2"/></g>
<g fill="url(#pb70)" stroke="rgb(120,120,120)" stroke-width="0.6"><rect x="394.3" y="15.2" width="7.8" height="7.8" rx="2.9"/><rect x="391.6" y="19.8" width="7.5" height="7.5" rx="2.8"/><rect x="395.8" y="28.2" width="8.0" height="8.0" rx="3.0"/><rect x="430.4" y="15.4" width="5.9" height="5.9" rx="2.2"/><rect x="420.2" y="25.4" width="8.0" height="8.0" rx="3.0"/><rect x="421.7" y="31.0" width="8.0" height="8.0" rx="3.0"/><rect x="416.8" y="35.3" width="7.5" height="7.5" rx="2.8"/></g>
<g fill="url(#pb80)" stroke="rgb(140,140,140)" stroke-width="0.6"><rect x="393.6" y="33.5" width="6.7" height="6.7" rx="2.5"/><rect x="412.1" y="18.3" width="7.7" height="7.7" rx="2.9"/><rect x="417.5" y="10.3" width="8.2" height="8.2" rx="3.1"/><rect x="409.6" y="35.3" width="7.2" height="7.2" rx="2.7"/><rect x="419.2" y="20.2" width="7.6" height="7.6" rx="2.9"/><rect x="417.0" y="30.2" width="7.6" height="7.6" rx="2.9"/><rect x="420.3" y="23.5" width="7.7" height="7.7" rx="2.9"/><rect x="410.8" y="44.0" width="7.3" height="7.3" rx="2.7"/><rect x="411.3" y="38.6" width="7.8" height="7.8" rx="2.9"/></g>
<g fill="url(#pb90)" stroke="rgb(140,140,140)" stroke-width="0.6"><rect x="394.0" y="25.2" width="6.0" height="6.0" rx="2.3"/><rect x="403.1" y="24.4" width="8.0" height="8.0" rx="3.0"/><rect x="397.7" y="23.7" width="8.2" height="8.2" rx="3.1"/><rect x="410.2" y="20.9" width="7.4" height="7.4" rx="2.8"/><rect x="425.4" y="17.4" width="6.7" height="6.7" rx="2.5"/><rect x="426.3" y="11.0" width="7.4" height="7.4" rx="2.8"/><rect x="406.7" y="40.2" width="6.1" height="6.1" rx="2.3"/></g>
<g fill="url(#pb100)" stroke="rgb(160,160,160)" stroke-width="0.6"><rect x="387.5" y="18.6" width="6.4" height="6.4" rx="2.4"/><rect x="389.6" y="13.7" width="6.4" height="6.4" rx="2.4"/><rect x="388.8" y="30.6" width="7.7" height="7.7" rx="2.9"/><rect x="404.4" y="36.8" width="8.3" height="8.3" rx="3.1"/><rect x="410.1" y="24.5" width="7.3" height="7.3" rx="2.7"/><rect x="422.3" y="13.5" width="6.8" height="6.8" rx="2.6"/><rect x="412.5" y="31.1" width="5.9" height="5.9" rx="2.2"/><rect x="409.6" y="33.8" width="8.1" height="8.1" rx="3.0"/></g>
<g fill="url(#pb110)" stroke="rgb(160,160,160)" stroke-width="0.6"><rect x="393.4" y="9.7" width="7.4" height="7.4" rx="2.8"/><rect x="390.4" y="5.2" width="8.1" height="8.1" rx="3.0"/><rect x="391.1" y="19.6" width="8.1" height="8.1" rx="3.0"/><rect x="383.4" y="28.2" width="7.6" height="7.6" rx="2.8"/><rect x="405.8" y="10.2" width="8.0" height="8.0" rx="3.0"/><rect x="408.5" y="15.9" width="6.9" height="6.9" rx="2.6"/><rect x="405.3" y="11.3" width="7.9" height="7.9" rx="3.0"/><rect x="408.2" y="29.2" width="8.1" height="8.1" rx="3.0"/><rect x="403.0" y="29.1" width="8.2" height="8.2" rx="3.1"/><rect x="399.9" y="35.6" width="7.1" height="7.1" rx="2.7"/><rect x="416.9" y="15.1" width="6.8" height="6.8" rx="2.6"/></g>
<g fill="url(#pb120)" stroke="rgb(180,180,180)" stroke-width="0.6"><rect x="383.5" y="14.9" width="6.3" height="6.3" rx="2.4"/><rect x="407.7" y="14.8" width="7.8" height="7.8" rx="2.9"/><rect x="400.7" y="11.4" width="8.1" height="8.1" rx="3.0"/><rect x="402.8" y="17.9" width="6.8" height="6.8" rx="2.5"/><rect x="415.7" y="6.3" width="7.1" height="7.1" rx="2.7"/><rect x="411.8" y="3.6" width="6.4" height="6.4" rx="2.4"/><rect x="410.4" y="9.4" width="7.9" height="7.9" rx="3.0"/><rect x="398.2" y="27.4" width="8.0" height="8.0" rx="3.0"/><rect x="415.0" y="21.3" width="7.2" height="7.2" rx="2.7"/></g>
<g fill="url(#pb130)" stroke="rgb(180,180,180)" stroke-width="0.6"><rect x="386.3" y="9.4" width="7.2" height="7.2" rx="2.7"/><rect x="387.6" y="23.9" width="7.2" height="7.2" rx="2.7"/><rect x="396.8" y="15.1" width="7.7" height="7.7" rx="2.9"/><rect x="395.5" y="20.7" width="5.8" height="5.8" rx="2.2"/><rect x="407.3" y="6.4" width="6.6" height="6.6" rx="2.5"/><rect x="404.5" y="24.7" width="7.2" height="7.2" rx="2.7"/><rect x="395.2" y="31.4" width="8.2" height="8.2" rx="3.1"/><rect x="410.8" y="25.1" width="7.1" height="7.1" rx="2.7"/></g>
<g fill="url(#pb140)" stroke="rgb(200,200,200)" stroke-width="0.6"><rect x="398.3" y="22.2" width="8.1" height="8.1" rx="3.1"/></g>
</g>
<rect x="285" y="5" width="257.5" height="170.5" filter="url(#grainB)" style="mix-blend-mode:overlay" opacity="0.7"/>
</g>
<rect x="299.4" y="154.3" width="198.5" height="16.2" fill="#060606"/>
<g class="sem"><text x="300.5" y="161.2" textLength="16" lengthAdjust="spacingAndGlyphs">Acc.V</text><text x="322.1" y="161.2" textLength="28.4" lengthAdjust="spacingAndGlyphs">Spot Magn</text><text x="359.2" y="161.2" textLength="9.5" lengthAdjust="spacingAndGlyphs">Det</text><text x="373.3" y="161.2" textLength="10.2" lengthAdjust="spacingAndGlyphs">WD</text><text x="300.5" y="167.9" textLength="31.5" lengthAdjust="spacingAndGlyphs">10.0 kV 3.0</text><text x="335.8" y="167.9" textLength="19.2" lengthAdjust="spacingAndGlyphs">80000x</text><text x="359.2" y="167.9" textLength="22" lengthAdjust="spacingAndGlyphs">TLD 5.0</text><text x="389.2" y="167.9" textLength="15.4" lengthAdjust="spacingAndGlyphs">KAIST</text><text x="463.8" y="161.3" textLength="13.2" lengthAdjust="spacingAndGlyphs">1 μm</text></g>
<path d="M388.7,159 H457.5 M388.7,157.3 V160.7 M457.5,157.3 V160.7" stroke="#ddd" stroke-width="0.8" fill="none"/>
<rect x="502.7" y="148" width="28.8" height="23" fill="#fff"/>
<text x="506.9" y="163.5" class="lab">(b)</text>
<rect x="285" y="5" width="257.5" height="170.6" fill="none" stroke="#fbc907" stroke-width="2.2"/>
<rect x="143.6" y="190.0" width="73.0" height="137.3" fill="#f5f5ee"/>
<path d="M41.40,320.67 L42.15,320.11 L42.90,319.30 L43.65,318.43 L44.40,317.69 L45.15,317.10 L45.90,316.58 L46.65,316.13 L47.40,315.78 L48.15,315.54 L48.90,315.39 L49.65,315.32 L50.40,315.30 L51.15,315.30 L51.90,315.30 L52.65,315.30 L53.40,315.30 L54.15,315.30 L54.90,315.30 L55.65,315.30 L56.40,315.30 L57.15,315.30 L57.90,315.30 L58.65,315.30 L59.40,315.30 L60.15,315.30 L60.90,315.30 L61.65,315.30 L62.40,315.30 L63.15,315.30 L63.90,315.30 L64.65,315.30 L65.40,315.30 L66.15,315.30 L66.90,315.30 L67.65,315.30 L68.40,315.30 L69.15,315.30 L69.90,315.30 L70.65,315.30 L71.40,315.30 L72.15,315.30 L72.90,315.30 L73.65,315.30 L74.40,315.30 L75.15,315.30 L75.90,315.30 L76.65,315.30 L77.40,315.30 L78.15,315.30 L78.90,315.30 L79.65,315.30 L80.40,315.30 L81.15,315.30 L81.90,315.30 L82.65,315.30 L83.40,315.30 L84.15,315.30 L84.90,315.30 L85.65,315.30 L86.40,315.30 L87.15,315.30 L87.90,315.30 L88.65,315.30 L89.40,315.30 L90.15,315.30 L90.90,315.30 L91.65,315.30 L92.40,315.30 L93.15,315.30 L93.90,315.30 L94.65,315.30 L95.40,315.30 L96.15,315.30 L96.90,315.30 L97.65,315.30 L98.40,315.30 L99.15,315.30 L99.90,315.30 L100.65,315.30 L101.40,315.30 L102.15,315.30 L102.90,315.30 L103.65,315.30 L104.40,315.30 L105.15,315.30 L105.90,315.30 L106.65,315.30 L107.40,315.30 L108.15,315.30 L108.90,315.30 L109.65,315.30 L110.40,315.30 L111.15,315.30 L111.90,315.30 L112.65,315.30 L113.40,315.30 L114.15,315.30 L114.90,315.30 L115.65,315.30 L116.40,315.30 L117.15,315.30 L117.90,315.30 L118.65,315.30 L119.40,315.30 L120.15,315.30 L120.90,315.30 L121.65,315.30 L122.40,315.30 L123.15,315.30 L123.90,315.30 L124.65,315.30 L125.40,315.30 L126.15,315.30 L126.90,315.30 L127.65,315.30 L128.40,315.30 L129.15,315.30 L129.90,315.30 L130.65,315.30 L131.40,315.30 L132.15,315.30 L132.90,315.30 L133.65,315.30 L134.40,315.30 L135.15,315.30 L135.90,315.30 L136.65,315.30 L137.40,315.30 L138.15,315.30 L138.90,315.30 L139.65,315.30 L140.40,315.30 L141.15,315.30 L141.90,315.30 L142.65,315.30 L143.40,315.30 L144.15,315.30 L144.90,313.36 L145.65,307.52 L146.40,300.97 L147.15,294.90 L147.90,288.49 L148.65,282.06 L149.40,275.90 L150.15,269.81 L150.90,263.66 L151.65,257.89 L152.40,252.95 L153.15,249.12 L153.90,245.98 L154.65,243.32 L155.40,241.01 L156.15,238.90 L156.90,236.85 L157.65,234.81 L158.40,232.99 L159.15,231.39 L159.90,229.96 L160.65,228.64 L161.40,227.42 L162.15,226.36 L162.90,225.45 L163.65,224.63 L164.40,223.87 L165.15,223.15 L165.90,222.51 L166.65,221.94 L167.40,221.41 L168.15,220.92 L168.90,220.47 L169.65,220.07 L170.40,219.73 L171.15,219.44 L171.90,219.18 L172.65,218.95 L173.40,218.72 L174.15,218.50 L174.90,218.28 L175.65,218.07 L176.40,217.87 L177.15,217.68 L177.90,217.49 L178.65,217.30 L179.40,217.13 L180.15,216.96 L180.90,216.80 L181.65,216.64 L182.40,216.49 L183.15,216.35 L183.90,216.22 L184.65,216.10 L185.40,215.98 L186.15,215.86 L186.90,215.75 L187.65,215.65 L188.40,215.55 L189.15,215.46 L189.90,215.36 L190.65,215.27 L191.40,215.19 L192.15,215.10 L192.90,215.02 L193.65,214.94 L194.40,214.87 L195.15,214.79 L195.90,214.72 L196.65,214.65 L197.40,214.58 L198.15,214.51 L198.90,214.44 L199.65,214.38 L200.40,214.31 L201.15,214.25 L201.90,214.18 L202.65,214.11 L203.40,214.05 L204.15,213.98 L204.90,213.91 L205.65,213.83 L206.40,213.76 L207.15,213.68 L207.90,213.60 L208.65,213.53 L209.40,213.46 L210.15,213.40 L210.90,213.34 L211.65,213.30 L212.40,213.26 L213.15,213.23 L213.90,213.22 L214.65,214.00 L215.40,218.79 L216.15,225.48 L216.90,231.44 L217.65,236.35 L218.40,241.90 L219.15,248.63 L219.90,255.49 L220.65,261.42 L221.40,266.74 L222.15,271.71 L222.90,276.44 L223.65,281.02 L224.40,285.45 L225.15,289.54 L225.90,293.09 L226.65,296.07 L227.40,298.61 L228.15,300.81 L228.90,302.76 L229.65,304.60 L230.40,306.34 L231.15,307.97 L231.90,309.43 L232.65,310.69 L233.40,311.72 L234.15,312.55 L234.90,313.26 L235.65,313.86 L236.40,314.35 L237.15,314.73 L237.90,315.01 L238.65,315.20 L239.40,315.30 L240.15,315.30 L240.90,315.30 L241.65,315.30 L242.40,315.30 L243.15,315.30 L243.90,315.30 L244.65,315.30 L245.40,315.30 L246.15,315.30 L246.90,315.30 L247.65,315.30 L248.40,315.30 L249.15,315.30 L249.90,315.30 L250.65,315.30 L251.40,315.30 L252.15,315.30 L252.90,315.30 L253.65,315.30 L254.40,315.30 L255.15,315.30 L255.90,315.30 L256.65,315.30 L257.40,315.30 L258.15,315.30 L258.90,315.30 L259.65,315.30 L260.40,315.30 L261.15,315.30 L261.90,315.30 L262.65,315.30 L263.40,315.30 L264.15,315.30 L264.90,315.30 L265.65,315.30 L266.40,315.30 L267.15,315.30 L267.90,315.30 L268.65,315.30 L269.40,315.30 L270.15,315.30 L270.90,315.30 L271.65,315.30 L272.40,315.30" fill="none" stroke="#ff1a1a" stroke-width="1.8"/>
<circle cx="44.2" cy="317.8" r="1.55" fill="#fff" stroke="#ff1a1a" stroke-width="1.3"/>
<circle cx="48.0" cy="315.6" r="1.55" fill="#fff" stroke="#ff1a1a" stroke-width="1.3"/>
<circle cx="51.8" cy="315.3" r="1.55" fill="#fff" stroke="#ff1a1a" stroke-width="1.3"/>
<circle cx="55.5" cy="315.3" r="1.55" fill="#fff" stroke="#ff1a1a" stroke-width="1.3"/>
<circle cx="59.2" cy="315.3" r="1.55" fill="#fff" stroke="#ff1a1a" stroke-width="1.3"/>
<circle cx="63.0" cy="315.3" r="1.55" fill="#fff" stroke="#ff1a1a" stroke-width="1.3"/>
<circle cx="66.8" cy="315.3" r="1.55" fill="#fff" stroke="#ff1a1a" stroke-width="1.3"/>
<circle cx="70.5" cy="315.3" r="1.55" fill="#fff" stroke="#ff1a1a" stroke-width="1.3"/>
<circle cx="74.2" cy="315.3" r="1.55" fill="#fff" stroke="#ff1a1a" stroke-width="1.3"/>
<circle cx="78.0" cy="315.3" r="1.55" fill="#fff" stroke="#ff1a1a" stroke-width="1.3"/>
<circle cx="81.8" cy="315.3" r="1.55" fill="#fff" stroke="#ff1a1a" stroke-width="1.3"/>
<circle cx="85.5" cy="315.3" r="1.55" fill="#fff" stroke="#ff1a1a" stroke-width="1.3"/>
<circle cx="89.2" cy="315.3" r="1.55" fill="#fff" stroke="#ff1a1a" stroke-width="1.3"/>
<circle cx="93.0" cy="315.3" r="1.55" fill="#fff" stroke="#ff1a1a" stroke-width="1.3"/>
<circle cx="96.8" cy="315.3" r="1.55" fill="#fff" stroke="#ff1a1a" stroke-width="1.3"/>
<circle cx="100.5" cy="315.3" r="1.55" fill="#fff" stroke="#ff1a1a" stroke-width="1.3"/>
<circle cx="104.2" cy="315.3" r="1.55" fill="#fff" stroke="#ff1a1a" stroke-width="1.3"/>
<circle cx="108.0" cy="315.3" r="1.55" fill="#fff" stroke="#ff1a1a" stroke-width="1.3"/>
<circle cx="111.8" cy="315.3" r="1.55" fill="#fff" stroke="#ff1a1a" stroke-width="1.3"/>
<circle cx="115.5" cy="315.3" r="1.55" fill="#fff" stroke="#ff1a1a" stroke-width="1.3"/>
<circle cx="119.2" cy="315.3" r="1.55" fill="#fff" stroke="#ff1a1a" stroke-width="1.3"/>
<circle cx="123.0" cy="315.3" r="1.55" fill="#fff" stroke="#ff1a1a" stroke-width="1.3"/>
<circle cx="126.8" cy="315.3" r="1.55" fill="#fff" stroke="#ff1a1a" stroke-width="1.3"/>
<circle cx="130.5" cy="315.3" r="1.55" fill="#fff" stroke="#ff1a1a" stroke-width="1.3"/>
<circle cx="134.2" cy="315.3" r="1.55" fill="#fff" stroke="#ff1a1a" stroke-width="1.3"/>
<circle cx="138.0" cy="315.3" r="1.55" fill="#fff" stroke="#ff1a1a" stroke-width="1.3"/>
<circle cx="141.8" cy="315.3" r="1.55" fill="#fff" stroke="#ff1a1a" stroke-width="1.3"/>
<circle cx="145.5" cy="308.8" r="1.55" fill="#fff" stroke="#ff1a1a" stroke-width="1.3"/>
<circle cx="149.2" cy="277.1" r="1.55" fill="#fff" stroke="#ff1a1a" stroke-width="1.3"/>
<circle cx="153.0" cy="249.8" r="1.55" fill="#fff" stroke="#ff1a1a" stroke-width="1.3"/>
<circle cx="156.8" cy="237.3" r="1.55" fill="#fff" stroke="#ff1a1a" stroke-width="1.3"/>
<circle cx="160.5" cy="228.9" r="1.55" fill="#fff" stroke="#ff1a1a" stroke-width="1.3"/>
<circle cx="164.2" cy="224.0" r="1.55" fill="#fff" stroke="#ff1a1a" stroke-width="1.3"/>
<circle cx="168.0" cy="221.0" r="1.55" fill="#fff" stroke="#ff1a1a" stroke-width="1.3"/>
<circle cx="171.8" cy="219.2" r="1.55" fill="#fff" stroke="#ff1a1a" stroke-width="1.3"/>
<circle cx="175.5" cy="218.1" r="1.55" fill="#fff" stroke="#ff1a1a" stroke-width="1.3"/>
<circle cx="179.3" cy="217.2" r="1.55" fill="#fff" stroke="#ff1a1a" stroke-width="1.3"/>
<circle cx="183.0" cy="216.4" r="1.55" fill="#fff" stroke="#ff1a1a" stroke-width="1.3"/>
<circle cx="186.8" cy="215.8" r="1.55" fill="#fff" stroke="#ff1a1a" stroke-width="1.3"/>
<circle cx="190.5" cy="215.3" r="1.55" fill="#fff" stroke="#ff1a1a" stroke-width="1.3"/>
<circle cx="194.3" cy="214.9" r="1.55" fill="#fff" stroke="#ff1a1a" stroke-width="1.3"/>
<circle cx="198.0" cy="214.5" r="1.55" fill="#fff" stroke="#ff1a1a" stroke-width="1.3"/>
<circle cx="201.8" cy="214.2" r="1.55" fill="#fff" stroke="#ff1a1a" stroke-width="1.3"/>
<circle cx="205.5" cy="213.8" r="1.55" fill="#fff" stroke="#ff1a1a" stroke-width="1.3"/>
<circle cx="209.3" cy="213.5" r="1.55" fill="#fff" stroke="#ff1a1a" stroke-width="1.3"/>
<circle cx="213.0" cy="213.2" r="1.55" fill="#fff" stroke="#ff1a1a" stroke-width="1.3"/>
<circle cx="216.8" cy="230.4" r="1.55" fill="#fff" stroke="#ff1a1a" stroke-width="1.3"/>
<circle cx="220.5" cy="260.3" r="1.55" fill="#fff" stroke="#ff1a1a" stroke-width="1.3"/>
<circle cx="224.3" cy="284.6" r="1.55" fill="#fff" stroke="#ff1a1a" stroke-width="1.3"/>
<circle cx="228.0" cy="300.4" r="1.55" fill="#fff" stroke="#ff1a1a" stroke-width="1.3"/>
<circle cx="231.8" cy="309.2" r="1.55" fill="#fff" stroke="#ff1a1a" stroke-width="1.3"/>
<circle cx="235.5" cy="313.8" r="1.55" fill="#fff" stroke="#ff1a1a" stroke-width="1.3"/>
<circle cx="239.3" cy="315.3" r="1.55" fill="#fff" stroke="#ff1a1a" stroke-width="1.3"/>
<circle cx="243.0" cy="315.3" r="1.55" fill="#fff" stroke="#ff1a1a" stroke-width="1.3"/>
<circle cx="246.8" cy="315.3" r="1.55" fill="#fff" stroke="#ff1a1a" stroke-width="1.3"/>
<circle cx="250.5" cy="315.3" r="1.55" fill="#fff" stroke="#ff1a1a" stroke-width="1.3"/>
<circle cx="254.3" cy="315.3" r="1.55" fill="#fff" stroke="#ff1a1a" stroke-width="1.3"/>
<circle cx="258.0" cy="315.3" r="1.55" fill="#fff" stroke="#ff1a1a" stroke-width="1.3"/>
<circle cx="261.8" cy="315.3" r="1.55" fill="#fff" stroke="#ff1a1a" stroke-width="1.3"/>
<circle cx="265.5" cy="315.3" r="1.55" fill="#fff" stroke="#ff1a1a" stroke-width="1.3"/>
<circle cx="269.2" cy="315.3" r="1.55" fill="#fff" stroke="#ff1a1a" stroke-width="1.3"/>
<path d="M41.40,315.30 L42.15,315.30 L42.90,315.30 L43.65,315.30 L44.40,315.30 L45.15,315.30 L45.90,315.30 L46.65,315.30 L47.40,315.30 L48.15,315.30 L48.90,315.30 L49.65,315.30 L50.40,315.30 L51.15,315.30 L51.90,315.30 L52.65,315.30 L53.40,315.30 L54.15,315.30 L54.90,315.30 L55.65,315.30 L56.40,315.30 L57.15,315.30 L57.90,315.30 L58.65,315.30 L59.40,315.30 L60.15,315.30 L60.90,315.30 L61.65,315.30 L62.40,315.30 L63.15,315.30 L63.90,315.30 L64.65,315.30 L65.40,315.30 L66.15,315.30 L66.90,315.30 L67.65,315.30 L68.40,315.30 L69.15,315.30 L69.90,315.30 L70.65,315.30 L71.40,315.30 L72.15,315.30 L72.90,315.30 L73.65,315.30 L74.40,315.30 L75.15,315.30 L75.90,315.30 L76.65,315.30 L77.40,315.30 L78.15,315.30 L78.90,315.30 L79.65,315.30 L80.40,315.30 L81.15,315.30 L81.90,315.30 L82.65,315.30 L83.40,315.30 L84.15,315.30 L84.90,315.30 L85.65,315.30 L86.40,315.30 L87.15,315.30 L87.90,315.30 L88.65,315.30 L89.40,315.30 L90.15,315.30 L90.90,315.30 L91.65,315.30 L92.40,315.30 L93.15,315.30 L93.90,315.30 L94.65,315.30 L95.40,315.30 L96.15,315.30 L96.90,315.30 L97.65,315.30 L98.40,315.30 L99.15,315.30 L99.90,315.30 L100.65,315.30 L101.40,315.30 L102.15,315.30 L102.90,315.30 L103.65,315.30 L104.40,315.30 L105.15,315.30 L105.90,315.30 L106.65,315.30 L107.40,315.30 L108.15,315.30 L108.90,315.30 L109.65,315.30 L110.40,315.30 L111.15,315.30 L111.90,315.30 L112.65,315.30 L113.40,315.30 L114.15,315.30 L114.90,315.30 L115.65,315.30 L116.40,315.30 L117.15,315.30 L117.90,315.30 L118.65,315.30 L119.40,315.30 L120.15,315.30 L120.90,315.30 L121.65,315.30 L122.40,315.30 L123.15,315.30 L123.90,315.30 L124.65,315.30 L125.40,315.30 L126.15,315.30 L126.90,315.30 L127.65,315.30 L128.40,315.30 L129.15,315.30 L129.90,315.30 L130.65,315.30 L131.40,315.30 L132.15,315.30 L132.90,315.30 L133.65,315.30 L134.40,315.30 L135.15,315.30 L135.90,315.30 L136.65,315.30 L137.40,315.30 L138.15,315.30 L138.90,315.30 L139.65,315.30 L140.40,315.30 L141.15,315.30 L141.90,315.30 L142.65,315.30 L143.40,315.30 L144.15,315.30 L144.90,315.00 L145.65,312.33 L146.40,308.00 L147.15,303.36 L147.90,298.51 L148.65,293.10 L149.40,287.75 L150.15,283.06 L150.90,278.97 L151.65,275.02 L152.40,271.28 L153.15,267.81 L153.90,264.67 L154.65,261.93 L155.40,259.50 L156.15,257.26 L156.90,255.19 L157.65,253.31 L158.40,251.60 L159.15,250.06 L159.90,248.68 L160.65,247.47 L161.40,246.39 L162.15,245.43 L162.90,244.57 L163.65,243.79 L164.40,243.11 L165.15,242.50 L165.90,241.97 L166.65,241.51 L167.40,241.11 L168.15,240.77 L168.90,240.47 L169.65,240.27 L170.40,240.17 L171.15,240.09 L171.90,240.01 L172.65,239.94 L173.40,239.89 L174.15,239.84 L174.90,239.80 L175.65,239.76 L176.40,239.73 L177.15,239.71 L177.90,239.69 L178.65,239.68 L179.40,239.67 L180.15,239.66 L180.90,239.65 L181.65,239.64 L182.40,239.63 L183.15,239.61 L183.90,239.60 L184.65,239.59 L185.40,239.57 L186.15,239.56 L186.90,239.54 L187.65,239.53 L188.40,239.52 L189.15,239.51 L189.90,239.50 L190.65,239.49 L191.40,239.48 L192.15,239.47 L192.90,239.46 L193.65,239.45 L194.40,239.44 L195.15,239.44 L195.90,239.43 L196.65,239.42 L197.40,239.42 L198.15,239.41 L198.90,239.41 L199.65,239.40 L200.40,239.40 L201.15,239.39 L201.90,239.39 L202.65,239.38 L203.40,239.38 L204.15,239.38 L204.90,239.38 L205.65,239.37 L206.40,239.37 L207.15,239.37 L207.90,239.37 L208.65,239.37 L209.40,239.37 L210.15,239.36 L210.90,239.36 L211.65,239.36 L212.40,239.36 L213.15,239.36 L213.90,239.36 L214.65,239.36 L215.40,239.36 L216.15,239.64 L216.90,241.72 L217.65,244.99 L218.40,248.44 L219.15,251.95 L219.90,255.89 L220.65,260.01 L221.40,264.20 L222.15,268.49 L222.90,272.82 L223.65,277.18 L224.40,281.72 L225.15,286.51 L225.90,290.91 L226.65,294.34 L227.40,297.08 L228.15,299.37 L228.90,301.33 L229.65,303.11 L230.40,304.83 L231.15,306.49 L231.90,308.06 L232.65,309.52 L233.40,310.83 L234.15,311.98 L234.90,312.91 L235.65,313.64 L236.40,314.20 L237.15,314.61 L237.90,314.89 L238.65,315.08 L239.40,315.19 L240.15,315.26 L240.90,315.30 L241.65,315.30 L242.40,315.30 L243.15,315.30 L243.90,315.30 L244.65,315.30 L245.40,315.30 L246.15,315.30 L246.90,315.30 L247.65,315.30 L248.40,315.30 L249.15,315.30 L249.90,315.30 L250.65,315.30 L251.40,315.30 L252.15,315.30 L252.90,315.30 L253.65,315.30 L254.40,315.30 L255.15,315.30 L255.90,315.30 L256.65,315.30 L257.40,315.30 L258.15,315.30 L258.90,315.30 L259.65,315.30 L260.40,315.30 L261.15,315.30 L261.90,315.30 L262.65,315.30 L263.40,315.30 L264.15,315.30 L264.90,315.30 L265.65,315.30 L266.40,315.30 L267.15,315.30 L267.90,315.30 L268.65,315.30 L269.40,315.30 L270.15,315.30 L270.90,315.30 L271.65,315.30 L272.40,315.30" fill="none" stroke="#ff66ff" stroke-width="1.8"/>
<circle cx="44.2" cy="315.3" r="1.8" fill="#fff" stroke="#ff66ff" stroke-width="1.1"/>
<circle cx="48.0" cy="315.3" r="1.8" fill="#fff" stroke="#ff66ff" stroke-width="1.1"/>
<circle cx="51.8" cy="315.3" r="1.8" fill="#fff" stroke="#ff66ff" stroke-width="1.1"/>
<circle cx="55.5" cy="315.3" r="1.8" fill="#fff" stroke="#ff66ff" stroke-width="1.1"/>
<circle cx="59.2" cy="315.3" r="1.8" fill="#fff" stroke="#ff66ff" stroke-width="1.1"/>
<circle cx="63.0" cy="315.3" r="1.8" fill="#fff" stroke="#ff66ff" stroke-width="1.1"/>
<circle cx="66.8" cy="315.3" r="1.8" fill="#fff" stroke="#ff66ff" stroke-width="1.1"/>
<circle cx="70.5" cy="315.3" r="1.8" fill="#fff" stroke="#ff66ff" stroke-width="1.1"/>
<circle cx="74.2" cy="315.3" r="1.8" fill="#fff" stroke="#ff66ff" stroke-width="1.1"/>
<circle cx="78.0" cy="315.3" r="1.8" fill="#fff" stroke="#ff66ff" stroke-width="1.1"/>
<circle cx="81.8" cy="315.3" r="1.8" fill="#fff" stroke="#ff66ff" stroke-width="1.1"/>
<circle cx="85.5" cy="315.3" r="1.8" fill="#fff" stroke="#ff66ff" stroke-width="1.1"/>
<circle cx="89.2" cy="315.3" r="1.8" fill="#fff" stroke="#ff66ff" stroke-width="1.1"/>
<circle cx="93.0" cy="315.3" r="1.8" fill="#fff" stroke="#ff66ff" stroke-width="1.1"/>
<circle cx="96.8" cy="315.3" r="1.8" fill="#fff" stroke="#ff66ff" stroke-width="1.1"/>
<circle cx="100.5" cy="315.3" r="1.8" fill="#fff" stroke="#ff66ff" stroke-width="1.1"/>
<circle cx="104.2" cy="315.3" r="1.8" fill="#fff" stroke="#ff66ff" stroke-width="1.1"/>
<circle cx="108.0" cy="315.3" r="1.8" fill="#fff" stroke="#ff66ff" stroke-width="1.1"/>
<circle cx="111.8" cy="315.3" r="1.8" fill="#fff" stroke="#ff66ff" stroke-width="1.1"/>
<circle cx="115.5" cy="315.3" r="1.8" fill="#fff" stroke="#ff66ff" stroke-width="1.1"/>
<circle cx="119.2" cy="315.3" r="1.8" fill="#fff" stroke="#ff66ff" stroke-width="1.1"/>
<circle cx="123.0" cy="315.3" r="1.8" fill="#fff" stroke="#ff66ff" stroke-width="1.1"/>
<circle cx="126.8" cy="315.3" r="1.8" fill="#fff" stroke="#ff66ff" stroke-width="1.1"/>
<circle cx="130.5" cy="315.3" r="1.8" fill="#fff" stroke="#ff66ff" stroke-width="1.1"/>
<circle cx="134.2" cy="315.3" r="1.8" fill="#fff" stroke="#ff66ff" stroke-width="1.1"/>
<circle cx="138.0" cy="315.3" r="1.8" fill="#fff" stroke="#ff66ff" stroke-width="1.1"/>
<circle cx="141.8" cy="315.3" r="1.8" fill="#fff" stroke="#ff66ff" stroke-width="1.1"/>
<circle cx="145.5" cy="313.0" r="1.8" fill="#fff" stroke="#ff66ff" stroke-width="1.1"/>
<circle cx="149.2" cy="288.8" r="1.8" fill="#fff" stroke="#ff66ff" stroke-width="1.1"/>
<circle cx="153.0" cy="268.5" r="1.8" fill="#fff" stroke="#ff66ff" stroke-width="1.1"/>
<circle cx="156.8" cy="255.6" r="1.8" fill="#fff" stroke="#ff66ff" stroke-width="1.1"/>
<circle cx="160.5" cy="247.7" r="1.8" fill="#fff" stroke="#ff66ff" stroke-width="1.1"/>
<circle cx="164.2" cy="243.2" r="1.8" fill="#fff" stroke="#ff66ff" stroke-width="1.1"/>
<circle cx="168.0" cy="240.8" r="1.8" fill="#fff" stroke="#ff66ff" stroke-width="1.1"/>
<circle cx="171.8" cy="240.0" r="1.8" fill="#fff" stroke="#ff66ff" stroke-width="1.1"/>
<circle cx="175.5" cy="239.8" r="1.8" fill="#fff" stroke="#ff66ff" stroke-width="1.1"/>
<circle cx="179.3" cy="239.7" r="1.8" fill="#fff" stroke="#ff66ff" stroke-width="1.1"/>
<circle cx="183.0" cy="239.6" r="1.8" fill="#fff" stroke="#ff66ff" stroke-width="1.1"/>
<circle cx="186.8" cy="239.5" r="1.8" fill="#fff" stroke="#ff66ff" stroke-width="1.1"/>
<circle cx="190.5" cy="239.5" r="1.8" fill="#fff" stroke="#ff66ff" stroke-width="1.1"/>
<circle cx="194.3" cy="239.4" r="1.8" fill="#fff" stroke="#ff66ff" stroke-width="1.1"/>
<circle cx="198.0" cy="239.4" r="1.8" fill="#fff" stroke="#ff66ff" stroke-width="1.1"/>
<circle cx="201.8" cy="239.4" r="1.8" fill="#fff" stroke="#ff66ff" stroke-width="1.1"/>
<circle cx="205.5" cy="239.4" r="1.8" fill="#fff" stroke="#ff66ff" stroke-width="1.1"/>
<circle cx="209.3" cy="239.4" r="1.8" fill="#fff" stroke="#ff66ff" stroke-width="1.1"/>
<circle cx="213.0" cy="239.4" r="1.8" fill="#fff" stroke="#ff66ff" stroke-width="1.1"/>
<circle cx="216.8" cy="241.2" r="1.8" fill="#fff" stroke="#ff66ff" stroke-width="1.1"/>
<circle cx="220.5" cy="259.2" r="1.8" fill="#fff" stroke="#ff66ff" stroke-width="1.1"/>
<circle cx="224.3" cy="280.8" r="1.8" fill="#fff" stroke="#ff66ff" stroke-width="1.1"/>
<circle cx="228.0" cy="298.9" r="1.8" fill="#fff" stroke="#ff66ff" stroke-width="1.1"/>
<circle cx="231.8" cy="307.8" r="1.8" fill="#fff" stroke="#ff66ff" stroke-width="1.1"/>
<circle cx="235.5" cy="313.5" r="1.8" fill="#fff" stroke="#ff66ff" stroke-width="1.1"/>
<circle cx="239.3" cy="315.2" r="1.8" fill="#fff" stroke="#ff66ff" stroke-width="1.1"/>
<circle cx="243.0" cy="315.3" r="1.8" fill="#fff" stroke="#ff66ff" stroke-width="1.1"/>
<circle cx="246.8" cy="315.3" r="1.8" fill="#fff" stroke="#ff66ff" stroke-width="1.1"/>
<circle cx="250.5" cy="315.3" r="1.8" fill="#fff" stroke="#ff66ff" stroke-width="1.1"/>
<circle cx="254.3" cy="315.3" r="1.8" fill="#fff" stroke="#ff66ff" stroke-width="1.1"/>
<circle cx="258.0" cy="315.3" r="1.8" fill="#fff" stroke="#ff66ff" stroke-width="1.1"/>
<circle cx="261.8" cy="315.3" r="1.8" fill="#fff" stroke="#ff66ff" stroke-width="1.1"/>
<circle cx="265.5" cy="315.3" r="1.8" fill="#fff" stroke="#ff66ff" stroke-width="1.1"/>
<circle cx="269.2" cy="315.3" r="1.8" fill="#fff" stroke="#ff66ff" stroke-width="1.1"/>
<path d="M41.40,315.30 L42.15,315.30 L42.90,315.30 L43.65,315.30 L44.40,315.30 L45.15,315.30 L45.90,315.30 L46.65,315.30 L47.40,315.30 L48.15,315.30 L48.90,315.30 L49.65,315.30 L50.40,315.30 L51.15,315.30 L51.90,315.30 L52.65,315.30 L53.40,315.30 L54.15,315.30 L54.90,315.30 L55.65,315.30 L56.40,315.30 L57.15,315.30 L57.90,315.30 L58.65,315.30 L59.40,315.30 L60.15,315.30 L60.90,315.30 L61.65,315.30 L62.40,315.30 L63.15,315.30 L63.90,315.30 L64.65,315.30 L65.40,315.30 L66.15,315.30 L66.90,315.30 L67.65,315.30 L68.40,315.30 L69.15,315.30 L69.90,315.30 L70.65,315.30 L71.40,315.30 L72.15,315.30 L72.90,315.30 L73.65,315.30 L74.40,315.30 L75.15,315.30 L75.90,315.30 L76.65,315.30 L77.40,315.30 L78.15,315.30 L78.90,315.30 L79.65,315.30 L80.40,315.30 L81.15,315.30 L81.90,315.30 L82.65,315.30 L83.40,315.30 L84.15,315.30 L84.90,315.30 L85.65,315.30 L86.40,315.30 L87.15,315.30 L87.90,315.30 L88.65,315.30 L89.40,315.30 L90.15,315.30 L90.90,315.30 L91.65,315.30 L92.40,315.30 L93.15,315.30 L93.90,315.30 L94.65,315.30 L95.40,315.30 L96.15,315.30 L96.90,315.30 L97.65,315.30 L98.40,315.30 L99.15,315.30 L99.90,315.30 L100.65,315.30 L101.40,315.30 L102.15,315.30 L102.90,315.30 L103.65,315.30 L104.40,315.30 L105.15,315.30 L105.90,315.30 L106.65,315.30 L107.40,315.30 L108.15,315.30 L108.90,315.30 L109.65,315.30 L110.40,315.30 L111.15,315.30 L111.90,315.30 L112.65,315.30 L113.40,315.30 L114.15,315.30 L114.90,315.30 L115.65,315.30 L116.40,315.30 L117.15,315.30 L117.90,315.30 L118.65,315.30 L119.40,315.30 L120.15,315.30 L120.90,315.30 L121.65,315.30 L122.40,315.30 L123.15,315.30 L123.90,315.30 L124.65,315.30 L125.40,315.30 L126.15,315.30 L126.90,315.30 L127.65,315.30 L128.40,315.30 L129.15,315.30 L129.90,315.30 L130.65,315.30 L131.40,315.30 L132.15,315.30 L132.90,315.30 L133.65,315.30 L134.40,315.30 L135.15,315.30 L135.90,315.30 L136.65,315.30 L137.40,315.30 L138.15,315.30 L138.90,315.30 L139.65,315.30 L140.40,315.30 L141.15,315.30 L141.90,315.30 L142.65,315.30 L143.40,315.30 L144.15,315.30 L144.90,315.11 L145.65,313.47 L146.40,310.86 L147.15,308.14 L147.90,305.24 L148.65,302.07 L149.40,299.44 L150.15,297.21 L150.90,295.12 L151.65,293.15 L152.40,291.32 L153.15,289.63 L153.90,288.03 L154.65,286.53 L155.40,285.15 L156.15,283.97 L156.90,283.01 L157.65,282.29 L158.40,281.62 L159.15,281.00 L159.90,280.42 L160.65,279.87 L161.40,279.36 L162.15,278.89 L162.90,278.45 L163.65,278.04 L164.40,277.67 L165.15,277.32 L165.90,277.01 L166.65,276.72 L167.40,276.46 L168.15,276.23 L168.90,276.03 L169.65,275.85 L170.40,275.69 L171.15,275.56 L171.90,275.45 L172.65,275.35 L173.40,275.27 L174.15,275.20 L174.90,275.14 L175.65,275.10 L176.40,275.06 L177.15,275.02 L177.90,275.00 L178.65,274.97 L179.40,274.94 L180.15,274.94 L180.90,274.94 L181.65,274.94 L182.40,274.94 L183.15,274.94 L183.90,274.94 L184.65,274.94 L185.40,274.94 L186.15,274.94 L186.90,274.94 L187.65,274.94 L188.40,274.94 L189.15,274.94 L189.90,274.94 L190.65,274.94 L191.40,274.94 L192.15,274.94 L192.90,274.94 L193.65,274.94 L194.40,274.94 L195.15,274.94 L195.90,274.94 L196.65,274.94 L197.40,274.94 L198.15,274.94 L198.90,274.94 L199.65,274.94 L200.40,274.94 L201.15,274.94 L201.90,274.94 L202.65,274.94 L203.40,274.94 L204.15,274.94 L204.90,274.94 L205.65,274.94 L206.40,274.94 L207.15,274.94 L207.90,274.94 L208.65,274.94 L209.40,274.94 L210.15,274.94 L210.90,274.94 L211.65,274.94 L212.40,274.94 L213.15,274.94 L213.90,274.94 L214.65,275.17 L215.40,276.90 L216.15,279.64 L216.90,282.64 L217.65,285.25 L218.40,287.85 L219.15,290.50 L219.90,293.07 L220.65,295.52 L221.40,297.91 L222.15,300.20 L222.90,302.35 L223.65,304.46 L224.40,306.50 L225.15,308.36 L225.90,309.93 L226.65,311.20 L227.40,312.29 L228.15,313.20 L228.90,314.00 L229.65,314.70 L230.40,315.12 L231.15,315.27 L231.90,315.30 L232.65,315.30 L233.40,315.30 L234.15,315.30 L234.90,315.30 L235.65,315.30 L236.40,315.30 L237.15,315.30 L237.90,315.30 L238.65,315.30 L239.40,315.30 L240.15,315.30 L240.90,315.30 L241.65,315.30 L242.40,315.30 L243.15,315.30 L243.90,315.30 L244.65,315.30 L245.40,315.30 L246.15,315.30 L246.90,315.30 L247.65,315.30 L248.40,315.30 L249.15,315.30 L249.90,315.30 L250.65,315.30 L251.40,315.30 L252.15,315.30 L252.90,315.30 L253.65,315.30 L254.40,315.30 L255.15,315.30 L255.90,315.30 L256.65,315.30 L257.40,315.30 L258.15,315.30 L258.90,315.30 L259.65,315.30 L260.40,315.30 L261.15,315.30 L261.90,315.30 L262.65,315.30 L263.40,315.30 L264.15,315.30 L264.90,315.30 L265.65,315.30 L266.40,315.30 L267.15,315.30 L267.90,315.30 L268.65,315.30 L269.40,315.30 L270.15,315.30 L270.90,315.30 L271.65,315.30 L272.40,315.30" fill="none" stroke="#1a66ff" stroke-width="1.8"/>
<path d="M44.25,313.30 L46.15,316.60 L42.35,316.60Z" fill="#fff" stroke="#1a66ff" stroke-width="0.9"/>
<path d="M48.00,313.30 L49.90,316.60 L46.10,316.60Z" fill="#fff" stroke="#1a66ff" stroke-width="0.9"/>
<path d="M51.75,313.30 L53.65,316.60 L49.85,316.60Z" fill="#fff" stroke="#1a66ff" stroke-width="0.9"/>
<path d="M55.50,313.30 L57.40,316.60 L53.60,316.60Z" fill="#fff" stroke="#1a66ff" stroke-width="0.9"/>
<path d="M59.25,313.30 L61.15,316.60 L57.35,316.60Z" fill="#fff" stroke="#1a66ff" stroke-width="0.9"/>
<path d="M63.00,313.30 L64.90,316.60 L61.10,316.60Z" fill="#fff" stroke="#1a66ff" stroke-width="0.9"/>
<path d="M66.75,313.30 L68.65,316.60 L64.85,316.60Z" fill="#fff" stroke="#1a66ff" stroke-width="0.9"/>
<path d="M70.50,313.30 L72.40,316.60 L68.60,316.60Z" fill="#fff" stroke="#1a66ff" stroke-width="0.9"/>
<path d="M74.25,313.30 L76.15,316.60 L72.35,316.60Z" fill="#fff" stroke="#1a66ff" stroke-width="0.9"/>
<path d="M78.00,313.30 L79.90,316.60 L76.10,316.60Z" fill="#fff" stroke="#1a66ff" stroke-width="0.9"/>
<path d="M81.75,313.30 L83.65,316.60 L79.85,316.60Z" fill="#fff" stroke="#1a66ff" stroke-width="0.9"/>
<path d="M85.50,313.30 L87.40,316.60 L83.60,316.60Z" fill="#fff" stroke="#1a66ff" stroke-width="0.9"/>
<path d="M89.25,313.30 L91.15,316.60 L87.35,316.60Z" fill="#fff" stroke="#1a66ff" stroke-width="0.9"/>
<path d="M93.00,313.30 L94.90,316.60 L91.10,316.60Z" fill="#fff" stroke="#1a66ff" stroke-width="0.9"/>
<path d="M96.75,313.30 L98.65,316.60 L94.85,316.60Z" fill="#fff" stroke="#1a66ff" stroke-width="0.9"/>
<path d="M100.50,313.30 L102.40,316.60 L98.60,316.60Z" fill="#fff" stroke="#1a66ff" stroke-width="0.9"/>
<path d="M104.25,313.30 L106.15,316.60 L102.35,316.60Z" fill="#fff" stroke="#1a66ff" stroke-width="0.9"/>
<path d="M108.00,313.30 L109.90,316.60 L106.10,316.60Z" fill="#fff" stroke="#1a66ff" stroke-width="0.9"/>
<path d="M111.75,313.30 L113.65,316.60 L109.85,316.60Z" fill="#fff" stroke="#1a66ff" stroke-width="0.9"/>
<path d="M115.50,313.30 L117.40,316.60 L113.60,316.60Z" fill="#fff" stroke="#1a66ff" stroke-width="0.9"/>
<path d="M119.25,313.30 L121.15,316.60 L117.35,316.60Z" fill="#fff" stroke="#1a66ff" stroke-width="0.9"/>
<path d="M123.00,313.30 L124.90,316.60 L121.10,316.60Z" fill="#fff" stroke="#1a66ff" stroke-width="0.9"/>
<path d="M126.75,313.30 L128.65,316.60 L124.85,316.60Z" fill="#fff" stroke="#1a66ff" stroke-width="0.9"/>
<path d="M130.50,313.30 L132.40,316.60 L128.60,316.60Z" fill="#fff" stroke="#1a66ff" stroke-width="0.9"/>
<path d="M134.25,313.30 L136.15,316.60 L132.35,316.60Z" fill="#fff" stroke="#1a66ff" stroke-width="0.9"/>
<path d="M138.00,313.30 L139.90,316.60 L136.10,316.60Z" fill="#fff" stroke="#1a66ff" stroke-width="0.9"/>
<path d="M141.75,313.30 L143.65,316.60 L139.85,316.60Z" fill="#fff" stroke="#1a66ff" stroke-width="0.9"/>
<path d="M145.50,311.91 L147.40,315.21 L143.60,315.21Z" fill="#fff" stroke="#1a66ff" stroke-width="0.9"/>
<path d="M149.25,297.90 L151.15,301.20 L147.35,301.20Z" fill="#fff" stroke="#1a66ff" stroke-width="0.9"/>
<path d="M153.00,287.96 L154.90,291.26 L151.10,291.26Z" fill="#fff" stroke="#1a66ff" stroke-width="0.9"/>
<path d="M156.75,281.18 L158.65,284.48 L154.85,284.48Z" fill="#fff" stroke="#1a66ff" stroke-width="0.9"/>
<path d="M160.50,277.98 L162.40,281.28 L158.60,281.28Z" fill="#fff" stroke="#1a66ff" stroke-width="0.9"/>
<path d="M164.25,275.74 L166.15,279.04 L162.35,279.04Z" fill="#fff" stroke="#1a66ff" stroke-width="0.9"/>
<path d="M168.00,274.28 L169.90,277.58 L166.10,277.58Z" fill="#fff" stroke="#1a66ff" stroke-width="0.9"/>
<path d="M171.75,273.47 L173.65,276.77 L169.85,276.77Z" fill="#fff" stroke="#1a66ff" stroke-width="0.9"/>
<path d="M175.50,273.10 L177.40,276.40 L173.60,276.40Z" fill="#fff" stroke="#1a66ff" stroke-width="0.9"/>
<path d="M179.25,272.95 L181.15,276.25 L177.35,276.25Z" fill="#fff" stroke="#1a66ff" stroke-width="0.9"/>
<path d="M183.00,272.94 L184.90,276.24 L181.10,276.24Z" fill="#fff" stroke="#1a66ff" stroke-width="0.9"/>
<path d="M186.75,272.94 L188.65,276.24 L184.85,276.24Z" fill="#fff" stroke="#1a66ff" stroke-width="0.9"/>
<path d="M190.50,272.94 L192.40,276.24 L188.60,276.24Z" fill="#fff" stroke="#1a66ff" stroke-width="0.9"/>
<path d="M194.25,272.94 L196.15,276.24 L192.35,276.24Z" fill="#fff" stroke="#1a66ff" stroke-width="0.9"/>
<path d="M198.00,272.94 L199.90,276.24 L196.10,276.24Z" fill="#fff" stroke="#1a66ff" stroke-width="0.9"/>
<path d="M201.75,272.94 L203.65,276.24 L199.85,276.24Z" fill="#fff" stroke="#1a66ff" stroke-width="0.9"/>
<path d="M205.50,272.94 L207.40,276.24 L203.60,276.24Z" fill="#fff" stroke="#1a66ff" stroke-width="0.9"/>
<path d="M209.25,272.94 L211.15,276.24 L207.35,276.24Z" fill="#fff" stroke="#1a66ff" stroke-width="0.9"/>
<path d="M213.00,272.94 L214.90,276.24 L211.10,276.24Z" fill="#fff" stroke="#1a66ff" stroke-width="0.9"/>
<path d="M216.75,280.06 L218.65,283.36 L214.85,283.36Z" fill="#fff" stroke="#1a66ff" stroke-width="0.9"/>
<path d="M220.50,293.04 L222.40,296.34 L218.60,296.34Z" fill="#fff" stroke="#1a66ff" stroke-width="0.9"/>
<path d="M224.25,304.10 L226.15,307.40 L222.35,307.40Z" fill="#fff" stroke="#1a66ff" stroke-width="0.9"/>
<path d="M228.00,311.03 L229.90,314.33 L226.10,314.33Z" fill="#fff" stroke="#1a66ff" stroke-width="0.9"/>
<path d="M231.75,313.30 L233.65,316.60 L229.85,316.60Z" fill="#fff" stroke="#1a66ff" stroke-width="0.9"/>
<path d="M235.50,313.30 L237.40,316.60 L233.60,316.60Z" fill="#fff" stroke="#1a66ff" stroke-width="0.9"/>
<path d="M239.25,313.30 L241.15,316.60 L237.35,316.60Z" fill="#fff" stroke="#1a66ff" stroke-width="0.9"/>
<path d="M243.00,313.30 L244.90,316.60 L241.10,316.60Z" fill="#fff" stroke="#1a66ff" stroke-width="0.9"/>
<path d="M246.75,313.30 L248.65,316.60 L244.85,316.60Z" fill="#fff" stroke="#1a66ff" stroke-width="0.9"/>
<path d="M250.50,313.30 L252.40,316.60 L248.60,316.60Z" fill="#fff" stroke="#1a66ff" stroke-width="0.9"/>
<path d="M254.25,313.30 L256.15,316.60 L252.35,316.60Z" fill="#fff" stroke="#1a66ff" stroke-width="0.9"/>
<path d="M258.00,313.30 L259.90,316.60 L256.10,316.60Z" fill="#fff" stroke="#1a66ff" stroke-width="0.9"/>
<path d="M261.75,313.30 L263.65,316.60 L259.85,316.60Z" fill="#fff" stroke="#1a66ff" stroke-width="0.9"/>
<path d="M265.50,313.30 L267.40,316.60 L263.60,316.60Z" fill="#fff" stroke="#1a66ff" stroke-width="0.9"/>
<path d="M269.25,313.30 L271.15,316.60 L267.35,316.60Z" fill="#fff" stroke="#1a66ff" stroke-width="0.9"/>
<path d="M41.40,315.30 L42.15,315.30 L42.90,315.30 L43.65,315.30 L44.40,315.30 L45.15,315.30 L45.90,315.30 L46.65,315.30 L47.40,315.30 L48.15,315.30 L48.90,315.30 L49.65,315.30 L50.40,315.30 L51.15,315.30 L51.90,315.30 L52.65,315.30 L53.40,315.30 L54.15,315.30 L54.90,315.30 L55.65,315.30 L56.40,315.30 L57.15,315.30 L57.90,315.30 L58.65,315.30 L59.40,315.30 L60.15,315.30 L60.90,315.30 L61.65,315.30 L62.40,315.30 L63.15,315.30 L63.90,315.30 L64.65,315.30 L65.40,315.30 L66.15,315.30 L66.90,315.30 L67.65,315.30 L68.40,315.30 L69.15,315.30 L69.90,315.30 L70.65,315.30 L71.40,315.30 L72.15,315.30 L72.90,315.30 L73.65,315.30 L74.40,315.30 L75.15,315.30 L75.90,315.30 L76.65,315.30 L77.40,315.30 L78.15,315.30 L78.90,315.30 L79.65,315.30 L80.40,315.30 L81.15,315.30 L81.90,315.30 L82.65,315.30 L83.40,315.30 L84.15,315.30 L84.90,315.30 L85.65,315.30 L86.40,315.30 L87.15,315.30 L87.90,315.30 L88.65,315.30 L89.40,315.30 L90.15,315.30 L90.90,315.30 L91.65,315.30 L92.40,315.30 L93.15,315.30 L93.90,315.30 L94.65,315.30 L95.40,315.30 L96.15,315.30 L96.90,315.30 L97.65,315.30 L98.40,315.30 L99.15,315.30 L99.90,315.30 L100.65,315.30 L101.40,315.30 L102.15,315.30 L102.90,315.30 L103.65,315.30 L104.40,315.30 L105.15,315.30 L105.90,315.30 L106.65,315.30 L107.40,315.30 L108.15,315.30 L108.90,315.30 L109.65,315.30 L110.40,315.30 L111.15,315.30 L111.90,315.30 L112.65,315.30 L113.40,315.30 L114.15,315.30 L114.90,315.30 L115.65,315.30 L116.40,315.30 L117.15,315.30 L117.90,315.30 L118.65,315.30 L119.40,315.30 L120.15,315.30 L120.90,315.30 L121.65,315.30 L122.40,315.30 L123.15,315.30 L123.90,315.30 L124.65,315.30 L125.40,315.30 L126.15,315.30 L126.90,315.30 L127.65,315.30 L128.40,315.30 L129.15,315.30 L129.90,315.30 L130.65,315.30 L131.40,315.30 L132.15,315.30 L132.90,315.30 L133.65,315.30 L134.40,315.30 L135.15,315.30 L135.90,315.30 L136.65,315.30 L137.40,315.30 L138.15,315.30 L138.90,315.30 L139.65,315.30 L140.40,315.30 L141.15,315.30 L141.90,315.30 L142.65,315.30 L143.40,315.30 L144.15,315.30 L144.90,315.25 L145.65,314.84 L146.40,314.13 L147.15,313.23 L147.90,312.24 L148.65,311.31 L149.40,310.52 L150.15,309.87 L150.90,309.22 L151.65,308.59 L152.40,307.98 L153.15,307.39 L153.90,306.82 L154.65,306.27 L155.40,305.75 L156.15,305.25 L156.90,304.79 L157.65,304.34 L158.40,303.92 L159.15,303.52 L159.90,303.13 L160.65,302.76 L161.40,302.40 L162.15,302.06 L162.90,301.72 L163.65,301.40 L164.40,301.09 L165.15,300.79 L165.90,300.49 L166.65,300.21 L167.40,299.94 L168.15,299.67 L168.90,299.42 L169.65,299.17 L170.40,298.92 L171.15,298.67 L171.90,298.44 L172.65,298.21 L173.40,298.00 L174.15,297.81 L174.90,297.64 L175.65,297.50 L176.40,297.39 L177.15,297.30 L177.90,297.22 L178.65,297.14 L179.40,297.07 L180.15,297.01 L180.90,296.96 L181.65,296.91 L182.40,296.87 L183.15,296.83 L183.90,296.79 L184.65,296.76 L185.40,296.73 L186.15,296.71 L186.90,296.68 L187.65,296.66 L188.40,296.64 L189.15,296.62 L189.90,296.60 L190.65,296.58 L191.40,296.55 L192.15,296.53 L192.90,296.51 L193.65,296.49 L194.40,296.47 L195.15,296.45 L195.90,296.43 L196.65,296.41 L197.40,296.39 L198.15,296.38 L198.90,296.36 L199.65,296.35 L200.40,296.33 L201.15,296.32 L201.90,296.31 L202.65,296.29 L203.40,296.28 L204.15,296.27 L204.90,296.26 L205.65,296.25 L206.40,296.24 L207.15,296.24 L207.90,296.23 L208.65,296.22 L209.40,296.22 L210.15,296.21 L210.90,296.21 L211.65,296.20 L212.40,296.20 L213.15,296.20 L213.90,296.20 L214.65,296.20 L215.40,296.25 L216.15,296.61 L216.90,297.27 L217.65,298.15 L218.40,299.34 L219.15,300.92 L219.90,302.49 L220.65,303.81 L221.40,305.04 L222.15,306.24 L222.90,307.42 L223.65,308.62 L224.40,309.80 L225.15,310.87 L225.90,311.76 L226.65,312.54 L227.40,313.22 L228.15,313.80 L228.90,314.29 L229.65,314.69 L230.40,315.01 L231.15,315.22 L231.90,315.30 L232.65,315.30 L233.40,315.30 L234.15,315.30 L234.90,315.30 L235.65,315.30 L236.40,315.30 L237.15,315.30 L237.90,315.30 L238.65,315.30 L239.40,315.30 L240.15,315.30 L240.90,315.30 L241.65,315.30 L242.40,315.30 L243.15,315.30 L243.90,315.30 L244.65,315.30 L245.40,315.30 L246.15,315.30 L246.90,315.30 L247.65,315.30 L248.40,315.30 L249.15,315.30 L249.90,315.30 L250.65,315.30 L251.40,315.30 L252.15,315.30 L252.90,315.30 L253.65,315.30 L254.40,315.30 L255.15,315.30 L255.90,315.30 L256.65,315.30 L257.40,315.30 L258.15,315.30 L258.90,315.30 L259.65,315.30 L260.40,315.30 L261.15,315.30 L261.90,315.30 L262.65,315.30 L263.40,315.30 L264.15,315.30 L264.90,315.30 L265.65,315.30 L266.40,315.30 L267.15,315.30 L267.90,315.30 L268.65,315.30 L269.40,315.30 L270.15,315.30 L270.90,315.30 L271.65,315.30 L272.40,315.30" fill="none" stroke="#111111" stroke-width="1.8"/>
<path d="M44.25,313.30 L46.05,315.30 L44.25,317.30 L42.45,315.30Z" fill="#fff" stroke="#111111" stroke-width="0.9"/>
<path d="M48.00,313.30 L49.80,315.30 L48.00,317.30 L46.20,315.30Z" fill="#fff" stroke="#111111" stroke-width="0.9"/>
<path d="M51.75,313.30 L53.55,315.30 L51.75,317.30 L49.95,315.30Z" fill="#fff" stroke="#111111" stroke-width="0.9"/>
<path d="M55.50,313.30 L57.30,315.30 L55.50,317.30 L53.70,315.30Z" fill="#fff" stroke="#111111" stroke-width="0.9"/>
<path d="M59.25,313.30 L61.05,315.30 L59.25,317.30 L57.45,315.30Z" fill="#fff" stroke="#111111" stroke-width="0.9"/>
<path d="M63.00,313.30 L64.80,315.30 L63.00,317.30 L61.20,315.30Z" fill="#fff" stroke="#111111" stroke-width="0.9"/>
<path d="M66.75,313.30 L68.55,315.30 L66.75,317.30 L64.95,315.30Z" fill="#fff" stroke="#111111" stroke-width="0.9"/>
<path d="M70.50,313.30 L72.30,315.30 L70.50,317.30 L68.70,315.30Z" fill="#fff" stroke="#111111" stroke-width="0.9"/>
<path d="M74.25,313.30 L76.05,315.30 L74.25,317.30 L72.45,315.30Z" fill="#fff" stroke="#111111" stroke-width="0.9"/>
<path d="M78.00,313.30 L79.80,315.30 L78.00,317.30 L76.20,315.30Z" fill="#fff" stroke="#111111" stroke-width="0.9"/>
<path d="M81.75,313.30 L83.55,315.30 L81.75,317.30 L79.95,315.30Z" fill="#fff" stroke="#111111" stroke-width="0.9"/>
<path d="M85.50,313.30 L87.30,315.30 L85.50,317.30 L83.70,315.30Z" fill="#fff" stroke="#111111" stroke-width="0.9"/>
<path d="M89.25,313.30 L91.05,315.30 L89.25,317.30 L87.45,315.30Z" fill="#fff" stroke="#111111" stroke-width="0.9"/>
<path d="M93.00,313.30 L94.80,315.30 L93.00,317.30 L91.20,315.30Z" fill="#fff" stroke="#111111" stroke-width="0.9"/>
<path d="M96.75,313.30 L98.55,315.30 L96.75,317.30 L94.95,315.30Z" fill="#fff" stroke="#111111" stroke-width="0.9"/>
<path d="M100.50,313.30 L102.30,315.30 L100.50,317.30 L98.70,315.30Z" fill="#fff" stroke="#111111" stroke-width="0.9"/>
<path d="M104.25,313.30 L106.05,315.30 L104.25,317.30 L102.45,315.30Z" fill="#fff" stroke="#111111" stroke-width="0.9"/>
<path d="M108.00,313.30 L109.80,315.30 L108.00,317.30 L106.20,315.30Z" fill="#fff" stroke="#111111" stroke-width="0.9"/>
<path d="M111.75,313.30 L113.55,315.30 L111.75,317.30 L109.95,315.30Z" fill="#fff" stroke="#111111" stroke-width="0.9"/>
<path d="M115.50,313.30 L117.30,315.30 L115.50,317.30 L113.70,315.30Z" fill="#fff" stroke="#111111" stroke-width="0.9"/>
<path d="M119.25,313.30 L121.05,315.30 L119.25,317.30 L117.45,315.30Z" fill="#fff" stroke="#111111" stroke-width="0.9"/>
<path d="M123.00,313.30 L124.80,315.30 L123.00,317.30 L121.20,315.30Z" fill="#fff" stroke="#111111" stroke-width="0.9"/>
<path d="M126.75,313.30 L128.55,315.30 L126.75,317.30 L124.95,315.30Z" fill="#fff" stroke="#111111" stroke-width="0.9"/>
<path d="M130.50,313.30 L132.30,315.30 L130.50,317.30 L128.70,315.30Z" fill="#fff" stroke="#111111" stroke-width="0.9"/>
<path d="M134.25,313.30 L136.05,315.30 L134.25,317.30 L132.45,315.30Z" fill="#fff" stroke="#111111" stroke-width="0.9"/>
<path d="M138.00,313.30 L139.80,315.30 L138.00,317.30 L136.20,315.30Z" fill="#fff" stroke="#111111" stroke-width="0.9"/>
<path d="M141.75,313.30 L143.55,315.30 L141.75,317.30 L139.95,315.30Z" fill="#fff" stroke="#111111" stroke-width="0.9"/>
<path d="M145.50,312.95 L147.30,314.95 L145.50,316.95 L143.70,314.95Z" fill="#fff" stroke="#111111" stroke-width="0.9"/>
<path d="M149.25,308.66 L151.05,310.66 L149.25,312.66 L147.45,310.66Z" fill="#fff" stroke="#111111" stroke-width="0.9"/>
<path d="M153.00,305.50 L154.80,307.50 L153.00,309.50 L151.20,307.50Z" fill="#fff" stroke="#111111" stroke-width="0.9"/>
<path d="M156.75,302.88 L158.55,304.88 L156.75,306.88 L154.95,304.88Z" fill="#fff" stroke="#111111" stroke-width="0.9"/>
<path d="M160.50,300.84 L162.30,302.84 L160.50,304.84 L158.70,302.84Z" fill="#fff" stroke="#111111" stroke-width="0.9"/>
<path d="M164.25,299.15 L166.05,301.15 L164.25,303.15 L162.45,301.15Z" fill="#fff" stroke="#111111" stroke-width="0.9"/>
<path d="M168.00,297.73 L169.80,299.73 L168.00,301.73 L166.20,299.73Z" fill="#fff" stroke="#111111" stroke-width="0.9"/>
<path d="M171.75,296.48 L173.55,298.48 L171.75,300.48 L169.95,298.48Z" fill="#fff" stroke="#111111" stroke-width="0.9"/>
<path d="M175.50,295.53 L177.30,297.53 L175.50,299.53 L173.70,297.53Z" fill="#fff" stroke="#111111" stroke-width="0.9"/>
<path d="M179.25,295.09 L181.05,297.09 L179.25,299.09 L177.45,297.09Z" fill="#fff" stroke="#111111" stroke-width="0.9"/>
<path d="M183.00,294.83 L184.80,296.83 L183.00,298.83 L181.20,296.83Z" fill="#fff" stroke="#111111" stroke-width="0.9"/>
<path d="M186.75,294.69 L188.55,296.69 L186.75,298.69 L184.95,296.69Z" fill="#fff" stroke="#111111" stroke-width="0.9"/>
<path d="M190.50,294.58 L192.30,296.58 L190.50,298.58 L188.70,296.58Z" fill="#fff" stroke="#111111" stroke-width="0.9"/>
<path d="M194.25,294.47 L196.05,296.47 L194.25,298.47 L192.45,296.47Z" fill="#fff" stroke="#111111" stroke-width="0.9"/>
<path d="M198.00,294.38 L199.80,296.38 L198.00,298.38 L196.20,296.38Z" fill="#fff" stroke="#111111" stroke-width="0.9"/>
<path d="M201.75,294.31 L203.55,296.31 L201.75,298.31 L199.95,296.31Z" fill="#fff" stroke="#111111" stroke-width="0.9"/>
<path d="M205.50,294.25 L207.30,296.25 L205.50,298.25 L203.70,296.25Z" fill="#fff" stroke="#111111" stroke-width="0.9"/>
<path d="M209.25,294.22 L211.05,296.22 L209.25,298.22 L207.45,296.22Z" fill="#fff" stroke="#111111" stroke-width="0.9"/>
<path d="M213.00,294.20 L214.80,296.20 L213.00,298.20 L211.20,296.20Z" fill="#fff" stroke="#111111" stroke-width="0.9"/>
<path d="M216.75,295.12 L218.55,297.12 L216.75,299.12 L214.95,297.12Z" fill="#fff" stroke="#111111" stroke-width="0.9"/>
<path d="M220.50,301.55 L222.30,303.55 L220.50,305.55 L218.70,303.55Z" fill="#fff" stroke="#111111" stroke-width="0.9"/>
<path d="M224.25,307.57 L226.05,309.57 L224.25,311.57 L222.45,309.57Z" fill="#fff" stroke="#111111" stroke-width="0.9"/>
<path d="M228.00,311.70 L229.80,313.70 L228.00,315.70 L226.20,313.70Z" fill="#fff" stroke="#111111" stroke-width="0.9"/>
<path d="M231.75,313.29 L233.55,315.29 L231.75,317.29 L229.95,315.29Z" fill="#fff" stroke="#111111" stroke-width="0.9"/>
<path d="M235.50,313.30 L237.30,315.30 L235.50,317.30 L233.70,315.30Z" fill="#fff" stroke="#111111" stroke-width="0.9"/>
<path d="M239.25,313.30 L241.05,315.30 L239.25,317.30 L237.45,315.30Z" fill="#fff" stroke="#111111" stroke-width="0.9"/>
<path d="M243.00,313.30 L244.80,315.30 L243.00,317.30 L241.20,315.30Z" fill="#fff" stroke="#111111" stroke-width="0.9"/>
<path d="M246.75,313.30 L248.55,315.30 L246.75,317.30 L244.95,315.30Z" fill="#fff" stroke="#111111" stroke-width="0.9"/>
<path d="M250.50,313.30 L252.30,315.30 L250.50,317.30 L248.70,315.30Z" fill="#fff" stroke="#111111" stroke-width="0.9"/>
<path d="M254.25,313.30 L256.05,315.30 L254.25,317.30 L252.45,315.30Z" fill="#fff" stroke="#111111" stroke-width="0.9"/>
<path d="M258.00,313.30 L259.80,315.30 L258.00,317.30 L256.20,315.30Z" fill="#fff" stroke="#111111" stroke-width="0.9"/>
<path d="M261.75,313.30 L263.55,315.30 L261.75,317.30 L259.95,315.30Z" fill="#fff" stroke="#111111" stroke-width="0.9"/>
<path d="M265.50,313.30 L267.30,315.30 L265.50,317.30 L263.70,315.30Z" fill="#fff" stroke="#111111" stroke-width="0.9"/>
<path d="M269.25,313.30 L271.05,315.30 L269.25,317.30 L267.45,315.30Z" fill="#fff" stroke="#111111" stroke-width="0.9"/>
<path d="M41.40,315.30 L42.15,315.30 L42.90,315.30 L43.65,315.30 L44.40,315.30 L45.15,315.30 L45.90,315.30 L46.65,315.30 L47.40,315.30 L48.15,315.30 L48.90,315.30 L49.65,315.30 L50.40,315.30 L51.15,315.30 L51.90,315.30 L52.65,315.30 L53.40,315.30 L54.15,315.30 L54.90,315.30 L55.65,315.30 L56.40,315.30 L57.15,315.30 L57.90,315.30 L58.65,315.30 L59.40,315.30 L60.15,315.30 L60.90,315.30 L61.65,315.30 L62.40,315.30 L63.15,315.30 L63.90,315.30 L64.65,315.30 L65.40,315.30 L66.15,315.30 L66.90,315.30 L67.65,315.30 L68.40,315.30 L69.15,315.30 L69.90,315.30 L70.65,315.30 L71.40,315.30 L72.15,315.30 L72.90,315.30 L73.65,315.30 L74.40,315.30 L75.15,315.30 L75.90,315.30 L76.65,315.30 L77.40,315.30 L78.15,315.30 L78.90,315.30 L79.65,315.30 L80.40,315.30 L81.15,315.30 L81.90,315.30 L82.65,315.30 L83.40,315.30 L84.15,315.30 L84.90,315.30 L85.65,315.30 L86.40,315.30 L87.15,315.30 L87.90,315.30 L88.65,315.30 L89.40,315.30 L90.15,315.30 L90.90,315.30 L91.65,315.30 L92.40,315.30 L93.15,315.30 L93.90,315.30 L94.65,315.30 L95.40,315.30 L96.15,315.30 L96.90,315.30 L97.65,315.30 L98.40,315.30 L99.15,315.30 L99.90,315.30 L100.65,315.30 L101.40,315.30 L102.15,315.30 L102.90,315.30 L103.65,315.30 L104.40,315.30 L105.15,315.30 L105.90,315.30 L106.65,315.30 L107.40,315.30 L108.15,315.30 L108.90,315.30 L109.65,315.30 L110.40,315.30 L111.15,315.30 L111.90,315.30 L112.65,315.30 L113.40,315.30 L114.15,315.30 L114.90,315.30 L115.65,315.30 L116.40,315.30 L117.15,315.30 L117.90,315.30 L118.65,315.30 L119.40,315.30 L120.15,315.30 L120.90,315.30 L121.65,315.30 L122.40,315.30 L123.15,315.30 L123.90,315.30 L124.65,315.30 L125.40,315.30 L126.15,315.30 L126.90,315.30 L127.65,315.30 L128.40,315.30 L129.15,315.30 L129.90,315.30 L130.65,315.30 L131.40,315.30 L132.15,315.30 L132.90,315.30 L133.65,315.30 L134.40,315.30 L135.15,315.30 L135.90,315.30 L136.65,315.30 L137.40,315.30 L138.15,315.30 L138.90,315.30 L139.65,315.30 L140.40,315.30 L141.15,315.30 L141.90,315.30 L142.65,315.30 L143.40,315.30 L144.15,315.30 L144.90,315.23 L145.65,314.70 L146.40,313.77 L147.15,312.60 L147.90,311.36 L148.65,310.22 L149.40,309.33 L150.15,308.64 L150.90,308.00 L151.65,307.39 L152.40,306.83 L153.15,306.33 L153.90,305.88 L154.65,305.48 L155.40,305.15 L156.15,304.87 L156.90,304.63 L157.65,304.42 L158.40,304.24 L159.15,304.08 L159.90,303.95 L160.65,303.83 L161.40,303.73 L162.15,303.63 L162.90,303.54 L163.65,303.45 L164.40,303.36 L165.15,303.27 L165.90,303.19 L166.65,303.13 L167.40,303.07 L168.15,303.02 L168.90,302.98 L169.65,302.95 L170.40,302.92 L171.15,302.90 L171.90,302.89 L172.65,302.88 L173.40,302.88 L174.15,302.89 L174.90,302.90 L175.65,302.92 L176.40,302.96 L177.15,303.02 L177.90,303.11 L178.65,303.22 L179.40,303.36 L180.15,303.67 L180.90,304.16 L181.65,304.60 L182.40,304.79 L183.15,304.22 L183.90,303.23 L184.65,302.12 L185.40,301.21 L186.15,300.48 L186.90,299.75 L187.65,299.05 L188.40,298.44 L189.15,297.95 L189.90,297.63 L190.65,297.52 L191.40,297.43 L192.15,297.36 L192.90,297.31 L193.65,297.27 L194.40,297.24 L195.15,297.22 L195.90,297.20 L196.65,297.19 L197.40,297.18 L198.15,297.17 L198.90,297.15 L199.65,297.15 L200.40,297.15 L201.15,297.15 L201.90,297.15 L202.65,297.15 L203.40,297.15 L204.15,297.15 L204.90,297.15 L205.65,297.15 L206.40,297.15 L207.15,297.15 L207.90,297.15 L208.65,297.15 L209.40,297.15 L210.15,297.59 L210.90,298.43 L211.65,299.52 L212.40,300.73 L213.15,302.13 L213.90,303.76 L214.65,305.43 L215.40,306.94 L216.15,308.30 L216.90,309.58 L217.65,310.74 L218.40,311.72 L219.15,312.53 L219.90,313.23 L220.65,313.83 L221.40,314.35 L222.15,314.82 L222.90,315.14 L223.65,315.27 L224.40,315.30 L225.15,315.30 L225.90,315.30 L226.65,315.30 L227.40,315.30 L228.15,315.30 L228.90,315.30 L229.65,315.30 L230.40,315.30 L231.15,315.30 L231.90,315.30 L232.65,315.30 L233.40,315.30 L234.15,315.30 L234.90,315.30 L235.65,315.30 L236.40,315.30 L237.15,315.30 L237.90,315.30 L238.65,315.30 L239.40,315.30 L240.15,315.30 L240.90,315.30 L241.65,315.30 L242.40,315.30 L243.15,315.30 L243.90,315.30 L244.65,315.30 L245.40,315.30 L246.15,315.30 L246.90,315.30 L247.65,315.30 L248.40,315.30 L249.15,315.30 L249.90,315.30 L250.65,315.30 L251.40,315.30 L252.15,315.30 L252.90,315.30 L253.65,315.30 L254.40,315.30 L255.15,315.30 L255.90,315.30 L256.65,315.30 L257.40,315.30 L258.15,315.30 L258.90,315.30 L259.65,315.30 L260.40,315.30 L261.15,315.30 L261.90,315.30 L262.65,315.30 L263.40,315.30 L264.15,315.30 L264.90,315.30 L265.65,315.30 L266.40,315.30 L267.15,315.30 L267.90,315.30 L268.65,315.30 L269.40,315.30 L270.15,315.30 L270.90,315.30 L271.65,315.30 L272.40,315.30" fill="none" stroke="#ff8c1a" stroke-width="1.8"/>
<path d="M44.25,313.30 L46.15,316.60 L42.35,316.60Z" fill="#fff" stroke="#ff8c1a" stroke-width="0.9"/>
<path d="M48.00,313.30 L49.90,316.60 L46.10,316.60Z" fill="#fff" stroke="#ff8c1a" stroke-width="0.9"/>
<path d="M51.75,313.30 L53.65,316.60 L49.85,316.60Z" fill="#fff" stroke="#ff8c1a" stroke-width="0.9"/>
<path d="M55.50,313.30 L57.40,316.60 L53.60,316.60Z" fill="#fff" stroke="#ff8c1a" stroke-width="0.9"/>
<path d="M59.25,313.30 L61.15,316.60 L57.35,316.60Z" fill="#fff" stroke="#ff8c1a" stroke-width="0.9"/>
<path d="M63.00,313.30 L64.90,316.60 L61.10,316.60Z" fill="#fff" stroke="#ff8c1a" stroke-width="0.9"/>
<path d="M66.75,313.30 L68.65,316.60 L64.85,316.60Z" fill="#fff" stroke="#ff8c1a" stroke-width="0.9"/>
<path d="M70.50,313.30 L72.40,316.60 L68.60,316.60Z" fill="#fff" stroke="#ff8c1a" stroke-width="0.9"/>
<path d="M74.25,313.30 L76.15,316.60 L72.35,316.60Z" fill="#fff" stroke="#ff8c1a" stroke-width="0.9"/>
<path d="M78.00,313.30 L79.90,316.60 L76.10,316.60Z" fill="#fff" stroke="#ff8c1a" stroke-width="0.9"/>
<path d="M81.75,313.30 L83.65,316.60 L79.85,316.60Z" fill="#fff" stroke="#ff8c1a" stroke-width="0.9"/>
<path d="M85.50,313.30 L87.40,316.60 L83.60,316.60Z" fill="#fff" stroke="#ff8c1a" stroke-width="0.9"/>
<path d="M89.25,313.30 L91.15,316.60 L87.35,316.60Z" fill="#fff" stroke="#ff8c1a" stroke-width="0.9"/>
<path d="M93.00,313.30 L94.90,316.60 L91.10,316.60Z" fill="#fff" stroke="#ff8c1a" stroke-width="0.9"/>
<path d="M96.75,313.30 L98.65,316.60 L94.85,316.60Z" fill="#fff" stroke="#ff8c1a" stroke-width="0.9"/>
<path d="M100.50,313.30 L102.40,316.60 L98.60,316.60Z" fill="#fff" stroke="#ff8c1a" stroke-width="0.9"/>
<path d="M104.25,313.30 L106.15,316.60 L102.35,316.60Z" fill="#fff" stroke="#ff8c1a" stroke-width="0.9"/>
<path d="M108.00,313.30 L109.90,316.60 L106.10,316.60Z" fill="#fff" stroke="#ff8c1a" stroke-width="0.9"/>
<path d="M111.75,313.30 L113.65,316.60 L109.85,316.60Z" fill="#fff" stroke="#ff8c1a" stroke-width="0.9"/>
<path d="M115.50,313.30 L117.40,316.60 L113.60,316.60Z" fill="#fff" stroke="#ff8c1a" stroke-width="0.9"/>
<path d="M119.25,313.30 L121.15,316.60 L117.35,316.60Z" fill="#fff" stroke="#ff8c1a" stroke-width="0.9"/>
<path d="M123.00,313.30 L124.90,316.60 L121.10,316.60Z" fill="#fff" stroke="#ff8c1a" stroke-width="0.9"/>
<path d="M126.75,313.30 L128.65,316.60 L124.85,316.60Z" fill="#fff" stroke="#ff8c1a" stroke-width="0.9"/>
<path d="M130.50,313.30 L132.40,316.60 L128.60,316.60Z" fill="#fff" stroke="#ff8c1a" stroke-width="0.9"/>
<path d="M134.25,313.30 L136.15,316.60 L132.35,316.60Z" fill="#fff" stroke="#ff8c1a" stroke-width="0.9"/>
<path d="M138.00,313.30 L139.90,316.60 L136.10,316.60Z" fill="#fff" stroke="#ff8c1a" stroke-width="0.9"/>
<path d="M141.75,313.30 L143.65,316.60 L139.85,316.60Z" fill="#fff" stroke="#ff8c1a" stroke-width="0.9"/>
<path d="M145.50,312.85 L147.40,316.15 L143.60,316.15Z" fill="#fff" stroke="#ff8c1a" stroke-width="0.9"/>
<path d="M149.25,307.48 L151.15,310.78 L147.35,310.78Z" fill="#fff" stroke="#ff8c1a" stroke-width="0.9"/>
<path d="M153.00,304.42 L154.90,307.72 L151.10,307.72Z" fill="#fff" stroke="#ff8c1a" stroke-width="0.9"/>
<path d="M156.75,302.68 L158.65,305.98 L154.85,305.98Z" fill="#fff" stroke="#ff8c1a" stroke-width="0.9"/>
<path d="M160.50,301.85 L162.40,305.15 L158.60,305.15Z" fill="#fff" stroke="#ff8c1a" stroke-width="0.9"/>
<path d="M164.25,301.38 L166.15,304.68 L162.35,304.68Z" fill="#fff" stroke="#ff8c1a" stroke-width="0.9"/>
<path d="M168.00,301.03 L169.90,304.33 L166.10,304.33Z" fill="#fff" stroke="#ff8c1a" stroke-width="0.9"/>
<path d="M171.75,300.89 L173.65,304.19 L169.85,304.19Z" fill="#fff" stroke="#ff8c1a" stroke-width="0.9"/>
<path d="M175.50,300.92 L177.40,304.22 L173.60,304.22Z" fill="#fff" stroke="#ff8c1a" stroke-width="0.9"/>
<path d="M179.25,301.33 L181.15,304.63 L177.35,304.63Z" fill="#fff" stroke="#ff8c1a" stroke-width="0.9"/>
<path d="M183.00,302.37 L184.90,305.67 L181.10,305.67Z" fill="#fff" stroke="#ff8c1a" stroke-width="0.9"/>
<path d="M186.75,297.89 L188.65,301.19 L184.85,301.19Z" fill="#fff" stroke="#ff8c1a" stroke-width="0.9"/>
<path d="M190.50,295.54 L192.40,298.84 L188.60,298.84Z" fill="#fff" stroke="#ff8c1a" stroke-width="0.9"/>
<path d="M194.25,295.24 L196.15,298.54 L192.35,298.54Z" fill="#fff" stroke="#ff8c1a" stroke-width="0.9"/>
<path d="M198.00,295.17 L199.90,298.47 L196.10,298.47Z" fill="#fff" stroke="#ff8c1a" stroke-width="0.9"/>
<path d="M201.75,295.15 L203.65,298.45 L199.85,298.45Z" fill="#fff" stroke="#ff8c1a" stroke-width="0.9"/>
<path d="M205.50,295.15 L207.40,298.45 L203.60,298.45Z" fill="#fff" stroke="#ff8c1a" stroke-width="0.9"/>
<path d="M209.25,295.15 L211.15,298.45 L207.35,298.45Z" fill="#fff" stroke="#ff8c1a" stroke-width="0.9"/>
<path d="M213.00,299.83 L214.90,303.13 L211.10,303.13Z" fill="#fff" stroke="#ff8c1a" stroke-width="0.9"/>
<path d="M216.75,307.33 L218.65,310.63 L214.85,310.63Z" fill="#fff" stroke="#ff8c1a" stroke-width="0.9"/>
<path d="M220.50,311.71 L222.40,315.01 L218.60,315.01Z" fill="#fff" stroke="#ff8c1a" stroke-width="0.9"/>
<path d="M224.25,313.30 L226.15,316.60 L222.35,316.60Z" fill="#fff" stroke="#ff8c1a" stroke-width="0.9"/>
<path d="M228.00,313.30 L229.90,316.60 L226.10,316.60Z" fill="#fff" stroke="#ff8c1a" stroke-width="0.9"/>
<path d="M231.75,313.30 L233.65,316.60 L229.85,316.60Z" fill="#fff" stroke="#ff8c1a" stroke-width="0.9"/>
<path d="M235.50,313.30 L237.40,316.60 L233.60,316.60Z" fill="#fff" stroke="#ff8c1a" stroke-width="0.9"/>
<path d="M239.25,313.30 L241.15,316.60 L237.35,316.60Z" fill="#fff" stroke="#ff8c1a" stroke-width="0.9"/>
<path d="M243.00,313.30 L244.90,316.60 L241.10,316.60Z" fill="#fff" stroke="#ff8c1a" stroke-width="0.9"/>
<path d="M246.75,313.30 L248.65,316.60 L244.85,316.60Z" fill="#fff" stroke="#ff8c1a" stroke-width="0.9"/>
<path d="M250.50,313.30 L252.40,316.60 L248.60,316.60Z" fill="#fff" stroke="#ff8c1a" stroke-width="0.9"/>
<path d="M254.25,313.30 L256.15,316.60 L252.35,316.60Z" fill="#fff" stroke="#ff8c1a" stroke-width="0.9"/>
<path d="M258.00,313.30 L259.90,316.60 L256.10,316.60Z" fill="#fff" stroke="#ff8c1a" stroke-width="0.9"/>
<path d="M261.75,313.30 L263.65,316.60 L259.85,316.60Z" fill="#fff" stroke="#ff8c1a" stroke-width="0.9"/>
<path d="M265.50,313.30 L267.40,316.60 L263.60,316.60Z" fill="#fff" stroke="#ff8c1a" stroke-width="0.9"/>
<path d="M269.25,313.30 L271.15,316.60 L267.35,316.60Z" fill="#fff" stroke="#ff8c1a" stroke-width="0.9"/>
<path d="M41.40,315.30 L42.15,315.30 L42.90,315.30 L43.65,315.30 L44.40,315.30 L45.15,315.30 L45.90,315.30 L46.65,315.30 L47.40,315.30 L48.15,315.30 L48.90,315.30 L49.65,315.30 L50.40,315.30 L51.15,315.30 L51.90,315.30 L52.65,315.30 L53.40,315.30 L54.15,315.30 L54.90,315.30 L55.65,315.30 L56.40,315.30 L57.15,315.30 L57.90,315.30 L58.65,315.30 L59.40,315.30 L60.15,315.30 L60.90,315.30 L61.65,315.30 L62.40,315.30 L63.15,315.30 L63.90,315.30 L64.65,315.30 L65.40,315.30 L66.15,315.30 L66.90,315.30 L67.65,315.30 L68.40,315.30 L69.15,315.30 L69.90,315.30 L70.65,315.30 L71.40,315.30 L72.15,315.30 L72.90,315.30 L73.65,315.30 L74.40,315.30 L75.15,315.30 L75.90,315.30 L76.65,315.30 L77.40,315.30 L78.15,315.30 L78.90,315.30 L79.65,315.30 L80.40,315.30 L81.15,315.30 L81.90,315.30 L82.65,315.30 L83.40,315.30 L84.15,315.30 L84.90,315.30 L85.65,315.30 L86.40,315.30 L87.15,315.30 L87.90,315.30 L88.65,315.30 L89.40,315.30 L90.15,315.30 L90.90,315.30 L91.65,315.30 L92.40,315.30 L93.15,315.30 L93.90,315.30 L94.65,315.30 L95.40,315.30 L96.15,315.30 L96.90,315.30 L97.65,315.30 L98.40,315.30 L99.15,315.30 L99.90,315.30 L100.65,315.30 L101.40,315.30 L102.15,315.30 L102.90,315.30 L103.65,315.30 L104.40,315.30 L105.15,315.30 L105.90,315.30 L106.65,315.30 L107.40,315.30 L108.15,315.30 L108.90,315.30 L109.65,315.30 L110.40,315.30 L111.15,315.30 L111.90,315.30 L112.65,315.30 L113.40,315.30 L114.15,315.30 L114.90,315.30 L115.65,315.30 L116.40,315.30 L117.15,315.30 L117.90,315.30 L118.65,315.30 L119.40,315.30 L120.15,315.30 L120.90,315.30 L121.65,315.30 L122.40,315.30 L123.15,315.30 L123.90,315.30 L124.65,315.30 L125.40,315.30 L126.15,315.30 L126.90,315.30 L127.65,315.30 L128.40,315.30 L129.15,315.30 L129.90,315.30 L130.65,315.30 L131.40,315.30 L132.15,315.30 L132.90,315.30 L133.65,315.30 L134.40,315.30 L135.15,315.30 L135.90,315.30 L136.65,315.30 L137.40,315.30 L138.15,315.30 L138.90,315.30 L139.65,315.30 L140.40,315.30 L141.15,315.30 L141.90,315.30 L142.65,315.30 L143.40,315.30 L144.15,315.30 L144.90,315.27 L145.65,315.07 L146.40,314.70 L147.15,314.24 L147.90,313.75 L148.65,313.28 L149.40,312.91 L150.15,312.60 L150.90,312.29 L151.65,311.98 L152.40,311.69 L153.15,311.43 L153.90,311.20 L154.65,311.01 L155.40,310.88 L156.15,310.79 L156.90,310.71 L157.65,310.64 L158.40,310.58 L159.15,310.53 L159.90,310.49 L160.65,310.46 L161.40,310.43 L162.15,310.41 L162.90,310.39 L163.65,310.38 L164.40,310.37 L165.15,310.36 L165.90,310.35 L166.65,310.33 L167.40,310.32 L168.15,310.31 L168.90,310.29 L169.65,310.26 L170.40,310.24 L171.15,310.23 L171.90,310.21 L172.65,310.19 L173.40,310.18 L174.15,310.17 L174.90,310.15 L175.65,310.14 L176.40,310.13 L177.15,310.12 L177.90,310.11 L178.65,310.10 L179.40,310.09 L180.15,310.08 L180.90,310.07 L181.65,310.06 L182.40,310.05 L183.15,310.03 L183.90,310.02 L184.65,310.01 L185.40,309.99 L186.15,309.97 L186.90,309.96 L187.65,309.94 L188.40,309.91 L189.15,309.89 L189.90,309.87 L190.65,309.84 L191.40,309.81 L192.15,309.77 L192.90,309.73 L193.65,309.68 L194.40,309.62 L195.15,309.56 L195.90,309.49 L196.65,309.42 L197.40,309.35 L198.15,309.28 L198.90,309.21 L199.65,309.14 L200.40,309.08 L201.15,309.01 L201.90,308.95 L202.65,308.90 L203.40,308.85 L204.15,308.82 L204.90,308.79 L205.65,308.77 L206.40,308.75 L207.15,308.74 L207.90,308.74 L208.65,308.73 L209.40,308.73 L210.15,308.73 L210.90,309.19 L211.65,309.98 L212.40,310.90 L213.15,311.72 L213.90,312.43 L214.65,313.13 L215.40,313.78 L216.15,314.34 L216.90,314.82 L217.65,315.16 L218.40,315.30 L219.15,315.30 L219.90,315.30 L220.65,315.30 L221.40,315.30 L222.15,315.30 L222.90,315.30 L223.65,315.30 L224.40,315.30 L225.15,315.30 L225.90,315.30 L226.65,315.30 L227.40,315.30 L228.15,315.30 L228.90,315.30 L229.65,315.30 L230.40,315.30 L231.15,315.30 L231.90,315.30 L232.65,315.30 L233.40,315.30 L234.15,315.30 L234.90,315.30 L235.65,315.30 L236.40,315.30 L237.15,315.30 L237.90,315.30 L238.65,315.30 L239.40,315.30 L240.15,315.30 L240.90,315.30 L241.65,315.30 L242.40,315.30 L243.15,315.30 L243.90,315.30 L244.65,315.30 L245.40,315.30 L246.15,315.30 L246.90,315.30 L247.65,315.30 L248.40,315.30 L249.15,315.30 L249.90,315.30 L250.65,315.30 L251.40,315.30 L252.15,315.30 L252.90,315.30 L253.65,315.30 L254.40,315.30 L255.15,315.30 L255.90,315.30 L256.65,315.30 L257.40,315.30 L258.15,315.30 L258.90,315.30 L259.65,315.30 L260.40,315.30 L261.15,315.30 L261.90,315.30 L262.65,315.30 L263.40,315.30 L264.15,315.30 L264.90,315.30 L265.65,315.30 L266.40,315.30 L267.15,315.30 L267.90,315.30 L268.65,315.30 L269.40,315.30 L270.15,315.30 L270.90,315.30 L271.65,315.30 L272.40,315.30" fill="none" stroke="#1a8a1a" stroke-width="1.8"/>
<path d="M42.75,313.80 L45.75,316.80 M45.75,313.80 L42.75,316.80" stroke="#1a8a1a" stroke-width="1"/>
<path d="M46.50,313.80 L49.50,316.80 M49.50,313.80 L46.50,316.80" stroke="#1a8a1a" stroke-width="1"/>
<path d="M50.25,313.80 L53.25,316.80 M53.25,313.80 L50.25,316.80" stroke="#1a8a1a" stroke-width="1"/>
<path d="M54.00,313.80 L57.00,316.80 M57.00,313.80 L54.00,316.80" stroke="#1a8a1a" stroke-width="1"/>
<path d="M57.75,313.80 L60.75,316.80 M60.75,313.80 L57.75,316.80" stroke="#1a8a1a" stroke-width="1"/>
<path d="M61.50,313.80 L64.50,316.80 M64.50,313.80 L61.50,316.80" stroke="#1a8a1a" stroke-width="1"/>
<path d="M65.25,313.80 L68.25,316.80 M68.25,313.80 L65.25,316.80" stroke="#1a8a1a" stroke-width="1"/>
<path d="M69.00,313.80 L72.00,316.80 M72.00,313.80 L69.00,316.80" stroke="#1a8a1a" stroke-width="1"/>
<path d="M72.75,313.80 L75.75,316.80 M75.75,313.80 L72.75,316.80" stroke="#1a8a1a" stroke-width="1"/>
<path d="M76.50,313.80 L79.50,316.80 M79.50,313.80 L76.50,316.80" stroke="#1a8a1a" stroke-width="1"/>
<path d="M80.25,313.80 L83.25,316.80 M83.25,313.80 L80.25,316.80" stroke="#1a8a1a" stroke-width="1"/>
<path d="M84.00,313.80 L87.00,316.80 M87.00,313.80 L84.00,316.80" stroke="#1a8a1a" stroke-width="1"/>
<path d="M87.75,313.80 L90.75,316.80 M90.75,313.80 L87.75,316.80" stroke="#1a8a1a" stroke-width="1"/>
<path d="M91.50,313.80 L94.50,316.80 M94.50,313.80 L91.50,316.80" stroke="#1a8a1a" stroke-width="1"/>
<path d="M95.25,313.80 L98.25,316.80 M98.25,313.80 L95.25,316.80" stroke="#1a8a1a" stroke-width="1"/>
<path d="M99.00,313.80 L102.00,316.80 M102.00,313.80 L99.00,316.80" stroke="#1a8a1a" stroke-width="1"/>
<path d="M102.75,313.80 L105.75,316.80 M105.75,313.80 L102.75,316.80" stroke="#1a8a1a" stroke-width="1"/>
<path d="M106.50,313.80 L109.50,316.80 M109.50,313.80 L106.50,316.80" stroke="#1a8a1a" stroke-width="1"/>
<path d="M110.25,313.80 L113.25,316.80 M113.25,313.80 L110.25,316.80" stroke="#1a8a1a" stroke-width="1"/>
<path d="M114.00,313.80 L117.00,316.80 M117.00,313.80 L114.00,316.80" stroke="#1a8a1a" stroke-width="1"/>
<path d="M117.75,313.80 L120.75,316.80 M120.75,313.80 L117.75,316.80" stroke="#1a8a1a" stroke-width="1"/>
<path d="M121.50,313.80 L124.50,316.80 M124.50,313.80 L121.50,316.80" stroke="#1a8a1a" stroke-width="1"/>
<path d="M125.25,313.80 L128.25,316.80 M128.25,313.80 L125.25,316.80" stroke="#1a8a1a" stroke-width="1"/>
<path d="M129.00,313.80 L132.00,316.80 M132.00,313.80 L129.00,316.80" stroke="#1a8a1a" stroke-width="1"/>
<path d="M132.75,313.80 L135.75,316.80 M135.75,313.80 L132.75,316.80" stroke="#1a8a1a" stroke-width="1"/>
<path d="M136.50,313.80 L139.50,316.80 M139.50,313.80 L136.50,316.80" stroke="#1a8a1a" stroke-width="1"/>
<path d="M140.25,313.80 L143.25,316.80 M143.25,313.80 L140.25,316.80" stroke="#1a8a1a" stroke-width="1"/>
<path d="M144.00,313.62 L147.00,316.62 M147.00,313.62 L144.00,316.62" stroke="#1a8a1a" stroke-width="1"/>
<path d="M147.75,311.48 L150.75,314.48 M150.75,311.48 L147.75,314.48" stroke="#1a8a1a" stroke-width="1"/>
<path d="M151.50,309.98 L154.50,312.98 M154.50,309.98 L151.50,312.98" stroke="#1a8a1a" stroke-width="1"/>
<path d="M155.25,309.22 L158.25,312.22 M158.25,309.22 L155.25,312.22" stroke="#1a8a1a" stroke-width="1"/>
<path d="M159.00,308.96 L162.00,311.96 M162.00,308.96 L159.00,311.96" stroke="#1a8a1a" stroke-width="1"/>
<path d="M162.75,308.87 L165.75,311.87 M165.75,308.87 L162.75,311.87" stroke="#1a8a1a" stroke-width="1"/>
<path d="M166.50,308.81 L169.50,311.81 M169.50,308.81 L166.50,311.81" stroke="#1a8a1a" stroke-width="1"/>
<path d="M170.25,308.71 L173.25,311.71 M173.25,308.71 L170.25,311.71" stroke="#1a8a1a" stroke-width="1"/>
<path d="M174.00,308.64 L177.00,311.64 M177.00,308.64 L174.00,311.64" stroke="#1a8a1a" stroke-width="1"/>
<path d="M177.75,308.59 L180.75,311.59 M180.75,308.59 L177.75,311.59" stroke="#1a8a1a" stroke-width="1"/>
<path d="M181.50,308.54 L184.50,311.54 M184.50,308.54 L181.50,311.54" stroke="#1a8a1a" stroke-width="1"/>
<path d="M185.25,308.46 L188.25,311.46 M188.25,308.46 L185.25,311.46" stroke="#1a8a1a" stroke-width="1"/>
<path d="M189.00,308.34 L192.00,311.34 M192.00,308.34 L189.00,311.34" stroke="#1a8a1a" stroke-width="1"/>
<path d="M192.75,308.13 L195.75,311.13 M195.75,308.13 L192.75,311.13" stroke="#1a8a1a" stroke-width="1"/>
<path d="M196.50,307.80 L199.50,310.80 M199.50,307.80 L196.50,310.80" stroke="#1a8a1a" stroke-width="1"/>
<path d="M200.25,307.46 L203.25,310.46 M203.25,307.46 L200.25,310.46" stroke="#1a8a1a" stroke-width="1"/>
<path d="M204.00,307.27 L207.00,310.27 M207.00,307.27 L204.00,310.27" stroke="#1a8a1a" stroke-width="1"/>
<path d="M207.75,307.23 L210.75,310.23 M210.75,307.23 L207.75,310.23" stroke="#1a8a1a" stroke-width="1"/>
<path d="M211.50,310.07 L214.50,313.07 M214.50,310.07 L211.50,313.07" stroke="#1a8a1a" stroke-width="1"/>
<path d="M215.25,313.23 L218.25,316.23 M218.25,313.23 L215.25,316.23" stroke="#1a8a1a" stroke-width="1"/>
<path d="M219.00,313.80 L222.00,316.80 M222.00,313.80 L219.00,316.80" stroke="#1a8a1a" stroke-width="1"/>
<path d="M222.75,313.80 L225.75,316.80 M225.75,313.80 L222.75,316.80" stroke="#1a8a1a" stroke-width="1"/>
<path d="M226.50,313.80 L229.50,316.80 M229.50,313.80 L226.50,316.80" stroke="#1a8a1a" stroke-width="1"/>
<path d="M230.25,313.80 L233.25,316.80 M233.25,313.80 L230.25,316.80" stroke="#1a8a1a" stroke-width="1"/>
<path d="M234.00,313.80 L237.00,316.80 M237.00,313.80 L234.00,316.80" stroke="#1a8a1a" stroke-width="1"/>
<path d="M237.75,313.80 L240.75,316.80 M240.75,313.80 L237.75,316.80" stroke="#1a8a1a" stroke-width="1"/>
<path d="M241.50,313.80 L244.50,316.80 M244.50,313.80 L241.50,316.80" stroke="#1a8a1a" stroke-width="1"/>
<path d="M245.25,313.80 L248.25,316.80 M248.25,313.80 L245.25,316.80" stroke="#1a8a1a" stroke-width="1"/>
<path d="M249.00,313.80 L252.00,316.80 M252.00,313.80 L249.00,316.80" stroke="#1a8a1a" stroke-width="1"/>
<path d="M252.75,313.80 L255.75,316.80 M255.75,313.80 L252.75,316.80" stroke="#1a8a1a" stroke-width="1"/>
<path d="M256.50,313.80 L259.50,316.80 M259.50,313.80 L256.50,316.80" stroke="#1a8a1a" stroke-width="1"/>
<path d="M260.25,313.80 L263.25,316.80 M263.25,313.80 L260.25,316.80" stroke="#1a8a1a" stroke-width="1"/>
<path d="M264.00,313.80 L267.00,316.80 M267.00,313.80 L264.00,316.80" stroke="#1a8a1a" stroke-width="1"/>
<path d="M267.75,313.80 L270.75,316.80 M270.75,313.80 L267.75,316.80" stroke="#1a8a1a" stroke-width="1"/>
<path d="M41.40,314.94 L42.15,314.94 L42.90,314.94 L43.65,314.94 L44.40,314.94 L45.15,314.94 L45.90,314.94 L46.65,314.94 L47.40,314.94 L48.15,314.94 L48.90,314.94 L49.65,314.94 L50.40,314.94 L51.15,314.94 L51.90,314.94 L52.65,314.94 L53.40,314.94 L54.15,314.94 L54.90,314.94 L55.65,314.94 L56.40,314.94 L57.15,314.94 L57.90,314.94 L58.65,314.94 L59.40,314.94 L60.15,314.94 L60.90,314.94 L61.65,314.94 L62.40,314.94 L63.15,314.94 L63.90,314.94 L64.65,314.94 L65.40,314.94 L66.15,314.94 L66.90,314.94 L67.65,314.94 L68.40,314.94 L69.15,314.94 L69.90,314.94 L70.65,314.94 L71.40,314.94 L72.15,314.94 L72.90,314.94 L73.65,314.94 L74.40,314.94 L75.15,314.94 L75.90,314.94 L76.65,314.94 L77.40,314.94 L78.15,314.94 L78.90,314.94 L79.65,314.94 L80.40,314.94 L81.15,314.94 L81.90,314.94 L82.65,314.94 L83.40,314.94 L84.15,314.94 L84.90,314.94 L85.65,314.94 L86.40,314.94 L87.15,314.94 L87.90,314.94 L88.65,314.94 L89.40,314.94 L90.15,314.94 L90.90,314.94 L91.65,314.94 L92.40,314.94 L93.15,314.94 L93.90,314.94 L94.65,314.94 L95.40,314.94 L96.15,314.94 L96.90,314.94 L97.65,314.94 L98.40,314.94 L99.15,314.94 L99.90,314.94 L100.65,314.94 L101.40,314.94 L102.15,314.94 L102.90,314.94 L103.65,314.94 L104.40,314.94 L105.15,314.94 L105.90,314.94 L106.65,314.94 L107.40,314.94 L108.15,314.94 L108.90,314.94 L109.65,314.94 L110.40,314.94 L111.15,314.94 L111.90,314.94 L112.65,314.94 L113.40,314.94 L114.15,314.94 L114.90,314.94 L115.65,314.94 L116.40,314.94 L117.15,314.94 L117.90,314.94 L118.65,314.94 L119.40,314.94 L120.15,314.94 L120.90,314.94 L121.65,314.94 L122.40,314.94 L123.15,314.94 L123.90,314.94 L124.65,314.94 L125.40,314.94 L126.15,314.94 L126.90,314.94 L127.65,314.94 L128.40,314.94 L129.15,314.94 L129.90,314.94 L130.65,314.94 L131.40,314.94 L132.15,314.94 L132.90,314.94 L133.65,314.94 L134.40,314.94 L135.15,314.94 L135.90,314.94 L136.65,314.94 L137.40,314.94 L138.15,314.94 L138.90,314.94 L139.65,314.94 L140.40,314.94 L141.15,314.94 L141.90,314.94 L142.65,314.94 L143.40,314.94 L144.15,314.94 L144.90,314.94 L145.65,314.94 L146.40,314.94 L147.15,314.94 L147.90,314.94 L148.65,314.94 L149.40,314.94 L150.15,314.94 L150.90,314.94 L151.65,314.94 L152.40,314.94 L153.15,314.94 L153.90,314.94 L154.65,314.94 L155.40,314.94 L156.15,314.94 L156.90,314.94 L157.65,314.94 L158.40,314.94 L159.15,314.94 L159.90,314.94 L160.65,314.94 L161.40,314.94 L162.15,314.94 L162.90,314.94 L163.65,314.94 L164.40,314.94 L165.15,314.94 L165.90,314.94 L166.65,314.94 L167.40,314.94 L168.15,314.94 L168.90,314.94 L169.65,314.94 L170.40,314.94 L171.15,314.94 L171.90,314.94 L172.65,314.94 L173.40,314.94 L174.15,314.94 L174.90,314.94 L175.65,314.94 L176.40,314.94 L177.15,314.94 L177.90,314.94 L178.65,314.94 L179.40,314.94 L180.15,314.94 L180.90,314.94 L181.65,314.94 L182.40,314.94 L183.15,314.94 L183.90,314.94 L184.65,314.94 L185.40,314.94 L186.15,314.94 L186.90,314.94 L187.65,314.94 L188.40,314.94 L189.15,314.94 L189.90,314.94 L190.65,314.94 L191.40,314.94 L192.15,314.94 L192.90,314.94 L193.65,314.94 L194.40,314.94 L195.15,314.94 L195.90,314.94 L196.65,314.94 L197.40,314.94 L198.15,314.94 L198.90,314.94 L199.65,314.94 L200.40,314.94 L201.15,314.94 L201.90,314.94 L202.65,314.94 L203.40,314.94 L204.15,314.94 L204.90,314.94 L205.65,314.94 L206.40,314.94 L207.15,314.94 L207.90,314.94 L208.65,314.94 L209.40,314.94 L210.15,314.94 L210.90,314.94 L211.65,314.94 L212.40,314.94 L213.15,314.94 L213.90,314.94 L214.65,314.94 L215.40,314.94 L216.15,314.94 L216.90,314.94 L217.65,314.94 L218.40,314.94 L219.15,314.94 L219.90,314.94 L220.65,314.94 L221.40,314.94 L222.15,314.94 L222.90,314.94 L223.65,314.94 L224.40,314.94 L225.15,314.94 L225.90,314.94 L226.65,314.94 L227.40,314.94 L228.15,314.94 L228.90,314.94 L229.65,314.94 L230.40,314.94 L231.15,314.94 L231.90,314.94 L232.65,314.94 L233.40,314.94 L234.15,314.94 L234.90,314.94 L235.65,314.94 L236.40,314.94 L237.15,314.94 L237.90,314.94 L238.65,314.94 L239.40,314.94 L240.15,314.94 L240.90,314.94 L241.65,314.94 L242.40,314.94 L243.15,314.94 L243.90,314.94 L244.65,314.94 L245.40,314.94 L246.15,314.94 L246.90,314.94 L247.65,314.94 L248.40,314.94 L249.15,314.94 L249.90,314.94 L250.65,314.94 L251.40,314.94 L252.15,314.94 L252.90,314.94 L253.65,314.94 L254.40,314.94 L255.15,314.94 L255.90,314.94 L256.65,314.94 L257.40,314.94 L258.15,314.94 L258.90,314.94 L259.65,314.94 L260.40,314.94 L261.15,314.94 L261.90,314.94 L262.65,314.94 L263.40,314.94 L264.15,314.94 L264.90,314.94 L265.65,314.94 L266.40,314.94 L267.15,314.94 L267.90,314.94 L268.65,314.94 L269.40,314.94 L270.15,314.94 L270.90,314.94 L271.65,314.94 L272.40,314.94" fill="none" stroke="#800080" stroke-width="1.8"/>
<circle cx="44.25" cy="314.94" r="1.9" fill="#800080"/>
<circle cx="48.00" cy="314.94" r="1.9" fill="#800080"/>
<circle cx="51.75" cy="314.94" r="1.9" fill="#800080"/>
<circle cx="55.50" cy="314.94" r="1.9" fill="#800080"/>
<circle cx="59.25" cy="314.94" r="1.9" fill="#800080"/>
<circle cx="63.00" cy="314.94" r="1.9" fill="#800080"/>
<circle cx="66.75" cy="314.94" r="1.9" fill="#800080"/>
<circle cx="70.50" cy="314.94" r="1.9" fill="#800080"/>
<circle cx="74.25" cy="314.94" r="1.9" fill="#800080"/>
<circle cx="78.00" cy="314.94" r="1.9" fill="#800080"/>
<circle cx="81.75" cy="314.94" r="1.9" fill="#800080"/>
<circle cx="85.50" cy="314.94" r="1.9" fill="#800080"/>
<circle cx="89.25" cy="314.94" r="1.9" fill="#800080"/>
<circle cx="93.00" cy="314.94" r="1.9" fill="#800080"/>
<circle cx="96.75" cy="314.94" r="1.9" fill="#800080"/>
<circle cx="100.50" cy="314.94" r="1.9" fill="#800080"/>
<circle cx="104.25" cy="314.94" r="1.9" fill="#800080"/>
<circle cx="108.00" cy="314.94" r="1.9" fill="#800080"/>
<circle cx="111.75" cy="314.94" r="1.9" fill="#800080"/>
<circle cx="115.50" cy="314.94" r="1.9" fill="#800080"/>
<circle cx="119.25" cy="314.94" r="1.9" fill="#800080"/>
<circle cx="123.00" cy="314.94" r="1.9" fill="#800080"/>
<circle cx="126.75" cy="314.94" r="1.9" fill="#800080"/>
<circle cx="130.50" cy="314.94" r="1.9" fill="#800080"/>
<circle cx="134.25" cy="314.94" r="1.9" fill="#800080"/>
<circle cx="138.00" cy="314.94" r="1.9" fill="#800080"/>
<circle cx="141.75" cy="314.94" r="1.9" fill="#800080"/>
<circle cx="145.50" cy="314.94" r="1.9" fill="#800080"/>
<circle cx="149.25" cy="314.94" r="1.9" fill="#800080"/>
<circle cx="153.00" cy="314.94" r="1.9" fill="#800080"/>
<circle cx="156.75" cy="314.94" r="1.9" fill="#800080"/>
<circle cx="160.50" cy="314.94" r="1.9" fill="#800080"/>
<circle cx="164.25" cy="314.94" r="1.9" fill="#800080"/>
<circle cx="168.00" cy="314.94" r="1.9" fill="#800080"/>
<circle cx="171.75" cy="314.94" r="1.9" fill="#800080"/>
<circle cx="175.50" cy="314.94" r="1.9" fill="#800080"/>
<circle cx="179.25" cy="314.94" r="1.9" fill="#800080"/>
<circle cx="183.00" cy="314.94" r="1.9" fill="#800080"/>
<circle cx="186.75" cy="314.94" r="1.9" fill="#800080"/>
<circle cx="190.50" cy="314.94" r="1.9" fill="#800080"/>
<circle cx="194.25" cy="314.94" r="1.9" fill="#800080"/>
<circle cx="198.00" cy="314.94" r="1.9" fill="#800080"/>
<circle cx="201.75" cy="314.94" r="1.9" fill="#800080"/>
<circle cx="205.50" cy="314.94" r="1.9" fill="#800080"/>
<circle cx="209.25" cy="314.94" r="1.9" fill="#800080"/>
<circle cx="213.00" cy="314.94" r="1.9" fill="#800080"/>
<circle cx="216.75" cy="314.94" r="1.9" fill="#800080"/>
<circle cx="220.50" cy="314.94" r="1.9" fill="#800080"/>
<circle cx="224.25" cy="314.94" r="1.9" fill="#800080"/>
<circle cx="228.00" cy="314.94" r="1.9" fill="#800080"/>
<circle cx="231.75" cy="314.94" r="1.9" fill="#800080"/>
<circle cx="235.50" cy="314.94" r="1.9" fill="#800080"/>
<circle cx="239.25" cy="314.94" r="1.9" fill="#800080"/>
<circle cx="243.00" cy="314.94" r="1.9" fill="#800080"/>
<circle cx="246.75" cy="314.94" r="1.9" fill="#800080"/>
<circle cx="250.50" cy="314.94" r="1.9" fill="#800080"/>
<circle cx="254.25" cy="314.94" r="1.9" fill="#800080"/>
<circle cx="258.00" cy="314.94" r="1.9" fill="#800080"/>
<circle cx="261.75" cy="314.94" r="1.9" fill="#800080"/>
<circle cx="265.50" cy="314.94" r="1.9" fill="#800080"/>
<circle cx="269.25" cy="314.94" r="1.9" fill="#800080"/>
<rect x="41.4" y="190.0" width="231.29999999999998" height="137.3" fill="none" stroke="#2a2a2a" stroke-width="1.4"/>
<line x1="38.80" y1="327.24" x2="41.4" y2="327.24" stroke="#2a2a2a" stroke-width="1"/>
<line x1="39.90" y1="321.27" x2="41.4" y2="321.27" stroke="#2a2a2a" stroke-width="1"/>
<line x1="38.80" y1="315.30" x2="41.4" y2="315.30" stroke="#2a2a2a" stroke-width="1"/>
<line x1="39.90" y1="309.33" x2="41.4" y2="309.33" stroke="#2a2a2a" stroke-width="1"/>
<line x1="38.80" y1="303.36" x2="41.4" y2="303.36" stroke="#2a2a2a" stroke-width="1"/>
<line x1="39.90" y1="297.39" x2="41.4" y2="297.39" stroke="#2a2a2a" stroke-width="1"/>
<line x1="38.80" y1="291.42" x2="41.4" y2="291.42" stroke="#2a2a2a" stroke-width="1"/>
<line x1="39.90" y1="285.45" x2="41.4" y2="285.45" stroke="#2a2a2a" stroke-width="1"/>
<line x1="38.80" y1="279.48" x2="41.4" y2="279.48" stroke="#2a2a2a" stroke-width="1"/>
<line x1="39.90" y1="273.51" x2="41.4" y2="273.51" stroke="#2a2a2a" stroke-width="1"/>
<line x1="38.80" y1="267.54" x2="41.4" y2="267.54" stroke="#2a2a2a" stroke-width="1"/>
<line x1="39.90" y1="261.57" x2="41.4" y2="261.57" stroke="#2a2a2a" stroke-width="1"/>
<line x1="38.80" y1="255.60" x2="41.4" y2="255.60" stroke="#2a2a2a" stroke-width="1"/>
<line x1="39.90" y1="249.63" x2="41.4" y2="249.63" stroke="#2a2a2a" stroke-width="1"/>
<line x1="38.80" y1="243.66" x2="41.4" y2="243.66" stroke="#2a2a2a" stroke-width="1"/>
<line x1="39.90" y1="237.69" x2="41.4" y2="237.69" stroke="#2a2a2a" stroke-width="1"/>
<line x1="38.80" y1="231.72" x2="41.4" y2="231.72" stroke="#2a2a2a" stroke-width="1"/>
<line x1="39.90" y1="225.75" x2="41.4" y2="225.75" stroke="#2a2a2a" stroke-width="1"/>
<line x1="38.80" y1="219.78" x2="41.4" y2="219.78" stroke="#2a2a2a" stroke-width="1"/>
<line x1="39.90" y1="213.81" x2="41.4" y2="213.81" stroke="#2a2a2a" stroke-width="1"/>
<line x1="38.80" y1="207.84" x2="41.4" y2="207.84" stroke="#2a2a2a" stroke-width="1"/>
<line x1="39.90" y1="201.87" x2="41.4" y2="201.87" stroke="#2a2a2a" stroke-width="1"/>
<line x1="38.80" y1="195.90" x2="41.4" y2="195.90" stroke="#2a2a2a" stroke-width="1"/>
<text x="37.8" y="330.64" text-anchor="end" class="tk">-0.1</text>
<text x="37.8" y="318.70" text-anchor="end" class="tk">0.0</text>
<text x="37.8" y="306.76" text-anchor="end" class="tk">0.1</text>
<text x="37.8" y="294.82" text-anchor="end" class="tk">0.2</text>
<text x="37.8" y="282.88" text-anchor="end" class="tk">0.3</text>
<text x="37.8" y="270.94" text-anchor="end" class="tk">0.4</text>
<text x="37.8" y="259.00" text-anchor="end" class="tk">0.5</text>
<text x="37.8" y="247.06" text-anchor="end" class="tk">0.6</text>
<text x="37.8" y="235.12" text-anchor="end" class="tk">0.7</text>
<text x="37.8" y="223.18" text-anchor="end" class="tk">0.8</text>
<text x="37.8" y="211.24" text-anchor="end" class="tk">0.9</text>
<text x="37.8" y="199.30" text-anchor="end" class="tk">1.0</text>
<line x1="41.40" y1="327.3" x2="41.40" y2="329.90000000000003" stroke="#2a2a2a" stroke-width="1"/>
<text x="41.40" y="339.3" text-anchor="middle" class="tk">0</text>
<line x1="56.40" y1="327.3" x2="56.40" y2="328.8" stroke="#2a2a2a" stroke-width="1"/>
<line x1="71.40" y1="327.3" x2="71.40" y2="329.90000000000003" stroke="#2a2a2a" stroke-width="1"/>
<text x="71.40" y="339.3" text-anchor="middle" class="tk">20</text>
<line x1="86.40" y1="327.3" x2="86.40" y2="328.8" stroke="#2a2a2a" stroke-width="1"/>
<line x1="101.40" y1="327.3" x2="101.40" y2="329.90000000000003" stroke="#2a2a2a" stroke-width="1"/>
<text x="101.40" y="339.3" text-anchor="middle" class="tk">40</text>
<line x1="116.40" y1="327.3" x2="116.40" y2="328.8" stroke="#2a2a2a" stroke-width="1"/>
<line x1="131.40" y1="327.3" x2="131.40" y2="329.90000000000003" stroke="#2a2a2a" stroke-width="1"/>
<text x="131.40" y="339.3" text-anchor="middle" class="tk">60</text>
<line x1="146.40" y1="327.3" x2="146.40" y2="328.8" stroke="#2a2a2a" stroke-width="1"/>
<line x1="161.40" y1="327.3" x2="161.40" y2="329.90000000000003" stroke="#2a2a2a" stroke-width="1"/>
<text x="161.40" y="339.3" text-anchor="middle" class="tk">80</text>
<line x1="176.40" y1="327.3" x2="176.40" y2="328.8" stroke="#2a2a2a" stroke-width="1"/>
<line x1="191.40" y1="327.3" x2="191.40" y2="329.90000000000003" stroke="#2a2a2a" stroke-width="1"/>
<text x="191.40" y="339.3" text-anchor="middle" class="tk">100</text>
<line x1="206.40" y1="327.3" x2="206.40" y2="328.8" stroke="#2a2a2a" stroke-width="1"/>
<line x1="221.40" y1="327.3" x2="221.40" y2="329.90000000000003" stroke="#2a2a2a" stroke-width="1"/>
<text x="221.40" y="339.3" text-anchor="middle" class="tk">120</text>
<line x1="236.40" y1="327.3" x2="236.40" y2="328.8" stroke="#2a2a2a" stroke-width="1"/>
<line x1="251.40" y1="327.3" x2="251.40" y2="329.90000000000003" stroke="#2a2a2a" stroke-width="1"/>
<text x="251.40" y="339.3" text-anchor="middle" class="tk">140</text>
<line x1="266.40" y1="327.3" x2="266.40" y2="328.8" stroke="#2a2a2a" stroke-width="1"/>
<rect x="52.1" y="198.2" width="88.3" height="87.5" fill="#fff" stroke="#666" stroke-width="1.3" stroke-dasharray="4.5,4.4" stroke-dashoffset="5"/>
<line x1="58.3" y1="206.90" x2="80.2" y2="206.90" stroke="#ff1a1a" stroke-width="1.8"/>
<circle cx="69.7" cy="206.90" r="2.2" fill="#fff" stroke="#ff1a1a" stroke-width="1.1"/>
<text x="82" y="210.30" class="lg">7.9 mW, Act.</text>
<line x1="58.3" y1="218.65" x2="80.2" y2="218.65" stroke="#ff66ff" stroke-width="1.8"/>
<circle cx="69.7" cy="218.65" r="2.2" fill="#fff" stroke="#ff66ff" stroke-width="1.1"/>
<text x="82" y="222.05" class="lg">5.9 mW, Act.</text>
<line x1="58.3" y1="230.40" x2="80.2" y2="230.40" stroke="#1a66ff" stroke-width="1.8"/>
<path d="M69.70,227.90 L72.10,232.00 L67.30,232.00Z" fill="#fff" stroke="#1a66ff" stroke-width="1.1"/>
<text x="82" y="233.80" class="lg">4.2 mW, Act.</text>
<line x1="58.3" y1="242.15" x2="80.2" y2="242.15" stroke="#111111" stroke-width="1.8"/>
<path d="M69.70,239.75 L71.90,242.15 L69.70,244.55 L67.50,242.15Z" fill="#fff" stroke="#111111" stroke-width="1.1"/>
<text x="82" y="245.55" class="lg">2.7 mW, Act.</text>
<line x1="58.3" y1="253.90" x2="80.2" y2="253.90" stroke="#ff8c1a" stroke-width="1.8"/>
<path d="M69.70,251.40 L72.10,255.50 L67.30,255.50Z" fill="#fff" stroke="#ff8c1a" stroke-width="1.1"/>
<text x="82" y="257.30" class="lg">1.5 mW, Act.</text>
<line x1="58.3" y1="265.65" x2="80.2" y2="265.65" stroke="#1a8a1a" stroke-width="1.8"/>
<path d="M67.70,263.65 L71.70,267.65 M71.70,263.65 L67.70,267.65" stroke="#1a8a1a" stroke-width="1.2"/>
<text x="82" y="269.05" class="lg">0.7 mW, Act.</text>
<line x1="58.3" y1="277.40" x2="80.2" y2="277.40" stroke="#800080" stroke-width="1.8"/>
<circle cx="69.7" cy="277.40" r="2.3" fill="#800080"/>
<text x="82" y="280.80" class="lg">0.2 mW, Act.</text>
<text x="161.5" y="206.1" class="big">1% H<tspan class="sub" dy="2.6">2</tspan></text>
<text x="77.4" y="304.4" class="air">Air</text>
<text x="244" y="304.8" class="air">Air</text>
<path d="M247.9,218.2 L263.3,231.8 L254.1,231.8 L254.1,243.6 L241.6,243.6 L241.6,231.8 L232.4,231.8 Z" fill="#fff" stroke="#111" stroke-width="1.1" stroke-linejoin="miter"/>
<line x1="241.6" y1="239.8" x2="254.1" y2="239.8" stroke="#111" stroke-width="1"/>
<line x1="241.6" y1="241.8" x2="254.1" y2="241.8" stroke="#111" stroke-width="1"/>
<text x="245.8" y="254.6" text-anchor="middle" class="inc">Increasing</text>
<text x="246.5" y="266" text-anchor="middle" class="inc">Power</text>
<text x="141.5" y="351.6" class="axl"><tspan font-style="italic">t</tspan> [s]</text>
<text x="240.6" y="359.7" class="pl">(c)</text>
<text transform="translate(16.4,303) rotate(-90)" class="axl" style="font-size:15.8px"><tspan font-style="italic">ΔR/Ro</tspan> [%]</text>
<rect x="340.8" y="189.5" width="20.40" height="135.80" fill="#f4f5ea"/>
<rect x="382.3" y="189.5" width="21.20" height="135.80" fill="#f4f5ea"/>
<rect x="423.3" y="189.5" width="19.40" height="135.80" fill="#f4f5ea"/>
<rect x="463.5" y="189.5" width="20.10" height="135.80" fill="#f4f5ea"/>
<rect x="503.7" y="189.5" width="22.30" height="135.80" fill="#f4f5ea"/>
<path d="M314.80,304.50 L315.01,304.50 L315.21,304.50 L315.42,304.50 L315.62,304.49 L315.83,304.49 L316.04,304.49 L316.24,304.48 L316.45,304.47 L316.65,304.45 L316.86,304.43 L317.07,304.40 L317.27,304.36 L317.48,304.31 L317.69,304.25 L317.89,304.17 L318.10,304.08 L318.30,303.97 L318.51,303.85 L318.72,303.71 L318.92,303.57 L319.13,303.42 L319.33,303.27 L319.54,303.12 L319.75,302.99 L319.95,302.88 L320.16,302.80 L320.36,302.75 L320.57,302.73 L320.78,302.75 L320.98,302.80 L321.19,302.88 L321.40,302.99 L321.60,303.12 L321.81,303.27 L322.01,303.42 L322.22,303.57 L322.43,303.71 L322.63,303.85 L322.84,303.97 L323.04,304.08 L323.25,304.17 L323.46,304.25 L323.66,304.31 L323.87,304.36 L324.07,304.40 L324.28,304.43 L324.49,304.45 L324.69,304.47 L324.90,304.48 L325.11,304.49 L325.31,304.49 L325.52,304.49 L325.72,304.50 L325.93,304.50 L326.14,304.50 L326.34,304.50 L326.55,304.50 L326.75,304.50 L326.96,304.50 L327.17,304.50 L327.37,304.50 L327.58,304.50 L327.78,304.50 L327.99,304.50 L328.20,304.50 L328.40,304.50 L328.61,304.50 L328.81,304.50 L329.02,304.50 L329.23,304.50 L329.43,304.50 L329.64,304.50 L329.85,304.50 L330.05,304.50 L330.26,304.50 L330.46,304.50 L330.67,304.50 L330.88,304.50 L331.08,304.50 L331.29,304.50 L331.49,304.50 L331.70,304.50 L331.91,304.50 L332.11,304.50 L332.32,304.50 L332.52,304.50 L332.73,304.50 L332.94,304.50 L333.14,304.50 L333.35,304.50 L333.56,304.50 L333.76,304.50 L333.97,304.50 L334.17,304.50 L334.38,304.50 L334.59,304.50 L334.79,304.50 L335.00,304.50 L335.20,304.50 L335.41,304.50 L335.62,304.50 L335.82,304.50 L336.03,304.50 L336.23,304.50 L336.44,304.50 L336.65,304.50 L336.85,304.50 L337.06,304.50 L337.26,304.50 L337.47,304.50 L337.68,304.50 L337.88,304.50 L338.09,304.50 L338.30,304.50 L338.50,304.50 L338.71,304.50 L338.91,304.50 L339.12,304.50 L339.33,304.50 L339.53,304.50 L339.74,304.50 L339.94,304.50 L340.15,304.50 L340.36,304.50 L340.56,304.50 L340.77,304.50 L340.97,304.50 L341.18,304.50 L341.39,304.50 L341.59,304.50 L341.80,304.50 L342.01,304.50 L342.21,304.50 L342.42,304.50 L342.62,304.50 L342.83,304.50 L343.04,304.50 L343.24,304.50 L343.45,304.50 L343.65,304.50 L343.86,304.50 L344.07,304.50 L344.27,304.50 L344.48,304.50 L344.68,304.50 L344.89,304.50 L345.10,304.50 L345.30,304.50 L345.51,304.50 L345.72,304.50 L345.92,304.50 L346.13,304.50 L346.33,304.50 L346.54,304.50 L346.75,304.50 L346.95,304.50 L347.16,304.50 L347.36,304.50 L347.57,304.50 L347.78,304.50 L347.98,304.50 L348.19,304.50 L348.39,304.50 L348.60,304.50 L348.81,304.50 L349.01,304.50 L349.22,304.50 L349.42,304.50 L349.63,304.50 L349.84,304.50 L350.04,304.50 L350.25,304.50 L350.46,304.50 L350.66,304.50 L350.87,304.50 L351.07,304.50 L351.28,304.50 L351.49,304.50 L351.69,304.50 L351.90,304.50 L352.10,304.50 L352.31,304.50 L352.52,304.50 L352.72,304.50 L352.93,304.50 L353.13,304.50 L353.34,304.50 L353.55,304.50 L353.75,304.50 L353.96,304.50 L354.17,304.48 L354.37,304.44 L354.58,304.39 L354.78,304.33 L354.99,304.26 L355.20,304.18 L355.40,304.09 L355.61,303.99 L355.81,303.89 L356.02,303.78 L356.23,303.66 L356.43,303.53 L356.64,303.40 L356.84,303.26 L357.05,303.12 L357.26,302.96 L357.46,302.81 L357.67,302.65 L357.87,302.48 L358.08,302.31 L358.29,302.13 L358.49,301.94 L358.70,301.76 L358.91,301.56 L359.11,301.36 L359.32,301.16 L359.52,300.95 L359.73,300.74 L359.94,300.52 L360.14,300.30 L360.35,300.08 L360.55,299.85 L360.76,299.61 L360.97,299.37 L361.17,299.13 L361.38,299.34 L361.58,299.63 L361.79,299.94 L362.00,300.27 L362.20,300.60 L362.41,300.92 L362.62,301.23 L362.82,301.52 L363.03,301.80 L363.23,302.06 L363.44,302.30 L363.65,302.52 L363.85,302.73 L364.06,302.92 L364.26,303.09 L364.47,303.24 L364.68,303.39 L364.88,303.51 L365.09,303.63 L365.29,303.73 L365.50,303.82 L365.71,303.90 L365.91,303.98 L366.12,304.04 L366.32,304.10 L366.53,304.15 L366.74,304.20 L366.94,304.23 L367.15,304.27 L367.36,304.30 L367.56,304.33 L367.77,304.35 L367.97,304.37 L368.18,304.39 L368.39,304.40 L368.59,304.42 L368.80,304.43 L369.00,304.44 L369.21,304.45 L369.42,304.46 L369.62,304.46 L369.83,304.47 L370.03,304.47 L370.24,304.48 L370.45,304.48 L370.65,304.48 L370.86,304.49 L371.07,304.49 L371.27,304.49 L371.48,304.49 L371.68,304.49 L371.89,304.49 L372.10,304.49 L372.30,304.50 L372.51,304.50 L372.71,304.50 L372.92,304.50 L373.13,304.50 L373.33,304.50 L373.54,304.50 L373.74,304.50 L373.95,304.50 L374.16,304.50 L374.36,304.50 L374.57,304.50 L374.78,304.50 L374.98,304.50 L375.19,304.50 L375.39,304.50 L375.60,304.50 L375.81,304.50 L376.01,304.50 L376.22,304.50 L376.42,304.50 L376.63,304.50 L376.84,304.50 L377.04,304.50 L377.25,304.50 L377.45,304.50 L377.66,304.50 L377.87,304.50 L378.07,304.50 L378.28,304.50 L378.48,304.50 L378.69,304.50 L378.90,304.50 L379.10,304.50 L379.31,304.50 L379.52,304.50 L379.72,304.50 L379.93,304.50 L380.13,304.50 L380.34,304.50 L380.55,304.50 L380.75,304.50 L380.96,304.50 L381.16,304.50 L381.37,304.50 L381.58,304.50 L381.78,304.50 L381.99,304.50 L382.19,304.50 L382.40,304.50 L382.61,304.50 L382.81,304.50 L383.02,304.50 L383.23,304.50 L383.43,304.50 L383.64,304.50 L383.84,304.50 L384.05,304.50 L384.26,304.50 L384.46,304.50 L384.67,304.50 L384.87,304.50 L385.08,303.24 L385.29,302.11 L385.49,301.09 L385.70,300.18 L385.90,299.37 L386.11,298.64 L386.32,297.98 L386.52,297.39 L386.73,296.86 L386.94,296.39 L387.14,295.96 L387.35,295.58 L387.55,295.24 L387.76,294.93 L387.97,294.66 L388.17,294.41 L388.38,294.19 L388.58,293.99 L388.79,293.81 L389.00,293.65 L389.20,293.51 L389.41,293.38 L389.61,293.26 L389.82,293.16 L390.03,293.07 L390.23,292.99 L390.44,292.91 L390.64,292.84 L390.85,292.78 L391.06,292.73 L391.26,292.68 L391.47,292.64 L391.68,292.60 L391.88,292.56 L392.09,292.53 L392.29,292.50 L392.50,292.48 L392.71,292.46 L392.91,292.44 L393.12,292.42 L393.32,292.40 L393.53,292.39 L393.74,292.37 L393.94,292.36 L394.15,292.35 L394.35,292.34 L394.56,292.33 L394.77,292.33 L394.97,292.32 L395.18,292.31 L395.39,292.31 L395.59,292.30 L395.80,292.30 L396.00,292.29 L396.21,292.29 L396.42,292.29 L396.62,292.28 L396.83,292.28 L397.03,292.28 L397.24,292.28 L397.45,292.28 L397.65,292.27 L397.86,292.27 L398.06,292.27 L398.27,292.27 L398.48,292.27 L398.68,292.27 L398.89,292.27 L399.09,292.27 L399.30,292.27 L399.51,292.27 L399.71,292.26 L399.92,292.26 L400.13,292.26 L400.33,292.26 L400.54,292.26 L400.74,292.26 L400.95,292.26 L401.16,292.26 L401.36,292.26 L401.57,292.26 L401.77,292.26 L401.98,292.26 L402.19,292.26 L402.39,292.59 L402.60,293.05 L402.80,293.57 L403.01,294.12 L403.22,294.68 L403.42,295.24 L403.63,295.80 L403.84,296.35 L404.04,296.88 L404.25,297.39 L404.45,297.88 L404.66,298.35 L404.87,298.80 L405.07,299.22 L405.28,299.62 L405.48,300.00 L405.69,300.35 L405.90,300.68 L406.10,300.99 L406.31,301.28 L406.51,301.55 L406.72,301.80 L406.93,302.04 L407.13,302.25 L407.34,302.45 L407.55,302.63 L407.75,302.80 L407.96,302.96 L408.16,303.10 L408.37,303.23 L408.58,303.35 L408.78,303.46 L408.99,303.56 L409.19,303.65 L409.40,303.73 L409.61,303.81 L409.81,303.87 L410.02,303.94 L410.22,303.99 L410.43,304.04 L410.64,304.09 L410.84,304.13 L411.05,304.17 L411.25,304.20 L411.46,304.24 L411.67,304.26 L411.87,304.29 L412.08,304.31 L412.29,304.33 L412.49,304.35 L412.70,304.37 L412.90,304.38 L413.11,304.39 L413.32,304.41 L413.52,304.42 L413.73,304.43 L413.93,304.43 L414.14,304.44 L414.35,304.45 L414.55,304.45 L414.76,304.46 L414.96,304.46 L415.17,304.47 L415.38,304.47 L415.58,304.47 L415.79,304.48 L416.00,304.48 L416.20,304.48 L416.41,304.48 L416.61,304.49 L416.82,304.49 L417.03,304.49 L417.23,304.49 L417.44,304.49 L417.64,304.49 L417.85,304.49 L418.06,304.49 L418.26,304.50 L418.47,304.50 L418.67,304.50 L418.88,304.50 L419.09,304.50 L419.29,304.50 L419.50,304.50 L419.70,304.50 L419.91,304.50 L420.12,304.50 L420.32,304.50 L420.53,304.50 L420.74,304.50 L420.94,304.50 L421.15,304.50 L421.35,304.50 L421.56,304.50 L421.77,304.50 L421.97,304.50 L422.18,304.50 L422.38,304.50 L422.59,304.50 L422.80,304.50 L423.00,304.50 L423.21,304.50 L423.41,304.50 L423.62,304.50 L423.83,304.50 L424.03,304.50 L424.24,304.50 L424.45,304.50 L424.65,301.44 L424.86,298.69 L425.06,296.23 L425.27,294.02 L425.48,292.04 L425.68,290.26 L425.89,288.67 L426.09,287.24 L426.30,285.96 L426.51,284.81 L426.71,283.77 L426.92,282.85 L427.12,282.02 L427.33,281.27 L427.54,280.60 L427.74,280.00 L427.95,279.47 L428.16,278.98 L428.36,278.55 L428.57,278.16 L428.77,277.82 L428.98,277.50 L429.19,277.22 L429.39,276.97 L429.60,276.75 L429.80,276.54 L430.01,276.36 L430.22,276.20 L430.42,276.05 L430.63,275.92 L430.83,275.81 L431.04,275.70 L431.25,275.61 L431.45,275.52 L431.66,275.45 L431.86,275.38 L432.07,275.32 L432.28,275.26 L432.48,275.21 L432.69,275.17 L432.90,275.13 L433.10,275.09 L433.31,275.06 L433.51,275.03 L433.72,275.01 L433.93,274.98 L434.13,274.96 L434.34,274.95 L434.54,274.93 L434.75,274.91 L434.96,274.90 L435.16,274.89 L435.37,274.88 L435.57,274.87 L435.78,274.86 L435.99,274.85 L436.19,274.84 L436.40,274.84 L436.61,274.83 L436.81,274.83 L437.02,274.82 L437.22,274.82 L437.43,274.82 L437.64,274.81 L437.84,274.81 L438.05,274.81 L438.25,274.80 L438.46,274.80 L438.67,274.80 L438.87,274.80 L439.08,274.80 L439.28,274.80 L439.49,274.79 L439.70,274.79 L439.90,274.79 L440.11,274.79 L440.31,274.79 L440.52,274.79 L440.73,274.79 L440.93,274.79 L441.14,274.79 L441.35,274.79 L441.55,274.79 L441.76,274.79 L441.96,274.79 L442.17,274.79 L442.38,274.79 L442.58,274.79 L442.79,274.79 L442.99,274.79 L443.20,274.79 L443.41,275.58 L443.61,276.71 L443.82,277.97 L444.02,279.30 L444.23,280.66 L444.44,282.03 L444.64,283.38 L444.85,284.70 L445.06,285.99 L445.26,287.23 L445.47,288.43 L445.67,289.57 L445.88,290.65 L446.09,291.68 L446.29,292.65 L446.50,293.57 L446.70,294.43 L446.91,295.24 L447.12,295.99 L447.32,296.69 L447.53,297.35 L447.73,297.95 L447.94,298.52 L448.15,299.04 L448.35,299.52 L448.56,299.96 L448.76,300.37 L448.97,300.75 L449.18,301.10 L449.38,301.41 L449.59,301.70 L449.80,301.97 L450.00,302.21 L450.21,302.43 L450.41,302.63 L450.62,302.81 L450.83,302.98 L451.03,303.13 L451.24,303.27 L451.44,303.39 L451.65,303.51 L451.86,303.61 L452.06,303.70 L452.27,303.78 L452.47,303.86 L452.68,303.93 L452.89,303.99 L453.09,304.04 L453.30,304.09 L453.51,304.13 L453.71,304.17 L453.92,304.21 L454.12,304.24 L454.33,304.27 L454.54,304.30 L454.74,304.32 L454.95,304.34 L455.15,304.36 L455.36,304.37 L455.57,304.39 L455.77,304.40 L455.98,304.41 L456.18,304.42 L456.39,304.43 L456.60,304.44 L456.80,304.45 L457.01,304.45 L457.22,304.46 L457.42,304.46 L457.63,304.47 L457.83,304.47 L458.04,304.47 L458.25,304.48 L458.45,304.48 L458.66,304.48 L458.86,304.48 L459.07,304.49 L459.28,304.49 L459.48,304.49 L459.69,304.49 L459.89,304.49 L460.10,304.49 L460.31,304.49 L460.51,304.49 L460.72,304.50 L460.92,304.50 L461.13,304.50 L461.34,304.50 L461.54,304.50 L461.75,304.50 L461.96,304.50 L462.16,304.50 L462.37,304.50 L462.57,304.50 L462.78,304.50 L462.99,304.50 L463.19,304.50 L463.40,299.99 L463.60,295.83 L463.81,292.01 L464.02,288.50 L464.22,285.27 L464.43,282.29 L464.63,279.56 L464.84,277.04 L465.05,274.72 L465.25,272.59 L465.46,270.63 L465.67,268.82 L465.87,267.16 L466.08,265.64 L466.28,264.23 L466.49,262.94 L466.70,261.75 L466.90,260.65 L467.11,259.65 L467.31,258.72 L467.52,257.87 L467.73,257.08 L467.93,256.36 L468.14,255.70 L468.34,255.09 L468.55,254.53 L468.76,254.01 L468.96,253.53 L469.17,253.10 L469.38,252.69 L469.58,252.32 L469.79,251.98 L469.99,251.67 L470.20,251.38 L470.41,251.11 L470.61,250.87 L470.82,250.65 L471.02,250.44 L471.23,250.25 L471.44,250.07 L471.64,249.91 L471.85,249.76 L472.05,249.63 L472.26,249.50 L472.47,249.39 L472.67,249.28 L472.88,249.18 L473.08,249.09 L473.29,249.01 L473.50,248.94 L473.70,248.87 L473.91,248.80 L474.12,248.74 L474.32,248.69 L474.53,248.64 L474.73,248.59 L474.94,248.55 L475.15,248.51 L475.35,248.47 L475.56,248.44 L475.76,248.41 L475.97,248.38 L476.18,248.36 L476.38,248.33 L476.59,248.31 L476.79,248.29 L477.00,248.27 L477.21,248.26 L477.41,248.24 L477.62,248.23 L477.83,248.21 L478.03,248.20 L478.24,248.19 L478.44,248.18 L478.65,248.17 L478.86,248.16 L479.06,248.15 L479.27,248.14 L479.47,248.14 L479.68,248.13 L479.89,248.13 L480.09,248.12 L480.30,248.12 L480.50,248.11 L480.71,248.11 L480.92,248.10 L481.12,248.10 L481.33,248.10 L481.53,248.09 L481.74,248.09 L481.95,248.09 L482.15,248.09 L482.36,248.08 L482.57,248.08 L482.77,248.08 L482.98,248.08 L483.18,248.08 L483.39,248.08 L483.60,248.07 L483.80,248.07 L484.01,248.07 L484.21,248.07 L484.42,249.59 L484.63,251.73 L484.83,254.12 L485.04,256.65 L485.24,259.24 L485.45,261.83 L485.66,264.39 L485.86,266.91 L486.07,269.35 L486.28,271.71 L486.48,273.97 L486.69,276.14 L486.89,278.20 L487.10,280.15 L487.31,282.00 L487.51,283.74 L487.72,285.38 L487.92,286.91 L488.13,288.34 L488.34,289.67 L488.54,290.92 L488.75,292.07 L488.95,293.14 L489.16,294.13 L489.37,295.04 L489.57,295.89 L489.78,296.66 L489.99,297.38 L490.19,298.03 L490.40,298.64 L490.60,299.19 L490.81,299.69 L491.02,300.15 L491.22,300.57 L491.43,300.95 L491.63,301.30 L491.84,301.62 L492.05,301.90 L492.25,302.16 L492.46,302.40 L492.66,302.61 L492.87,302.81 L493.08,302.98 L493.28,303.14 L493.49,303.28 L493.69,303.41 L493.90,303.53 L494.11,303.63 L494.31,303.72 L494.52,303.81 L494.73,303.88 L494.93,303.95 L495.14,304.01 L495.34,304.06 L495.55,304.11 L495.76,304.15 L495.96,304.19 L496.17,304.23 L496.37,304.26 L496.58,304.29 L496.79,304.31 L496.99,304.33 L497.20,304.35 L497.40,304.37 L497.61,304.38 L497.82,304.40 L498.02,304.41 L498.23,304.42 L498.44,304.43 L498.64,304.44 L498.85,304.45 L499.05,304.45 L499.26,304.46 L499.47,304.46 L499.67,304.47 L499.88,304.47 L500.08,304.47 L500.29,304.48 L500.50,304.48 L500.70,304.48 L500.91,304.49 L501.11,304.49 L501.32,304.49 L501.53,304.49 L501.73,304.49 L501.94,304.49 L502.14,304.49 L502.35,304.49 L502.56,304.49 L502.76,304.50 L502.97,304.50 L503.18,304.50 L503.38,304.50 L503.59,304.50 L503.79,304.50 L504.00,304.50 L504.21,304.50 L504.41,304.50 L504.62,304.50 L504.82,304.50 L505.03,304.50 L505.24,304.50 L505.44,296.37 L505.65,288.93 L505.85,282.13 L506.06,275.91 L506.27,270.22 L506.47,265.02 L506.68,260.26 L506.89,255.90 L507.09,251.92 L507.30,248.28 L507.50,244.95 L507.71,241.91 L507.92,239.12 L508.12,236.58 L508.33,234.25 L508.53,232.11 L508.74,230.17 L508.95,228.38 L509.15,226.75 L509.36,225.26 L509.56,223.90 L509.77,222.65 L509.98,221.51 L510.18,220.47 L510.39,219.51 L510.60,218.64 L510.80,217.84 L511.01,217.11 L511.21,216.45 L511.42,215.84 L511.63,215.28 L511.83,214.77 L512.04,214.30 L512.24,213.87 L512.45,213.48 L512.66,213.13 L512.86,212.80 L513.07,212.50 L513.27,212.23 L513.48,211.98 L513.69,211.75 L513.89,211.54 L514.10,211.35 L514.30,211.17 L514.51,211.01 L514.72,210.87 L514.92,210.73 L515.13,210.61 L515.34,210.61 L515.54,210.61 L515.75,210.63 L515.95,210.65 L516.16,210.68 L516.37,210.72 L516.57,210.77 L516.78,210.82 L516.98,210.87 L517.19,210.93 L517.40,210.99 L517.60,211.06 L517.81,211.13 L518.01,211.21 L518.22,211.28 L518.43,211.36 L518.63,211.45 L518.84,211.53 L519.05,211.62 L519.25,211.71 L519.46,211.80 L519.66,211.89 L519.87,211.98 L520.08,212.08 L520.28,212.17 L520.49,212.27 L520.69,212.37 L520.90,212.47 L521.11,212.46 L521.31,212.45 L521.52,212.43 L521.72,212.42 L521.93,212.40 L522.14,212.37 L522.34,212.33 L522.55,212.27 L522.75,212.20 L522.96,212.10 L523.17,211.99 L523.37,211.87 L523.58,211.76 L523.79,211.66 L523.99,211.59 L524.20,211.57 L524.40,211.59 L524.61,211.65 L524.82,211.83 L525.02,212.02 L525.23,212.21 L525.43,212.40 L525.64,212.57 L525.85,212.72 L526.05,212.86 L526.26,212.97 L526.46,213.08 L526.67,213.17 L526.88,215.62 L527.08,219.09 L527.29,222.97 L527.50,227.06 L527.70,231.24 L527.91,235.43 L528.11,239.59 L528.32,243.65 L528.53,247.61 L528.73,251.43 L528.94,255.09 L529.14,258.60 L529.35,261.93 L529.56,265.10 L529.76,268.09 L529.97,270.90 L530.17,273.55 L530.38,276.03 L530.59,278.34 L530.79,280.50 L531.00,282.51 L531.21,284.38 L531.41,286.11 L531.62,287.72 L531.82,289.20 L532.03,290.56 L532.24,291.82 L532.44,292.97 L532.65,294.04 L532.85,295.01 L533.06,295.90 L533.27,296.72 L533.47,297.46 L533.68,298.14 L533.88,298.76 L534.09,299.32 L534.30,299.83 L534.50,300.30 L534.71,300.72 L534.91,301.10 L535.12,301.45 L535.33,301.76 L535.53,302.04 L535.74,302.30 L535.95,302.53 L536.15,302.74 L536.36,302.92 L536.56,303.09 L536.77,303.24 L536.98,303.38 L537.18,303.50 L537.39,303.61 L537.59,303.71 L537.80,303.79 L538.01,303.87 L538.21,303.94 L538.42,304.00 L538.62,304.06 L538.83,304.11 L539.04,304.15 L539.24,304.19 L539.45,304.23 L539.66,304.26 L539.86,304.29 L540.07,304.31 L540.27,304.33 L540.48,304.35 L540.69,304.37 L540.89,304.39 L541.10,304.40 L541.30,304.41 L541.51,304.42" fill="none" stroke="#ff3a26" stroke-width="1.7"/>
<path d="M314.80,304.91 L315.01,304.91 L315.21,304.91 L315.42,304.91 L315.62,304.91 L315.83,304.91 L316.04,304.91 L316.24,304.91 L316.45,304.91 L316.65,304.91 L316.86,304.91 L317.07,304.91 L317.27,304.91 L317.48,304.91 L317.69,304.91 L317.89,304.91 L318.10,304.91 L318.30,304.91 L318.51,304.91 L318.72,304.91 L318.92,304.91 L319.13,304.91 L319.33,304.91 L319.54,304.91 L319.75,304.91 L319.95,304.91 L320.16,304.91 L320.36,304.91 L320.57,304.91 L320.78,304.91 L320.98,304.91 L321.19,304.91 L321.40,304.91 L321.60,304.91 L321.81,304.91 L322.01,304.91 L322.22,304.91 L322.43,304.91 L322.63,304.91 L322.84,304.91 L323.04,304.91 L323.25,304.91 L323.46,304.91 L323.66,304.91 L323.87,304.91 L324.07,304.91 L324.28,304.91 L324.49,304.91 L324.69,304.91 L324.90,304.91 L325.11,304.91 L325.31,304.91 L325.52,304.91 L325.72,304.91 L325.93,304.91 L326.14,304.91 L326.34,304.91 L326.55,304.91 L326.75,304.91 L326.96,304.91 L327.17,304.91 L327.37,304.91 L327.58,304.91 L327.78,304.91 L327.99,304.91 L328.20,304.91 L328.40,304.91 L328.61,304.91 L328.81,304.91 L329.02,304.91 L329.23,304.91 L329.43,304.91 L329.64,304.91 L329.85,304.91 L330.05,304.91 L330.26,304.91 L330.46,304.91 L330.67,304.91 L330.88,304.91 L331.08,304.91 L331.29,304.91 L331.49,304.91 L331.70,304.91 L331.91,304.91 L332.11,304.91 L332.32,304.91 L332.52,304.91 L332.73,304.91 L332.94,304.91 L333.14,304.91 L333.35,304.91 L333.56,304.91 L333.76,304.91 L333.97,304.91 L334.17,304.91 L334.38,304.91 L334.59,304.91 L334.79,304.91 L335.00,304.91 L335.20,304.91 L335.41,304.91 L335.62,304.91 L335.82,304.91 L336.03,304.91 L336.23,304.91 L336.44,304.91 L336.65,304.91 L336.85,304.91 L337.06,304.91 L337.26,304.91 L337.47,304.91 L337.68,304.91 L337.88,304.91 L338.09,304.91 L338.30,304.91 L338.50,304.91 L338.71,304.91 L338.91,304.91 L339.12,304.91 L339.33,304.91 L339.53,304.91 L339.74,304.91 L339.94,304.91 L340.15,304.91 L340.36,304.91 L340.56,304.91 L340.77,304.91 L340.97,304.91 L341.18,304.91 L341.39,304.91 L341.59,304.91 L341.80,304.91 L342.01,304.91 L342.21,304.91 L342.42,304.91 L342.62,304.91 L342.83,304.91 L343.04,304.91 L343.24,304.91 L343.45,304.91 L343.65,304.91 L343.86,304.91 L344.07,304.91 L344.27,304.91 L344.48,304.91 L344.68,304.91 L344.89,304.91 L345.10,304.91 L345.30,304.91 L345.51,304.91 L345.72,304.91 L345.92,304.91 L346.13,304.91 L346.33,304.91 L346.54,304.91 L346.75,304.91 L346.95,304.91 L347.16,304.91 L347.36,304.91 L347.57,304.91 L347.78,304.91 L347.98,304.91 L348.19,304.91 L348.39,304.91 L348.60,304.91 L348.81,304.91 L349.01,304.91 L349.22,304.91 L349.42,304.91 L349.63,304.91 L349.84,304.91 L350.04,304.91 L350.25,304.91 L350.46,304.91 L350.66,304.91 L350.87,304.91 L351.07,304.91 L351.28,304.91 L351.49,304.91 L351.69,304.91 L351.90,304.91 L352.10,304.91 L352.31,304.91 L352.52,304.91 L352.72,304.91 L352.93,304.91 L353.13,304.91 L353.34,304.91 L353.55,304.91 L353.75,304.91 L353.96,304.91 L354.17,304.91 L354.37,304.91 L354.58,304.91 L354.78,304.91 L354.99,304.91 L355.20,304.91 L355.40,304.91 L355.61,304.91 L355.81,304.91 L356.02,304.91 L356.23,304.91 L356.43,304.91 L356.64,304.91 L356.84,304.91 L357.05,304.91 L357.26,304.91 L357.46,304.91 L357.67,304.91 L357.87,304.91 L358.08,304.91 L358.29,304.91 L358.49,304.91 L358.70,304.91 L358.91,304.91 L359.11,304.91 L359.32,304.91 L359.52,304.91 L359.73,304.91 L359.94,304.91 L360.14,304.91 L360.35,304.91 L360.55,304.91 L360.76,304.91 L360.97,304.91 L361.17,304.91 L361.38,304.91 L361.58,304.91 L361.79,304.91 L362.00,304.91 L362.20,304.91 L362.41,304.91 L362.62,304.91 L362.82,304.91 L363.03,304.91 L363.23,304.91 L363.44,304.91 L363.65,304.91 L363.85,304.91 L364.06,304.91 L364.26,304.91 L364.47,304.91 L364.68,304.91 L364.88,304.91 L365.09,304.91 L365.29,304.91 L365.50,304.91 L365.71,304.91 L365.91,304.91 L366.12,304.91 L366.32,304.91 L366.53,304.91 L366.74,304.91 L366.94,304.91 L367.15,304.91 L367.36,304.91 L367.56,304.91 L367.77,304.91 L367.97,304.91 L368.18,304.91 L368.39,304.91 L368.59,304.91 L368.80,304.91 L369.00,304.91 L369.21,304.91 L369.42,304.91 L369.62,304.91 L369.83,304.91 L370.03,304.91 L370.24,304.91 L370.45,304.91 L370.65,304.91 L370.86,304.91 L371.07,304.91 L371.27,304.91 L371.48,304.91 L371.68,304.91 L371.89,304.91 L372.10,304.91 L372.30,304.91 L372.51,304.91 L372.71,304.91 L372.92,304.91 L373.13,304.91 L373.33,304.91 L373.54,304.91 L373.74,304.91 L373.95,304.91 L374.16,304.91 L374.36,304.91 L374.57,304.91 L374.78,304.91 L374.98,304.91 L375.19,304.91 L375.39,304.91 L375.60,304.91 L375.81,304.91 L376.01,304.91 L376.22,304.91 L376.42,304.91 L376.63,304.91 L376.84,304.91 L377.04,304.91 L377.25,304.91 L377.45,304.91 L377.66,304.91 L377.87,304.91 L378.07,304.91 L378.28,304.91 L378.48,304.91 L378.69,304.91 L378.90,304.91 L379.10,304.91 L379.31,304.91 L379.52,304.91 L379.72,304.91 L379.93,304.91 L380.13,304.91 L380.34,304.91 L380.55,304.91 L380.75,304.91 L380.96,304.91 L381.16,304.91 L381.37,304.91 L381.58,304.91 L381.78,304.91 L381.99,304.91 L382.19,304.91 L382.40,304.91 L382.61,304.91 L382.81,304.91 L383.02,304.91 L383.23,304.91 L383.43,304.91 L383.64,304.91 L383.84,304.91 L384.05,304.91 L384.26,304.91 L384.46,304.91 L384.67,304.91 L384.87,304.91 L385.08,304.91 L385.29,304.93 L385.49,304.97 L385.70,305.01 L385.90,305.06 L386.11,305.12 L386.32,305.19 L386.52,305.26 L386.73,305.34 L386.94,305.42 L387.14,305.50 L387.35,305.59 L387.55,305.67 L387.76,305.76 L387.97,305.84 L388.17,305.92 L388.38,305.99 L388.58,306.06 L388.79,306.12 L389.00,306.17 L389.20,306.21 L389.41,306.24 L389.61,306.26 L389.82,306.27 L390.03,306.27 L390.23,306.27 L390.44,306.27 L390.64,306.27 L390.85,306.27 L391.06,306.27 L391.26,306.27 L391.47,306.27 L391.68,306.27 L391.88,306.27 L392.09,306.27 L392.29,306.27 L392.50,306.27 L392.71,306.27 L392.91,306.27 L393.12,306.27 L393.32,306.27 L393.53,306.27 L393.74,306.27 L393.94,306.27 L394.15,306.27 L394.35,306.27 L394.56,306.27 L394.77,306.27 L394.97,306.27 L395.18,306.27 L395.39,306.27 L395.59,306.27 L395.80,306.27 L396.00,306.27 L396.21,306.27 L396.42,306.27 L396.62,306.27 L396.83,306.27 L397.03,306.27 L397.24,306.27 L397.45,306.27 L397.65,306.27 L397.86,306.27 L398.06,306.27 L398.27,306.27 L398.48,306.27 L398.68,306.27 L398.89,306.27 L399.09,306.27 L399.30,306.27 L399.51,306.27 L399.71,306.27 L399.92,306.27 L400.13,306.27 L400.33,306.27 L400.54,306.27 L400.74,306.27 L400.95,306.27 L401.16,306.27 L401.36,306.27 L401.57,306.27 L401.77,306.27 L401.98,306.27 L402.19,306.27 L402.39,306.26 L402.60,306.25 L402.80,306.23 L403.01,306.20 L403.22,306.17 L403.42,306.13 L403.63,306.08 L403.84,306.03 L404.04,305.97 L404.25,305.92 L404.45,305.85 L404.66,305.79 L404.87,305.72 L405.07,305.66 L405.28,305.59 L405.48,305.52 L405.69,305.45 L405.90,305.39 L406.10,305.32 L406.31,305.26 L406.51,305.20 L406.72,305.15 L406.93,305.10 L407.13,305.05 L407.34,305.01 L407.55,304.97 L407.75,304.95 L407.96,304.93 L408.16,304.91 L408.37,304.91 L408.58,304.91 L408.78,304.91 L408.99,304.91 L409.19,304.91 L409.40,304.91 L409.61,304.91 L409.81,304.91 L410.02,304.91 L410.22,304.91 L410.43,304.91 L410.64,304.91 L410.84,304.91 L411.05,304.91 L411.25,304.91 L411.46,304.91 L411.67,304.91 L411.87,304.91 L412.08,304.91 L412.29,304.91 L412.49,304.91 L412.70,304.91 L412.90,304.91 L413.11,304.91 L413.32,304.91 L413.52,304.91 L413.73,304.91 L413.93,304.91 L414.14,304.91 L414.35,304.91 L414.55,304.91 L414.76,304.91 L414.96,304.91 L415.17,304.91 L415.38,304.91 L415.58,304.91 L415.79,304.91 L416.00,304.91 L416.20,304.91 L416.41,304.91 L416.61,304.91 L416.82,304.91 L417.03,304.91 L417.23,304.91 L417.44,304.91 L417.64,304.91 L417.85,304.91 L418.06,304.91 L418.26,304.91 L418.47,304.91 L418.67,304.91 L418.88,304.91 L419.09,304.91 L419.29,304.91 L419.50,304.91 L419.70,304.91 L419.91,304.91 L420.12,304.91 L420.32,304.91 L420.53,304.91 L420.74,304.91 L420.94,304.91 L421.15,304.91 L421.35,304.91 L421.56,304.91 L421.77,304.91 L421.97,304.91 L422.18,304.91 L422.38,304.91 L422.59,304.91 L422.80,304.91 L423.00,304.91 L423.21,304.91 L423.41,304.91 L423.62,304.91 L423.83,304.91 L424.03,304.91 L424.24,304.91 L424.45,304.91 L424.65,304.92 L424.86,304.96 L425.06,305.02 L425.27,305.11 L425.48,305.21 L425.68,305.33 L425.89,305.47 L426.09,305.61 L426.30,305.77 L426.51,305.93 L426.71,306.10 L426.92,306.27 L427.12,306.44 L427.33,306.60 L427.54,306.77 L427.74,306.92 L427.95,307.07 L428.16,307.20 L428.36,307.32 L428.57,307.43 L428.77,307.51 L428.98,307.57 L429.19,307.61 L429.39,307.63 L429.60,307.63 L429.80,307.63 L430.01,307.63 L430.22,307.63 L430.42,307.63 L430.63,307.63 L430.83,307.63 L431.04,307.63 L431.25,307.63 L431.45,307.63 L431.66,307.63 L431.86,307.63 L432.07,307.63 L432.28,307.63 L432.48,307.63 L432.69,307.63 L432.90,307.63 L433.10,307.63 L433.31,307.63 L433.51,307.63 L433.72,307.63 L433.93,307.63 L434.13,307.63 L434.34,307.63 L434.54,307.63 L434.75,307.63 L434.96,307.63 L435.16,307.63 L435.37,307.63 L435.57,307.63 L435.78,307.63 L435.99,307.63 L436.19,307.63 L436.40,307.63 L436.61,307.63 L436.81,307.63 L437.02,307.63 L437.22,307.63 L437.43,307.63 L437.64,307.63 L437.84,307.63 L438.05,307.63 L438.25,307.63 L438.46,307.63 L438.67,307.63 L438.87,307.63 L439.08,307.63 L439.28,307.63 L439.49,307.63 L439.70,307.63 L439.90,307.63 L440.11,307.63 L440.31,307.63 L440.52,307.63 L440.73,307.63 L440.93,307.63 L441.14,307.63 L441.35,307.63 L441.55,307.63 L441.76,307.63 L441.96,307.63 L442.17,307.63 L442.38,307.63 L442.58,307.63 L442.79,307.63 L442.99,307.63 L443.20,307.62 L443.41,307.59 L443.61,307.55 L443.82,307.50 L444.02,307.43 L444.23,307.35 L444.44,307.25 L444.64,307.15 L444.85,307.04 L445.06,306.92 L445.26,306.80 L445.47,306.67 L445.67,306.54 L445.88,306.40 L446.09,306.27 L446.29,306.13 L446.50,306.00 L446.70,305.87 L446.91,305.74 L447.12,305.61 L447.32,305.50 L447.53,305.39 L447.73,305.28 L447.94,305.19 L448.15,305.11 L448.35,305.04 L448.56,304.98 L448.76,304.94 L448.97,304.92 L449.18,304.91 L449.38,304.91 L449.59,304.91 L449.80,304.91 L450.00,304.91 L450.21,304.91 L450.41,304.91 L450.62,304.91 L450.83,304.91 L451.03,304.91 L451.24,304.91 L451.44,304.91 L451.65,304.91 L451.86,304.91 L452.06,304.91 L452.27,304.91 L452.47,304.91 L452.68,304.91 L452.89,304.91 L453.09,304.91 L453.30,304.91 L453.51,304.91 L453.71,304.91 L453.92,304.91 L454.12,304.91 L454.33,304.91 L454.54,304.91 L454.74,304.91 L454.95,304.91 L455.15,304.91 L455.36,304.91 L455.57,304.91 L455.77,304.91 L455.98,304.91 L456.18,304.91 L456.39,304.91 L456.60,304.91 L456.80,304.91 L457.01,304.91 L457.22,304.91 L457.42,304.91 L457.63,304.91 L457.83,304.91 L458.04,304.91 L458.25,304.91 L458.45,304.91 L458.66,304.91 L458.86,304.91 L459.07,304.91 L459.28,304.91 L459.48,304.91 L459.69,304.91 L459.89,304.91 L460.10,304.91 L460.31,304.91 L460.51,304.91 L460.72,304.91 L460.92,304.91 L461.13,304.91 L461.34,304.91 L461.54,304.91 L461.75,304.91 L461.96,304.91 L462.16,304.91 L462.37,304.91 L462.57,304.91 L462.78,304.91 L462.99,304.91 L463.19,304.91 L463.40,304.91 L463.60,304.94 L463.81,305.02 L464.02,305.14 L464.22,305.32 L464.43,305.53 L464.63,305.77 L464.84,306.04 L465.05,306.34 L465.25,306.65 L465.46,306.98 L465.67,307.32 L465.87,307.66 L466.08,308.01 L466.28,308.34 L466.49,308.67 L466.70,308.99 L466.90,309.28 L467.11,309.56 L467.31,309.80 L467.52,310.01 L467.73,310.18 L467.93,310.31 L468.14,310.39 L468.34,310.42 L468.55,310.42 L468.76,310.42 L468.96,310.42 L469.17,310.42 L469.38,310.42 L469.58,310.42 L469.79,310.42 L469.99,310.42 L470.20,310.42 L470.41,310.42 L470.61,310.42 L470.82,310.42 L471.02,310.42 L471.23,310.42 L471.44,310.42 L471.64,310.42 L471.85,310.42 L472.05,310.42 L472.26,310.42 L472.47,310.42 L472.67,310.42 L472.88,310.42 L473.08,310.42 L473.29,310.42 L473.50,310.42 L473.70,310.42 L473.91,310.42 L474.12,310.42 L474.32,310.42 L474.53,310.42 L474.73,310.42 L474.94,310.42 L475.15,310.42 L475.35,310.42 L475.56,310.42 L475.76,310.42 L475.97,310.42 L476.18,310.42 L476.38,310.42 L476.59,310.42 L476.79,310.42 L477.00,310.42 L477.21,310.42 L477.41,310.42 L477.62,310.42 L477.83,310.42 L478.03,310.42 L478.24,310.42 L478.44,310.42 L478.65,310.42 L478.86,310.42 L479.06,310.42 L479.27,310.42 L479.47,310.42 L479.68,310.42 L479.89,310.42 L480.09,310.42 L480.30,310.42 L480.50,310.42 L480.71,310.42 L480.92,310.42 L481.12,310.42 L481.33,310.42 L481.53,310.42 L481.74,310.42 L481.95,310.42 L482.15,310.42 L482.36,310.42 L482.57,310.42 L482.77,310.42 L482.98,310.42 L483.18,310.42 L483.39,310.42 L483.60,310.42 L483.80,310.42 L484.01,310.42 L484.21,310.40 L484.42,310.35 L484.63,310.26 L484.83,310.15 L485.04,310.01 L485.24,309.84 L485.45,309.66 L485.66,309.45 L485.86,309.23 L486.07,308.99 L486.28,308.74 L486.48,308.48 L486.69,308.21 L486.89,307.94 L487.10,307.66 L487.31,307.39 L487.51,307.11 L487.72,306.85 L487.92,306.59 L488.13,306.34 L488.34,306.10 L488.54,305.87 L488.75,305.67 L488.95,305.48 L489.16,305.32 L489.37,305.18 L489.57,305.06 L489.78,304.98 L489.99,304.93 L490.19,304.91 L490.40,304.91 L490.60,304.91 L490.81,304.91 L491.02,304.91 L491.22,304.91 L491.43,304.91 L491.63,304.91 L491.84,304.91 L492.05,304.91 L492.25,304.91 L492.46,304.91 L492.66,304.91 L492.87,304.91 L493.08,304.91 L493.28,304.91 L493.49,304.91 L493.69,304.91 L493.90,304.91 L494.11,304.91 L494.31,304.91 L494.52,304.91 L494.73,304.91 L494.93,304.91 L495.14,304.91 L495.34,304.91 L495.55,304.91 L495.76,304.91 L495.96,304.91 L496.17,304.91 L496.37,304.91 L496.58,304.91 L496.79,304.91 L496.99,304.91 L497.20,304.91 L497.40,304.91 L497.61,304.91 L497.82,304.91 L498.02,304.91 L498.23,304.91 L498.44,304.91 L498.64,304.91 L498.85,304.91 L499.05,304.91 L499.26,304.91 L499.47,304.91 L499.67,304.91 L499.88,304.91 L500.08,304.91 L500.29,304.91 L500.50,304.91 L500.70,304.91 L500.91,304.91 L501.11,304.91 L501.32,304.91 L501.53,304.91 L501.73,304.91 L501.94,304.91 L502.14,304.91 L502.35,304.91 L502.56,304.91 L502.76,304.91 L502.97,304.91 L503.18,304.91 L503.38,304.91 L503.59,304.91 L503.79,304.91 L504.00,304.91 L504.21,304.91 L504.41,304.91 L504.62,304.91 L504.82,304.95 L505.03,305.08 L505.24,305.29 L505.44,305.56 L505.65,305.90 L505.85,306.29 L506.06,306.73 L506.27,307.20 L506.47,307.71 L506.68,308.23 L506.89,308.78 L507.09,309.33 L507.30,309.88 L507.50,310.42 L507.71,310.95 L507.92,311.46 L508.12,311.93 L508.33,312.37 L508.53,312.76 L508.74,313.09 L508.95,313.37 L509.15,313.57 L509.36,313.70 L509.56,313.75 L509.77,313.75 L509.98,313.75 L510.18,313.75 L510.39,313.75 L510.60,313.75 L510.80,313.75 L511.01,313.75 L511.21,313.75 L511.42,313.75 L511.63,313.75 L511.83,313.75 L512.04,313.75 L512.24,313.75 L512.45,313.75 L512.66,313.75 L512.86,313.75 L513.07,313.75 L513.27,313.75 L513.48,313.75 L513.69,313.75 L513.89,313.75 L514.10,313.75 L514.30,313.75 L514.51,313.75 L514.72,313.75 L514.92,313.75 L515.13,313.75 L515.34,313.75 L515.54,313.75 L515.75,313.75 L515.95,313.75 L516.16,313.75 L516.37,313.75 L516.57,313.75 L516.78,313.75 L516.98,313.75 L517.19,313.75 L517.40,313.75 L517.60,313.75 L517.81,313.75 L518.01,313.75 L518.22,313.75 L518.43,313.75 L518.63,313.75 L518.84,313.75 L519.05,313.75 L519.25,313.75 L519.46,313.75 L519.66,313.75 L519.87,313.75 L520.08,313.75 L520.28,313.75 L520.49,313.75 L520.69,313.75 L520.90,313.75 L521.11,313.75 L521.31,313.75 L521.52,313.75 L521.72,313.75 L521.93,313.75 L522.14,313.75 L522.34,313.75 L522.55,313.75 L522.75,313.75 L522.96,313.75 L523.17,313.75 L523.37,313.75 L523.58,313.75 L523.79,313.75 L523.99,313.75 L524.20,313.75 L524.40,313.75 L524.61,313.75 L524.82,313.75 L525.02,313.75 L525.23,313.75 L525.43,313.75 L525.64,313.75 L525.85,313.75 L526.05,313.75 L526.26,313.75 L526.46,313.72 L526.67,313.64 L526.88,313.50 L527.08,313.32 L527.29,313.09 L527.50,312.83 L527.70,312.53 L527.91,312.20 L528.11,311.84 L528.32,311.46 L528.53,311.05 L528.73,310.64 L528.94,310.21 L529.14,309.77 L529.35,309.33 L529.56,308.89 L529.76,308.45 L529.97,308.02 L530.17,307.60 L530.38,307.20 L530.59,306.82 L530.79,306.46 L531.00,306.13 L531.21,305.83 L531.41,305.56 L531.62,305.34 L531.82,305.16 L532.03,305.02 L532.24,304.94 L532.44,304.91 L532.65,304.91 L532.85,304.91 L533.06,304.91 L533.27,304.91 L533.47,304.91 L533.68,304.91 L533.88,304.91 L534.09,304.91 L534.30,304.91 L534.50,304.91 L534.71,304.91 L534.91,304.91 L535.12,304.91 L535.33,304.91 L535.53,304.91 L535.74,304.91 L535.95,304.91 L536.15,304.91 L536.36,304.91 L536.56,304.91 L536.77,304.91 L536.98,304.91 L537.18,304.91 L537.39,304.91 L537.59,304.91 L537.80,304.91 L538.01,304.91 L538.21,304.91 L538.42,304.91 L538.62,304.91 L538.83,304.91 L539.04,304.91 L539.24,304.91 L539.45,304.91 L539.66,304.91 L539.86,304.91 L540.07,304.91 L540.27,304.91 L540.48,304.91 L540.69,304.91 L540.89,304.91 L541.10,304.91 L541.30,304.91 L541.51,304.91" fill="none" stroke="#1f78ea" stroke-width="2.0"/>
<rect x="314.8" y="189.5" width="228.40" height="135.80" fill="none" stroke="#2a2a2a" stroke-width="1.4"/>
<line x1="313.30" y1="324.90" x2="314.8" y2="324.90" stroke="#2a2a2a" stroke-width="1"/>
<line x1="312.20" y1="318.10" x2="314.8" y2="318.10" stroke="#2a2a2a" stroke-width="1"/>
<line x1="313.30" y1="311.30" x2="314.8" y2="311.30" stroke="#2a2a2a" stroke-width="1"/>
<line x1="312.20" y1="304.50" x2="314.8" y2="304.50" stroke="#2a2a2a" stroke-width="1"/>
<line x1="313.30" y1="297.70" x2="314.8" y2="297.70" stroke="#2a2a2a" stroke-width="1"/>
<line x1="312.20" y1="290.90" x2="314.8" y2="290.90" stroke="#2a2a2a" stroke-width="1"/>
<line x1="313.30" y1="284.10" x2="314.8" y2="284.10" stroke="#2a2a2a" stroke-width="1"/>
<line x1="312.20" y1="277.30" x2="314.8" y2="277.30" stroke="#2a2a2a" stroke-width="1"/>
<line x1="313.30" y1="270.50" x2="314.8" y2="270.50" stroke="#2a2a2a" stroke-width="1"/>
<line x1="312.20" y1="263.70" x2="314.8" y2="263.70" stroke="#2a2a2a" stroke-width="1"/>
<line x1="313.30" y1="256.90" x2="314.8" y2="256.90" stroke="#2a2a2a" stroke-width="1"/>
<line x1="312.20" y1="250.10" x2="314.8" y2="250.10" stroke="#2a2a2a" stroke-width="1"/>
<line x1="313.30" y1="243.30" x2="314.8" y2="243.30" stroke="#2a2a2a" stroke-width="1"/>
<line x1="312.20" y1="236.50" x2="314.8" y2="236.50" stroke="#2a2a2a" stroke-width="1"/>
<line x1="313.30" y1="229.70" x2="314.8" y2="229.70" stroke="#2a2a2a" stroke-width="1"/>
<line x1="312.20" y1="222.90" x2="314.8" y2="222.90" stroke="#2a2a2a" stroke-width="1"/>
<line x1="313.30" y1="216.10" x2="314.8" y2="216.10" stroke="#2a2a2a" stroke-width="1"/>
<line x1="312.20" y1="209.30" x2="314.8" y2="209.30" stroke="#2a2a2a" stroke-width="1"/>
<line x1="313.30" y1="202.50" x2="314.8" y2="202.50" stroke="#2a2a2a" stroke-width="1"/>
<line x1="312.20" y1="195.70" x2="314.8" y2="195.70" stroke="#2a2a2a" stroke-width="1"/>
<text x="311.3" y="199.10" text-anchor="end" class="tk">.6</text>
<text x="311.3" y="212.70" text-anchor="end" class="tk">.4</text>
<text x="311.3" y="226.30" text-anchor="end" class="tk">1.2</text>
<text x="311.3" y="239.90" text-anchor="end" class="tk">1.0</text>
<text x="311.3" y="253.50" text-anchor="end" class="tk">0.8</text>
<text x="311.3" y="267.10" text-anchor="end" class="tk">0.6</text>
<text x="311.3" y="280.70" text-anchor="end" class="tk">0.4</text>
<text x="311.3" y="294.30" text-anchor="end" class="tk">0.2</text>
<text x="311.3" y="307.90" text-anchor="end" class="tk">0.0</text>
<text x="311.3" y="321.50" text-anchor="end" class="tk">-0.2</text>
<line x1="314.80" y1="325.3" x2="314.80" y2="327.90000000000003" stroke="#2a2a2a" stroke-width="1"/>
<text x="314.80" y="337.3" text-anchor="middle" class="tk">0</text>
<line x1="325.11" y1="325.3" x2="325.11" y2="326.8" stroke="#2a2a2a" stroke-width="1"/>
<line x1="335.41" y1="325.3" x2="335.41" y2="327.90000000000003" stroke="#2a2a2a" stroke-width="1"/>
<text x="335.41" y="337.3" text-anchor="middle" class="tk">50</text>
<line x1="345.72" y1="325.3" x2="345.72" y2="326.8" stroke="#2a2a2a" stroke-width="1"/>
<line x1="356.02" y1="325.3" x2="356.02" y2="327.90000000000003" stroke="#2a2a2a" stroke-width="1"/>
<text x="356.02" y="337.3" text-anchor="middle" class="tk">100</text>
<line x1="366.32" y1="325.3" x2="366.32" y2="326.8" stroke="#2a2a2a" stroke-width="1"/>
<line x1="376.63" y1="325.3" x2="376.63" y2="327.90000000000003" stroke="#2a2a2a" stroke-width="1"/>
<text x="376.63" y="337.3" text-anchor="middle" class="tk">150</text>
<line x1="386.94" y1="325.3" x2="386.94" y2="326.8" stroke="#2a2a2a" stroke-width="1"/>
<line x1="397.24" y1="325.3" x2="397.24" y2="327.90000000000003" stroke="#2a2a2a" stroke-width="1"/>
<text x="397.24" y="337.3" text-anchor="middle" class="tk">200</text>
<line x1="407.55" y1="325.3" x2="407.55" y2="326.8" stroke="#2a2a2a" stroke-width="1"/>
<line x1="417.85" y1="325.3" x2="417.85" y2="327.90000000000003" stroke="#2a2a2a" stroke-width="1"/>
<text x="417.85" y="337.3" text-anchor="middle" class="tk">250</text>
<line x1="428.16" y1="325.3" x2="428.16" y2="326.8" stroke="#2a2a2a" stroke-width="1"/>
<line x1="438.46" y1="325.3" x2="438.46" y2="327.90000000000003" stroke="#2a2a2a" stroke-width="1"/>
<text x="438.46" y="337.3" text-anchor="middle" class="tk">300</text>
<line x1="448.76" y1="325.3" x2="448.76" y2="326.8" stroke="#2a2a2a" stroke-width="1"/>
<line x1="459.07" y1="325.3" x2="459.07" y2="327.90000000000003" stroke="#2a2a2a" stroke-width="1"/>
<text x="459.07" y="337.3" text-anchor="middle" class="tk">350</text>
<line x1="469.38" y1="325.3" x2="469.38" y2="326.8" stroke="#2a2a2a" stroke-width="1"/>
<line x1="479.68" y1="325.3" x2="479.68" y2="327.90000000000003" stroke="#2a2a2a" stroke-width="1"/>
<text x="479.68" y="337.3" text-anchor="middle" class="tk">400</text>
<line x1="489.99" y1="325.3" x2="489.99" y2="326.8" stroke="#2a2a2a" stroke-width="1"/>
<line x1="500.29" y1="325.3" x2="500.29" y2="327.90000000000003" stroke="#2a2a2a" stroke-width="1"/>
<text x="500.29" y="337.3" text-anchor="middle" class="tk">450</text>
<line x1="510.60" y1="325.3" x2="510.60" y2="326.8" stroke="#2a2a2a" stroke-width="1"/>
<line x1="520.90" y1="325.3" x2="520.90" y2="327.90000000000003" stroke="#2a2a2a" stroke-width="1"/>
<text x="520.90" y="337.3" text-anchor="middle" class="tk">500</text>
<line x1="531.21" y1="325.3" x2="531.21" y2="326.8" stroke="#2a2a2a" stroke-width="1"/>
<line x1="541.51" y1="325.3" x2="541.51" y2="327.90000000000003" stroke="#2a2a2a" stroke-width="1"/>
<text x="541.51" y="337.3" text-anchor="middle" class="tk">550</text>
<rect x="320.3" y="208.9" width="58.3" height="29.9" fill="#fff" stroke="#666" stroke-width="1.3" stroke-dasharray="4.5,4.4" stroke-dashoffset="2.3"/>
<line x1="327.1" y1="216.8" x2="349.6" y2="216.8" stroke="#ff3a26" stroke-width="1.8"/>
<line x1="327.1" y1="229.5" x2="349.6" y2="229.5" stroke="#1f78ea" stroke-width="1.8"/>
<text x="351.9" y="220.5" class="lg">Act.</text>
<text x="351.9" y="233.2" class="lg">Ref.</text>
<text x="330.5" y="291.5" class="hl">0.1% H<tspan class="sub" dy="2">2</tspan></text>
<text x="372.1" y="270.3" class="hl">0.2% H<tspan class="sub" dy="2">2</tspan></text>
<text x="413.7" y="248.6" class="hl">0.5% H<tspan class="sub" dy="2">2</tspan></text>
<text x="454.9" y="227.9" class="hl">1.0% H<tspan class="sub" dy="2">2</tspan></text>
<text x="498.9" y="206.4" class="hl">1.6% H<tspan class="sub" dy="2">2</tspan></text>
<text x="320" y="319.8" class="aird">Air</text>
<text x="363.7" y="319.8" class="aird">Air</text>
<text x="405" y="319.8" class="aird">Air</text>
<text x="445.7" y="319.8" class="aird">Air</text>
<text x="486.1" y="319.8" class="aird">Air</text>
<text x="527.5" y="319.8" class="aird">Air</text>
<text x="413.4" y="349" class="axl"><tspan font-style="italic">t</tspan> [s]</text>
<text x="518.2" y="359.7" class="pl">(d)</text>
<text transform="translate(290,301.4) rotate(-90)" class="axl" style="font-size:15.8px"><tspan font-style="italic">ΔR/Ro</tspan> [%]</text>
</svg>
</body></html>
